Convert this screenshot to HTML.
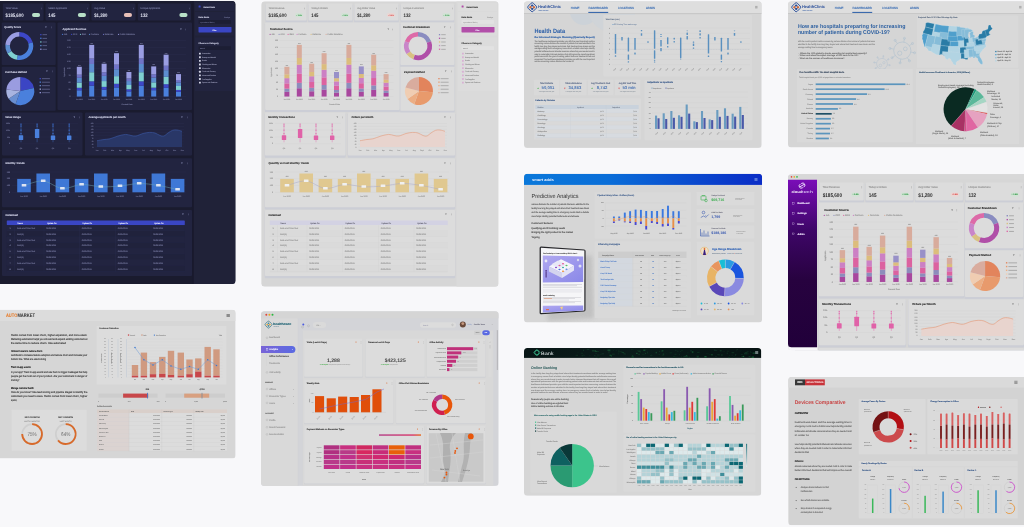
<!DOCTYPE html>
<html><head><meta charset="utf-8"><title>Dashboards</title>
<style>html,body{margin:0;padding:0;background:#f8f8fa;width:1024px;height:527px;overflow:hidden;position:relative}
svg{display:block;filter:blur(0.3px)}text{font-family:"Liberation Sans",sans-serif;text-rendering:geometricPrecision}</style></head><body>
<svg width="1032" height="535" viewBox="-4 -4 1032 535" style="position:absolute;left:-4px;top:-4px">
<rect x="-4" y="-4" width="1032" height="535" fill="#f8f8fa"/>
<clipPath id="cpd0"><rect x="-5" y="1" width="240.6" height="283" rx="3.5"/></clipPath>
<g transform="translate(0,0)" clip-path="url(#cpd0)">
<rect x="-5" y="1" width="240.6" height="283" fill="#1a1b2e" rx="3.5"/>
<rect x="2.8" y="3.6" width="40.8" height="16.8" fill="#222440" rx="1"/>
<text x="5.6" y="9.2" font-size="2.48" fill="#6e7196" stroke="#6e7196" stroke-width="0.12">Total Value</text>
<text x="5.6" y="16.9" font-size="5" fill="#e4e6f4" font-weight="bold" textLength="17.93" lengthAdjust="spacingAndGlyphs">$185,600</text>
<rect x="32" y="13" width="8.1" height="3.9" fill="#b8e0c8" rx="1.9"/>
<text x="40.6" y="9.2" font-size="2.5" fill="#6e7196" stroke="#6e7196" stroke-width="0.12">⋮</text>
<rect x="45.5" y="3.6" width="44" height="16.8" fill="#222440" rx="1"/>
<text x="48.3" y="9.2" font-size="2.48" fill="#6e7196" stroke="#6e7196" stroke-width="0.12">Select Applicants</text>
<text x="48.3" y="16.9" font-size="5" fill="#e4e6f4" font-weight="bold" textLength="7.17" lengthAdjust="spacingAndGlyphs">145</text>
<rect x="77.9" y="13" width="8.1" height="3.9" fill="#b8e0c8" rx="1.9"/>
<text x="86.5" y="9.2" font-size="2.5" fill="#6e7196" stroke="#6e7196" stroke-width="0.12">⋮</text>
<rect x="91.4" y="3.6" width="44.1" height="16.8" fill="#222440" rx="1"/>
<text x="94.2" y="9.2" font-size="2.48" fill="#6e7196" stroke="#6e7196" stroke-width="0.12">Avg Value</text>
<text x="94.2" y="16.9" font-size="5" fill="#e4e6f4" font-weight="bold" textLength="13.15" lengthAdjust="spacingAndGlyphs">$1,280</text>
<rect x="123.9" y="13" width="8.1" height="3.9" fill="#e8c0b8" rx="1.9"/>
<text x="132.5" y="9.2" font-size="2.5" fill="#6e7196" stroke="#6e7196" stroke-width="0.12">⋮</text>
<rect x="137.8" y="3.6" width="53.2" height="16.8" fill="#222440" rx="1"/>
<text x="140.6" y="9.2" font-size="2.48" fill="#6e7196" stroke="#6e7196" stroke-width="0.12">Unique Applicants</text>
<text x="140.6" y="16.9" font-size="5" fill="#e4e6f4" font-weight="bold" textLength="7.17" lengthAdjust="spacingAndGlyphs">132</text>
<rect x="179.4" y="13" width="8.1" height="3.9" fill="#b8e0c8" rx="1.9"/>
<text x="188" y="9.2" font-size="2.5" fill="#6e7196" stroke="#6e7196" stroke-width="0.12">⋮</text>
<rect x="1.7" y="22.4" width="54" height="42.6" fill="#222440" rx="1"/>
<text x="4.3" y="28" font-size="2.6" fill="#c9cbe0" stroke="#c9cbe0" stroke-width="0.13" font-weight="bold">Quality Score</text>
<text x="45" y="28" font-size="2.4" fill="#6e7196" stroke="#6e7196" stroke-width="0.12">⊽</text>
<text x="50.5" y="28" font-size="2.4" fill="#6e7196" stroke="#6e7196" stroke-width="0.12">⋮</text>
<path d="M19.3,32 A14,14 0 0 1 32.82,42.38 L28.38,43.57 A9.4,9.4 0 0 0 19.3,36.6 Z" fill="#3d47c8"/>
<path d="M32.82,42.38 A14,14 0 0 1 16.87,59.79 L17.67,55.26 A9.4,9.4 0 0 0 28.38,43.57 Z" fill="#4a80dc"/>
<path d="M16.87,59.79 A14,14 0 0 1 7.43,53.42 L11.33,50.98 A9.4,9.4 0 0 0 17.67,55.26 Z" fill="#7ecfd0"/>
<path d="M7.43,53.42 A14,14 0 0 1 5.35,44.78 L9.94,45.18 A9.4,9.4 0 0 0 11.33,50.98 Z" fill="#5c8ed0"/>
<path d="M5.35,44.78 A14,14 0 0 1 19.3,32 L19.3,36.6 A9.4,9.4 0 0 0 9.94,45.18 Z" fill="#9a9de2"/>
<rect x="40.2" y="34" width="1.3" height="1.3" fill="#3d47c8"/>
<rect x="42.5" y="34.25" width="4.5" height="0.9" fill="#5d6088"/>
<rect x="40.2" y="37.65" width="1.3" height="1.3" fill="#4a80dc"/>
<rect x="42.5" y="37.9" width="4.5" height="0.9" fill="#5d6088"/>
<rect x="40.2" y="41.3" width="1.3" height="1.3" fill="#7ecfd0"/>
<rect x="42.5" y="41.55" width="4.5" height="0.9" fill="#5d6088"/>
<rect x="40.2" y="44.95" width="1.3" height="1.3" fill="#5c8ed0"/>
<rect x="42.5" y="45.2" width="4.5" height="0.9" fill="#5d6088"/>
<rect x="40.2" y="48.6" width="1.3" height="1.3" fill="#9a9de2"/>
<rect x="42.5" y="48.85" width="4.5" height="0.9" fill="#5d6088"/>
<rect x="1.7" y="66.8" width="54" height="43.9" fill="#222440" rx="1"/>
<text x="5.3" y="72.5" font-size="2.6" fill="#c9cbe0" stroke="#c9cbe0" stroke-width="0.13" font-weight="bold">Purchase Method</text>
<text x="46" y="72.3" font-size="2.4" fill="#6e7196" stroke="#6e7196" stroke-width="0.12">⊽</text>
<text x="51.5" y="72.3" font-size="2.4" fill="#6e7196" stroke="#6e7196" stroke-width="0.12">⋮</text>
<path d="M20.3,91 L20.3,77 A14,14 0 0 1 33.99,88.09 Z" fill="#3b45c4"/>
<path d="M20.3,91 L33.99,88.09 A14,14 0 0 1 15.51,104.16 Z" fill="#4a80dc"/>
<path d="M20.3,91 L15.51,104.16 A14,14 0 0 1 8.69,98.83 Z" fill="#6a8fd0"/>
<path d="M20.3,91 L8.69,98.83 A14,14 0 0 1 6.38,89.54 Z" fill="#a8b4e0"/>
<path d="M20.3,91 L6.38,89.54 A14,14 0 0 1 20.3,77 Z" fill="#9a9ce0"/>
<rect x="39.6" y="78" width="1.3" height="1.3" fill="#3b45c4"/>
<rect x="41.9" y="78.25" width="8" height="0.9" fill="#5d6088"/>
<rect x="39.6" y="81.5" width="1.3" height="1.3" fill="#4a80dc"/>
<rect x="41.9" y="81.75" width="8" height="0.9" fill="#5d6088"/>
<rect x="39.6" y="85" width="1.3" height="1.3" fill="#6a8fd0"/>
<rect x="41.9" y="85.25" width="8" height="0.9" fill="#5d6088"/>
<rect x="39.6" y="88.5" width="1.3" height="1.3" fill="#a8b4e0"/>
<rect x="41.9" y="88.75" width="8" height="0.9" fill="#5d6088"/>
<rect x="39.6" y="92" width="1.3" height="1.3" fill="#9a9ce0"/>
<rect x="41.9" y="92.25" width="8" height="0.9" fill="#5d6088"/>
<rect x="57.5" y="22.4" width="134.5" height="87.5" fill="#222440" rx="1"/>
<text x="62.5" y="29.8" font-size="2.71" fill="#c9cbe0" stroke="#c9cbe0" stroke-width="0.14" font-weight="bold">Applicant Sources</text>
<circle cx="62.5" cy="34.3" r="0.6" fill="#4a80dc"/>
<text x="63.8" y="35" font-size="2.12" fill="#6e7196" stroke="#6e7196" stroke-width="0.11">Job</text>
<circle cx="71.5" cy="34.3" r="0.6" fill="#3d47c8"/>
<text x="72.8" y="35" font-size="2.12" fill="#6e7196" stroke="#6e7196" stroke-width="0.11">CPC</text>
<circle cx="80.5" cy="34.3" r="0.6" fill="#7ecfd0"/>
<text x="81.8" y="35" font-size="2.12" fill="#6e7196" stroke="#6e7196" stroke-width="0.11">SEO</text>
<circle cx="89.5" cy="34.3" r="0.6" fill="#5c8ed0"/>
<text x="90.8" y="35" font-size="2.12" fill="#6e7196" stroke="#6e7196" stroke-width="0.11">Partners</text>
<circle cx="103.5" cy="34.3" r="0.6" fill="#7074c8"/>
<text x="104.8" y="35" font-size="2.12" fill="#6e7196" stroke="#6e7196" stroke-width="0.11">Referrals</text>
<circle cx="118.5" cy="34.3" r="0.6" fill="#9a9de2"/>
<text x="119.8" y="35" font-size="2.12" fill="#6e7196" stroke="#6e7196" stroke-width="0.11">Public Relations</text>
<line x1="72" y1="96.5" x2="186" y2="96.5" stroke="#2c2f52" stroke-width="0.3"/>
<text x="70.5" y="97.1" font-size="1.89" fill="#6e7196" stroke="#6e7196" stroke-width="0.1" text-anchor="end">0</text>
<line x1="72" y1="89.5" x2="186" y2="89.5" stroke="#2c2f52" stroke-width="0.3"/>
<text x="70.5" y="90.1" font-size="1.89" fill="#6e7196" stroke="#6e7196" stroke-width="0.1" text-anchor="end">25</text>
<line x1="72" y1="82.5" x2="186" y2="82.5" stroke="#2c2f52" stroke-width="0.3"/>
<text x="70.5" y="83.1" font-size="1.89" fill="#6e7196" stroke="#6e7196" stroke-width="0.1" text-anchor="end">50</text>
<line x1="72" y1="75.5" x2="186" y2="75.5" stroke="#2c2f52" stroke-width="0.3"/>
<text x="70.5" y="76.1" font-size="1.89" fill="#6e7196" stroke="#6e7196" stroke-width="0.1" text-anchor="end">75</text>
<line x1="72" y1="68.5" x2="186" y2="68.5" stroke="#2c2f52" stroke-width="0.3"/>
<text x="70.5" y="69.1" font-size="1.89" fill="#6e7196" stroke="#6e7196" stroke-width="0.1" text-anchor="end">100</text>
<line x1="72" y1="61.5" x2="186" y2="61.5" stroke="#2c2f52" stroke-width="0.3"/>
<text x="70.5" y="62.1" font-size="1.89" fill="#6e7196" stroke="#6e7196" stroke-width="0.1" text-anchor="end">125</text>
<line x1="72" y1="54.5" x2="186" y2="54.5" stroke="#2c2f52" stroke-width="0.3"/>
<text x="70.5" y="55.1" font-size="1.89" fill="#6e7196" stroke="#6e7196" stroke-width="0.1" text-anchor="end">150</text>
<line x1="72" y1="47.5" x2="186" y2="47.5" stroke="#2c2f52" stroke-width="0.3"/>
<text x="70.5" y="48.1" font-size="1.89" fill="#6e7196" stroke="#6e7196" stroke-width="0.1" text-anchor="end">175</text>
<line x1="72" y1="40.5" x2="186" y2="40.5" stroke="#2c2f52" stroke-width="0.3"/>
<text x="70.5" y="41.1" font-size="1.89" fill="#6e7196" stroke="#6e7196" stroke-width="0.1" text-anchor="end">200</text>
<text x="64.5" y="72" font-size="2.01" fill="#6e7196" stroke="#6e7196" stroke-width="0.1" transform="rotate(-90 64.5 72)" text-anchor="middle">Applicants</text>
<rect x="76.8" y="90.26" width="5" height="6.29" fill="#4a80dc"/>
<rect x="76.8" y="87.74" width="5" height="2.57" fill="#3d47c8"/>
<rect x="76.8" y="82.51" width="5" height="5.28" fill="#7ecfd0"/>
<rect x="76.8" y="77.76" width="5" height="4.8" fill="#5c8ed0"/>
<rect x="76.8" y="74.64" width="5" height="3.17" fill="#7074c8"/>
<rect x="76.8" y="66.8" width="5" height="7.89" fill="#9a9de2"/>
<text x="79.3" y="65.6" font-size="1.53" fill="#6e7196" stroke="#6e7196" stroke-width="0.08" text-anchor="middle">###</text>
<text x="79.3" y="99.8" font-size="1.65" fill="#6e7196" stroke="#6e7196" stroke-width="0.08" text-anchor="middle">Jun 2023</text>
<rect x="89.2" y="85.66" width="5" height="10.89" fill="#4a80dc"/>
<rect x="89.2" y="81.28" width="5" height="4.44" fill="#3d47c8"/>
<rect x="89.2" y="72.2" width="5" height="9.13" fill="#7ecfd0"/>
<rect x="89.2" y="63.94" width="5" height="8.31" fill="#5c8ed0"/>
<rect x="89.2" y="58.52" width="5" height="5.47" fill="#7074c8"/>
<rect x="89.2" y="44.9" width="5" height="13.67" fill="#9a9de2"/>
<text x="91.7" y="43.7" font-size="1.53" fill="#6e7196" stroke="#6e7196" stroke-width="0.08" text-anchor="middle">###</text>
<text x="91.7" y="99.8" font-size="1.65" fill="#6e7196" stroke="#6e7196" stroke-width="0.08" text-anchor="middle">Jun 2023</text>
<rect x="101.6" y="89.61" width="5" height="6.94" fill="#4a80dc"/>
<rect x="101.6" y="86.82" width="5" height="2.84" fill="#3d47c8"/>
<rect x="101.6" y="81.05" width="5" height="5.82" fill="#7ecfd0"/>
<rect x="101.6" y="75.8" width="5" height="5.3" fill="#5c8ed0"/>
<rect x="101.6" y="72.36" width="5" height="3.49" fill="#7074c8"/>
<rect x="101.6" y="63.7" width="5" height="8.71" fill="#9a9de2"/>
<text x="104.1" y="62.5" font-size="1.53" fill="#6e7196" stroke="#6e7196" stroke-width="0.08" text-anchor="middle">###</text>
<text x="104.1" y="99.8" font-size="1.65" fill="#6e7196" stroke="#6e7196" stroke-width="0.08" text-anchor="middle">Jun 2023</text>
<rect x="114" y="87.41" width="5" height="9.14" fill="#4a80dc"/>
<rect x="114" y="83.73" width="5" height="3.73" fill="#3d47c8"/>
<rect x="114" y="76.11" width="5" height="7.67" fill="#7ecfd0"/>
<rect x="114" y="69.18" width="5" height="6.98" fill="#5c8ed0"/>
<rect x="114" y="64.63" width="5" height="4.6" fill="#7074c8"/>
<rect x="114" y="53.2" width="5" height="11.48" fill="#9a9de2"/>
<text x="116.5" y="52" font-size="1.53" fill="#6e7196" stroke="#6e7196" stroke-width="0.08" text-anchor="middle">###</text>
<text x="116.5" y="99.8" font-size="1.65" fill="#6e7196" stroke="#6e7196" stroke-width="0.08" text-anchor="middle">Jun 2023</text>
<rect x="126.4" y="91.36" width="5" height="5.19" fill="#4a80dc"/>
<rect x="126.4" y="89.27" width="5" height="2.13" fill="#3d47c8"/>
<rect x="126.4" y="84.96" width="5" height="4.36" fill="#7ecfd0"/>
<rect x="126.4" y="81.04" width="5" height="3.97" fill="#5c8ed0"/>
<rect x="126.4" y="78.47" width="5" height="2.62" fill="#7074c8"/>
<rect x="126.4" y="72" width="5" height="6.52" fill="#9a9de2"/>
<text x="128.9" y="70.8" font-size="1.53" fill="#6e7196" stroke="#6e7196" stroke-width="0.08" text-anchor="middle">###</text>
<text x="128.9" y="99.8" font-size="1.65" fill="#6e7196" stroke="#6e7196" stroke-width="0.08" text-anchor="middle">Jun 2023</text>
<rect x="138.8" y="85.66" width="5" height="10.89" fill="#4a80dc"/>
<rect x="138.8" y="81.28" width="5" height="4.44" fill="#3d47c8"/>
<rect x="138.8" y="72.2" width="5" height="9.13" fill="#7ecfd0"/>
<rect x="138.8" y="63.94" width="5" height="8.31" fill="#5c8ed0"/>
<rect x="138.8" y="58.52" width="5" height="5.47" fill="#7074c8"/>
<rect x="138.8" y="44.9" width="5" height="13.67" fill="#9a9de2"/>
<text x="141.3" y="43.7" font-size="1.53" fill="#6e7196" stroke="#6e7196" stroke-width="0.08" text-anchor="middle">###</text>
<text x="141.3" y="99.8" font-size="1.65" fill="#6e7196" stroke="#6e7196" stroke-width="0.08" text-anchor="middle">Jun 2023</text>
<rect x="151.2" y="90.18" width="5" height="6.37" fill="#4a80dc"/>
<rect x="151.2" y="87.62" width="5" height="2.61" fill="#3d47c8"/>
<rect x="151.2" y="82.32" width="5" height="5.35" fill="#7ecfd0"/>
<rect x="151.2" y="77.51" width="5" height="4.87" fill="#5c8ed0"/>
<rect x="151.2" y="74.35" width="5" height="3.21" fill="#7074c8"/>
<rect x="151.2" y="66.4" width="5" height="8" fill="#9a9de2"/>
<text x="153.7" y="65.2" font-size="1.53" fill="#6e7196" stroke="#6e7196" stroke-width="0.08" text-anchor="middle">###</text>
<text x="153.7" y="99.8" font-size="1.65" fill="#6e7196" stroke="#6e7196" stroke-width="0.08" text-anchor="middle">Jun 2023</text>
<rect x="163.6" y="87.72" width="5" height="8.83" fill="#4a80dc"/>
<rect x="163.6" y="84.17" width="5" height="3.6" fill="#3d47c8"/>
<rect x="163.6" y="76.81" width="5" height="7.41" fill="#7ecfd0"/>
<rect x="163.6" y="70.12" width="5" height="6.74" fill="#5c8ed0"/>
<rect x="163.6" y="65.74" width="5" height="4.44" fill="#7074c8"/>
<rect x="163.6" y="54.7" width="5" height="11.09" fill="#9a9de2"/>
<text x="166.1" y="53.5" font-size="1.53" fill="#6e7196" stroke="#6e7196" stroke-width="0.08" text-anchor="middle">###</text>
<text x="166.1" y="99.8" font-size="1.65" fill="#6e7196" stroke="#6e7196" stroke-width="0.08" text-anchor="middle">Jun 2023</text>
<rect x="176" y="91.8" width="5" height="4.75" fill="#4a80dc"/>
<rect x="176" y="89.89" width="5" height="1.95" fill="#3d47c8"/>
<rect x="176" y="85.95" width="5" height="3.99" fill="#7ecfd0"/>
<rect x="176" y="82.37" width="5" height="3.63" fill="#5c8ed0"/>
<rect x="176" y="80.01" width="5" height="2.4" fill="#7074c8"/>
<rect x="176" y="74.1" width="5" height="5.96" fill="#9a9de2"/>
<text x="178.5" y="72.9" font-size="1.53" fill="#6e7196" stroke="#6e7196" stroke-width="0.08" text-anchor="middle">###</text>
<text x="178.5" y="99.8" font-size="1.65" fill="#6e7196" stroke="#6e7196" stroke-width="0.08" text-anchor="middle">Jun 2023</text>
<text x="127" y="104.5" font-size="1.89" fill="#6e7196" stroke="#6e7196" stroke-width="0.1" text-anchor="middle">Created Date</text>
<text x="184" y="29.8" font-size="2.5" fill="#6e7196" stroke="#6e7196" stroke-width="0.12">⋮</text>
<text x="180" y="29.8" font-size="2.4" fill="#6e7196" stroke="#6e7196" stroke-width="0.12">⊽</text>
<rect x="2" y="112.6" width="80.5" height="43" fill="#222440" rx="1"/>
<text x="5.2" y="118" font-size="2.6" fill="#c9cbe0" stroke="#c9cbe0" stroke-width="0.13" font-weight="bold">Value Range</text>
<text x="73.5" y="118" font-size="2.4" fill="#6e7196" stroke="#6e7196" stroke-width="0.12">⊽</text>
<text x="78.5" y="118" font-size="2.4" fill="#6e7196" stroke="#6e7196" stroke-width="0.12">⋮</text>
<line x1="12" y1="143.8" x2="78" y2="143.8" stroke="#2c2f52" stroke-width="0.3"/>
<text x="10" y="144.4" font-size="1.89" fill="#6e7196" stroke="#6e7196" stroke-width="0.1" text-anchor="end">0</text>
<line x1="12" y1="137" x2="78" y2="137" stroke="#2c2f52" stroke-width="0.3"/>
<text x="10" y="137.6" font-size="1.89" fill="#6e7196" stroke="#6e7196" stroke-width="0.1" text-anchor="end">5%</text>
<line x1="12" y1="130" x2="78" y2="130" stroke="#2c2f52" stroke-width="0.3"/>
<text x="10" y="130.6" font-size="1.89" fill="#6e7196" stroke="#6e7196" stroke-width="0.1" text-anchor="end">10%</text>
<line x1="12" y1="123.3" x2="78" y2="123.3" stroke="#2c2f52" stroke-width="0.3"/>
<text x="10" y="123.9" font-size="1.89" fill="#6e7196" stroke="#6e7196" stroke-width="0.1" text-anchor="end">15%</text>
<line x1="21" y1="124" x2="21" y2="142.3" stroke="#4a80dc" stroke-width="0.4"/>
<rect x="20.4" y="123.5" width="1.2" height="1.2" fill="#3a68c0"/>
<rect x="20.4" y="125.5" width="1.2" height="1.2" fill="#3a68c0"/>
<rect x="20.4" y="129.6" width="1.2" height="1.2" fill="#3a68c0"/>
<rect x="20.4" y="133" width="1.2" height="1.2" fill="#3a68c0"/>
<rect x="18.8" y="135.2" width="4.4" height="4.8" fill="#4a80dc" rx="0.5"/>
<text x="21" y="148.6" font-size="1.89" fill="#6e7196" stroke="#6e7196" stroke-width="0.1" text-anchor="middle">Q1</text>
<line x1="37.1" y1="124" x2="37.1" y2="142.3" stroke="#4a80dc" stroke-width="0.4"/>
<rect x="36.5" y="123.5" width="1.2" height="1.2" fill="#3a68c0"/>
<rect x="36.5" y="125.5" width="1.2" height="1.2" fill="#3a68c0"/>
<rect x="36.5" y="129.6" width="1.2" height="1.2" fill="#3a68c0"/>
<rect x="36.5" y="133" width="1.2" height="1.2" fill="#3a68c0"/>
<rect x="34.9" y="129" width="4.4" height="9" fill="#4a80dc" rx="0.5"/>
<text x="37.1" y="148.6" font-size="1.89" fill="#6e7196" stroke="#6e7196" stroke-width="0.1" text-anchor="middle">Q1</text>
<line x1="53" y1="124" x2="53" y2="142.3" stroke="#4a80dc" stroke-width="0.4"/>
<rect x="52.4" y="123.5" width="1.2" height="1.2" fill="#3a68c0"/>
<rect x="52.4" y="125.5" width="1.2" height="1.2" fill="#3a68c0"/>
<rect x="52.4" y="129.6" width="1.2" height="1.2" fill="#3a68c0"/>
<rect x="52.4" y="133" width="1.2" height="1.2" fill="#3a68c0"/>
<rect x="50.8" y="135.4" width="4.4" height="4.6" fill="#4a80dc" rx="0.5"/>
<text x="53" y="148.6" font-size="1.89" fill="#6e7196" stroke="#6e7196" stroke-width="0.1" text-anchor="middle">Q1</text>
<line x1="69.2" y1="124" x2="69.2" y2="142.3" stroke="#4a80dc" stroke-width="0.4"/>
<rect x="68.6" y="123.5" width="1.2" height="1.2" fill="#3a68c0"/>
<rect x="68.6" y="125.5" width="1.2" height="1.2" fill="#3a68c0"/>
<rect x="68.6" y="129.6" width="1.2" height="1.2" fill="#3a68c0"/>
<rect x="68.6" y="133" width="1.2" height="1.2" fill="#3a68c0"/>
<rect x="67" y="135.4" width="4.4" height="4.6" fill="#4a80dc" rx="0.5"/>
<text x="69.2" y="148.6" font-size="1.89" fill="#6e7196" stroke="#6e7196" stroke-width="0.1" text-anchor="middle">Q1</text>
<rect x="85" y="112.6" width="107" height="43" fill="#222440" rx="1"/>
<text x="88.5" y="118" font-size="2.6" fill="#c9cbe0" stroke="#c9cbe0" stroke-width="0.13" font-weight="bold">Average applicants per month</text>
<text x="181" y="118" font-size="2.4" fill="#6e7196" stroke="#6e7196" stroke-width="0.12">⊽</text>
<text x="186" y="118" font-size="2.4" fill="#6e7196" stroke="#6e7196" stroke-width="0.12">⋮</text>
<line x1="95" y1="147" x2="184" y2="147" stroke="#2c2f52" stroke-width="0.3"/>
<text x="93.5" y="147.5" font-size="1.65" fill="#6e7196" stroke="#6e7196" stroke-width="0.08" text-anchor="end">0</text>
<line x1="95" y1="144.06" x2="184" y2="144.06" stroke="#2c2f52" stroke-width="0.3"/>
<text x="93.5" y="144.56" font-size="1.65" fill="#6e7196" stroke="#6e7196" stroke-width="0.08" text-anchor="end">25</text>
<line x1="95" y1="141.12" x2="184" y2="141.12" stroke="#2c2f52" stroke-width="0.3"/>
<text x="93.5" y="141.62" font-size="1.65" fill="#6e7196" stroke="#6e7196" stroke-width="0.08" text-anchor="end">50</text>
<line x1="95" y1="138.19" x2="184" y2="138.19" stroke="#2c2f52" stroke-width="0.3"/>
<text x="93.5" y="138.69" font-size="1.65" fill="#6e7196" stroke="#6e7196" stroke-width="0.08" text-anchor="end">75</text>
<line x1="95" y1="135.25" x2="184" y2="135.25" stroke="#2c2f52" stroke-width="0.3"/>
<text x="93.5" y="135.75" font-size="1.65" fill="#6e7196" stroke="#6e7196" stroke-width="0.08" text-anchor="end">100</text>
<line x1="95" y1="132.31" x2="184" y2="132.31" stroke="#2c2f52" stroke-width="0.3"/>
<text x="93.5" y="132.81" font-size="1.65" fill="#6e7196" stroke="#6e7196" stroke-width="0.08" text-anchor="end">125</text>
<line x1="95" y1="129.38" x2="184" y2="129.38" stroke="#2c2f52" stroke-width="0.3"/>
<text x="93.5" y="129.88" font-size="1.65" fill="#6e7196" stroke="#6e7196" stroke-width="0.08" text-anchor="end">150</text>
<line x1="95" y1="126.44" x2="184" y2="126.44" stroke="#2c2f52" stroke-width="0.3"/>
<text x="93.5" y="126.94" font-size="1.65" fill="#6e7196" stroke="#6e7196" stroke-width="0.08" text-anchor="end">175</text>
<line x1="95" y1="123.5" x2="184" y2="123.5" stroke="#2c2f52" stroke-width="0.3"/>
<text x="93.5" y="124" font-size="1.65" fill="#6e7196" stroke="#6e7196" stroke-width="0.08" text-anchor="end">200</text>
<path d="M97,140.7 C98.17,140.5 101.83,139.82 104,139.5 C106.17,139.18 107.67,139.38 110,138.8 C112.33,138.22 115.38,136.73 118,136 C120.62,135.27 123.53,134.48 125.7,134.4 C127.87,134.32 129.28,135.23 131,135.5 C132.72,135.77 134,136.33 136,136 C138,135.67 140.72,134.1 143,133.5 C145.28,132.9 147.7,132.48 149.7,132.4 C151.7,132.32 153.28,132.48 155,133 C156.72,133.52 158.52,135 160,135.5 C161.48,136 162.57,136.42 163.9,136 C165.23,135.58 166.55,133.95 168,133 C169.45,132.05 171.1,130.8 172.6,130.3 C174.1,129.8 175.43,129.83 177,130 C178.57,130.17 181.17,131.08 182,131.3 L182,147 L97,147 Z" fill="#293767"/>
<path d="M97,140.7 C98.17,140.5 101.83,139.82 104,139.5 C106.17,139.18 107.67,139.38 110,138.8 C112.33,138.22 115.38,136.73 118,136 C120.62,135.27 123.53,134.48 125.7,134.4 C127.87,134.32 129.28,135.23 131,135.5 C132.72,135.77 134,136.33 136,136 C138,135.67 140.72,134.1 143,133.5 C145.28,132.9 147.7,132.48 149.7,132.4 C151.7,132.32 153.28,132.48 155,133 C156.72,133.52 158.52,135 160,135.5 C161.48,136 162.57,136.42 163.9,136 C165.23,135.58 166.55,133.95 168,133 C169.45,132.05 171.1,130.8 172.6,130.3 C174.1,129.8 175.43,129.83 177,130 C178.57,130.17 181.17,131.08 182,131.3" fill="none" stroke="#3c5aa8" stroke-width="0.6"/>
<text x="97" y="150.6" font-size="1.77" fill="#6e7196" stroke="#6e7196" stroke-width="0.09" text-anchor="middle">Jan</text>
<text x="104.75" y="150.6" font-size="1.77" fill="#6e7196" stroke="#6e7196" stroke-width="0.09" text-anchor="middle">Feb</text>
<text x="112.5" y="150.6" font-size="1.77" fill="#6e7196" stroke="#6e7196" stroke-width="0.09" text-anchor="middle">Mar</text>
<text x="120.25" y="150.6" font-size="1.77" fill="#6e7196" stroke="#6e7196" stroke-width="0.09" text-anchor="middle">Apr</text>
<text x="128" y="150.6" font-size="1.77" fill="#6e7196" stroke="#6e7196" stroke-width="0.09" text-anchor="middle">May</text>
<text x="135.75" y="150.6" font-size="1.77" fill="#6e7196" stroke="#6e7196" stroke-width="0.09" text-anchor="middle">Jun</text>
<text x="143.5" y="150.6" font-size="1.77" fill="#6e7196" stroke="#6e7196" stroke-width="0.09" text-anchor="middle">Jul</text>
<text x="151.25" y="150.6" font-size="1.77" fill="#6e7196" stroke="#6e7196" stroke-width="0.09" text-anchor="middle">Aug</text>
<text x="159" y="150.6" font-size="1.77" fill="#6e7196" stroke="#6e7196" stroke-width="0.09" text-anchor="middle">Sept</text>
<text x="166.75" y="150.6" font-size="1.77" fill="#6e7196" stroke="#6e7196" stroke-width="0.09" text-anchor="middle">Oct</text>
<text x="174.5" y="150.6" font-size="1.77" fill="#6e7196" stroke="#6e7196" stroke-width="0.09" text-anchor="middle">Nov</text>
<text x="182.25" y="150.6" font-size="1.77" fill="#6e7196" stroke="#6e7196" stroke-width="0.09" text-anchor="middle">Dec</text>
<rect x="2" y="158.2" width="190" height="49" fill="#222440" rx="1"/>
<text x="5.5" y="164" font-size="2.6" fill="#c9cbe0" stroke="#c9cbe0" stroke-width="0.13" font-weight="bold">Monthly Trends</text>
<text x="181" y="163.5" font-size="2.4" fill="#6e7196" stroke="#6e7196" stroke-width="0.12">⊽</text>
<text x="186" y="163.5" font-size="2.4" fill="#6e7196" stroke="#6e7196" stroke-width="0.12">⋮</text>
<line x1="12" y1="192.3" x2="186" y2="192.3" stroke="#2c2f52" stroke-width="0.3"/>
<text x="10" y="192.9" font-size="1.89" fill="#6e7196" stroke="#6e7196" stroke-width="0.1" text-anchor="end">0</text>
<line x1="12" y1="185.5" x2="186" y2="185.5" stroke="#2c2f52" stroke-width="0.3"/>
<text x="10" y="186.1" font-size="1.89" fill="#6e7196" stroke="#6e7196" stroke-width="0.1" text-anchor="end">100</text>
<line x1="12" y1="178.8" x2="186" y2="178.8" stroke="#2c2f52" stroke-width="0.3"/>
<text x="10" y="179.4" font-size="1.89" fill="#6e7196" stroke="#6e7196" stroke-width="0.1" text-anchor="end">200</text>
<line x1="12" y1="172" x2="186" y2="172" stroke="#2c2f52" stroke-width="0.3"/>
<text x="10" y="172.6" font-size="1.89" fill="#6e7196" stroke="#6e7196" stroke-width="0.1" text-anchor="end">300</text>
<rect x="17.2" y="178.9" width="13.6" height="13.4" fill="#3f78d6"/>
<text x="24" y="196.8" font-size="1.77" fill="#6e7196" stroke="#6e7196" stroke-width="0.09" text-anchor="middle">Jan 2023</text>
<rect x="36.4" y="173.5" width="13.6" height="18.8" fill="#3f78d6"/>
<text x="43.2" y="196.8" font-size="1.77" fill="#6e7196" stroke="#6e7196" stroke-width="0.09" text-anchor="middle">Jan 2023</text>
<rect x="55.6" y="178.9" width="13.6" height="13.4" fill="#3f78d6"/>
<text x="62.4" y="196.8" font-size="1.77" fill="#6e7196" stroke="#6e7196" stroke-width="0.09" text-anchor="middle">Jan 2023</text>
<rect x="74.8" y="178.9" width="13.6" height="13.4" fill="#3f78d6"/>
<text x="81.6" y="196.8" font-size="1.77" fill="#6e7196" stroke="#6e7196" stroke-width="0.09" text-anchor="middle">Jan 2023</text>
<rect x="94" y="173.5" width="13.6" height="18.8" fill="#3f78d6"/>
<text x="100.8" y="196.8" font-size="1.77" fill="#6e7196" stroke="#6e7196" stroke-width="0.09" text-anchor="middle">Jan 2023</text>
<rect x="113.2" y="178.9" width="13.6" height="13.4" fill="#3f78d6"/>
<text x="120" y="196.8" font-size="1.77" fill="#6e7196" stroke="#6e7196" stroke-width="0.09" text-anchor="middle">Jan 2023</text>
<rect x="132.4" y="178.9" width="13.6" height="13.4" fill="#3f78d6"/>
<text x="139.2" y="196.8" font-size="1.77" fill="#6e7196" stroke="#6e7196" stroke-width="0.09" text-anchor="middle">Jan 2023</text>
<rect x="151.6" y="173.5" width="13.6" height="18.8" fill="#3f78d6"/>
<text x="158.4" y="196.8" font-size="1.77" fill="#6e7196" stroke="#6e7196" stroke-width="0.09" text-anchor="middle">Jan 2023</text>
<rect x="170.8" y="178.9" width="13.6" height="13.4" fill="#3f78d6"/>
<text x="177.6" y="196.8" font-size="1.77" fill="#6e7196" stroke="#6e7196" stroke-width="0.09" text-anchor="middle">Jan 2023</text>
<path d="M24,185.5 C27.2,184.75 36.8,180.5 43.2,181 C49.6,181.5 56,187.92 62.4,188.5 C68.8,189.08 75.2,184.78 81.6,184.5 C88,184.22 94.4,186.55 100.8,186.8 C107.2,187.05 113.6,186.55 120,186 C126.4,185.45 132.8,183.58 139.2,183.5 C145.6,183.42 152,184.5 158.4,185.5 C164.8,186.5 174.4,188.83 177.6,189.5" fill="none" stroke="#6aa4b4" stroke-width="0.5"/>
<rect x="21.7" y="183.9" width="4.6" height="2.6" fill="#dde4f2" rx="0.3"/>
<rect x="40.9" y="179.4" width="4.6" height="2.6" fill="#dde4f2" rx="0.3"/>
<rect x="60.1" y="186.9" width="4.6" height="2.6" fill="#dde4f2" rx="0.3"/>
<rect x="79.3" y="182.9" width="4.6" height="2.6" fill="#dde4f2" rx="0.3"/>
<rect x="98.5" y="185.2" width="4.6" height="2.6" fill="#dde4f2" rx="0.3"/>
<rect x="117.7" y="184.4" width="4.6" height="2.6" fill="#dde4f2" rx="0.3"/>
<rect x="136.9" y="181.9" width="4.6" height="2.6" fill="#dde4f2" rx="0.3"/>
<rect x="156.1" y="183.9" width="4.6" height="2.6" fill="#dde4f2" rx="0.3"/>
<rect x="175.3" y="187.9" width="4.6" height="2.6" fill="#dde4f2" rx="0.3"/>
<rect x="2" y="210" width="190" height="66" fill="#222440" rx="1"/>
<text x="5.5" y="215.6" font-size="2.6" fill="#c9cbe0" stroke="#c9cbe0" stroke-width="0.13" font-weight="bold">Datasheet</text>
<text x="182" y="215" font-size="2.4" fill="#6e7196" stroke="#6e7196" stroke-width="0.12">⊽</text>
<text x="187.5" y="215" font-size="2.4" fill="#6e7196" stroke="#6e7196" stroke-width="0.12">⋮</text>
<rect x="6.8" y="220.4" width="178" height="4.8" fill="#3a46c4" rx="0.6"/>
<text x="9.8" y="223.6" font-size="2.01" fill="#dfe3ff" stroke="#dfe3ff" stroke-width="0.1"></text>
<text x="17.5" y="223.6" font-size="2.01" fill="#dfe3ff" stroke="#dfe3ff" stroke-width="0.1">Name</text>
<text x="47" y="223.6" font-size="2.01" fill="#dfe3ff" stroke="#dfe3ff" stroke-width="0.1">Update On</text>
<text x="82.5" y="223.6" font-size="2.01" fill="#dfe3ff" stroke="#dfe3ff" stroke-width="0.1">Update On</text>
<text x="118.5" y="223.6" font-size="2.01" fill="#dfe3ff" stroke="#dfe3ff" stroke-width="0.1">Update On</text>
<text x="154" y="223.6" font-size="2.01" fill="#dfe3ff" stroke="#dfe3ff" stroke-width="0.1">Update On</text>
<rect x="6.8" y="225.2" width="178" height="5.8" fill="#222440"/>
<line x1="6.8" y1="231" x2="184.8" y2="231" stroke="#2e3154" stroke-width="0.25"/>
<text x="10.2" y="228.9" font-size="2.12" fill="#6e7196" stroke="#6e7196" stroke-width="0.11" text-anchor="middle">1</text>
<text x="17" y="228.9" font-size="2.12" fill="#6e7196" stroke="#6e7196" stroke-width="0.11">Date and Time Test</text>
<text x="46.2" y="228.9" font-size="2.01" fill="#6e7196" stroke="#6e7196" stroke-width="0.1">05/05/2023</text>
<text x="81.7" y="228.9" font-size="2.01" fill="#6e7196" stroke="#6e7196" stroke-width="0.1">05/05/2023</text>
<text x="117.7" y="228.9" font-size="2.01" fill="#6e7196" stroke="#6e7196" stroke-width="0.1">05/05/2023</text>
<text x="153.2" y="228.9" font-size="2.01" fill="#6e7196" stroke="#6e7196" stroke-width="0.1">05/05/2023</text>
<rect x="6.8" y="231" width="178" height="5.8" fill="#20223c"/>
<line x1="6.8" y1="236.8" x2="184.8" y2="236.8" stroke="#2e3154" stroke-width="0.25"/>
<text x="10.2" y="234.7" font-size="2.12" fill="#6e7196" stroke="#6e7196" stroke-width="0.11" text-anchor="middle">2</text>
<text x="17" y="234.7" font-size="2.12" fill="#6e7196" stroke="#6e7196" stroke-width="0.11">NaN(0)</text>
<text x="46.2" y="234.7" font-size="2.01" fill="#6e7196" stroke="#6e7196" stroke-width="0.1">05/05/2023</text>
<text x="81.7" y="234.7" font-size="2.01" fill="#6e7196" stroke="#6e7196" stroke-width="0.1">05/05/2023</text>
<text x="117.7" y="234.7" font-size="2.01" fill="#6e7196" stroke="#6e7196" stroke-width="0.1">05/05/2023</text>
<text x="153.2" y="234.7" font-size="2.01" fill="#6e7196" stroke="#6e7196" stroke-width="0.1">05/05/2023</text>
<rect x="6.8" y="236.8" width="178" height="5.8" fill="#222440"/>
<line x1="6.8" y1="242.6" x2="184.8" y2="242.6" stroke="#2e3154" stroke-width="0.25"/>
<text x="10.2" y="240.5" font-size="2.12" fill="#6e7196" stroke="#6e7196" stroke-width="0.11" text-anchor="middle">3</text>
<text x="17" y="240.5" font-size="2.12" fill="#6e7196" stroke="#6e7196" stroke-width="0.11">Date and Time Test</text>
<text x="46.2" y="240.5" font-size="2.01" fill="#6e7196" stroke="#6e7196" stroke-width="0.1">05/05/2023</text>
<text x="81.7" y="240.5" font-size="2.01" fill="#6e7196" stroke="#6e7196" stroke-width="0.1">05/05/2023</text>
<text x="117.7" y="240.5" font-size="2.01" fill="#6e7196" stroke="#6e7196" stroke-width="0.1">05/05/2023</text>
<text x="153.2" y="240.5" font-size="2.01" fill="#6e7196" stroke="#6e7196" stroke-width="0.1">05/05/2023</text>
<rect x="6.8" y="242.6" width="178" height="5.8" fill="#20223c"/>
<line x1="6.8" y1="248.4" x2="184.8" y2="248.4" stroke="#2e3154" stroke-width="0.25"/>
<text x="10.2" y="246.3" font-size="2.12" fill="#6e7196" stroke="#6e7196" stroke-width="0.11" text-anchor="middle">4</text>
<text x="17" y="246.3" font-size="2.12" fill="#6e7196" stroke="#6e7196" stroke-width="0.11">NaN(0)</text>
<text x="46.2" y="246.3" font-size="2.01" fill="#6e7196" stroke="#6e7196" stroke-width="0.1">05/05/2023</text>
<text x="81.7" y="246.3" font-size="2.01" fill="#6e7196" stroke="#6e7196" stroke-width="0.1">05/05/2023</text>
<text x="117.7" y="246.3" font-size="2.01" fill="#6e7196" stroke="#6e7196" stroke-width="0.1">05/05/2023</text>
<text x="153.2" y="246.3" font-size="2.01" fill="#6e7196" stroke="#6e7196" stroke-width="0.1">05/05/2023</text>
<rect x="6.8" y="248.4" width="178" height="5.8" fill="#222440"/>
<line x1="6.8" y1="254.2" x2="184.8" y2="254.2" stroke="#2e3154" stroke-width="0.25"/>
<text x="10.2" y="252.1" font-size="2.12" fill="#6e7196" stroke="#6e7196" stroke-width="0.11" text-anchor="middle">5</text>
<text x="17" y="252.1" font-size="2.12" fill="#6e7196" stroke="#6e7196" stroke-width="0.11">Date and Time Test</text>
<text x="46.2" y="252.1" font-size="2.01" fill="#6e7196" stroke="#6e7196" stroke-width="0.1">05/05/2023</text>
<text x="81.7" y="252.1" font-size="2.01" fill="#6e7196" stroke="#6e7196" stroke-width="0.1">05/05/2023</text>
<text x="117.7" y="252.1" font-size="2.01" fill="#6e7196" stroke="#6e7196" stroke-width="0.1">05/05/2023</text>
<text x="153.2" y="252.1" font-size="2.01" fill="#6e7196" stroke="#6e7196" stroke-width="0.1">05/05/2023</text>
<rect x="6.8" y="254.2" width="178" height="5.8" fill="#20223c"/>
<line x1="6.8" y1="260" x2="184.8" y2="260" stroke="#2e3154" stroke-width="0.25"/>
<text x="10.2" y="257.9" font-size="2.12" fill="#6e7196" stroke="#6e7196" stroke-width="0.11" text-anchor="middle">6</text>
<text x="17" y="257.9" font-size="2.12" fill="#6e7196" stroke="#6e7196" stroke-width="0.11">NaN(0)</text>
<text x="46.2" y="257.9" font-size="2.01" fill="#6e7196" stroke="#6e7196" stroke-width="0.1">05/05/2023</text>
<text x="81.7" y="257.9" font-size="2.01" fill="#6e7196" stroke="#6e7196" stroke-width="0.1">05/05/2023</text>
<text x="117.7" y="257.9" font-size="2.01" fill="#6e7196" stroke="#6e7196" stroke-width="0.1">05/05/2023</text>
<text x="153.2" y="257.9" font-size="2.01" fill="#6e7196" stroke="#6e7196" stroke-width="0.1">05/05/2023</text>
<rect x="6.8" y="260" width="178" height="5.8" fill="#222440"/>
<line x1="6.8" y1="265.8" x2="184.8" y2="265.8" stroke="#2e3154" stroke-width="0.25"/>
<text x="10.2" y="263.7" font-size="2.12" fill="#6e7196" stroke="#6e7196" stroke-width="0.11" text-anchor="middle">7</text>
<text x="17" y="263.7" font-size="2.12" fill="#6e7196" stroke="#6e7196" stroke-width="0.11">Date and Time Test</text>
<text x="46.2" y="263.7" font-size="2.01" fill="#6e7196" stroke="#6e7196" stroke-width="0.1">05/05/2023</text>
<text x="81.7" y="263.7" font-size="2.01" fill="#6e7196" stroke="#6e7196" stroke-width="0.1">05/05/2023</text>
<text x="117.7" y="263.7" font-size="2.01" fill="#6e7196" stroke="#6e7196" stroke-width="0.1">05/05/2023</text>
<text x="153.2" y="263.7" font-size="2.01" fill="#6e7196" stroke="#6e7196" stroke-width="0.1">05/05/2023</text>
<rect x="6.8" y="265.8" width="178" height="5.8" fill="#20223c"/>
<line x1="6.8" y1="271.6" x2="184.8" y2="271.6" stroke="#2e3154" stroke-width="0.25"/>
<text x="10.2" y="269.5" font-size="2.12" fill="#6e7196" stroke="#6e7196" stroke-width="0.11" text-anchor="middle">8</text>
<text x="17" y="269.5" font-size="2.12" fill="#6e7196" stroke="#6e7196" stroke-width="0.11">NaN(0)</text>
<text x="46.2" y="269.5" font-size="2.01" fill="#6e7196" stroke="#6e7196" stroke-width="0.1">05/05/2023</text>
<text x="81.7" y="269.5" font-size="2.01" fill="#6e7196" stroke="#6e7196" stroke-width="0.1">05/05/2023</text>
<text x="117.7" y="269.5" font-size="2.01" fill="#6e7196" stroke="#6e7196" stroke-width="0.1">05/05/2023</text>
<text x="153.2" y="269.5" font-size="2.01" fill="#6e7196" stroke="#6e7196" stroke-width="0.1">05/05/2023</text>
<line x1="14.5" y1="225.2" x2="14.5" y2="271.6" stroke="#2e3154" stroke-width="0.25"/>
<line x1="44" y1="225.2" x2="44" y2="271.6" stroke="#2e3154" stroke-width="0.25"/>
<line x1="79.5" y1="225.2" x2="79.5" y2="271.6" stroke="#2e3154" stroke-width="0.25"/>
<line x1="115.5" y1="225.2" x2="115.5" y2="271.6" stroke="#2e3154" stroke-width="0.25"/>
<line x1="151" y1="225.2" x2="151" y2="271.6" stroke="#2e3154" stroke-width="0.25"/>
<rect x="193.5" y="1" width="42" height="283" fill="#202238"/>
<line x1="193.3" y1="1" x2="193.3" y2="284" stroke="#17182a" stroke-width="0.6"/>
<rect x="195" y="3" width="39" height="8" fill="#22243f"/>
<rect x="198.6" y="5.6" width="2" height="2" fill="#3a46c4" rx="0.3"/>
<text x="203.5" y="7.8" font-size="2.12" fill="#c9cbe0" stroke="#c9cbe0" stroke-width="0.11" font-weight="bold">Select Date</text>
<rect x="195" y="12" width="39" height="23.5" fill="#22243f"/>
<text x="198.5" y="17.8" font-size="2.12" fill="#c9cbe0" stroke="#c9cbe0" stroke-width="0.11" font-weight="bold">Date Scale</text>
<text x="224" y="17.8" font-size="1.77" fill="#6e7196" stroke="#6e7196" stroke-width="0.09">Yearly ▾</text>
<rect x="198.5" y="20" width="32.5" height="3.8" fill="#1c1e34" rx="0.5"/>
<text x="200" y="22.6" font-size="1.53" fill="#6e7196" stroke="#6e7196" stroke-width="0.08">Type value or filter by</text>
<rect x="198.5" y="27" width="33" height="5.4" fill="#3a46c4" rx="0.6"/>
<text x="214.5" y="30.5" font-size="1.77" fill="#f0f0ff" stroke="#f0f0ff" stroke-width="0.09" text-anchor="middle">Filter</text>
<rect x="195" y="37.5" width="39" height="53.5" fill="#22243f"/>
<text x="198.5" y="43.7" font-size="2.24" fill="#c9cbe0" stroke="#c9cbe0" stroke-width="0.11" font-weight="bold">Choose a Category</text>
<rect x="198.5" y="46.3" width="32.5" height="3.6" fill="#1c1e34" rx="0.5"/>
<text x="200" y="48.8" font-size="1.53" fill="#6e7196" stroke="#6e7196" stroke-width="0.08">Search</text>
<rect x="199" y="52.7" width="1.8" height="1.8" fill="#d4d6e6" rx="0.3"/>
<text x="202.3" y="54.2" font-size="1.65" fill="#9a9cba" stroke="#9a9cba" stroke-width="0.08">Automotive</text>
<rect x="199" y="56.33" width="1.8" height="1.8" fill="#d4d6e6" rx="0.3"/>
<text x="202.3" y="57.83" font-size="1.65" fill="#9a9cba" stroke="#9a9cba" stroke-width="0.08">Beauty and Health</text>
<rect x="199" y="59.96" width="1.8" height="1.8" fill="#d4d6e6" rx="0.3"/>
<text x="202.3" y="61.46" font-size="1.65" fill="#9a9cba" stroke="#9a9cba" stroke-width="0.08">Books</text>
<rect x="199" y="63.59" width="1.8" height="1.8" fill="#d4d6e6" rx="0.3"/>
<text x="202.3" y="65.09" font-size="1.65" fill="#9a9cba" stroke="#9a9cba" stroke-width="0.08">Clothing and Shoes</text>
<rect x="199" y="67.22" width="1.8" height="1.8" fill="#d4d6e6" rx="0.3"/>
<text x="202.3" y="68.72" font-size="1.65" fill="#9a9cba" stroke="#9a9cba" stroke-width="0.08">Electronics</text>
<rect x="199" y="70.85" width="1.8" height="1.8" fill="#d4d6e6" rx="0.3"/>
<text x="202.3" y="72.35" font-size="1.65" fill="#9a9cba" stroke="#9a9cba" stroke-width="0.08">Food and Grocery</text>
<rect x="199" y="74.48" width="1.8" height="1.8" fill="#d4d6e6" rx="0.3"/>
<text x="202.3" y="75.98" font-size="1.65" fill="#9a9cba" stroke="#9a9cba" stroke-width="0.08">Home and Garden</text>
<rect x="199" y="78.11" width="1.8" height="1.8" fill="#d4d6e6" rx="0.3"/>
<text x="202.3" y="79.61" font-size="1.65" fill="#9a9cba" stroke="#9a9cba" stroke-width="0.08">Pet Supplies</text>
<rect x="199" y="81.74" width="1.8" height="1.8" fill="#d4d6e6" rx="0.3"/>
<text x="202.3" y="83.24" font-size="1.65" fill="#9a9cba" stroke="#9a9cba" stroke-width="0.08">Sports and Outdoors</text>
</g>
<clipPath id="cpd263"><rect x="-1.8" y="1.3" width="237.3" height="285.4" rx="3.5"/></clipPath>
<g transform="translate(263,0)" clip-path="url(#cpd263)">
<rect x="-1.8" y="1.3" width="237.3" height="285.4" fill="#d6d6d6" rx="3.5"/>
<rect x="2.5" y="4.2" width="41.4" height="18.4" fill="#ccced6" rx="1.2"/>
<rect x="2.8" y="3.6" width="40.8" height="16.8" fill="#dcdcdc" rx="1"/>
<text x="5.6" y="9.2" font-size="2.48" fill="#9a9a9a" stroke="#9a9a9a" stroke-width="0.12">Total Revenue</text>
<text x="5.6" y="16.9" font-size="5" fill="#2e2e2e" font-weight="bold" textLength="17.93" lengthAdjust="spacingAndGlyphs">$185,600</text>
<rect x="32" y="13" width="8.1" height="3.9" fill="#d2e2d5" rx="1.9"/>
<text x="36.05" y="15.6" font-size="1.9" fill="#3aa050" stroke="#3aa050" stroke-width="0.1" text-anchor="middle">↑ 2.8%</text>
<text x="40.6" y="9.2" font-size="2.5" fill="#9a9a9a" stroke="#9a9a9a" stroke-width="0.12">⋮</text>
<rect x="45.2" y="4.2" width="44.6" height="18.4" fill="#ccced6" rx="1.2"/>
<rect x="45.5" y="3.6" width="44" height="16.8" fill="#dcdcdc" rx="1"/>
<text x="48.3" y="9.2" font-size="2.48" fill="#9a9a9a" stroke="#9a9a9a" stroke-width="0.12">Today's Orders</text>
<text x="48.3" y="16.9" font-size="5" fill="#2e2e2e" font-weight="bold" textLength="7.17" lengthAdjust="spacingAndGlyphs">145</text>
<rect x="77.9" y="13" width="8.1" height="3.9" fill="#d2e2d5" rx="1.9"/>
<text x="81.95" y="15.6" font-size="1.9" fill="#3aa050" stroke="#3aa050" stroke-width="0.1" text-anchor="middle">↑ 2.8%</text>
<text x="86.5" y="9.2" font-size="2.5" fill="#9a9a9a" stroke="#9a9a9a" stroke-width="0.12">⋮</text>
<rect x="91.1" y="4.2" width="44.7" height="18.4" fill="#ccced6" rx="1.2"/>
<rect x="91.4" y="3.6" width="44.1" height="16.8" fill="#dcdcdc" rx="1"/>
<text x="94.2" y="9.2" font-size="2.48" fill="#9a9a9a" stroke="#9a9a9a" stroke-width="0.12">Avg Order Value</text>
<text x="94.2" y="16.9" font-size="5" fill="#2e2e2e" font-weight="bold" textLength="13.15" lengthAdjust="spacingAndGlyphs">$1,280</text>
<rect x="123.9" y="13" width="8.1" height="3.9" fill="#ead6d3" rx="1.9"/>
<text x="127.95" y="15.6" font-size="1.9" fill="#e05050" stroke="#e05050" stroke-width="0.1" text-anchor="middle">↓ 2.8%</text>
<text x="132.5" y="9.2" font-size="2.5" fill="#9a9a9a" stroke="#9a9a9a" stroke-width="0.12">⋮</text>
<rect x="137.5" y="4.2" width="53.8" height="18.4" fill="#ccced6" rx="1.2"/>
<rect x="137.8" y="3.6" width="53.2" height="16.8" fill="#dcdcdc" rx="1"/>
<text x="140.6" y="9.2" font-size="2.48" fill="#9a9a9a" stroke="#9a9a9a" stroke-width="0.12">Unique Customers</text>
<text x="140.6" y="16.9" font-size="5" fill="#2e2e2e" font-weight="bold" textLength="7.17" lengthAdjust="spacingAndGlyphs">132</text>
<rect x="179.4" y="13" width="8.1" height="3.9" fill="#d2e2d5" rx="1.9"/>
<text x="183.45" y="15.6" font-size="1.9" fill="#3aa050" stroke="#3aa050" stroke-width="0.1" text-anchor="middle">↑ 2.8%</text>
<text x="188" y="9.2" font-size="2.5" fill="#9a9a9a" stroke="#9a9a9a" stroke-width="0.12">⋮</text>
<rect x="137.1" y="23" width="54.6" height="44.2" fill="#ccced6" rx="1.2"/>
<rect x="137.4" y="22.4" width="54" height="42.6" fill="#dcdcdc" rx="1"/>
<text x="140" y="28" font-size="2.6" fill="#3a3a3a" stroke="#3a3a3a" stroke-width="0.13" font-weight="bold">Customer Breakdown</text>
<text x="180.7" y="28" font-size="2.4" fill="#9a9a9a" stroke="#9a9a9a" stroke-width="0.12">⊽</text>
<text x="186.2" y="28" font-size="2.4" fill="#9a9a9a" stroke="#9a9a9a" stroke-width="0.12">⋮</text>
<path d="M155,32 A14,14 0 0 1 168.16,41.21 L163.83,42.79 A9.4,9.4 0 0 0 155,36.6 Z" fill="#8a8cc0"/>
<path d="M168.16,41.21 A14,14 0 0 1 150.21,59.16 L151.79,54.83 A9.4,9.4 0 0 0 163.83,42.79 Z" fill="#b04fa8"/>
<path d="M150.21,59.16 A14,14 0 0 1 143.53,54.03 L147.3,51.39 A9.4,9.4 0 0 0 151.79,54.83 Z" fill="#d9c182"/>
<path d="M143.53,54.03 A14,14 0 0 1 141.84,41.21 L146.17,42.79 A9.4,9.4 0 0 0 147.3,51.39 Z" fill="#c985c9"/>
<path d="M141.84,41.21 A14,14 0 0 1 155,32 L155,36.6 A9.4,9.4 0 0 0 146.17,42.79 Z" fill="#dd6aa8"/>
<rect x="175.9" y="34" width="1.3" height="1.3" fill="#8a8cc0"/>
<rect x="178.2" y="34.25" width="4.5" height="0.9" fill="#a8a8a8"/>
<rect x="175.9" y="37.65" width="1.3" height="1.3" fill="#b04fa8"/>
<rect x="178.2" y="37.9" width="4.5" height="0.9" fill="#a8a8a8"/>
<rect x="175.9" y="41.3" width="1.3" height="1.3" fill="#d9c182"/>
<rect x="178.2" y="41.55" width="4.5" height="0.9" fill="#a8a8a8"/>
<rect x="175.9" y="44.95" width="1.3" height="1.3" fill="#c985c9"/>
<rect x="178.2" y="45.2" width="4.5" height="0.9" fill="#a8a8a8"/>
<rect x="175.9" y="48.6" width="1.3" height="1.3" fill="#dd6aa8"/>
<rect x="178.2" y="48.85" width="4.5" height="0.9" fill="#a8a8a8"/>
<rect x="137.1" y="67.4" width="54.6" height="45.5" fill="#ccced6" rx="1.2"/>
<rect x="137.4" y="66.8" width="54" height="43.9" fill="#dcdcdc" rx="1"/>
<text x="141" y="72.5" font-size="2.6" fill="#3a3a3a" stroke="#3a3a3a" stroke-width="0.13" font-weight="bold">Payment Method</text>
<text x="181.7" y="72.3" font-size="2.4" fill="#9a9a9a" stroke="#9a9a9a" stroke-width="0.12">⊽</text>
<text x="187.2" y="72.3" font-size="2.4" fill="#9a9a9a" stroke="#9a9a9a" stroke-width="0.12">⋮</text>
<path d="M156,91 L156,77 A14,14 0 0 1 169.95,92.22 Z" fill="#e2845c"/>
<path d="M156,91 L169.95,92.22 A14,14 0 0 1 151.21,104.16 Z" fill="#e89a6c"/>
<path d="M156,91 L151.21,104.16 A14,14 0 0 1 144.53,99.03 Z" fill="#ecae84"/>
<path d="M156,91 L144.53,99.03 A14,14 0 0 1 142.48,87.38 Z" fill="#f0cdb2"/>
<path d="M156,91 L142.48,87.38 A14,14 0 0 1 156,77 Z" fill="#d9ac9e"/>
<rect x="175.3" y="78" width="1.3" height="1.3" fill="#e2845c"/>
<rect x="177.6" y="78.25" width="8" height="0.9" fill="#a8a8a8"/>
<rect x="175.3" y="81.5" width="1.3" height="1.3" fill="#e89a6c"/>
<rect x="177.6" y="81.75" width="8" height="0.9" fill="#a8a8a8"/>
<rect x="175.3" y="85" width="1.3" height="1.3" fill="#ecae84"/>
<rect x="177.6" y="85.25" width="8" height="0.9" fill="#a8a8a8"/>
<rect x="175.3" y="88.5" width="1.3" height="1.3" fill="#f0cdb2"/>
<rect x="177.6" y="88.75" width="8" height="0.9" fill="#a8a8a8"/>
<rect x="175.3" y="92" width="1.3" height="1.3" fill="#d9ac9e"/>
<rect x="177.6" y="92.25" width="8" height="0.9" fill="#a8a8a8"/>
<rect x="1.8" y="23" width="135.1" height="89.1" fill="#ccced6" rx="1.2"/>
<rect x="2.1" y="22.4" width="134.5" height="87.5" fill="#dcdcdc" rx="1"/>
<text x="7.1" y="29.8" font-size="2.71" fill="#3a3a3a" stroke="#3a3a3a" stroke-width="0.14" font-weight="bold">Customer Source</text>
<circle cx="7.1" cy="34.3" r="0.6" fill="#a8479e"/>
<text x="8.4" y="35" font-size="2.12" fill="#9a9a9a" stroke="#9a9a9a" stroke-width="0.11">Job</text>
<circle cx="16.1" cy="34.3" r="0.6" fill="#8d8cbc"/>
<text x="17.4" y="35" font-size="2.12" fill="#9a9a9a" stroke="#9a9a9a" stroke-width="0.11">CPC</text>
<circle cx="25.1" cy="34.3" r="0.6" fill="#dc62a0"/>
<text x="26.4" y="35" font-size="2.12" fill="#9a9a9a" stroke="#9a9a9a" stroke-width="0.11">SEO</text>
<circle cx="34.1" cy="34.3" r="0.6" fill="#cc80c4"/>
<text x="35.4" y="35" font-size="2.12" fill="#9a9a9a" stroke="#9a9a9a" stroke-width="0.11">Partners</text>
<circle cx="48.1" cy="34.3" r="0.6" fill="#dcbd7c"/>
<text x="49.4" y="35" font-size="2.12" fill="#9a9a9a" stroke="#9a9a9a" stroke-width="0.11">Referrals</text>
<circle cx="63.1" cy="34.3" r="0.6" fill="#d8ab9c"/>
<text x="64.4" y="35" font-size="2.12" fill="#9a9a9a" stroke="#9a9a9a" stroke-width="0.11">Public Relations</text>
<line x1="16.6" y1="96.5" x2="130.6" y2="96.5" stroke="#d0d0d0" stroke-width="0.3"/>
<text x="15.1" y="97.1" font-size="1.89" fill="#9a9a9a" stroke="#9a9a9a" stroke-width="0.1" text-anchor="end">0</text>
<line x1="16.6" y1="89.5" x2="130.6" y2="89.5" stroke="#d0d0d0" stroke-width="0.3"/>
<text x="15.1" y="90.1" font-size="1.89" fill="#9a9a9a" stroke="#9a9a9a" stroke-width="0.1" text-anchor="end">25</text>
<line x1="16.6" y1="82.5" x2="130.6" y2="82.5" stroke="#d0d0d0" stroke-width="0.3"/>
<text x="15.1" y="83.1" font-size="1.89" fill="#9a9a9a" stroke="#9a9a9a" stroke-width="0.1" text-anchor="end">50</text>
<line x1="16.6" y1="75.5" x2="130.6" y2="75.5" stroke="#d0d0d0" stroke-width="0.3"/>
<text x="15.1" y="76.1" font-size="1.89" fill="#9a9a9a" stroke="#9a9a9a" stroke-width="0.1" text-anchor="end">75</text>
<line x1="16.6" y1="68.5" x2="130.6" y2="68.5" stroke="#d0d0d0" stroke-width="0.3"/>
<text x="15.1" y="69.1" font-size="1.89" fill="#9a9a9a" stroke="#9a9a9a" stroke-width="0.1" text-anchor="end">100</text>
<line x1="16.6" y1="61.5" x2="130.6" y2="61.5" stroke="#d0d0d0" stroke-width="0.3"/>
<text x="15.1" y="62.1" font-size="1.89" fill="#9a9a9a" stroke="#9a9a9a" stroke-width="0.1" text-anchor="end">125</text>
<line x1="16.6" y1="54.5" x2="130.6" y2="54.5" stroke="#d0d0d0" stroke-width="0.3"/>
<text x="15.1" y="55.1" font-size="1.89" fill="#9a9a9a" stroke="#9a9a9a" stroke-width="0.1" text-anchor="end">150</text>
<line x1="16.6" y1="47.5" x2="130.6" y2="47.5" stroke="#d0d0d0" stroke-width="0.3"/>
<text x="15.1" y="48.1" font-size="1.89" fill="#9a9a9a" stroke="#9a9a9a" stroke-width="0.1" text-anchor="end">175</text>
<line x1="16.6" y1="40.5" x2="130.6" y2="40.5" stroke="#d0d0d0" stroke-width="0.3"/>
<text x="15.1" y="41.1" font-size="1.89" fill="#9a9a9a" stroke="#9a9a9a" stroke-width="0.1" text-anchor="end">200</text>
<text x="9.1" y="72" font-size="2.01" fill="#9a9a9a" stroke="#9a9a9a" stroke-width="0.1" transform="rotate(-90 9.100000000000001 72)" text-anchor="middle">Applicants</text>
<rect x="21.4" y="91.75" width="5" height="4.8" fill="#a8479e"/>
<rect x="21.4" y="88.6" width="5" height="3.2" fill="#8d8cbc"/>
<rect x="21.4" y="83.37" width="5" height="5.28" fill="#dc62a0"/>
<rect x="21.4" y="78.15" width="5" height="5.28" fill="#cc80c4"/>
<rect x="21.4" y="74.28" width="5" height="3.91" fill="#dcbd7c"/>
<rect x="21.4" y="66.8" width="5" height="7.53" fill="#d8ab9c"/>
<text x="23.9" y="65.6" font-size="1.53" fill="#9a9a9a" stroke="#9a9a9a" stroke-width="0.08" text-anchor="middle">###</text>
<text x="23.9" y="99.8" font-size="1.65" fill="#9a9a9a" stroke="#9a9a9a" stroke-width="0.08" text-anchor="middle">Jun 2023</text>
<rect x="33.8" y="88.24" width="5" height="8.31" fill="#a8479e"/>
<rect x="33.8" y="82.77" width="5" height="5.52" fill="#8d8cbc"/>
<rect x="33.8" y="73.69" width="5" height="9.13" fill="#dc62a0"/>
<rect x="33.8" y="64.61" width="5" height="9.13" fill="#cc80c4"/>
<rect x="33.8" y="57.9" width="5" height="6.76" fill="#dcbd7c"/>
<rect x="33.8" y="44.9" width="5" height="13.05" fill="#d8ab9c"/>
<text x="36.3" y="43.7" font-size="1.53" fill="#9a9a9a" stroke="#9a9a9a" stroke-width="0.08" text-anchor="middle">###</text>
<text x="36.3" y="99.8" font-size="1.65" fill="#9a9a9a" stroke="#9a9a9a" stroke-width="0.08" text-anchor="middle">Jun 2023</text>
<rect x="46.2" y="91.25" width="5" height="5.3" fill="#a8479e"/>
<rect x="46.2" y="87.78" width="5" height="3.53" fill="#8d8cbc"/>
<rect x="46.2" y="82" width="5" height="5.82" fill="#dc62a0"/>
<rect x="46.2" y="76.23" width="5" height="5.82" fill="#cc80c4"/>
<rect x="46.2" y="71.97" width="5" height="4.31" fill="#dcbd7c"/>
<rect x="46.2" y="63.7" width="5" height="8.32" fill="#d8ab9c"/>
<text x="48.7" y="62.5" font-size="1.53" fill="#9a9a9a" stroke="#9a9a9a" stroke-width="0.08" text-anchor="middle">###</text>
<text x="48.7" y="99.8" font-size="1.65" fill="#9a9a9a" stroke="#9a9a9a" stroke-width="0.08" text-anchor="middle">Jun 2023</text>
<rect x="58.6" y="89.57" width="5" height="6.98" fill="#a8479e"/>
<rect x="58.6" y="84.98" width="5" height="4.64" fill="#8d8cbc"/>
<rect x="58.6" y="77.36" width="5" height="7.67" fill="#dc62a0"/>
<rect x="58.6" y="69.74" width="5" height="7.67" fill="#cc80c4"/>
<rect x="58.6" y="64.11" width="5" height="5.68" fill="#dcbd7c"/>
<rect x="58.6" y="53.2" width="5" height="10.96" fill="#d8ab9c"/>
<text x="61.1" y="52" font-size="1.53" fill="#9a9a9a" stroke="#9a9a9a" stroke-width="0.08" text-anchor="middle">###</text>
<text x="61.1" y="99.8" font-size="1.65" fill="#9a9a9a" stroke="#9a9a9a" stroke-width="0.08" text-anchor="middle">Jun 2023</text>
<rect x="71" y="92.58" width="5" height="3.97" fill="#a8479e"/>
<rect x="71" y="89.98" width="5" height="2.65" fill="#8d8cbc"/>
<rect x="71" y="85.67" width="5" height="4.36" fill="#dc62a0"/>
<rect x="71" y="81.36" width="5" height="4.36" fill="#cc80c4"/>
<rect x="71" y="78.17" width="5" height="3.23" fill="#dcbd7c"/>
<rect x="71" y="72" width="5" height="6.22" fill="#9890c8"/>
<text x="73.5" y="70.8" font-size="1.53" fill="#9a9a9a" stroke="#9a9a9a" stroke-width="0.08" text-anchor="middle">###</text>
<text x="73.5" y="99.8" font-size="1.65" fill="#9a9a9a" stroke="#9a9a9a" stroke-width="0.08" text-anchor="middle">Jun 2023</text>
<rect x="83.4" y="88.24" width="5" height="8.31" fill="#a8479e"/>
<rect x="83.4" y="82.77" width="5" height="5.52" fill="#8d8cbc"/>
<rect x="83.4" y="73.69" width="5" height="9.13" fill="#dc62a0"/>
<rect x="83.4" y="64.61" width="5" height="9.13" fill="#cc80c4"/>
<rect x="83.4" y="57.9" width="5" height="6.76" fill="#dcbd7c"/>
<rect x="83.4" y="44.9" width="5" height="13.05" fill="#d8ab9c"/>
<text x="85.9" y="43.7" font-size="1.53" fill="#9a9a9a" stroke="#9a9a9a" stroke-width="0.08" text-anchor="middle">###</text>
<text x="85.9" y="99.8" font-size="1.65" fill="#9a9a9a" stroke="#9a9a9a" stroke-width="0.08" text-anchor="middle">Jun 2023</text>
<rect x="95.8" y="91.68" width="5" height="4.87" fill="#a8479e"/>
<rect x="95.8" y="88.49" width="5" height="3.24" fill="#8d8cbc"/>
<rect x="95.8" y="83.2" width="5" height="5.35" fill="#dc62a0"/>
<rect x="95.8" y="77.9" width="5" height="5.35" fill="#cc80c4"/>
<rect x="95.8" y="73.99" width="5" height="3.96" fill="#dcbd7c"/>
<rect x="95.8" y="66.4" width="5" height="7.64" fill="#9890c8"/>
<text x="98.3" y="65.2" font-size="1.53" fill="#9a9a9a" stroke="#9a9a9a" stroke-width="0.08" text-anchor="middle">###</text>
<text x="98.3" y="99.8" font-size="1.65" fill="#9a9a9a" stroke="#9a9a9a" stroke-width="0.08" text-anchor="middle">Jun 2023</text>
<rect x="108.2" y="89.81" width="5" height="6.74" fill="#a8479e"/>
<rect x="108.2" y="85.38" width="5" height="4.48" fill="#8d8cbc"/>
<rect x="108.2" y="78.02" width="5" height="7.41" fill="#dc62a0"/>
<rect x="108.2" y="70.67" width="5" height="7.41" fill="#cc80c4"/>
<rect x="108.2" y="65.23" width="5" height="5.48" fill="#dcbd7c"/>
<rect x="108.2" y="54.7" width="5" height="10.58" fill="#d8ab9c"/>
<text x="110.7" y="53.5" font-size="1.53" fill="#9a9a9a" stroke="#9a9a9a" stroke-width="0.08" text-anchor="middle">###</text>
<text x="110.7" y="99.8" font-size="1.65" fill="#9a9a9a" stroke="#9a9a9a" stroke-width="0.08" text-anchor="middle">Jun 2023</text>
<rect x="120.6" y="92.92" width="5" height="3.63" fill="#a8479e"/>
<rect x="120.6" y="90.54" width="5" height="2.42" fill="#8d8cbc"/>
<rect x="120.6" y="86.6" width="5" height="3.99" fill="#dc62a0"/>
<rect x="120.6" y="82.66" width="5" height="3.99" fill="#cc80c4"/>
<rect x="120.6" y="79.74" width="5" height="2.96" fill="#dcbd7c"/>
<rect x="120.6" y="74.1" width="5" height="5.69" fill="#d8ab9c"/>
<text x="123.1" y="72.9" font-size="1.53" fill="#9a9a9a" stroke="#9a9a9a" stroke-width="0.08" text-anchor="middle">###</text>
<text x="123.1" y="99.8" font-size="1.65" fill="#9a9a9a" stroke="#9a9a9a" stroke-width="0.08" text-anchor="middle">Jun 2023</text>
<text x="71.6" y="104.5" font-size="1.89" fill="#9a9a9a" stroke="#9a9a9a" stroke-width="0.1" text-anchor="middle">Created Date</text>
<text x="128.6" y="29.8" font-size="2.5" fill="#9a9a9a" stroke="#9a9a9a" stroke-width="0.12">⋮</text>
<text x="124.6" y="29.8" font-size="2.4" fill="#9a9a9a" stroke="#9a9a9a" stroke-width="0.12">⊽</text>
<rect x="1.7" y="113.2" width="81.1" height="44.6" fill="#ccced6" rx="1.2"/>
<rect x="2" y="112.6" width="80.5" height="43" fill="#dcdcdc" rx="1"/>
<text x="5.2" y="118" font-size="2.6" fill="#3a3a3a" stroke="#3a3a3a" stroke-width="0.13" font-weight="bold">Monthly Transactions</text>
<text x="73.5" y="118" font-size="2.4" fill="#9a9a9a" stroke="#9a9a9a" stroke-width="0.12">⊽</text>
<text x="78.5" y="118" font-size="2.4" fill="#9a9a9a" stroke="#9a9a9a" stroke-width="0.12">⋮</text>
<line x1="12" y1="143.8" x2="78" y2="143.8" stroke="#d0d0d0" stroke-width="0.3"/>
<text x="10" y="144.4" font-size="1.89" fill="#9a9a9a" stroke="#9a9a9a" stroke-width="0.1" text-anchor="end">0</text>
<line x1="12" y1="137" x2="78" y2="137" stroke="#d0d0d0" stroke-width="0.3"/>
<text x="10" y="137.6" font-size="1.89" fill="#9a9a9a" stroke="#9a9a9a" stroke-width="0.1" text-anchor="end">5%</text>
<line x1="12" y1="130" x2="78" y2="130" stroke="#d0d0d0" stroke-width="0.3"/>
<text x="10" y="130.6" font-size="1.89" fill="#9a9a9a" stroke="#9a9a9a" stroke-width="0.1" text-anchor="end">10%</text>
<line x1="12" y1="123.3" x2="78" y2="123.3" stroke="#d0d0d0" stroke-width="0.3"/>
<text x="10" y="123.9" font-size="1.89" fill="#9a9a9a" stroke="#9a9a9a" stroke-width="0.1" text-anchor="end">15%</text>
<line x1="21" y1="124" x2="21" y2="142.3" stroke="#e062a8" stroke-width="0.4"/>
<rect x="20.4" y="123.5" width="1.2" height="1.2" fill="#e07ab4"/>
<rect x="20.4" y="125.5" width="1.2" height="1.2" fill="#e07ab4"/>
<rect x="20.4" y="129.6" width="1.2" height="1.2" fill="#e07ab4"/>
<rect x="20.4" y="133" width="1.2" height="1.2" fill="#e07ab4"/>
<rect x="18.8" y="135.2" width="4.4" height="4.8" fill="#e062a8" rx="0.5"/>
<text x="21" y="148.6" font-size="1.89" fill="#9a9a9a" stroke="#9a9a9a" stroke-width="0.1" text-anchor="middle">Q1</text>
<line x1="37.1" y1="124" x2="37.1" y2="142.3" stroke="#e062a8" stroke-width="0.4"/>
<rect x="36.5" y="123.5" width="1.2" height="1.2" fill="#e07ab4"/>
<rect x="36.5" y="125.5" width="1.2" height="1.2" fill="#e07ab4"/>
<rect x="36.5" y="129.6" width="1.2" height="1.2" fill="#e07ab4"/>
<rect x="36.5" y="133" width="1.2" height="1.2" fill="#e07ab4"/>
<rect x="34.9" y="129" width="4.4" height="9" fill="#e062a8" rx="0.5"/>
<text x="37.1" y="148.6" font-size="1.89" fill="#9a9a9a" stroke="#9a9a9a" stroke-width="0.1" text-anchor="middle">Q1</text>
<line x1="53" y1="124" x2="53" y2="142.3" stroke="#e062a8" stroke-width="0.4"/>
<rect x="52.4" y="123.5" width="1.2" height="1.2" fill="#e07ab4"/>
<rect x="52.4" y="125.5" width="1.2" height="1.2" fill="#e07ab4"/>
<rect x="52.4" y="129.6" width="1.2" height="1.2" fill="#e07ab4"/>
<rect x="52.4" y="133" width="1.2" height="1.2" fill="#e07ab4"/>
<rect x="50.8" y="135.4" width="4.4" height="4.6" fill="#e062a8" rx="0.5"/>
<text x="53" y="148.6" font-size="1.89" fill="#9a9a9a" stroke="#9a9a9a" stroke-width="0.1" text-anchor="middle">Q1</text>
<line x1="69.2" y1="124" x2="69.2" y2="142.3" stroke="#e062a8" stroke-width="0.4"/>
<rect x="68.6" y="123.5" width="1.2" height="1.2" fill="#e07ab4"/>
<rect x="68.6" y="125.5" width="1.2" height="1.2" fill="#e07ab4"/>
<rect x="68.6" y="129.6" width="1.2" height="1.2" fill="#e07ab4"/>
<rect x="68.6" y="133" width="1.2" height="1.2" fill="#e07ab4"/>
<rect x="67" y="135.4" width="4.4" height="4.6" fill="#e062a8" rx="0.5"/>
<text x="69.2" y="148.6" font-size="1.89" fill="#9a9a9a" stroke="#9a9a9a" stroke-width="0.1" text-anchor="middle">Q1</text>
<rect x="84.7" y="113.2" width="107.6" height="44.6" fill="#ccced6" rx="1.2"/>
<rect x="85" y="112.6" width="107" height="43" fill="#dcdcdc" rx="1"/>
<text x="88.5" y="118" font-size="2.6" fill="#3a3a3a" stroke="#3a3a3a" stroke-width="0.13" font-weight="bold">Orders per Month</text>
<text x="181" y="118" font-size="2.4" fill="#9a9a9a" stroke="#9a9a9a" stroke-width="0.12">⊽</text>
<text x="186" y="118" font-size="2.4" fill="#9a9a9a" stroke="#9a9a9a" stroke-width="0.12">⋮</text>
<line x1="95" y1="147" x2="184" y2="147" stroke="#d0d0d0" stroke-width="0.3"/>
<text x="93.5" y="147.5" font-size="1.65" fill="#9a9a9a" stroke="#9a9a9a" stroke-width="0.08" text-anchor="end">0</text>
<line x1="95" y1="144.06" x2="184" y2="144.06" stroke="#d0d0d0" stroke-width="0.3"/>
<text x="93.5" y="144.56" font-size="1.65" fill="#9a9a9a" stroke="#9a9a9a" stroke-width="0.08" text-anchor="end">25</text>
<line x1="95" y1="141.12" x2="184" y2="141.12" stroke="#d0d0d0" stroke-width="0.3"/>
<text x="93.5" y="141.62" font-size="1.65" fill="#9a9a9a" stroke="#9a9a9a" stroke-width="0.08" text-anchor="end">50</text>
<line x1="95" y1="138.19" x2="184" y2="138.19" stroke="#d0d0d0" stroke-width="0.3"/>
<text x="93.5" y="138.69" font-size="1.65" fill="#9a9a9a" stroke="#9a9a9a" stroke-width="0.08" text-anchor="end">75</text>
<line x1="95" y1="135.25" x2="184" y2="135.25" stroke="#d0d0d0" stroke-width="0.3"/>
<text x="93.5" y="135.75" font-size="1.65" fill="#9a9a9a" stroke="#9a9a9a" stroke-width="0.08" text-anchor="end">100</text>
<line x1="95" y1="132.31" x2="184" y2="132.31" stroke="#d0d0d0" stroke-width="0.3"/>
<text x="93.5" y="132.81" font-size="1.65" fill="#9a9a9a" stroke="#9a9a9a" stroke-width="0.08" text-anchor="end">125</text>
<line x1="95" y1="129.38" x2="184" y2="129.38" stroke="#d0d0d0" stroke-width="0.3"/>
<text x="93.5" y="129.88" font-size="1.65" fill="#9a9a9a" stroke="#9a9a9a" stroke-width="0.08" text-anchor="end">150</text>
<line x1="95" y1="126.44" x2="184" y2="126.44" stroke="#d0d0d0" stroke-width="0.3"/>
<text x="93.5" y="126.94" font-size="1.65" fill="#9a9a9a" stroke="#9a9a9a" stroke-width="0.08" text-anchor="end">175</text>
<line x1="95" y1="123.5" x2="184" y2="123.5" stroke="#d0d0d0" stroke-width="0.3"/>
<text x="93.5" y="124" font-size="1.65" fill="#9a9a9a" stroke="#9a9a9a" stroke-width="0.08" text-anchor="end">200</text>
<path d="M97,140.7 C98.17,140.5 101.83,139.82 104,139.5 C106.17,139.18 107.67,139.38 110,138.8 C112.33,138.22 115.38,136.73 118,136 C120.62,135.27 123.53,134.48 125.7,134.4 C127.87,134.32 129.28,135.23 131,135.5 C132.72,135.77 134,136.33 136,136 C138,135.67 140.72,134.1 143,133.5 C145.28,132.9 147.7,132.48 149.7,132.4 C151.7,132.32 153.28,132.48 155,133 C156.72,133.52 158.52,135 160,135.5 C161.48,136 162.57,136.42 163.9,136 C165.23,135.58 166.55,133.95 168,133 C169.45,132.05 171.1,130.8 172.6,130.3 C174.1,129.8 175.43,129.83 177,130 C178.57,130.17 181.17,131.08 182,131.3 L182,147 L97,147 Z" fill="#e8d4ce"/>
<path d="M97,140.7 C98.17,140.5 101.83,139.82 104,139.5 C106.17,139.18 107.67,139.38 110,138.8 C112.33,138.22 115.38,136.73 118,136 C120.62,135.27 123.53,134.48 125.7,134.4 C127.87,134.32 129.28,135.23 131,135.5 C132.72,135.77 134,136.33 136,136 C138,135.67 140.72,134.1 143,133.5 C145.28,132.9 147.7,132.48 149.7,132.4 C151.7,132.32 153.28,132.48 155,133 C156.72,133.52 158.52,135 160,135.5 C161.48,136 162.57,136.42 163.9,136 C165.23,135.58 166.55,133.95 168,133 C169.45,132.05 171.1,130.8 172.6,130.3 C174.1,129.8 175.43,129.83 177,130 C178.57,130.17 181.17,131.08 182,131.3" fill="none" stroke="#e49a7a" stroke-width="0.6"/>
<text x="97" y="150.6" font-size="1.77" fill="#9a9a9a" stroke="#9a9a9a" stroke-width="0.09" text-anchor="middle">Jan</text>
<text x="104.75" y="150.6" font-size="1.77" fill="#9a9a9a" stroke="#9a9a9a" stroke-width="0.09" text-anchor="middle">Feb</text>
<text x="112.5" y="150.6" font-size="1.77" fill="#9a9a9a" stroke="#9a9a9a" stroke-width="0.09" text-anchor="middle">Mar</text>
<text x="120.25" y="150.6" font-size="1.77" fill="#9a9a9a" stroke="#9a9a9a" stroke-width="0.09" text-anchor="middle">Apr</text>
<text x="128" y="150.6" font-size="1.77" fill="#9a9a9a" stroke="#9a9a9a" stroke-width="0.09" text-anchor="middle">May</text>
<text x="135.75" y="150.6" font-size="1.77" fill="#9a9a9a" stroke="#9a9a9a" stroke-width="0.09" text-anchor="middle">Jun</text>
<text x="143.5" y="150.6" font-size="1.77" fill="#9a9a9a" stroke="#9a9a9a" stroke-width="0.09" text-anchor="middle">Jul</text>
<text x="151.25" y="150.6" font-size="1.77" fill="#9a9a9a" stroke="#9a9a9a" stroke-width="0.09" text-anchor="middle">Aug</text>
<text x="159" y="150.6" font-size="1.77" fill="#9a9a9a" stroke="#9a9a9a" stroke-width="0.09" text-anchor="middle">Sept</text>
<text x="166.75" y="150.6" font-size="1.77" fill="#9a9a9a" stroke="#9a9a9a" stroke-width="0.09" text-anchor="middle">Oct</text>
<text x="174.5" y="150.6" font-size="1.77" fill="#9a9a9a" stroke="#9a9a9a" stroke-width="0.09" text-anchor="middle">Nov</text>
<text x="182.25" y="150.6" font-size="1.77" fill="#9a9a9a" stroke="#9a9a9a" stroke-width="0.09" text-anchor="middle">Dec</text>
<rect x="1.7" y="158.8" width="190.6" height="50.6" fill="#ccced6" rx="1.2"/>
<rect x="2" y="158.2" width="190" height="49" fill="#dcdcdc" rx="1"/>
<text x="5.5" y="164" font-size="2.6" fill="#3a3a3a" stroke="#3a3a3a" stroke-width="0.13" font-weight="bold">Quantity vs Cost Monthly Trends</text>
<text x="181" y="163.5" font-size="2.4" fill="#9a9a9a" stroke="#9a9a9a" stroke-width="0.12">⊽</text>
<text x="186" y="163.5" font-size="2.4" fill="#9a9a9a" stroke="#9a9a9a" stroke-width="0.12">⋮</text>
<line x1="12" y1="192.3" x2="186" y2="192.3" stroke="#d0d0d0" stroke-width="0.3"/>
<text x="10" y="192.9" font-size="1.89" fill="#9a9a9a" stroke="#9a9a9a" stroke-width="0.1" text-anchor="end">0</text>
<line x1="12" y1="185.5" x2="186" y2="185.5" stroke="#d0d0d0" stroke-width="0.3"/>
<text x="10" y="186.1" font-size="1.89" fill="#9a9a9a" stroke="#9a9a9a" stroke-width="0.1" text-anchor="end">100</text>
<line x1="12" y1="178.8" x2="186" y2="178.8" stroke="#d0d0d0" stroke-width="0.3"/>
<text x="10" y="179.4" font-size="1.89" fill="#9a9a9a" stroke="#9a9a9a" stroke-width="0.1" text-anchor="end">200</text>
<line x1="12" y1="172" x2="186" y2="172" stroke="#d0d0d0" stroke-width="0.3"/>
<text x="10" y="172.6" font-size="1.89" fill="#9a9a9a" stroke="#9a9a9a" stroke-width="0.1" text-anchor="end">300</text>
<rect x="17.2" y="178.9" width="13.6" height="13.4" fill="#e0c890"/>
<text x="24" y="196.8" font-size="1.77" fill="#9a9a9a" stroke="#9a9a9a" stroke-width="0.09" text-anchor="middle">Jan 2023</text>
<text x="24" y="177.4" font-size="1.65" fill="#9a9a9a" stroke="#9a9a9a" stroke-width="0.08" text-anchor="middle">###</text>
<rect x="36.4" y="173.5" width="13.6" height="18.8" fill="#e0c890"/>
<text x="43.2" y="196.8" font-size="1.77" fill="#9a9a9a" stroke="#9a9a9a" stroke-width="0.09" text-anchor="middle">Jan 2023</text>
<text x="43.2" y="172" font-size="1.65" fill="#9a9a9a" stroke="#9a9a9a" stroke-width="0.08" text-anchor="middle">###</text>
<rect x="55.6" y="178.9" width="13.6" height="13.4" fill="#e0c890"/>
<text x="62.4" y="196.8" font-size="1.77" fill="#9a9a9a" stroke="#9a9a9a" stroke-width="0.09" text-anchor="middle">Jan 2023</text>
<text x="62.4" y="177.4" font-size="1.65" fill="#9a9a9a" stroke="#9a9a9a" stroke-width="0.08" text-anchor="middle">###</text>
<rect x="74.8" y="178.9" width="13.6" height="13.4" fill="#e0c890"/>
<text x="81.6" y="196.8" font-size="1.77" fill="#9a9a9a" stroke="#9a9a9a" stroke-width="0.09" text-anchor="middle">Jan 2023</text>
<text x="81.6" y="177.4" font-size="1.65" fill="#9a9a9a" stroke="#9a9a9a" stroke-width="0.08" text-anchor="middle">###</text>
<rect x="94" y="173.5" width="13.6" height="18.8" fill="#e0c890"/>
<text x="100.8" y="196.8" font-size="1.77" fill="#9a9a9a" stroke="#9a9a9a" stroke-width="0.09" text-anchor="middle">Jan 2023</text>
<text x="100.8" y="172" font-size="1.65" fill="#9a9a9a" stroke="#9a9a9a" stroke-width="0.08" text-anchor="middle">###</text>
<rect x="113.2" y="178.9" width="13.6" height="13.4" fill="#e0c890"/>
<text x="120" y="196.8" font-size="1.77" fill="#9a9a9a" stroke="#9a9a9a" stroke-width="0.09" text-anchor="middle">Jan 2023</text>
<text x="120" y="177.4" font-size="1.65" fill="#9a9a9a" stroke="#9a9a9a" stroke-width="0.08" text-anchor="middle">###</text>
<rect x="132.4" y="178.9" width="13.6" height="13.4" fill="#e0c890"/>
<text x="139.2" y="196.8" font-size="1.77" fill="#9a9a9a" stroke="#9a9a9a" stroke-width="0.09" text-anchor="middle">Jan 2023</text>
<text x="139.2" y="177.4" font-size="1.65" fill="#9a9a9a" stroke="#9a9a9a" stroke-width="0.08" text-anchor="middle">###</text>
<rect x="151.6" y="173.5" width="13.6" height="18.8" fill="#e0c890"/>
<text x="158.4" y="196.8" font-size="1.77" fill="#9a9a9a" stroke="#9a9a9a" stroke-width="0.09" text-anchor="middle">Jan 2023</text>
<text x="158.4" y="172" font-size="1.65" fill="#9a9a9a" stroke="#9a9a9a" stroke-width="0.08" text-anchor="middle">###</text>
<rect x="170.8" y="178.9" width="13.6" height="13.4" fill="#e0c890"/>
<text x="177.6" y="196.8" font-size="1.77" fill="#9a9a9a" stroke="#9a9a9a" stroke-width="0.09" text-anchor="middle">Jan 2023</text>
<text x="177.6" y="177.4" font-size="1.65" fill="#9a9a9a" stroke="#9a9a9a" stroke-width="0.08" text-anchor="middle">###</text>
<path d="M24,185.5 C27.2,184.75 36.8,180.5 43.2,181 C49.6,181.5 56,187.92 62.4,188.5 C68.8,189.08 75.2,184.78 81.6,184.5 C88,184.22 94.4,186.55 100.8,186.8 C107.2,187.05 113.6,186.55 120,186 C126.4,185.45 132.8,183.58 139.2,183.5 C145.6,183.42 152,184.5 158.4,185.5 C164.8,186.5 174.4,188.83 177.6,189.5" fill="none" stroke="#a8a8c8" stroke-width="0.5"/>
<rect x="21.7" y="183.9" width="4.6" height="2.6" fill="#f0f0f0" rx="0.3"/>
<rect x="40.9" y="179.4" width="4.6" height="2.6" fill="#f0f0f0" rx="0.3"/>
<rect x="60.1" y="186.9" width="4.6" height="2.6" fill="#f0f0f0" rx="0.3"/>
<rect x="79.3" y="182.9" width="4.6" height="2.6" fill="#f0f0f0" rx="0.3"/>
<rect x="98.5" y="185.2" width="4.6" height="2.6" fill="#f0f0f0" rx="0.3"/>
<rect x="117.7" y="184.4" width="4.6" height="2.6" fill="#f0f0f0" rx="0.3"/>
<rect x="136.9" y="181.9" width="4.6" height="2.6" fill="#f0f0f0" rx="0.3"/>
<rect x="156.1" y="183.9" width="4.6" height="2.6" fill="#f0f0f0" rx="0.3"/>
<rect x="175.3" y="187.9" width="4.6" height="2.6" fill="#f0f0f0" rx="0.3"/>
<rect x="1.7" y="210.6" width="190.6" height="67.6" fill="#ccced6" rx="1.2"/>
<rect x="2" y="210" width="190" height="66" fill="#dcdcdc" rx="1"/>
<text x="5.5" y="215.6" font-size="2.6" fill="#3a3a3a" stroke="#3a3a3a" stroke-width="0.13" font-weight="bold">Datasheet</text>
<text x="182" y="215" font-size="2.4" fill="#9a9a9a" stroke="#9a9a9a" stroke-width="0.12">⊽</text>
<text x="187.5" y="215" font-size="2.4" fill="#9a9a9a" stroke="#9a9a9a" stroke-width="0.12">⋮</text>
<rect x="6.8" y="220.4" width="178" height="4.8" fill="#d3d2e3" rx="0.6"/>
<text x="9.8" y="223.6" font-size="2.01" fill="#707080" stroke="#707080" stroke-width="0.1"></text>
<text x="17.5" y="223.6" font-size="2.01" fill="#707080" stroke="#707080" stroke-width="0.1">Name</text>
<text x="47" y="223.6" font-size="2.01" fill="#707080" stroke="#707080" stroke-width="0.1">Update On</text>
<text x="82.5" y="223.6" font-size="2.01" fill="#707080" stroke="#707080" stroke-width="0.1">Update On</text>
<text x="118.5" y="223.6" font-size="2.01" fill="#707080" stroke="#707080" stroke-width="0.1">Update On</text>
<text x="154" y="223.6" font-size="2.01" fill="#707080" stroke="#707080" stroke-width="0.1">Update On</text>
<rect x="6.8" y="225.2" width="178" height="5.8" fill="#dcdcdc"/>
<line x1="6.8" y1="231" x2="184.8" y2="231" stroke="#cfcfcf" stroke-width="0.25"/>
<text x="10.2" y="228.9" font-size="2.12" fill="#9a9a9a" stroke="#9a9a9a" stroke-width="0.11" text-anchor="middle">1</text>
<text x="17" y="228.9" font-size="2.12" fill="#9a9a9a" stroke="#9a9a9a" stroke-width="0.11">Date and Time Test</text>
<text x="46.2" y="228.9" font-size="2.01" fill="#9a9a9a" stroke="#9a9a9a" stroke-width="0.1">05/05/2023</text>
<text x="81.7" y="228.9" font-size="2.01" fill="#9a9a9a" stroke="#9a9a9a" stroke-width="0.1">05/05/2023</text>
<text x="117.7" y="228.9" font-size="2.01" fill="#9a9a9a" stroke="#9a9a9a" stroke-width="0.1">05/05/2023</text>
<text x="153.2" y="228.9" font-size="2.01" fill="#9a9a9a" stroke="#9a9a9a" stroke-width="0.1">05/05/2023</text>
<rect x="6.8" y="231" width="178" height="5.8" fill="#dadada"/>
<line x1="6.8" y1="236.8" x2="184.8" y2="236.8" stroke="#cfcfcf" stroke-width="0.25"/>
<text x="10.2" y="234.7" font-size="2.12" fill="#9a9a9a" stroke="#9a9a9a" stroke-width="0.11" text-anchor="middle">2</text>
<text x="17" y="234.7" font-size="2.12" fill="#9a9a9a" stroke="#9a9a9a" stroke-width="0.11">NaN(0)</text>
<text x="46.2" y="234.7" font-size="2.01" fill="#9a9a9a" stroke="#9a9a9a" stroke-width="0.1">05/05/2023</text>
<text x="81.7" y="234.7" font-size="2.01" fill="#9a9a9a" stroke="#9a9a9a" stroke-width="0.1">05/05/2023</text>
<text x="117.7" y="234.7" font-size="2.01" fill="#9a9a9a" stroke="#9a9a9a" stroke-width="0.1">05/05/2023</text>
<text x="153.2" y="234.7" font-size="2.01" fill="#9a9a9a" stroke="#9a9a9a" stroke-width="0.1">05/05/2023</text>
<rect x="6.8" y="236.8" width="178" height="5.8" fill="#dcdcdc"/>
<line x1="6.8" y1="242.6" x2="184.8" y2="242.6" stroke="#cfcfcf" stroke-width="0.25"/>
<text x="10.2" y="240.5" font-size="2.12" fill="#9a9a9a" stroke="#9a9a9a" stroke-width="0.11" text-anchor="middle">3</text>
<text x="17" y="240.5" font-size="2.12" fill="#9a9a9a" stroke="#9a9a9a" stroke-width="0.11">Date and Time Test</text>
<text x="46.2" y="240.5" font-size="2.01" fill="#9a9a9a" stroke="#9a9a9a" stroke-width="0.1">05/05/2023</text>
<text x="81.7" y="240.5" font-size="2.01" fill="#9a9a9a" stroke="#9a9a9a" stroke-width="0.1">05/05/2023</text>
<text x="117.7" y="240.5" font-size="2.01" fill="#9a9a9a" stroke="#9a9a9a" stroke-width="0.1">05/05/2023</text>
<text x="153.2" y="240.5" font-size="2.01" fill="#9a9a9a" stroke="#9a9a9a" stroke-width="0.1">05/05/2023</text>
<rect x="6.8" y="242.6" width="178" height="5.8" fill="#dadada"/>
<line x1="6.8" y1="248.4" x2="184.8" y2="248.4" stroke="#cfcfcf" stroke-width="0.25"/>
<text x="10.2" y="246.3" font-size="2.12" fill="#9a9a9a" stroke="#9a9a9a" stroke-width="0.11" text-anchor="middle">4</text>
<text x="17" y="246.3" font-size="2.12" fill="#9a9a9a" stroke="#9a9a9a" stroke-width="0.11">NaN(0)</text>
<text x="46.2" y="246.3" font-size="2.01" fill="#9a9a9a" stroke="#9a9a9a" stroke-width="0.1">05/05/2023</text>
<text x="81.7" y="246.3" font-size="2.01" fill="#9a9a9a" stroke="#9a9a9a" stroke-width="0.1">05/05/2023</text>
<text x="117.7" y="246.3" font-size="2.01" fill="#9a9a9a" stroke="#9a9a9a" stroke-width="0.1">05/05/2023</text>
<text x="153.2" y="246.3" font-size="2.01" fill="#9a9a9a" stroke="#9a9a9a" stroke-width="0.1">05/05/2023</text>
<rect x="6.8" y="248.4" width="178" height="5.8" fill="#dcdcdc"/>
<line x1="6.8" y1="254.2" x2="184.8" y2="254.2" stroke="#cfcfcf" stroke-width="0.25"/>
<text x="10.2" y="252.1" font-size="2.12" fill="#9a9a9a" stroke="#9a9a9a" stroke-width="0.11" text-anchor="middle">5</text>
<text x="17" y="252.1" font-size="2.12" fill="#9a9a9a" stroke="#9a9a9a" stroke-width="0.11">Date and Time Test</text>
<text x="46.2" y="252.1" font-size="2.01" fill="#9a9a9a" stroke="#9a9a9a" stroke-width="0.1">05/05/2023</text>
<text x="81.7" y="252.1" font-size="2.01" fill="#9a9a9a" stroke="#9a9a9a" stroke-width="0.1">05/05/2023</text>
<text x="117.7" y="252.1" font-size="2.01" fill="#9a9a9a" stroke="#9a9a9a" stroke-width="0.1">05/05/2023</text>
<text x="153.2" y="252.1" font-size="2.01" fill="#9a9a9a" stroke="#9a9a9a" stroke-width="0.1">05/05/2023</text>
<rect x="6.8" y="254.2" width="178" height="5.8" fill="#dadada"/>
<line x1="6.8" y1="260" x2="184.8" y2="260" stroke="#cfcfcf" stroke-width="0.25"/>
<text x="10.2" y="257.9" font-size="2.12" fill="#9a9a9a" stroke="#9a9a9a" stroke-width="0.11" text-anchor="middle">6</text>
<text x="17" y="257.9" font-size="2.12" fill="#9a9a9a" stroke="#9a9a9a" stroke-width="0.11">NaN(0)</text>
<text x="46.2" y="257.9" font-size="2.01" fill="#9a9a9a" stroke="#9a9a9a" stroke-width="0.1">05/05/2023</text>
<text x="81.7" y="257.9" font-size="2.01" fill="#9a9a9a" stroke="#9a9a9a" stroke-width="0.1">05/05/2023</text>
<text x="117.7" y="257.9" font-size="2.01" fill="#9a9a9a" stroke="#9a9a9a" stroke-width="0.1">05/05/2023</text>
<text x="153.2" y="257.9" font-size="2.01" fill="#9a9a9a" stroke="#9a9a9a" stroke-width="0.1">05/05/2023</text>
<rect x="6.8" y="260" width="178" height="5.8" fill="#dcdcdc"/>
<line x1="6.8" y1="265.8" x2="184.8" y2="265.8" stroke="#cfcfcf" stroke-width="0.25"/>
<text x="10.2" y="263.7" font-size="2.12" fill="#9a9a9a" stroke="#9a9a9a" stroke-width="0.11" text-anchor="middle">7</text>
<text x="17" y="263.7" font-size="2.12" fill="#9a9a9a" stroke="#9a9a9a" stroke-width="0.11">Date and Time Test</text>
<text x="46.2" y="263.7" font-size="2.01" fill="#9a9a9a" stroke="#9a9a9a" stroke-width="0.1">05/05/2023</text>
<text x="81.7" y="263.7" font-size="2.01" fill="#9a9a9a" stroke="#9a9a9a" stroke-width="0.1">05/05/2023</text>
<text x="117.7" y="263.7" font-size="2.01" fill="#9a9a9a" stroke="#9a9a9a" stroke-width="0.1">05/05/2023</text>
<text x="153.2" y="263.7" font-size="2.01" fill="#9a9a9a" stroke="#9a9a9a" stroke-width="0.1">05/05/2023</text>
<rect x="6.8" y="265.8" width="178" height="5.8" fill="#dadada"/>
<line x1="6.8" y1="271.6" x2="184.8" y2="271.6" stroke="#cfcfcf" stroke-width="0.25"/>
<text x="10.2" y="269.5" font-size="2.12" fill="#9a9a9a" stroke="#9a9a9a" stroke-width="0.11" text-anchor="middle">8</text>
<text x="17" y="269.5" font-size="2.12" fill="#9a9a9a" stroke="#9a9a9a" stroke-width="0.11">NaN(0)</text>
<text x="46.2" y="269.5" font-size="2.01" fill="#9a9a9a" stroke="#9a9a9a" stroke-width="0.1">05/05/2023</text>
<text x="81.7" y="269.5" font-size="2.01" fill="#9a9a9a" stroke="#9a9a9a" stroke-width="0.1">05/05/2023</text>
<text x="117.7" y="269.5" font-size="2.01" fill="#9a9a9a" stroke="#9a9a9a" stroke-width="0.1">05/05/2023</text>
<text x="153.2" y="269.5" font-size="2.01" fill="#9a9a9a" stroke="#9a9a9a" stroke-width="0.1">05/05/2023</text>
<line x1="14.5" y1="225.2" x2="14.5" y2="271.6" stroke="#cfcfcf" stroke-width="0.25"/>
<line x1="44" y1="225.2" x2="44" y2="271.6" stroke="#cfcfcf" stroke-width="0.25"/>
<line x1="79.5" y1="225.2" x2="79.5" y2="271.6" stroke="#cfcfcf" stroke-width="0.25"/>
<line x1="115.5" y1="225.2" x2="115.5" y2="271.6" stroke="#cfcfcf" stroke-width="0.25"/>
<line x1="151" y1="225.2" x2="151" y2="271.6" stroke="#cfcfcf" stroke-width="0.25"/>
<rect x="193.5" y="1.3" width="42" height="285.4" fill="#dadada"/>
<rect x="195" y="3" width="39" height="8" fill="#dcdcdc"/>
<rect x="198.6" y="5.6" width="2" height="2" fill="#b24fa9" rx="0.3"/>
<text x="203.5" y="7.8" font-size="2.12" fill="#3a3a3a" stroke="#3a3a3a" stroke-width="0.11" font-weight="bold">Select Date</text>
<rect x="195" y="12" width="39" height="23.5" fill="#dcdcdc"/>
<text x="198.5" y="17.8" font-size="2.12" fill="#3a3a3a" stroke="#3a3a3a" stroke-width="0.11" font-weight="bold">Date Scale</text>
<text x="224" y="17.8" font-size="1.77" fill="#9a9a9a" stroke="#9a9a9a" stroke-width="0.09">Yearly ▾</text>
<rect x="198.5" y="20" width="32.5" height="3.8" fill="#e2e2e2" rx="0.5"/>
<text x="200" y="22.6" font-size="1.53" fill="#9a9a9a" stroke="#9a9a9a" stroke-width="0.08">Type value or filter by</text>
<rect x="198.5" y="27" width="33" height="5.4" fill="#b24fa9" rx="0.6"/>
<text x="214.5" y="30.5" font-size="1.77" fill="#f0f0ff" stroke="#f0f0ff" stroke-width="0.09" text-anchor="middle">Filter</text>
<rect x="195" y="37.5" width="39" height="53.5" fill="#dcdcdc"/>
<text x="198.5" y="43.7" font-size="2.24" fill="#3a3a3a" stroke="#3a3a3a" stroke-width="0.11" font-weight="bold">Choose a Category</text>
<rect x="198.5" y="46.3" width="32.5" height="3.6" fill="#e2e2e2" rx="0.5"/>
<text x="200" y="48.8" font-size="1.53" fill="#9a9a9a" stroke="#9a9a9a" stroke-width="0.08">Search</text>
<rect x="199" y="52.7" width="1.8" height="1.8" fill="#d9b0d4" rx="0.3"/>
<text x="202.3" y="54.2" font-size="1.65" fill="#8a8a8a" stroke="#8a8a8a" stroke-width="0.08">Automotive</text>
<rect x="199" y="56.33" width="1.8" height="1.8" fill="#d9b0d4" rx="0.3"/>
<text x="202.3" y="57.83" font-size="1.65" fill="#8a8a8a" stroke="#8a8a8a" stroke-width="0.08">Beauty and Health</text>
<rect x="199" y="59.96" width="1.8" height="1.8" fill="#d9b0d4" rx="0.3"/>
<text x="202.3" y="61.46" font-size="1.65" fill="#8a8a8a" stroke="#8a8a8a" stroke-width="0.08">Books</text>
<rect x="199" y="63.59" width="1.8" height="1.8" fill="#d9b0d4" rx="0.3"/>
<text x="202.3" y="65.09" font-size="1.65" fill="#8a8a8a" stroke="#8a8a8a" stroke-width="0.08">Clothing and Shoes</text>
<rect x="199" y="67.22" width="1.8" height="1.8" fill="#d9b0d4" rx="0.3"/>
<text x="202.3" y="68.72" font-size="1.65" fill="#8a8a8a" stroke="#8a8a8a" stroke-width="0.08">Electronics</text>
<rect x="199" y="70.85" width="1.8" height="1.8" fill="#d9b0d4" rx="0.3"/>
<text x="202.3" y="72.35" font-size="1.65" fill="#8a8a8a" stroke="#8a8a8a" stroke-width="0.08">Food and Grocery</text>
<rect x="199" y="74.48" width="1.8" height="1.8" fill="#d9b0d4" rx="0.3"/>
<text x="202.3" y="75.98" font-size="1.65" fill="#8a8a8a" stroke="#8a8a8a" stroke-width="0.08">Home and Garden</text>
<rect x="199" y="78.11" width="1.8" height="1.8" fill="#d9b0d4" rx="0.3"/>
<text x="202.3" y="79.61" font-size="1.65" fill="#8a8a8a" stroke="#8a8a8a" stroke-width="0.08">Pet Supplies</text>
<rect x="199" y="81.74" width="1.8" height="1.8" fill="#d9b0d4" rx="0.3"/>
<text x="202.3" y="83.24" font-size="1.65" fill="#8a8a8a" stroke="#8a8a8a" stroke-width="0.08">Sports and Outdoors</text>
</g>
<clipPath id="cp3"><rect x="524" y="1.3" width="237.7" height="146.6" rx="3.5"/></clipPath>
<g clip-path="url(#cp3)">
<rect x="524" y="1.3" width="237.7" height="146.6" fill="#d5d5d5"/>
<circle cx="583.8" cy="11" r="14" fill="#ccd2d8"/>
<circle cx="612" cy="8" r="24" fill="#d0d4d8"/>
<rect x="524" y="1.3" width="237.7" height="12" fill="#dedede"/>
<rect x="524" y="13.1" width="237.7" height="0.8" fill="#c4c4c4"/>
<g transform="rotate(45 532.2 7.2)">
<rect x="528.6" y="3.6" width="7.2" height="7.2" fill="none" rx="1.6" stroke="#2a4f9a" stroke-width="0.9"/>
</g>
<circle cx="530.6" cy="7.2" r="1.2" fill="#d0683a"/>
<circle cx="533.8" cy="7.2" r="1.2" fill="#d0683a"/>
<circle cx="532.2" cy="5.6" r="1.2" fill="#2a4f9a"/>
<circle cx="532.2" cy="8.8" r="1.2" fill="#2a4f9a"/>
<circle cx="532.2" cy="7.2" r="0.8" fill="#dedede"/>
<text x="538" y="8.3" font-size="4" fill="#2a4f9a" font-weight="bold" textLength="23" lengthAdjust="spacingAndGlyphs">HealthClinic</text>
<text x="538.5" y="10.6" font-size="1.38" fill="#5a7ab0" stroke="#5a7ab0" stroke-width="0.07">health and clinic</text>
<text x="570.8" y="8.6" font-size="3" fill="#4a78b8" stroke="#4a78b8" stroke-width="0.15" textLength="8.7" lengthAdjust="spacingAndGlyphs">HOME</text>
<text x="588.5" y="8.6" font-size="3" fill="#4a78b8" stroke="#4a78b8" stroke-width="0.15" textLength="19.5" lengthAdjust="spacingAndGlyphs">DASHBOARD</text>
<text x="618" y="8.6" font-size="3" fill="#4a78b8" stroke="#4a78b8" stroke-width="0.15" textLength="16" lengthAdjust="spacingAndGlyphs">LOCATIONS</text>
<text x="646" y="8.6" font-size="3" fill="#4a78b8" stroke="#4a78b8" stroke-width="0.15" textLength="9" lengthAdjust="spacingAndGlyphs">ADMIN</text>
<rect x="588.3" y="11.9" width="19.9" height="1" fill="#2a5ea8"/>
<rect x="755.1" y="5.95" width="2.4" height="0.5" fill="#888"/>
<rect x="755.1" y="6.85" width="2.4" height="0.5" fill="#888"/>
<rect x="755.1" y="7.75" width="2.4" height="0.5" fill="#888"/>
<text x="534.4" y="32.6" font-size="6.2" fill="#2a5ea8" font-weight="bold" textLength="30.6" lengthAdjust="spacingAndGlyphs">Health Data</text>
<text x="534.4" y="37.6" font-size="2.3" fill="#2a5ea8" stroke="#2a5ea8" stroke-width="0.12" font-weight="bold" textLength="60.3" lengthAdjust="spacingAndGlyphs">For Informed Strategic Planning (Quarterly Report)</text>
<text x="534.4" y="41.6" font-size="2.1" fill="#7e7e7e" stroke="#7e7e7e" stroke-width="0.1" textLength="60.3" lengthAdjust="spacingAndGlyphs" >The healthcare dashboard provides you with the most important metrics</text>
<text x="534.4" y="44.2" font-size="2.1" fill="#7e7e7e" stroke="#7e7e7e" stroke-width="0.1" textLength="60.3" lengthAdjust="spacingAndGlyphs" >concerning various divisions the number of patients that were admitted in the</text>
<text x="534.4" y="46.8" font-size="2.1" fill="#7e7e7e" stroke="#7e7e7e" stroke-width="0.1" textLength="60.3" lengthAdjust="spacingAndGlyphs" >facility how long they stayed and where their treatment was drawn and the</text>
<text x="534.4" y="49.4" font-size="2.1" fill="#7e7e7e" stroke="#7e7e7e" stroke-width="0.1" textLength="60.3" lengthAdjust="spacingAndGlyphs" >average waiting time in emergency rooms Such a holistic view helps identify</text>
<text x="534.4" y="52" font-size="2.1" fill="#7e7e7e" stroke="#7e7e7e" stroke-width="0.1" textLength="60.3" lengthAdjust="spacingAndGlyphs" >potential bottlenecks and allocate resources where they are needed most in</text>
<text x="534.4" y="54.6" font-size="2.1" fill="#7e7e7e" stroke="#7e7e7e" stroke-width="0.1" textLength="60.3" lengthAdjust="spacingAndGlyphs" >order to make better informed decisions that will improve the overall operational</text>
<text x="534.4" y="57.2" font-size="2.1" fill="#7e7e7e" stroke="#7e7e7e" stroke-width="0.1" textLength="60.3" lengthAdjust="spacingAndGlyphs" >performance with the goal of making patient visits and treatments fast and</text>
<text x="534.4" y="59.8" font-size="2.1" fill="#7e7e7e" stroke="#7e7e7e" stroke-width="0.1" textLength="60.3" lengthAdjust="spacingAndGlyphs" >convenient The healthcare dashboard provides you with the most important</text>
<text x="534.4" y="62.4" font-size="2.1" fill="#7e7e7e" stroke="#7e7e7e" stroke-width="0.1" textLength="39.2" lengthAdjust="spacingAndGlyphs" >metrics concerning various divisions the number of</text>
<rect x="603.3" y="15" width="148.7" height="61.4" fill="#d9d9d9" rx="0.8"/>
<text x="605.8" y="19.6" font-size="2" fill="#6a7a90" stroke="#6a7a90" stroke-width="0.1">Wait Rate (min)</text>
<circle cx="613" cy="24.4" r="0.5" fill="#4a88c0"/>
<text x="614" y="24.9" font-size="1.84" fill="#8a9ab0" stroke="#8a9ab0" stroke-width="0.09">ER Waiting Time</text>
<circle cx="629" cy="24.4" r="0.5" fill="#2a4a80"/>
<text x="630" y="24.9" font-size="1.84" fill="#8a9ab0" stroke="#8a9ab0" stroke-width="0.09">Average</text>
<line x1="612" y1="28" x2="750" y2="28" stroke="#cdcdcd" stroke-width="0.3"/>
<text x="610" y="28.5" font-size="1.61" fill="#8a8a8a" stroke="#8a8a8a" stroke-width="0.08" text-anchor="end">9</text>
<line x1="612" y1="33.26" x2="750" y2="33.26" stroke="#cdcdcd" stroke-width="0.3"/>
<text x="610" y="33.76" font-size="1.61" fill="#8a8a8a" stroke="#8a8a8a" stroke-width="0.08" text-anchor="end">8</text>
<line x1="612" y1="38.51" x2="750" y2="38.51" stroke="#cdcdcd" stroke-width="0.3"/>
<text x="610" y="39.01" font-size="1.61" fill="#8a8a8a" stroke="#8a8a8a" stroke-width="0.08" text-anchor="end">7</text>
<line x1="612" y1="43.77" x2="750" y2="43.77" stroke="#cdcdcd" stroke-width="0.3"/>
<text x="610" y="44.27" font-size="1.61" fill="#8a8a8a" stroke="#8a8a8a" stroke-width="0.08" text-anchor="end">6</text>
<line x1="612" y1="49.03" x2="750" y2="49.03" stroke="#cdcdcd" stroke-width="0.3"/>
<text x="610" y="49.53" font-size="1.61" fill="#8a8a8a" stroke="#8a8a8a" stroke-width="0.08" text-anchor="end">5</text>
<line x1="612" y1="54.29" x2="750" y2="54.29" stroke="#cdcdcd" stroke-width="0.3"/>
<text x="610" y="54.79" font-size="1.61" fill="#8a8a8a" stroke="#8a8a8a" stroke-width="0.08" text-anchor="end">4</text>
<line x1="612" y1="59.54" x2="750" y2="59.54" stroke="#cdcdcd" stroke-width="0.3"/>
<text x="610" y="60.04" font-size="1.61" fill="#8a8a8a" stroke="#8a8a8a" stroke-width="0.08" text-anchor="end">3</text>
<line x1="612" y1="64.8" x2="750" y2="64.8" stroke="#cdcdcd" stroke-width="0.3"/>
<text x="610" y="65.3" font-size="1.61" fill="#8a8a8a" stroke="#8a8a8a" stroke-width="0.08" text-anchor="end">2</text>
<line x1="612" y1="49.5" x2="750" y2="49.5" stroke="#b8bcc4" stroke-width="0.35" stroke-dasharray="1,0.6"/>
<rect x="614.78" y="34" width="1.44" height="19.7" fill="#5a90bf" rx="0.5"/>
<rect x="614.78" y="55.3" width="1.44" height="1.5" fill="#5a90bf" rx="0.5"/>
<text x="615.5" y="69" font-size="1.5" fill="#9a9a9a" stroke="#9a9a9a" stroke-width="0.07" text-anchor="end" transform="rotate(-45 615.5 68)">2019</text>
<rect x="621.28" y="37" width="1.44" height="3.4" fill="#5a90bf" rx="0.5"/>
<text x="622" y="69" font-size="1.5" fill="#9a9a9a" stroke="#9a9a9a" stroke-width="0.07" text-anchor="end" transform="rotate(-45 622 68)">2019</text>
<rect x="627.68" y="37.6" width="1.44" height="13.8" fill="#5a90bf" rx="0.5"/>
<rect x="627.68" y="54.5" width="1.44" height="5.3" fill="#5a90bf" rx="0.5"/>
<rect x="627.68" y="61.2" width="1.44" height="1.2" fill="#5a90bf" rx="0.5"/>
<text x="628.4" y="69" font-size="1.5" fill="#9a9a9a" stroke="#9a9a9a" stroke-width="0.07" text-anchor="end" transform="rotate(-45 628.4 68)">2019</text>
<rect x="634.28" y="37.9" width="1.44" height="11.9" fill="#5a90bf" rx="0.5"/>
<rect x="634.28" y="52.6" width="1.44" height="2" fill="#5a90bf" rx="0.5"/>
<text x="635" y="69" font-size="1.5" fill="#9a9a9a" stroke="#9a9a9a" stroke-width="0.07" text-anchor="end" transform="rotate(-45 635 68)">2019</text>
<rect x="640.78" y="30" width="1.44" height="1.2" fill="#5a90bf" rx="0.5"/>
<rect x="640.78" y="33.2" width="1.44" height="2.5" fill="#5a90bf" rx="0.5"/>
<text x="641.5" y="69" font-size="1.5" fill="#9a9a9a" stroke="#9a9a9a" stroke-width="0.07" text-anchor="end" transform="rotate(-45 641.5 68)">2019</text>
<rect x="647.28" y="41.3" width="1.44" height="1.5" fill="#5a90bf" rx="0.5"/>
<text x="648" y="69" font-size="1.5" fill="#9a9a9a" stroke="#9a9a9a" stroke-width="0.07" text-anchor="end" transform="rotate(-45 648 68)">2019</text>
<rect x="653.88" y="30.2" width="1.44" height="18.6" fill="#5a90bf" rx="0.5"/>
<rect x="653.88" y="50.3" width="1.44" height="8.5" fill="#5a90bf" rx="0.5"/>
<rect x="653.88" y="59.8" width="1.44" height="1" fill="#5a90bf" rx="0.5"/>
<rect x="653.88" y="61.5" width="1.44" height="1" fill="#5a90bf" rx="0.5"/>
<text x="654.6" y="69" font-size="1.5" fill="#9a9a9a" stroke="#9a9a9a" stroke-width="0.07" text-anchor="end" transform="rotate(-45 654.6 68)">2019</text>
<rect x="660.28" y="34" width="1.44" height="1" fill="#5a90bf" rx="0.5"/>
<rect x="660.28" y="36.1" width="1.44" height="1" fill="#5a90bf" rx="0.5"/>
<rect x="660.28" y="40.1" width="1.44" height="6.5" fill="#5a90bf" rx="0.5"/>
<rect x="660.28" y="48" width="1.44" height="3.2" fill="#5a90bf" rx="0.5"/>
<text x="661" y="69" font-size="1.5" fill="#9a9a9a" stroke="#9a9a9a" stroke-width="0.07" text-anchor="end" transform="rotate(-45 661 68)">2019</text>
<rect x="666.98" y="37.2" width="1.44" height="7" fill="#5a90bf" rx="0.5"/>
<rect x="666.98" y="46.1" width="1.44" height="1.5" fill="#5a90bf" rx="0.5"/>
<text x="667.7" y="69" font-size="1.5" fill="#9a9a9a" stroke="#9a9a9a" stroke-width="0.07" text-anchor="end" transform="rotate(-45 667.7 68)">2019</text>
<rect x="673.48" y="37.8" width="1.44" height="1.7" fill="#5a90bf" rx="0.5"/>
<rect x="673.48" y="41" width="1.44" height="1.4" fill="#5a90bf" rx="0.5"/>
<text x="674.2" y="69" font-size="1.5" fill="#9a9a9a" stroke="#9a9a9a" stroke-width="0.07" text-anchor="end" transform="rotate(-45 674.2 68)">2019</text>
<rect x="679.98" y="37.4" width="1.44" height="20.6" fill="#5a90bf" rx="0.5"/>
<rect x="679.98" y="58.5" width="1.44" height="0.9" fill="#5a90bf" rx="0.5"/>
<text x="680.7" y="69" font-size="1.5" fill="#9a9a9a" stroke="#9a9a9a" stroke-width="0.07" text-anchor="end" transform="rotate(-45 680.7 68)">2019</text>
<rect x="686.48" y="30.4" width="1.44" height="0.9" fill="#5a90bf" rx="0.5"/>
<rect x="686.48" y="32.5" width="1.44" height="2.5" fill="#5a90bf" rx="0.5"/>
<rect x="686.48" y="36" width="1.44" height="3.6" fill="#5a90bf" rx="0.5"/>
<text x="687.2" y="69" font-size="1.5" fill="#9a9a9a" stroke="#9a9a9a" stroke-width="0.07" text-anchor="end" transform="rotate(-45 687.2 68)">2019</text>
<rect x="692.78" y="41.5" width="1.44" height="1.3" fill="#5a90bf" rx="0.5"/>
<rect x="692.78" y="43.5" width="1.44" height="2.5" fill="#5a90bf" rx="0.5"/>
<rect x="692.78" y="47.5" width="1.44" height="1.3" fill="#5a90bf" rx="0.5"/>
<text x="693.5" y="69" font-size="1.5" fill="#9a9a9a" stroke="#9a9a9a" stroke-width="0.07" text-anchor="end" transform="rotate(-45 693.5 68)">2019</text>
<rect x="699.38" y="30.2" width="1.44" height="1.8" fill="#5a90bf" rx="0.5"/>
<rect x="699.38" y="33.3" width="1.44" height="2.3" fill="#5a90bf" rx="0.5"/>
<rect x="699.38" y="37.1" width="1.44" height="1.5" fill="#5a90bf" rx="0.5"/>
<text x="700.1" y="69" font-size="1.5" fill="#9a9a9a" stroke="#9a9a9a" stroke-width="0.07" text-anchor="end" transform="rotate(-45 700.1 68)">2019</text>
<rect x="707.78" y="34.2" width="1.44" height="19.3" fill="#5a90bf" rx="0.5"/>
<rect x="707.78" y="55.6" width="1.44" height="1.4" fill="#5a90bf" rx="0.5"/>
<text x="708.5" y="69" font-size="1.5" fill="#9a9a9a" stroke="#9a9a9a" stroke-width="0.07" text-anchor="end" transform="rotate(-45 708.5 68)">2019</text>
<rect x="714.18" y="37.1" width="1.44" height="3.3" fill="#5a90bf" rx="0.5"/>
<text x="714.9" y="69" font-size="1.5" fill="#9a9a9a" stroke="#9a9a9a" stroke-width="0.07" text-anchor="end" transform="rotate(-45 714.9 68)">2019</text>
<rect x="720.68" y="37.8" width="1.44" height="13.6" fill="#5a90bf" rx="0.5"/>
<rect x="720.68" y="54.6" width="1.44" height="5.2" fill="#5a90bf" rx="0.5"/>
<rect x="720.68" y="61" width="1.44" height="1.2" fill="#5a90bf" rx="0.5"/>
<text x="721.4" y="69" font-size="1.5" fill="#9a9a9a" stroke="#9a9a9a" stroke-width="0.07" text-anchor="end" transform="rotate(-45 721.4 68)">2019</text>
<rect x="727.28" y="38" width="1.44" height="11.8" fill="#5a90bf" rx="0.5"/>
<rect x="727.28" y="52.6" width="1.44" height="2" fill="#5a90bf" rx="0.5"/>
<text x="728" y="69" font-size="1.5" fill="#9a9a9a" stroke="#9a9a9a" stroke-width="0.07" text-anchor="end" transform="rotate(-45 728 68)">2019</text>
<rect x="733.78" y="30.4" width="1.44" height="0.9" fill="#5a90bf" rx="0.5"/>
<rect x="733.78" y="33" width="1.44" height="2.7" fill="#5a90bf" rx="0.5"/>
<text x="734.5" y="69" font-size="1.5" fill="#9a9a9a" stroke="#9a9a9a" stroke-width="0.07" text-anchor="end" transform="rotate(-45 734.5 68)">2019</text>
<rect x="740.18" y="41.3" width="1.44" height="1.5" fill="#5a90bf" rx="0.5"/>
<text x="740.9" y="69" font-size="1.5" fill="#9a9a9a" stroke="#9a9a9a" stroke-width="0.07" text-anchor="end" transform="rotate(-45 740.9 68)">2019</text>
<rect x="534" y="79.7" width="25" height="15.6" fill="#d9d9d9" rx="0.6"/>
<text x="546.5" y="83.6" font-size="2.18" fill="#5a6a88" stroke="#5a6a88" stroke-width="0.11" text-anchor="middle">Total Patients</text>
<text x="548" y="89.3" font-size="4.2" fill="#4a74b4" text-anchor="middle" font-family="'Liberation Serif',serif" font-weight="bold">50,001</text>
<text x="538" y="88.8" font-size="2.2" fill="#4caf50" stroke="#4caf50" stroke-width="0.11" text-anchor="middle">▲</text>
<text x="546.5" y="92.3" font-size="1.38" fill="#9aa0a8" stroke="#9aa0a8" stroke-width="0.07" text-anchor="middle">+4% higher than last year</text>
<rect x="560.3" y="79.7" width="26.2" height="15.6" fill="#d9d9d9" rx="0.6"/>
<text x="573.4" y="83.6" font-size="2.18" fill="#5a6a88" stroke="#5a6a88" stroke-width="0.11" text-anchor="middle">Total Admissions</text>
<text x="574.9" y="89.3" font-size="4.2" fill="#4a74b4" text-anchor="middle" font-family="'Liberation Serif',serif" font-weight="bold">34,863</text>
<text x="564.9" y="88.8" font-size="2.2" fill="#e04848" stroke="#e04848" stroke-width="0.11" text-anchor="middle">▼</text>
<text x="573.4" y="92.3" font-size="1.38" fill="#9aa0a8" stroke="#9aa0a8" stroke-width="0.07" text-anchor="middle">+4% higher than last year</text>
<rect x="587.8" y="79.7" width="25.6" height="15.6" fill="#d9d9d9" rx="0.6"/>
<text x="600.6" y="83.6" font-size="2.18" fill="#5a6a88" stroke="#5a6a88" stroke-width="0.11" text-anchor="middle">Avg Treatment Cost</text>
<text x="602.1" y="89.3" font-size="4.2" fill="#4a74b4" text-anchor="middle" font-family="'Liberation Serif',serif" font-weight="bold">8,742</text>
<text x="592.1" y="88.8" font-size="2.2" fill="#4caf50" stroke="#4caf50" stroke-width="0.11" text-anchor="middle">▲</text>
<text x="600.6" y="92.3" font-size="1.38" fill="#9aa0a8" stroke="#9aa0a8" stroke-width="0.07" text-anchor="middle">+4% higher than last year</text>
<rect x="614.8" y="79.7" width="25.5" height="15.6" fill="#d9d9d9" rx="0.6"/>
<text x="627.55" y="83.6" font-size="2.18" fill="#5a6a88" stroke="#5a6a88" stroke-width="0.11" text-anchor="middle">Avg ER Wait Time</text>
<text x="629.05" y="89.3" font-size="4.2" fill="#4a74b4" text-anchor="middle" font-family="'Liberation Serif',serif" font-weight="bold">53 min</text>
<text x="619.05" y="88.8" font-size="2.2" fill="#e04848" stroke="#e04848" stroke-width="0.11" text-anchor="middle">▼</text>
<text x="627.55" y="92.3" font-size="1.38" fill="#9aa0a8" stroke="#9aa0a8" stroke-width="0.07" text-anchor="middle">+4% higher than last year</text>
<rect x="534" y="98.3" width="107" height="41.2" fill="#d9d9d9" rx="0.6"/>
<text x="535.3" y="101.4" font-size="2.1" fill="#3a5a8a" stroke="#3a5a8a" stroke-width="0.1" font-weight="bold">Patients by Division</text>
<rect x="535.3" y="105" width="103.4" height="4" fill="#c9d2dc"/>
<text x="537.5" y="107.8" font-size="1.72" fill="#7a8494" stroke="#7a8494" stroke-width="0.09">Division</text>
<text x="577" y="107.8" font-size="1.72" fill="#7a8494" stroke="#7a8494" stroke-width="0.09">Inpatient</text>
<text x="612" y="107.8" font-size="1.72" fill="#7a8494" stroke="#7a8494" stroke-width="0.09">Outpatient</text>
<rect x="535.3" y="109" width="103.4" height="4.1" fill="#d7dbe0"/>
<line x1="535.3" y1="113.1" x2="638.7" y2="113.1" stroke="#c8ced6" stroke-width="0.25"/>
<text x="537.5" y="111.8" font-size="1.72" fill="#8a8a8a" stroke="#8a8a8a" stroke-width="0.09">Anatomy</text>
<text x="604" y="111.8" font-size="1.61" fill="#9a9a9a" stroke="#9a9a9a" stroke-width="0.08" text-anchor="end">3,271</text>
<text x="637" y="111.8" font-size="1.61" fill="#9a9a9a" stroke="#9a9a9a" stroke-width="0.08" text-anchor="end">7,212</text>
<rect x="535.3" y="113.1" width="103.4" height="4.1" fill="#d9d9d9"/>
<line x1="535.3" y1="117.2" x2="638.7" y2="117.2" stroke="#c8ced6" stroke-width="0.25"/>
<text x="537.5" y="115.9" font-size="1.72" fill="#8a8a8a" stroke="#8a8a8a" stroke-width="0.09">Cardiology</text>
<text x="604" y="115.9" font-size="1.61" fill="#9a9a9a" stroke="#9a9a9a" stroke-width="0.08" text-anchor="end">3,271</text>
<text x="637" y="115.9" font-size="1.61" fill="#9a9a9a" stroke="#9a9a9a" stroke-width="0.08" text-anchor="end">7,212</text>
<rect x="535.3" y="117.2" width="103.4" height="4.1" fill="#d7dbe0"/>
<line x1="535.3" y1="121.3" x2="638.7" y2="121.3" stroke="#c8ced6" stroke-width="0.25"/>
<text x="537.5" y="120" font-size="1.72" fill="#8a8a8a" stroke="#8a8a8a" stroke-width="0.09">Dermatology</text>
<text x="604" y="120" font-size="1.61" fill="#9a9a9a" stroke="#9a9a9a" stroke-width="0.08" text-anchor="end">3,271</text>
<text x="637" y="120" font-size="1.61" fill="#9a9a9a" stroke="#9a9a9a" stroke-width="0.08" text-anchor="end">7,212</text>
<rect x="535.3" y="121.3" width="103.4" height="4.1" fill="#d9d9d9"/>
<line x1="535.3" y1="125.4" x2="638.7" y2="125.4" stroke="#c8ced6" stroke-width="0.25"/>
<text x="537.5" y="124.1" font-size="1.72" fill="#8a8a8a" stroke="#8a8a8a" stroke-width="0.09">Neurology</text>
<text x="604" y="124.1" font-size="1.61" fill="#9a9a9a" stroke="#9a9a9a" stroke-width="0.08" text-anchor="end">3,271</text>
<text x="637" y="124.1" font-size="1.61" fill="#9a9a9a" stroke="#9a9a9a" stroke-width="0.08" text-anchor="end">7,212</text>
<rect x="535.3" y="125.4" width="103.4" height="4.1" fill="#d7dbe0"/>
<line x1="535.3" y1="129.5" x2="638.7" y2="129.5" stroke="#c8ced6" stroke-width="0.25"/>
<text x="537.5" y="128.2" font-size="1.72" fill="#8a8a8a" stroke="#8a8a8a" stroke-width="0.09">Oncology</text>
<text x="604" y="128.2" font-size="1.61" fill="#9a9a9a" stroke="#9a9a9a" stroke-width="0.08" text-anchor="end">3,271</text>
<text x="637" y="128.2" font-size="1.61" fill="#9a9a9a" stroke="#9a9a9a" stroke-width="0.08" text-anchor="end">7,212</text>
<rect x="535.3" y="129.5" width="103.4" height="4.1" fill="#d9d9d9"/>
<line x1="535.3" y1="133.6" x2="638.7" y2="133.6" stroke="#c8ced6" stroke-width="0.25"/>
<text x="537.5" y="132.3" font-size="1.72" fill="#8a8a8a" stroke="#8a8a8a" stroke-width="0.09">Orthopedics</text>
<text x="604" y="132.3" font-size="1.61" fill="#9a9a9a" stroke="#9a9a9a" stroke-width="0.08" text-anchor="end">3,271</text>
<text x="637" y="132.3" font-size="1.61" fill="#9a9a9a" stroke="#9a9a9a" stroke-width="0.08" text-anchor="end">7,212</text>
<rect x="535.3" y="133.6" width="103.4" height="4.1" fill="#d7dbe0"/>
<line x1="535.3" y1="137.7" x2="638.7" y2="137.7" stroke="#c8ced6" stroke-width="0.25"/>
<text x="537.5" y="136.4" font-size="1.72" fill="#8a8a8a" stroke="#8a8a8a" stroke-width="0.09">Radiology</text>
<text x="604" y="136.4" font-size="1.61" fill="#9a9a9a" stroke="#9a9a9a" stroke-width="0.08" text-anchor="end">3,271</text>
<text x="637" y="136.4" font-size="1.61" fill="#9a9a9a" stroke="#9a9a9a" stroke-width="0.08" text-anchor="end">7,212</text>
<line x1="570.5" y1="105" x2="570.5" y2="137.8" stroke="#c8ced6" stroke-width="0.3"/>
<line x1="606.4" y1="105" x2="606.4" y2="137.8" stroke="#c8ced6" stroke-width="0.3"/>
<rect x="644.6" y="79.9" width="107.8" height="60.3" fill="#d9d9d9" rx="0.6"/>
<text x="647" y="83.4" font-size="2.18" fill="#3a5a8a" stroke="#3a5a8a" stroke-width="0.11" font-weight="bold">Outpatients vs Inpatients</text>
<rect x="651.5" y="87.6" width="1" height="1" fill="#6a9cc0"/>
<text x="653" y="88.5" font-size="1.61" fill="#8a8a8a" stroke="#8a8a8a" stroke-width="0.08">Outpatients</text>
<rect x="665.5" y="87.6" width="1" height="1" fill="#4a58a8"/>
<text x="667" y="88.5" font-size="1.61" fill="#8a8a8a" stroke="#8a8a8a" stroke-width="0.08">Inpatients</text>
<line x1="652" y1="92" x2="748" y2="92" stroke="#cfcfcf" stroke-width="0.25"/>
<text x="650.5" y="92.5" font-size="1.49" fill="#8a8a8a" stroke="#8a8a8a" stroke-width="0.07" text-anchor="end">70</text>
<line x1="652" y1="97.27" x2="748" y2="97.27" stroke="#cfcfcf" stroke-width="0.25"/>
<text x="650.5" y="97.77" font-size="1.49" fill="#8a8a8a" stroke="#8a8a8a" stroke-width="0.07" text-anchor="end">60</text>
<line x1="652" y1="102.54" x2="748" y2="102.54" stroke="#cfcfcf" stroke-width="0.25"/>
<text x="650.5" y="103.04" font-size="1.49" fill="#8a8a8a" stroke="#8a8a8a" stroke-width="0.07" text-anchor="end">50</text>
<line x1="652" y1="107.81" x2="748" y2="107.81" stroke="#cfcfcf" stroke-width="0.25"/>
<text x="650.5" y="108.31" font-size="1.49" fill="#8a8a8a" stroke="#8a8a8a" stroke-width="0.07" text-anchor="end">40</text>
<line x1="652" y1="113.09" x2="748" y2="113.09" stroke="#cfcfcf" stroke-width="0.25"/>
<text x="650.5" y="113.59" font-size="1.49" fill="#8a8a8a" stroke="#8a8a8a" stroke-width="0.07" text-anchor="end">30</text>
<line x1="652" y1="118.36" x2="748" y2="118.36" stroke="#cfcfcf" stroke-width="0.25"/>
<text x="650.5" y="118.86" font-size="1.49" fill="#8a8a8a" stroke="#8a8a8a" stroke-width="0.07" text-anchor="end">20</text>
<line x1="652" y1="123.63" x2="748" y2="123.63" stroke="#cfcfcf" stroke-width="0.25"/>
<text x="650.5" y="124.13" font-size="1.49" fill="#8a8a8a" stroke="#8a8a8a" stroke-width="0.07" text-anchor="end">10</text>
<line x1="652" y1="128.9" x2="748" y2="128.9" stroke="#cfcfcf" stroke-width="0.25"/>
<text x="650.5" y="129.4" font-size="1.49" fill="#8a8a8a" stroke="#8a8a8a" stroke-width="0.07" text-anchor="end">0</text>
<rect x="655" y="115.6" width="2.1" height="13.3" fill="#6a9cc0"/>
<rect x="657.5" y="118.3" width="2.1" height="10.6" fill="#4a58a8"/>
<text x="657.5" y="133" font-size="1.49" fill="#9a9a9a" stroke="#9a9a9a" stroke-width="0.07" text-anchor="end" transform="rotate(-45 657.5 132)">2019</text>
<rect x="662.66" y="113.3" width="2.1" height="15.6" fill="#6a9cc0"/>
<rect x="665.16" y="119" width="2.1" height="9.9" fill="#4a58a8"/>
<text x="665.16" y="133" font-size="1.49" fill="#9a9a9a" stroke="#9a9a9a" stroke-width="0.07" text-anchor="end" transform="rotate(-45 665.16 132)">2019</text>
<rect x="670.32" y="111" width="2.1" height="17.9" fill="#6a9cc0"/>
<rect x="672.82" y="117.8" width="2.1" height="11.1" fill="#4a58a8"/>
<text x="672.82" y="133" font-size="1.49" fill="#9a9a9a" stroke="#9a9a9a" stroke-width="0.07" text-anchor="end" transform="rotate(-45 672.82 132)">2019</text>
<rect x="677.98" y="115.3" width="2.1" height="13.6" fill="#6a9cc0"/>
<rect x="680.48" y="116.8" width="2.1" height="12.1" fill="#4a58a8"/>
<text x="680.48" y="133" font-size="1.49" fill="#9a9a9a" stroke="#9a9a9a" stroke-width="0.07" text-anchor="end" transform="rotate(-45 680.48 132)">2019</text>
<rect x="685.64" y="104.5" width="2.1" height="24.4" fill="#6a9cc0"/>
<rect x="688.14" y="113.6" width="2.1" height="15.3" fill="#4a58a8"/>
<text x="688.14" y="133" font-size="1.49" fill="#9a9a9a" stroke="#9a9a9a" stroke-width="0.07" text-anchor="end" transform="rotate(-45 688.14 132)">2019</text>
<rect x="693.3" y="121.3" width="2.1" height="7.6" fill="#6a9cc0"/>
<rect x="695.8" y="122.1" width="2.1" height="6.8" fill="#4a58a8"/>
<text x="695.8" y="133" font-size="1.49" fill="#9a9a9a" stroke="#9a9a9a" stroke-width="0.07" text-anchor="end" transform="rotate(-45 695.8 132)">2019</text>
<rect x="700.96" y="111" width="2.1" height="17.9" fill="#6a9cc0"/>
<rect x="703.46" y="118" width="2.1" height="10.9" fill="#4a58a8"/>
<text x="703.46" y="133" font-size="1.49" fill="#9a9a9a" stroke="#9a9a9a" stroke-width="0.07" text-anchor="end" transform="rotate(-45 703.46 132)">2019</text>
<rect x="708.62" y="119.4" width="2.1" height="9.5" fill="#6a9cc0"/>
<rect x="711.12" y="120.1" width="2.1" height="8.8" fill="#4a58a8"/>
<text x="711.12" y="133" font-size="1.49" fill="#9a9a9a" stroke="#9a9a9a" stroke-width="0.07" text-anchor="end" transform="rotate(-45 711.12 132)">2019</text>
<rect x="716.28" y="110" width="2.1" height="18.9" fill="#6a9cc0"/>
<rect x="718.78" y="116.8" width="2.1" height="12.1" fill="#4a58a8"/>
<text x="718.78" y="133" font-size="1.49" fill="#9a9a9a" stroke="#9a9a9a" stroke-width="0.07" text-anchor="end" transform="rotate(-45 718.78 132)">2019</text>
<rect x="723.94" y="108.3" width="2.1" height="20.6" fill="#6a9cc0"/>
<rect x="726.44" y="115.9" width="2.1" height="13" fill="#4a58a8"/>
<text x="726.44" y="133" font-size="1.49" fill="#9a9a9a" stroke="#9a9a9a" stroke-width="0.07" text-anchor="end" transform="rotate(-45 726.44 132)">2019</text>
<rect x="731.6" y="113.7" width="2.1" height="15.2" fill="#6a9cc0"/>
<rect x="734.1" y="116.6" width="2.1" height="12.3" fill="#4a58a8"/>
<text x="734.1" y="133" font-size="1.49" fill="#9a9a9a" stroke="#9a9a9a" stroke-width="0.07" text-anchor="end" transform="rotate(-45 734.1 132)">2019</text>
<rect x="739.26" y="106.9" width="2.1" height="22" fill="#6a9cc0"/>
<rect x="741.76" y="115" width="2.1" height="13.9" fill="#4a58a8"/>
<text x="741.76" y="133" font-size="1.49" fill="#9a9a9a" stroke="#9a9a9a" stroke-width="0.07" text-anchor="end" transform="rotate(-45 741.76 132)">2019</text>
</g>
<clipPath id="cp4"><rect x="788" y="1.3" width="237.7" height="146.2" rx="3.5"/></clipPath>
<g clip-path="url(#cp4)">
<rect x="788" y="1.3" width="237.7" height="146.2" fill="#d5d5d5"/>
<rect x="788" y="1.3" width="237.7" height="12" fill="#dedede"/>
<rect x="788" y="13.1" width="237.7" height="0.8" fill="#c4c4c4"/>
<g transform="rotate(45 796.2 7.2)">
<rect x="792.6" y="3.6" width="7.2" height="7.2" fill="none" rx="1.6" stroke="#2a4f9a" stroke-width="0.9"/>
</g>
<circle cx="794.6" cy="7.2" r="1.2" fill="#d0683a"/>
<circle cx="797.8" cy="7.2" r="1.2" fill="#d0683a"/>
<circle cx="796.2" cy="5.6" r="1.2" fill="#2a4f9a"/>
<circle cx="796.2" cy="8.8" r="1.2" fill="#2a4f9a"/>
<circle cx="796.2" cy="7.2" r="0.8" fill="#dedede"/>
<text x="802" y="8.3" font-size="4" fill="#2a4f9a" font-weight="bold" textLength="23" lengthAdjust="spacingAndGlyphs">HealthClinic</text>
<text x="802.5" y="10.6" font-size="1.38" fill="#5a7ab0" stroke="#5a7ab0" stroke-width="0.07">health and clinic</text>
<text x="834.8" y="8.6" font-size="3" fill="#4a78b8" stroke="#4a78b8" stroke-width="0.15" textLength="8.7" lengthAdjust="spacingAndGlyphs">HOME</text>
<text x="852.5" y="8.6" font-size="3" fill="#4a78b8" stroke="#4a78b8" stroke-width="0.15" textLength="19.5" lengthAdjust="spacingAndGlyphs">DASHBOARD</text>
<text x="882" y="8.6" font-size="3" fill="#4a78b8" stroke="#4a78b8" stroke-width="0.15" textLength="16" lengthAdjust="spacingAndGlyphs">LOCATIONS</text>
<text x="910" y="8.6" font-size="3" fill="#4a78b8" stroke="#4a78b8" stroke-width="0.15" textLength="9" lengthAdjust="spacingAndGlyphs">ADMIN</text>
<rect x="852.3" y="11.9" width="19.9" height="1" fill="#2a5ea8"/>
<rect x="1019.1" y="5.95" width="2.4" height="0.5" fill="#888"/>
<rect x="1019.1" y="6.85" width="2.4" height="0.5" fill="#888"/>
<rect x="1019.1" y="7.75" width="2.4" height="0.5" fill="#888"/>
<text x="797.9" y="27.7" font-size="5.6" fill="#2c5fa0" font-weight="bold" textLength="107.5" lengthAdjust="spacingAndGlyphs">How are hospitals preparing for increasing</text>
<text x="797.9" y="34.1" font-size="5.6" fill="#2c5fa0" font-weight="bold" textLength="92" lengthAdjust="spacingAndGlyphs">number of patients during COVID-19?</text>
<text x="797.9" y="41.9" font-size="2.1" fill="#8c8c8c" stroke="#8c8c8c" stroke-width="0.1" textLength="77" lengthAdjust="spacingAndGlyphs" >with the most important metrics concerning various divisions the number of patients that were</text>
<text x="797.9" y="44.95" font-size="2.1" fill="#8c8c8c" stroke="#8c8c8c" stroke-width="0.1" textLength="77" lengthAdjust="spacingAndGlyphs" >admitted in the facility how long they stayed and where their treatment was drawn and the</text>
<text x="797.9" y="48" font-size="2.1" fill="#8c8c8c" stroke="#8c8c8c" stroke-width="0.1" textLength="34.65" lengthAdjust="spacingAndGlyphs" >average waiting time in emergency rooms</text>
<text x="798.5" y="53.5" font-size="2.05" fill="#707070" stroke="#707070" stroke-width="0.1" textLength="68.5" lengthAdjust="spacingAndGlyphs">- Where the USA globally stands according to hospital bed capacity?</text>
<text x="798.5" y="56.45" font-size="2.05" fill="#707070" stroke="#707070" stroke-width="0.1" textLength="60" lengthAdjust="spacingAndGlyphs">- When and where to expect shortage of ICU beds in the US?</text>
<text x="798.5" y="59.4" font-size="2.05" fill="#707070" stroke="#707070" stroke-width="0.1" textLength="46" lengthAdjust="spacingAndGlyphs">- What are the sources of healthcare insurance?</text>
<g fill="none" stroke="#a9bccd" stroke-width="0.5">
<circle cx="902.3" cy="50.6" r="8.6" fill="none"/>
<line x1="910.77" y1="52.09" x2="914.58" y2="52.77" stroke="#a9bccd" stroke-width="0.5"/>
<circle cx="914.58" cy="52.77" r="1.03" fill="none"/>
<line x1="907.23" y1="57.64" x2="909.45" y2="60.81" stroke="#a9bccd" stroke-width="0.5"/>
<circle cx="909.45" cy="60.81" r="1.03" fill="none"/>
<line x1="900.81" y1="59.07" x2="900.13" y2="62.88" stroke="#a9bccd" stroke-width="0.5"/>
<circle cx="900.13" cy="62.88" r="1.03" fill="none"/>
<line x1="895.26" y1="55.53" x2="892.09" y2="57.75" stroke="#a9bccd" stroke-width="0.5"/>
<circle cx="892.09" cy="57.75" r="1.03" fill="none"/>
<line x1="893.83" y1="49.11" x2="890.02" y2="48.43" stroke="#a9bccd" stroke-width="0.5"/>
<circle cx="890.02" cy="48.43" r="1.03" fill="none"/>
<line x1="897.37" y1="43.56" x2="895.15" y2="40.39" stroke="#a9bccd" stroke-width="0.5"/>
<circle cx="895.15" cy="40.39" r="1.03" fill="none"/>
<line x1="903.79" y1="42.13" x2="904.47" y2="38.32" stroke="#a9bccd" stroke-width="0.5"/>
<circle cx="904.47" cy="38.32" r="1.03" fill="none"/>
<line x1="909.34" y1="45.67" x2="912.51" y2="43.45" stroke="#a9bccd" stroke-width="0.5"/>
<circle cx="912.51" cy="43.45" r="1.03" fill="none"/>
<circle cx="905.31" cy="48.88" r="1.89" fill="none"/>
<circle cx="899.72" cy="53.18" r="2.15" fill="none"/>
</g>
<g fill="none" stroke="#b0c0d0" stroke-width="0.45">
<circle cx="882" cy="63.8" r="5.4" fill="none"/>
<line x1="887.32" y1="64.74" x2="889.71" y2="65.16" stroke="#b0c0d0" stroke-width="0.45"/>
<circle cx="889.71" cy="65.16" r="0.65" fill="none"/>
<line x1="885.1" y1="68.22" x2="886.49" y2="70.21" stroke="#b0c0d0" stroke-width="0.45"/>
<circle cx="886.49" cy="70.21" r="0.65" fill="none"/>
<line x1="881.06" y1="69.12" x2="880.64" y2="71.51" stroke="#b0c0d0" stroke-width="0.45"/>
<circle cx="880.64" cy="71.51" r="0.65" fill="none"/>
<line x1="877.58" y1="66.9" x2="875.59" y2="68.29" stroke="#b0c0d0" stroke-width="0.45"/>
<circle cx="875.59" cy="68.29" r="0.65" fill="none"/>
<line x1="876.68" y1="62.86" x2="874.29" y2="62.44" stroke="#b0c0d0" stroke-width="0.45"/>
<circle cx="874.29" cy="62.44" r="0.65" fill="none"/>
<line x1="878.9" y1="59.38" x2="877.51" y2="57.39" stroke="#b0c0d0" stroke-width="0.45"/>
<circle cx="877.51" cy="57.39" r="0.65" fill="none"/>
<line x1="882.94" y1="58.48" x2="883.36" y2="56.09" stroke="#b0c0d0" stroke-width="0.45"/>
<circle cx="883.36" cy="56.09" r="0.65" fill="none"/>
<line x1="886.42" y1="60.7" x2="888.41" y2="59.31" stroke="#b0c0d0" stroke-width="0.45"/>
<circle cx="888.41" cy="59.31" r="0.65" fill="none"/>
<circle cx="883.89" cy="62.72" r="1.19" fill="none"/>
<circle cx="880.38" cy="65.42" r="1.35" fill="none"/>
</g>
<rect x="916.8" y="15.4" width="101.4" height="52.4" fill="#d9d9d9" rx="0.6"/>
<text x="918" y="18.3" font-size="1.95" fill="#5a6a80" stroke="#5a6a80" stroke-width="0.1">Projected Date Of ICU Bed Shortage By State</text>
<clipPath id="usclip"><path d="M925.7,22.9 L927.85,22.5 L942.24,25.55 L958.97,26.68 L958.97,26.03 L959.66,27.17 L963.81,27.85 L965.43,28.08 L967.24,27.62 L971.18,29.55 L971.71,29.98 L972.87,30.67 L971.62,31.16 L970.66,32.26 L969.81,32.19 L968.81,31.78 L968.17,34 L968.17,36.84 L968.81,38.29 L969.67,38.04 L970.21,37.15 L970.13,35.16 L969.59,33.54 L970.56,32.44 L971.5,31.17 L973.27,31.79 L973.33,33.12 L972.88,34.35 L973.6,35.09 L974.65,35.46 L975,36.08 L974.25,37.02 L973.96,37.73 L975.17,38.08 L976.94,37.14 L978.29,36.08 L979.1,34.93 L978.98,34.28 L981.4,33.82 L982.27,33.14 L981.93,32.19 L982.87,30.81 L983.54,30.49 L987.28,29.6 L987.73,28.97 L988.06,28.37 L988.13,27.32 L988.25,26.44 L988.82,25.08 L989.87,24.95 L990.53,25.1 L991.23,27.31 L992.6,28.46 L991.16,29.93 L990.13,30.74 L989.44,31.44 L989.04,32.76 L989.42,33.17 L989.12,33.94 L990.51,34.26 L990,34.75 L988.86,35.39 L987.34,36.11 L986.01,37.11 L986.13,37.6 L986.23,39.12 L985.61,40.45 L985.58,41.49 L985.34,42.22 L984.85,43.69 L985.53,44.92 L986.09,46.17 L984.99,47.59 L983.76,48.51 L982.58,49.75 L981.79,50.9 L980.22,52.68 L979.44,54.15 L979.37,55.51 L979.89,56.94 L981.28,58.9 L982.3,61.24 L982.61,63.02 L982.34,64.22 L981.23,64.23 L980.16,63.4 L979.17,62.05 L978.22,60.85 L977.91,59.73 L977.89,58.56 L976.72,57.72 L975.58,57.03 L973.9,57.89 L972.45,56.87 L970.56,57.22 L969.23,57.16 L967.78,57.6 L967.5,57.78 L968.19,59.06 L967.17,59.46 L965.83,59.54 L964.3,58.78 L962.21,58.53 L960,59.07 L959.12,60.24 L957.16,61.06 L956.09,62.37 L955.91,64.01 L956.21,65 L955.59,64.99 L953.29,63.95 L952.74,62.29 L951.58,60.92 L951.06,59.41 L949.93,58.36 L948.6,58.28 L947.61,59.54 L947.16,59.5 L945.48,58.21 L945.03,56.67 L943.57,55.19 L942.93,54.46 L940.49,54.17 L940.38,55 L936.35,54.44 L931.32,51.53 L931.52,51.24 L928.09,50.87 L928.08,49.67 L926.8,48.36 L925.87,47.45 L924.15,46.33 L924.1,44.94 L923.33,42.66 L922.96,41.51 L923.11,40.51 L922.57,40.01 L922.12,38.32 L922.44,36.84 L922,35.66 L922.65,34.46 L923.05,33.19 L923.1,31.81 L924.29,30.07 L925.15,27.73 L925.32,26.4 L925.67,25.29 L925.7,22.9 Z"/></clipPath>
<g clip-path="url(#usclip)">
<path d="M925.7,22.9 L927.85,22.5 L942.24,25.55 L958.97,26.68 L958.97,26.03 L959.66,27.17 L963.81,27.85 L965.43,28.08 L967.24,27.62 L971.18,29.55 L971.71,29.98 L972.87,30.67 L971.62,31.16 L970.66,32.26 L969.81,32.19 L968.81,31.78 L968.17,34 L968.17,36.84 L968.81,38.29 L969.67,38.04 L970.21,37.15 L970.13,35.16 L969.59,33.54 L970.56,32.44 L971.5,31.17 L973.27,31.79 L973.33,33.12 L972.88,34.35 L973.6,35.09 L974.65,35.46 L975,36.08 L974.25,37.02 L973.96,37.73 L975.17,38.08 L976.94,37.14 L978.29,36.08 L979.1,34.93 L978.98,34.28 L981.4,33.82 L982.27,33.14 L981.93,32.19 L982.87,30.81 L983.54,30.49 L987.28,29.6 L987.73,28.97 L988.06,28.37 L988.13,27.32 L988.25,26.44 L988.82,25.08 L989.87,24.95 L990.53,25.1 L991.23,27.31 L992.6,28.46 L991.16,29.93 L990.13,30.74 L989.44,31.44 L989.04,32.76 L989.42,33.17 L989.12,33.94 L990.51,34.26 L990,34.75 L988.86,35.39 L987.34,36.11 L986.01,37.11 L986.13,37.6 L986.23,39.12 L985.61,40.45 L985.58,41.49 L985.34,42.22 L984.85,43.69 L985.53,44.92 L986.09,46.17 L984.99,47.59 L983.76,48.51 L982.58,49.75 L981.79,50.9 L980.22,52.68 L979.44,54.15 L979.37,55.51 L979.89,56.94 L981.28,58.9 L982.3,61.24 L982.61,63.02 L982.34,64.22 L981.23,64.23 L980.16,63.4 L979.17,62.05 L978.22,60.85 L977.91,59.73 L977.89,58.56 L976.72,57.72 L975.58,57.03 L973.9,57.89 L972.45,56.87 L970.56,57.22 L969.23,57.16 L967.78,57.6 L967.5,57.78 L968.19,59.06 L967.17,59.46 L965.83,59.54 L964.3,58.78 L962.21,58.53 L960,59.07 L959.12,60.24 L957.16,61.06 L956.09,62.37 L955.91,64.01 L956.21,65 L955.59,64.99 L953.29,63.95 L952.74,62.29 L951.58,60.92 L951.06,59.41 L949.93,58.36 L948.6,58.28 L947.61,59.54 L947.16,59.5 L945.48,58.21 L945.03,56.67 L943.57,55.19 L942.93,54.46 L940.49,54.17 L940.38,55 L936.35,54.44 L931.32,51.53 L931.52,51.24 L928.09,50.87 L928.08,49.67 L926.8,48.36 L925.87,47.45 L924.15,46.33 L924.1,44.94 L923.33,42.66 L922.96,41.51 L923.11,40.51 L922.57,40.01 L922.12,38.32 L922.44,36.84 L922,35.66 L922.65,34.46 L923.05,33.19 L923.1,31.81 L924.29,30.07 L925.15,27.73 L925.32,26.4 L925.67,25.29 L925.7,22.9 Z" fill="#a9cfe0"/>
<polygon points="924.15,26.56 925.66,27.01 927.18,27.44 928.71,27.85 930.24,28.24 931.78,28.61 933.32,28.96 934.62,23.35 933.16,23.02 931.7,22.67 930.25,22.31 928.8,21.92 927.36,21.51 925.93,21.08" fill="#2a7ca6" stroke="#cfe2ec" stroke-width="0.25"/>
<polygon points="922.09,32.9 923.8,33.4 925.51,33.89 927.23,34.34 928.96,34.78 930.69,35.18 932.43,35.57 933.9,29.08 932.26,28.72 930.63,28.34 929,27.93 927.37,27.5 925.76,27.04 924.15,26.56" fill="#2a7ca6" stroke="#cfe2ec" stroke-width="0.25"/>
<polygon points="916.92,48.81 918.06,49.15 919.21,49.49 920.37,49.81 921.52,50.13 922.68,50.43 923.84,50.73 928.15,34.58 927.13,34.32 926.12,34.05 925.11,33.77 924.1,33.49 923.09,33.2 922.09,32.9" fill="#4f9fcc" stroke="#cfe2ec" stroke-width="0.25"/>
<polygon points="925.13,45.89 926.48,46.22 927.82,46.53 929.18,46.84 930.53,47.12 931.89,47.4 933.25,47.66 935.52,36.18 934.28,35.94 933.05,35.7 931.82,35.43 930.59,35.16 929.37,34.87 928.15,34.58" fill="#86bcd8" stroke="#cfe2ec" stroke-width="0.25"/>
<polygon points="931.82,35.43 933.05,35.7 934.28,35.94 935.52,36.18 936.76,36.4 938,36.62 939.24,36.81 941.25,24.58 940.14,24.41 939.03,24.22 937.93,24.02 936.82,23.81 935.72,23.58 934.62,23.35" fill="#b2d4e3" stroke="#cfe2ec" stroke-width="0.25"/>
<polygon points="933.95,31.63 936.33,32.1 938.72,32.52 941.12,32.89 943.53,33.21 945.94,33.48 948.36,33.7 949.07,25.5 946.83,25.3 944.6,25.05 942.37,24.75 940.14,24.41 937.93,24.02 935.72,23.58" fill="#4f9fcc" stroke="#cfe2ec" stroke-width="0.25"/>
<polygon points="938.97,38.46 940.45,38.68 941.92,38.88 943.4,39.06 944.88,39.23 946.37,39.38 947.85,39.51 948.43,32.88 947.03,32.75 945.63,32.61 944.23,32.46 942.84,32.29 941.44,32.1 940.05,31.89" fill="#86bcd8" stroke="#cfe2ec" stroke-width="0.25"/>
<polygon points="933.9,44.38 935,44.58 936.11,44.77 937.22,44.95 938.33,45.12 939.45,45.29 940.56,45.44 941.74,37.17 940.7,37.03 939.66,36.88 938.62,36.72 937.59,36.55 936.55,36.37 935.52,36.18" fill="#86bcd8" stroke="#cfe2ec" stroke-width="0.25"/>
<polygon points="930.52,53.92 931.96,54.2 933.39,54.45 934.83,54.7 936.27,54.93 937.71,55.14 939.15,55.34 940.56,45.44 939.22,45.25 937.89,45.06 936.56,44.84 935.23,44.62 933.9,44.38 932.57,44.12" fill="#b2d4e3" stroke="#cfe2ec" stroke-width="0.25"/>
<polygon points="940.56,45.44 942.12,45.64 943.69,45.82 945.26,45.98 946.82,46.12 948.4,46.25 949.97,46.35 950.4,39.69 948.91,39.59 947.43,39.47 945.94,39.33 944.46,39.18 942.98,39.01 941.5,38.82" fill="#2a7ca6" stroke="#cfe2ec" stroke-width="0.25"/>
<polygon points="939.15,55.34 940.6,55.53 942.05,55.7 943.5,55.85 944.95,56 946.41,56.12 947.86,56.23 948.62,46.26 947.27,46.16 945.93,46.04 944.58,45.91 943.24,45.77 941.9,45.61 940.56,45.44" fill="#2a7ca6" stroke="#cfe2ec" stroke-width="0.25"/>
<polygon points="948.57,31.23 950.05,31.34 951.54,31.43 953.02,31.51 954.5,31.56 955.99,31.6 957.47,31.61 957.5,25.87 956.1,25.85 954.69,25.82 953.28,25.77 951.88,25.7 950.48,25.61 949.07,25.5" fill="#b2d4e3" stroke="#cfe2ec" stroke-width="0.25"/>
<polygon points="948.07,37.01 949.63,37.13 951.19,37.23 952.75,37.31 954.31,37.37 955.88,37.4 957.44,37.42 957.47,31.61 955.99,31.6 954.5,31.56 953.02,31.51 951.54,31.43 950.05,31.34 948.57,31.23" fill="#4f9fcc" stroke="#cfe2ec" stroke-width="0.25"/>
<polygon points="947.71,41.17 949.58,41.31 951.46,41.42 953.34,41.5 955.21,41.56 957.09,41.59 958.97,41.59 958.94,36.59 957.13,36.59 955.33,36.56 953.53,36.51 951.74,36.43 949.94,36.32 948.14,36.19" fill="#4f9fcc" stroke="#cfe2ec" stroke-width="0.25"/>
<polygon points="949.97,46.35 951.63,46.44 953.29,46.52 954.96,46.56 956.63,46.59 958.29,46.6 959.96,46.59 959.88,41.58 958.28,41.59 956.68,41.58 955.08,41.56 953.49,41.51 951.89,41.44 950.29,41.35" fill="#4f9fcc" stroke="#cfe2ec" stroke-width="0.25"/>
<polygon points="948.19,51.92 950.21,52.05 952.23,52.15 954.25,52.22 956.28,52.26 958.3,52.27 960.33,52.26 960.23,46.58 958.29,46.6 956.36,46.59 954.42,46.55 952.48,46.48 950.55,46.39 948.62,46.26" fill="#b2d4e3" stroke="#cfe2ec" stroke-width="0.25"/>
<polygon points="940.87,65.52 944.38,65.87 947.89,66.15 951.41,66.34 954.93,66.45 958.46,66.48 961.98,66.43 961.6,52.23 958.42,52.27 955.24,52.25 952.07,52.14 948.89,51.97 945.73,51.72 942.57,51.4" fill="#b2d4e3" stroke="#cfe2ec" stroke-width="0.25"/>
<polygon points="956.59,35.75 958.17,35.76 959.75,35.75 961.33,35.71 962.91,35.66 964.49,35.59 966.07,35.49 965.38,25.63 963.93,25.71 962.49,25.78 961.05,25.83 959.6,25.86 958.16,25.87 956.72,25.86" fill="#86bcd8" stroke="#cfe2ec" stroke-width="0.25"/>
<polygon points="957.42,40.92 958.78,40.92 960.13,40.91 961.48,40.88 962.83,40.83 964.19,40.78 965.54,40.7 965.21,35.55 963.92,35.62 962.63,35.67 961.33,35.71 960.04,35.74 958.74,35.76 957.45,35.76" fill="#4f9fcc" stroke="#cfe2ec" stroke-width="0.25"/>
<polygon points="958.34,48.27 959.87,48.26 961.4,48.23 962.92,48.18 964.45,48.12 965.98,48.04 967.5,47.94 966.94,40.44 965.51,40.54 964.07,40.61 962.63,40.67 961.2,40.72 959.76,40.74 958.32,40.76" fill="#b2d4e3" stroke="#cfe2ec" stroke-width="0.25"/>
<polygon points="960.06,53.26 961.24,53.24 962.43,53.21 963.61,53.16 964.8,53.11 965.98,53.05 967.17,52.98 966.76,47.15 965.63,47.22 964.5,47.28 963.37,47.33 962.24,47.37 961.1,47.4 959.97,47.42" fill="#2a7ca6" stroke="#cfe2ec" stroke-width="0.25"/>
<polygon points="961.07,60.7 962.33,60.67 963.58,60.63 964.83,60.58 966.08,60.52 967.34,60.44 968.59,60.36 968.02,52.92 966.84,53 965.65,53.07 964.47,53.13 963.28,53.18 962.1,53.22 960.91,53.24" fill="#2a7ca6" stroke="#cfe2ec" stroke-width="0.25"/>
<polygon points="961.94,37.36 963.28,37.31 964.61,37.25 965.94,37.17 967.27,37.08 968.6,36.97 969.93,36.85 969.11,28.94 967.88,29.05 966.64,29.15 965.4,29.24 964.16,29.31 962.92,29.37 961.68,29.42" fill="#86bcd8" stroke="#cfe2ec" stroke-width="0.25"/>
<polygon points="964.14,46.46 965.04,46.42 965.94,46.37 966.84,46.31 967.74,46.25 968.63,46.18 969.53,46.1 968.69,36.96 967.85,37.03 967.02,37.1 966.19,37.15 965.36,37.21 964.53,37.25 963.69,37.29" fill="#2a7ca6" stroke="#cfe2ec" stroke-width="0.25"/>
<polygon points="965.02,38.56 966.81,38.45 968.6,38.31 970.38,38.14 972.16,37.95 973.94,37.74 975.72,37.49 974.39,28.8 972.75,29.02 971.1,29.22 969.45,29.4 967.8,29.55 966.15,29.68 964.5,29.79" fill="#86bcd8" stroke="#cfe2ec" stroke-width="0.25"/>
<polygon points="969.01,44.81 969.67,44.75 970.34,44.69 971,44.62 971.67,44.56 972.33,44.49 973,44.41 972.19,37.78 971.56,37.85 970.93,37.92 970.3,37.98 969.67,38.04 969.04,38.1 968.42,38.16" fill="#b2d4e3" stroke="#cfe2ec" stroke-width="0.25"/>
<polygon points="972.88,43.42 973.82,43.3 974.76,43.19 975.7,43.06 976.64,42.93 977.58,42.79 978.52,42.64 977.51,36.72 976.62,36.85 975.73,36.99 974.83,37.11 973.94,37.23 973.04,37.34 972.15,37.45" fill="#86bcd8" stroke="#cfe2ec" stroke-width="0.25"/>
<polygon points="966.89,46.98 968.58,46.85 970.27,46.71 971.96,46.54 973.64,46.36 975.33,46.15 977.01,45.92 976.38,41.78 974.75,42.01 973.12,42.21 971.49,42.39 969.86,42.55 968.23,42.69 966.59,42.81" fill="#b2d4e3" stroke="#cfe2ec" stroke-width="0.25"/>
<polygon points="965.97,49.71 967.95,49.58 969.93,49.42 971.91,49.23 973.89,49.02 975.86,48.77 977.83,48.5 977.39,45.69 975.46,45.96 973.53,46.2 971.6,46.41 969.67,46.6 967.73,46.75 965.79,46.88" fill="#86bcd8" stroke="#cfe2ec" stroke-width="0.25"/>
<polygon points="964.42,58.12 965.3,58.07 966.19,58.03 967.07,57.98 967.96,57.92 968.84,57.85 969.72,57.79 969.01,49.5 968.18,49.56 967.35,49.62 966.52,49.68 965.69,49.73 964.86,49.77 964.03,49.81" fill="#b2d4e3" stroke="#cfe2ec" stroke-width="0.25"/>
<polygon points="969.13,57.83 970.02,57.76 970.9,57.69 971.78,57.6 972.66,57.52 973.55,57.43 974.43,57.33 973.43,49.07 972.6,49.16 971.77,49.25 970.94,49.33 970.12,49.41 969.29,49.48 968.46,49.54" fill="#86bcd8" stroke="#cfe2ec" stroke-width="0.25"/>
<polygon points="973.32,56.78 974.49,56.65 975.66,56.52 976.83,56.37 977.99,56.21 979.15,56.04 980.32,55.87 979.06,48.31 977.96,48.48 976.86,48.64 975.77,48.78 974.67,48.92 973.56,49.05 972.46,49.18" fill="#86bcd8" stroke="#cfe2ec" stroke-width="0.25"/>
<polygon points="970.73,67.6 973.09,67.39 975.46,67.14 977.81,66.86 980.17,66.54 982.52,66.18 984.86,65.79 982.86,55.11 980.7,55.47 978.52,55.8 976.34,56.1 974.16,56.36 971.97,56.59 969.78,56.78" fill="#86bcd8" stroke="#cfe2ec" stroke-width="0.25"/>
<polygon points="976.17,53.77 977.34,53.62 978.5,53.45 979.67,53.28 980.83,53.09 981.99,52.9 983.15,52.69 982.14,47.45 981.03,47.65 979.91,47.84 978.8,48.01 977.68,48.18 976.56,48.34 975.45,48.49" fill="#b2d4e3" stroke="#cfe2ec" stroke-width="0.25"/>
<polygon points="974.51,50.96 976.58,50.7 978.65,50.4 980.71,50.07 982.76,49.72 984.81,49.33 986.86,48.91 985.82,44.34 983.85,44.75 981.87,45.12 979.89,45.47 977.9,45.78 975.91,46.07 973.91,46.32" fill="#b2d4e3" stroke="#cfe2ec" stroke-width="0.25"/>
<polygon points="974.74,46.39 976.65,46.13 978.56,45.85 980.46,45.54 982.35,45.21 984.24,44.84 986.12,44.45 985,39.56 983.19,39.94 981.38,40.28 979.56,40.61 977.74,40.91 975.91,41.18 974.08,41.42" fill="#86bcd8" stroke="#cfe2ec" stroke-width="0.25"/>
<polygon points="976.06,45.04 977.15,44.88 978.23,44.72 979.32,44.55 980.4,44.37 981.48,44.17 982.57,43.98 981.44,38.4 980.41,38.59 979.38,38.77 978.35,38.95 977.31,39.11 976.27,39.27 975.23,39.42" fill="#2a7ca6" stroke="#cfe2ec" stroke-width="0.25"/>
<polygon points="978.15,40.5 979.39,40.3 980.63,40.08 981.87,39.85 983.1,39.61 984.33,39.36 985.56,39.09 984.57,34.87 983.38,35.12 982.2,35.37 981.01,35.6 979.82,35.82 978.62,36.03 977.43,36.22" fill="#86bcd8" stroke="#cfe2ec" stroke-width="0.25"/>
<polygon points="978.82,39.04 980.51,38.75 982.19,38.43 983.87,38.09 985.55,37.73 987.22,37.34 988.88,36.94 986.89,29.53 985.34,29.91 983.77,30.27 982.21,30.61 980.63,30.93 979.06,31.22 977.48,31.5" fill="#2a7ca6" stroke="#cfe2ec" stroke-width="0.25"/>
<polygon points="986.56,36.64 987.94,36.31 989.32,35.96 990.7,35.6 992.07,35.22 993.44,34.82 994.8,34.41 991.39,23.98 990.15,24.35 988.91,24.71 987.67,25.06 986.42,25.39 985.16,25.7 983.91,26" fill="#2a7ca6" stroke="#cfe2ec" stroke-width="0.25"/>
<polygon points="982.3,41.98 983.08,41.83 983.86,41.68 984.64,41.52 985.41,41.35 986.19,41.18 986.96,41.01 986.41,38.73 985.65,38.9 984.89,39.07 984.13,39.23 983.36,39.39 982.6,39.54 981.84,39.69" fill="#86bcd8" stroke="#cfe2ec" stroke-width="0.25"/>
</g>
<path d="M925.7,22.9 L927.85,22.5 L942.24,25.55 L958.97,26.68 L958.97,26.03 L959.66,27.17 L963.81,27.85 L965.43,28.08 L967.24,27.62 L971.18,29.55 L971.71,29.98 L972.87,30.67 L971.62,31.16 L970.66,32.26 L969.81,32.19 L968.81,31.78 L968.17,34 L968.17,36.84 L968.81,38.29 L969.67,38.04 L970.21,37.15 L970.13,35.16 L969.59,33.54 L970.56,32.44 L971.5,31.17 L973.27,31.79 L973.33,33.12 L972.88,34.35 L973.6,35.09 L974.65,35.46 L975,36.08 L974.25,37.02 L973.96,37.73 L975.17,38.08 L976.94,37.14 L978.29,36.08 L979.1,34.93 L978.98,34.28 L981.4,33.82 L982.27,33.14 L981.93,32.19 L982.87,30.81 L983.54,30.49 L987.28,29.6 L987.73,28.97 L988.06,28.37 L988.13,27.32 L988.25,26.44 L988.82,25.08 L989.87,24.95 L990.53,25.1 L991.23,27.31 L992.6,28.46 L991.16,29.93 L990.13,30.74 L989.44,31.44 L989.04,32.76 L989.42,33.17 L989.12,33.94 L990.51,34.26 L990,34.75 L988.86,35.39 L987.34,36.11 L986.01,37.11 L986.13,37.6 L986.23,39.12 L985.61,40.45 L985.58,41.49 L985.34,42.22 L984.85,43.69 L985.53,44.92 L986.09,46.17 L984.99,47.59 L983.76,48.51 L982.58,49.75 L981.79,50.9 L980.22,52.68 L979.44,54.15 L979.37,55.51 L979.89,56.94 L981.28,58.9 L982.3,61.24 L982.61,63.02 L982.34,64.22 L981.23,64.23 L980.16,63.4 L979.17,62.05 L978.22,60.85 L977.91,59.73 L977.89,58.56 L976.72,57.72 L975.58,57.03 L973.9,57.89 L972.45,56.87 L970.56,57.22 L969.23,57.16 L967.78,57.6 L967.5,57.78 L968.19,59.06 L967.17,59.46 L965.83,59.54 L964.3,58.78 L962.21,58.53 L960,59.07 L959.12,60.24 L957.16,61.06 L956.09,62.37 L955.91,64.01 L956.21,65 L955.59,64.99 L953.29,63.95 L952.74,62.29 L951.58,60.92 L951.06,59.41 L949.93,58.36 L948.6,58.28 L947.61,59.54 L947.16,59.5 L945.48,58.21 L945.03,56.67 L943.57,55.19 L942.93,54.46 L940.49,54.17 L940.38,55 L936.35,54.44 L931.32,51.53 L931.52,51.24 L928.09,50.87 L928.08,49.67 L926.8,48.36 L925.87,47.45 L924.15,46.33 L924.1,44.94 L923.33,42.66 L922.96,41.51 L923.11,40.51 L922.57,40.01 L922.12,38.32 L922.44,36.84 L922,35.66 L922.65,34.46 L923.05,33.19 L923.1,31.81 L924.29,30.07 L925.15,27.73 L925.32,26.4 L925.67,25.29 L925.7,22.9 Z" fill="none" stroke="#d8e6ee" stroke-width="0.2"/>
<rect x="995.2" y="50.9" width="1.3" height="1.3" fill="#2a7ca6"/>
<text x="997.5" y="52.1" font-size="1.72" fill="#6a6a6a" stroke="#6a6a6a" stroke-width="0.09">March 28 - April 14</text>
<rect x="995.2" y="54" width="1.3" height="1.3" fill="#4f9fcc"/>
<text x="997.5" y="55.2" font-size="1.72" fill="#6a6a6a" stroke="#6a6a6a" stroke-width="0.09">April 15 - April 24</text>
<rect x="995.2" y="57.1" width="1.3" height="1.3" fill="#86bcd8"/>
<text x="997.5" y="58.3" font-size="1.72" fill="#6a6a6a" stroke="#6a6a6a" stroke-width="0.09">April 25 - April 29</text>
<rect x="995.2" y="60.2" width="1.3" height="1.3" fill="#b2d4e3"/>
<text x="997.5" y="61.4" font-size="1.72" fill="#6a6a6a" stroke="#6a6a6a" stroke-width="0.09">April 30 - May 15</text>
<rect x="797" y="69.1" width="115.9" height="73.1" fill="#d9d9d9" rx="0.6"/>
<text x="799" y="73" font-size="2.18" fill="#3a4a60" stroke="#3a4a60" stroke-width="0.11" font-weight="bold">The Countries With The Most Hospital Beds</text>
<text x="799" y="78.3" font-size="1.84" fill="#9a9a9a" stroke="#9a9a9a" stroke-width="0.09">Total hospital beds per 1,000 of population in selected countries</text>
<line x1="815.5" y1="81.5" x2="815.5" y2="140" stroke="#cfcfcf" stroke-width="0.25"/>
<rect x="815.7" y="83.4" width="89.7" height="1.7" fill="#5b95bd"/>
<text x="813" y="84.8" font-size="1.84" fill="#9a9a9a" stroke="#9a9a9a" stroke-width="0.09" text-anchor="end">Japan</text>
<text x="906.4" y="84.8" font-size="1.72" fill="#9a9a9a" stroke="#9a9a9a" stroke-width="0.09">13.1</text>
<rect x="815.7" y="88.33" width="68.9" height="1.7" fill="#5b95bd"/>
<text x="813" y="89.73" font-size="1.84" fill="#9a9a9a" stroke="#9a9a9a" stroke-width="0.09" text-anchor="end">South Korea</text>
<text x="885.6" y="89.73" font-size="1.72" fill="#9a9a9a" stroke="#9a9a9a" stroke-width="0.09">11.5</text>
<rect x="815.7" y="93.26" width="51.4" height="1.7" fill="#5b95bd"/>
<text x="813" y="94.66" font-size="1.84" fill="#9a9a9a" stroke="#9a9a9a" stroke-width="0.09" text-anchor="end">Germany</text>
<text x="868.1" y="94.66" font-size="1.72" fill="#9a9a9a" stroke="#9a9a9a" stroke-width="0.09">8.3</text>
<rect x="815.7" y="98.19" width="40.4" height="1.7" fill="#5b95bd"/>
<text x="813" y="99.59" font-size="1.84" fill="#9a9a9a" stroke="#9a9a9a" stroke-width="0.09" text-anchor="end">Poland</text>
<text x="857.1" y="99.59" font-size="1.72" fill="#9a9a9a" stroke="#9a9a9a" stroke-width="0.09">6.6</text>
<rect x="815.7" y="103.12" width="37.3" height="1.7" fill="#5b95bd"/>
<text x="813" y="104.52" font-size="1.84" fill="#9a9a9a" stroke="#9a9a9a" stroke-width="0.09" text-anchor="end">France</text>
<text x="854" y="104.52" font-size="1.72" fill="#9a9a9a" stroke="#9a9a9a" stroke-width="0.09">6.0</text>
<rect x="815.7" y="108.05" width="22.2" height="1.7" fill="#5b95bd"/>
<text x="813" y="109.45" font-size="1.84" fill="#9a9a9a" stroke="#9a9a9a" stroke-width="0.09" text-anchor="end">Australia</text>
<text x="838.9" y="109.45" font-size="1.72" fill="#9a9a9a" stroke="#9a9a9a" stroke-width="0.09">3.8</text>
<rect x="815.7" y="112.98" width="16" height="1.7" fill="#1f4f66"/>
<text x="813" y="114.38" font-size="1.84" fill="#4a4a4a" stroke="#4a4a4a" stroke-width="0.09" font-weight="bold" text-anchor="end">United States</text>
<text x="832.7" y="114.38" font-size="1.72" fill="#9a9a9a" stroke="#9a9a9a" stroke-width="0.09">2.9</text>
<rect x="815.7" y="117.91" width="15.2" height="1.7" fill="#5b95bd"/>
<text x="813" y="119.31" font-size="1.84" fill="#9a9a9a" stroke="#9a9a9a" stroke-width="0.09" text-anchor="end">Norway</text>
<text x="831.9" y="119.31" font-size="1.72" fill="#9a9a9a" stroke="#9a9a9a" stroke-width="0.09">2.8</text>
<rect x="815.7" y="122.84" width="15.2" height="1.7" fill="#5b95bd"/>
<text x="813" y="124.24" font-size="1.84" fill="#9a9a9a" stroke="#9a9a9a" stroke-width="0.09" text-anchor="end">United Kingdom</text>
<text x="831.9" y="124.24" font-size="1.72" fill="#9a9a9a" stroke="#9a9a9a" stroke-width="0.09">2.8</text>
<rect x="815.7" y="127.77" width="14.3" height="1.7" fill="#5b95bd"/>
<text x="813" y="129.17" font-size="1.84" fill="#9a9a9a" stroke="#9a9a9a" stroke-width="0.09" text-anchor="end">Canada</text>
<text x="831" y="129.17" font-size="1.72" fill="#9a9a9a" stroke="#9a9a9a" stroke-width="0.09">2.7</text>
<rect x="815.7" y="132.7" width="14.3" height="1.7" fill="#5b95bd"/>
<text x="813" y="134.1" font-size="1.84" fill="#9a9a9a" stroke="#9a9a9a" stroke-width="0.09" text-anchor="end">Turkey</text>
<text x="831" y="134.1" font-size="1.72" fill="#9a9a9a" stroke="#9a9a9a" stroke-width="0.09">2.7</text>
<rect x="815.7" y="137.63" width="13.2" height="1.7" fill="#5b95bd"/>
<text x="813" y="139.03" font-size="1.84" fill="#9a9a9a" stroke="#9a9a9a" stroke-width="0.09" text-anchor="end">Sweden</text>
<text x="829.9" y="139.03" font-size="1.72" fill="#9a9a9a" stroke="#9a9a9a" stroke-width="0.09">2.6</text>
<rect x="916" y="69.1" width="103" height="75" fill="#d9d9d9" rx="0.6"/>
<text x="919" y="72.7" font-size="1.95" fill="#3a5a7a" stroke="#3a5a7a" stroke-width="0.1" font-weight="bold">Health Insurance Enrollment In America, 2019 (Millions)</text>
<path d="M965.6,109.2 L951.17,125.8 A22,22 0 0 1 974.55,89.1 Z" fill="#0a2a22"/>
<path d="M965.6,109.2 L974.55,89.1 A22,22 0 0 1 976.6,90.15 Z" fill="#1a9a7a"/>
<path d="M965.6,109.2 L976.6,90.15 A22,22 0 0 1 984.05,97.22 Z" fill="#5ab89a"/>
<path d="M965.6,109.2 L984.05,97.22 A22,22 0 0 1 986.4,102.04 Z" fill="#a6d6c4"/>
<path d="M965.6,109.2 L986.4,102.04 A22,22 0 0 1 987.27,113.02 Z" fill="#e3e3e3"/>
<path d="M965.6,109.2 L987.27,113.02 A22,22 0 0 1 987.04,114.15 Z" fill="#e05050"/>
<path d="M965.6,109.2 L987.04,114.15 A22,22 0 0 1 977.9,127.44 Z" fill="#e6a2c0"/>
<path d="M965.6,109.2 L977.9,127.44 A22,22 0 0 1 966.75,131.17 Z" fill="#e066a2"/>
<path d="M965.6,109.2 L966.75,131.17 A22,22 0 0 1 964.45,131.17 Z" fill="#d84888"/>
<path d="M965.6,109.2 L964.45,131.17 A22,22 0 0 1 951.17,125.8 Z" fill="#a83264"/>
<line x1="965.6" y1="109.2" x2="974.55" y2="89.1" stroke="#d9d9d9" stroke-width="0.15"/>
<line x1="965.6" y1="109.2" x2="976.6" y2="90.15" stroke="#d9d9d9" stroke-width="0.15"/>
<line x1="965.6" y1="109.2" x2="984.05" y2="97.22" stroke="#d9d9d9" stroke-width="0.15"/>
<line x1="965.6" y1="109.2" x2="986.4" y2="102.04" stroke="#d9d9d9" stroke-width="0.15"/>
<line x1="965.6" y1="109.2" x2="987.27" y2="113.02" stroke="#d9d9d9" stroke-width="0.15"/>
<line x1="965.6" y1="109.2" x2="987.04" y2="114.15" stroke="#d9d9d9" stroke-width="0.15"/>
<line x1="965.6" y1="109.2" x2="977.9" y2="127.44" stroke="#d9d9d9" stroke-width="0.15"/>
<line x1="965.6" y1="109.2" x2="966.75" y2="131.17" stroke="#d9d9d9" stroke-width="0.15"/>
<line x1="965.6" y1="109.2" x2="964.45" y2="131.17" stroke="#d9d9d9" stroke-width="0.15"/>
<line x1="965.6" y1="109.2" x2="951.17" y2="125.8" stroke="#d9d9d9" stroke-width="0.15"/>
<text x="938" y="85.5" font-size="2.01" fill="#7a7a7a" stroke="#7a7a7a" stroke-width="0.1">Employment-based coverage (excluding</text>
<text x="938" y="87.8" font-size="2.01" fill="#7a7a7a" stroke="#7a7a7a" stroke-width="0.1">Federal Employees), 157</text>
<text x="977" y="82.6" font-size="2.01" fill="#7a7a7a" stroke="#7a7a7a" stroke-width="0.1">Federal Employees</text>
<text x="977" y="84.8" font-size="2.01" fill="#7a7a7a" stroke="#7a7a7a" stroke-width="0.1">Health Benefits, 8</text>
<text x="987" y="91.5" font-size="2.01" fill="#7a7a7a" stroke="#7a7a7a" stroke-width="0.1">Medicare</text>
<text x="987" y="93.7" font-size="2.01" fill="#7a7a7a" stroke="#7a7a7a" stroke-width="0.1">Advantage, 22</text>
<text x="991.5" y="97.3" font-size="2.01" fill="#7a7a7a" stroke="#7a7a7a" stroke-width="0.1">Individual</text>
<text x="991.5" y="99.5" font-size="2.01" fill="#7a7a7a" stroke="#7a7a7a" stroke-width="0.1">Market, 14</text>
<text x="993" y="104" font-size="2.01" fill="#7a7a7a" stroke="#7a7a7a" stroke-width="0.1">Uninsured,</text>
<text x="993" y="106.2" font-size="2.01" fill="#7a7a7a" stroke="#7a7a7a" stroke-width="0.1">Under</text>
<text x="993" y="108.4" font-size="2.01" fill="#7a7a7a" stroke="#7a7a7a" stroke-width="0.1">Insured, 28</text>
<text x="990" y="115.3" font-size="2.01" fill="#7a7a7a" stroke="#7a7a7a" stroke-width="0.1">Other</text>
<text x="990" y="117.5" font-size="2.01" fill="#7a7a7a" stroke="#7a7a7a" stroke-width="0.1">Coverage, 4</text>
<text x="987" y="124.4" font-size="2.01" fill="#7a7a7a" stroke="#7a7a7a" stroke-width="0.1">Medicaid &amp; Chip</text>
<text x="987" y="126.6" font-size="2.01" fill="#7a7a7a" stroke="#7a7a7a" stroke-width="0.1">(Children), 37</text>
<text x="980" y="133.3" font-size="2.01" fill="#7a7a7a" stroke="#7a7a7a" stroke-width="0.1">Medicaid</text>
<text x="980" y="135.5" font-size="2.01" fill="#7a7a7a" stroke="#7a7a7a" stroke-width="0.1">(Older disabled), 16</text>
<text x="951" y="136.5" font-size="2.01" fill="#7a7a7a" stroke="#7a7a7a" stroke-width="0.1">Medicaid</text>
<text x="948" y="138.7" font-size="2.01" fill="#7a7a7a" stroke="#7a7a7a" stroke-width="0.1">(Blind &amp; disabled), 7</text>
<text x="935" y="131.7" font-size="2.01" fill="#7a7a7a" stroke="#7a7a7a" stroke-width="0.1">Medicaid</text>
<text x="932" y="133.9" font-size="2.01" fill="#7a7a7a" stroke="#7a7a7a" stroke-width="0.1">(Single Adults), 18</text>
</g>
<clipPath id="cp5"><rect x="524" y="173.8" width="238.1" height="148.7" rx="3.5"/></clipPath>
<defs><linearGradient id="g5" x1="0" x2="1" y1="0" y2="0"><stop offset="0" stop-color="#0a78da"/><stop offset="0.35" stop-color="#0a6ed8"/><stop offset="1" stop-color="#0a2cc6"/></linearGradient><linearGradient id="tabg" x1="0" x2="1" y1="0" y2="1"><stop offset="0" stop-color="#b0a8f0"/><stop offset="1" stop-color="#8a88e8"/></linearGradient></defs>
<g clip-path="url(#cp5)">
<rect x="524" y="173.8" width="238.1" height="148.7" fill="#d6d6d6"/>
<rect x="524" y="173.8" width="238.1" height="11.1" fill="url(#g5)"/>
<text x="531.9" y="180.9" font-size="3.6" fill="#e8f0ff" font-weight="bold" textLength="22" lengthAdjust="spacingAndGlyphs">smart adds</text>
<rect x="754.5" y="178" width="3" height="0.6" fill="#8aa8e8"/>
<rect x="754.5" y="179" width="3" height="0.6" fill="#8aa8e8"/>
<rect x="754.5" y="180" width="3" height="0.6" fill="#8aa8e8"/>
<text x="531.5" y="197.5" font-size="5.9" fill="#333333" textLength="47" lengthAdjust="spacingAndGlyphs">Predictive Analytics</text>
<text x="531.5" y="205.1" font-size="2.25" fill="#606060" stroke="#606060" stroke-width="0.11" textLength="57.5" lengthAdjust="spacingAndGlyphs" >various divisions the number of patients that were admitted in the</text>
<text x="531.5" y="208.95" font-size="2.25" fill="#606060" stroke="#606060" stroke-width="0.11" textLength="57.5" lengthAdjust="spacingAndGlyphs" >facility how long they stayed and where their treatment was drawn</text>
<text x="531.5" y="212.8" font-size="2.25" fill="#606060" stroke="#606060" stroke-width="0.11" textLength="57.5" lengthAdjust="spacingAndGlyphs" >and the average waiting time in emergency rooms Such a holistic</text>
<text x="531.5" y="216.65" font-size="2.25" fill="#606060" stroke="#606060" stroke-width="0.11" textLength="47.72" lengthAdjust="spacingAndGlyphs" >view helps identify potential bottlenecks and allocate</text>
<text x="531.5" y="224.1" font-size="2.35" fill="#555555" stroke="#555555" stroke-width="0.12" textLength="21.5" lengthAdjust="spacingAndGlyphs">Customers' Behavior</text>
<text x="531.5" y="228.73" font-size="2.35" fill="#555555" stroke="#555555" stroke-width="0.12" textLength="33.5" lengthAdjust="spacingAndGlyphs">Qualifying and Prioritizing Leads</text>
<text x="531.5" y="233.36" font-size="2.35" fill="#555555" stroke="#555555" stroke-width="0.12" textLength="41.5" lengthAdjust="spacingAndGlyphs">Bringing the right product to the market</text>
<text x="531.5" y="237.99" font-size="2.35" fill="#555555" stroke="#555555" stroke-width="0.12" textLength="8" lengthAdjust="spacingAndGlyphs">Targeting</text>
<filter id="tsh" x="-50%" y="-50%" width="200%" height="200%"><feGaussianBlur stdDeviation="2.2"/></filter>
<path d="M545,252 L592,256 L594,318 L548,321 Z" fill="#b8b8b8" filter="url(#tsh)" opacity="0.7"/>
<path d="M541.2,246.5 L584,249.4 Q585.6,249.5 585.6,251 L585.5,310 Q585.5,311.4 584,311.5 L541.2,314.3 Q539.6,314.4 539.6,312.8 L539.6,248.1 Q539.6,246.4 541.2,246.5 Z" fill="#26262a"/>
<path d="M540.9,247.8 L584.4,250.6 L584.3,310.4 L540.9,313 Z" fill="#f6f6f8"/>
<text x="543.2" y="254.2" font-size="1.6" fill="#333" stroke="#333" stroke-width="0.08" textLength="34" lengthAdjust="spacingAndGlyphs">Email marketing vs. Content marketing: Which is better?</text>
<path d="M542.8,255.6 L583.2,256.6 L583.2,282 L542.8,282.4 Z" fill="url(#tabg)"/>
<g>
<path d="M549,266.5 L561,259.2 L574,265.6 L562,273 Z" fill="#f4f4fb"/>
<path d="M549,266.5 L562,273 L562,278 L549,271.4 Z" fill="#d4d4ee"/>
<path d="M562,273 L574,265.6 L574,270.6 L562,278 Z" fill="#e4e4f6"/>
<path d="M551.5,264.3 L558,260.5 L566,264.2 L559,268.5 Z" fill="#e8e8f6"/>
</g>
<ellipse cx="556" cy="267.5" rx="1.1" ry="0.7" fill="#8a4ad0"/>
<ellipse cx="559.5" cy="265.5" rx="1.1" ry="0.7" fill="#e85a9a"/>
<ellipse cx="563" cy="263.8" rx="1.1" ry="0.7" fill="#e85a9a"/>
<ellipse cx="559.5" cy="269.5" rx="1.1" ry="0.7" fill="#4a6ae0"/>
<ellipse cx="563" cy="267.5" rx="1.1" ry="0.7" fill="#40b0a0"/>
<ellipse cx="566.5" cy="265.5" rx="1.1" ry="0.7" fill="#5ac060"/>
<ellipse cx="563" cy="271.2" rx="1.1" ry="0.7" fill="#f09030"/>
<ellipse cx="566.5" cy="269.3" rx="1.1" ry="0.7" fill="#5a8ae0"/>
<rect x="545.6" y="271.5" width="1" height="6" fill="#4a2a7a"/>
<circle cx="546.1" cy="270.8" r="0.8" fill="#4a2a7a"/>
<circle cx="546" cy="261" r="1.4" fill="#e8e8f4"/>
<circle cx="578" cy="260" r="1.2" fill="#d8d8f0"/>
<circle cx="580" cy="266" r="1.5" fill="#e0e0f4"/>
<rect x="543" y="284.3" width="39" height="0.45" fill="#b8b8c4"/>
<rect x="543" y="285.6" width="34" height="0.45" fill="#b8b8c4"/>
<rect x="543" y="286.9" width="39" height="0.45" fill="#b8b8c4"/>
<rect x="543.5" y="289.5" width="38" height="2.6" fill="#ececf0" stroke="#d8d8e0" stroke-width="0.2"/>
<text x="543.2" y="295.6" font-size="1.5" fill="#333" stroke="#333" stroke-width="0.07" font-weight="bold">Email marketing</text>
<rect x="543" y="297" width="38" height="0.45" fill="#c0c0c8"/>
<rect x="543" y="298.4" width="32" height="0.45" fill="#c0c0c8"/>
<rect x="543" y="299.8" width="26" height="0.45" fill="#c0c0c8"/>
<rect x="543" y="301.2" width="38" height="0.45" fill="#c0c0c8"/>
<rect x="543" y="302.6" width="32" height="0.45" fill="#c0c0c8"/>
<rect x="544" y="298.3" width="8" height="0.5" fill="#e08050"/>
<path d="M542.8,305.8 L583.2,305.6 L583.2,310.4 L542.8,312.5 Z" fill="url(#tabg)"/>
<path d="M560,307 L563,306.5 L562,310 Z" fill="#f4d080"/>
<rect x="546" y="309" width="3" height="1.2" fill="#e07050"/>
<rect x="594.7" y="192.2" width="96.3" height="46.3" fill="#d9d9d9" rx="0.6"/>
<text x="597.5" y="195.6" font-size="2.07" fill="#3a5a8a" stroke="#3a5a8a" stroke-width="0.1">Pipeline History Inflow - Outflow (Count)</text>
<line x1="605.3" y1="202.6" x2="686.6" y2="202.6" stroke="#cdcdcd" stroke-width="0.25"/>
<text x="603.5" y="203.1" font-size="1.49" fill="#8a8a8a" stroke="#8a8a8a" stroke-width="0.07" text-anchor="end">100</text>
<line x1="605.3" y1="210.4" x2="686.6" y2="210.4" stroke="#cdcdcd" stroke-width="0.25"/>
<text x="603.5" y="210.9" font-size="1.49" fill="#8a8a8a" stroke="#8a8a8a" stroke-width="0.07" text-anchor="end">50</text>
<line x1="605.3" y1="218.3" x2="686.6" y2="218.3" stroke="#cdcdcd" stroke-width="0.25"/>
<text x="603.5" y="218.8" font-size="1.49" fill="#8a8a8a" stroke="#8a8a8a" stroke-width="0.07" text-anchor="end">0</text>
<line x1="605.3" y1="226.1" x2="686.6" y2="226.1" stroke="#cdcdcd" stroke-width="0.25"/>
<text x="603.5" y="226.6" font-size="1.49" fill="#8a8a8a" stroke="#8a8a8a" stroke-width="0.07" text-anchor="end">-50</text>
<line x1="605.3" y1="202.6" x2="605.3" y2="229.8" stroke="#cdcdcd" stroke-width="0.25"/>
<rect x="612.95" y="216.5" width="1.9" height="1.8" fill="#3a78e0"/>
<rect x="612.95" y="218.3" width="1.9" height="3.2" fill="#e8904a"/>
<rect x="612.95" y="221.5" width="1.9" height="1.5" fill="#4a48d0"/>
<rect x="618.25" y="216.5" width="1.9" height="1.8" fill="#3a78e0"/>
<rect x="618.25" y="218.3" width="1.9" height="1.2" fill="#e8904a"/>
<rect x="618.25" y="219.5" width="1.9" height="1" fill="#4a48d0"/>
<rect x="623.85" y="212.6" width="1.9" height="5.7" fill="#3a78e0"/>
<rect x="623.85" y="218.3" width="1.9" height="3.2" fill="#e8904a"/>
<rect x="623.85" y="221.5" width="1.9" height="0.8" fill="#4a48d0"/>
<rect x="629.15" y="211.2" width="1.9" height="7.1" fill="#3a78e0"/>
<rect x="629.15" y="218.3" width="1.9" height="3.2" fill="#e8904a"/>
<rect x="629.15" y="221.5" width="1.9" height="1.5" fill="#4a48d0"/>
<rect x="634.65" y="209.6" width="1.9" height="8.7" fill="#3a78e0"/>
<rect x="634.65" y="218.3" width="1.9" height="3.7" fill="#e8904a"/>
<rect x="634.65" y="222" width="1.9" height="3" fill="#4a48d0"/>
<rect x="639.95" y="209.9" width="1.9" height="8.4" fill="#3a78e0"/>
<rect x="639.95" y="218.3" width="1.9" height="3.2" fill="#e8904a"/>
<rect x="639.95" y="221.5" width="1.9" height="2.5" fill="#4a48d0"/>
<rect x="645.25" y="211" width="1.9" height="7.3" fill="#3a78e0"/>
<rect x="645.25" y="218.3" width="1.9" height="7.7" fill="#e8904a"/>
<rect x="645.25" y="226" width="1.9" height="3.5" fill="#4a48d0"/>
<rect x="650.85" y="211" width="1.9" height="7.3" fill="#3a78e0"/>
<rect x="650.85" y="218.3" width="1.9" height="2.7" fill="#e8904a"/>
<rect x="650.85" y="221" width="1.9" height="2" fill="#4a48d0"/>
<rect x="656.15" y="211" width="1.9" height="7.3" fill="#3a78e0"/>
<rect x="656.15" y="218.3" width="1.9" height="3.7" fill="#e8904a"/>
<rect x="656.15" y="222" width="1.9" height="2" fill="#4a48d0"/>
<rect x="661.75" y="209" width="1.9" height="9.3" fill="#3a78e0"/>
<rect x="661.75" y="218.3" width="1.9" height="5.7" fill="#e8904a"/>
<rect x="661.75" y="224" width="1.9" height="2.5" fill="#4a48d0"/>
<rect x="667.05" y="205.7" width="1.9" height="12.6" fill="#3a78e0"/>
<rect x="667.05" y="218.3" width="1.9" height="5.2" fill="#e8904a"/>
<rect x="667.05" y="223.5" width="1.9" height="2.5" fill="#4a48d0"/>
<rect x="672.35" y="211.2" width="1.9" height="7.1" fill="#3a78e0"/>
<rect x="672.35" y="218.3" width="1.9" height="9.7" fill="#e8904a"/>
<rect x="672.35" y="228" width="1.9" height="1.5" fill="#4a48d0"/>
<rect x="677.85" y="211.2" width="1.9" height="7.1" fill="#3a78e0"/>
<rect x="677.85" y="218.3" width="1.9" height="2.7" fill="#e8904a"/>
<rect x="677.85" y="221" width="1.9" height="2.5" fill="#4a48d0"/>
<polyline points="613.9,221 619.2,219.5 624.8,217.5 630.1,216.2 635.6,216.8 640.9,217.3 646.2,216.5 651.8,221 657.1,216.8 662.7,217.5 668,218 673.3,216 678.8,220" fill="none" stroke="#e8904a" stroke-width="0.45" stroke-dasharray="0.8,0.5"/>
<text x="614" y="233.6" font-size="1.61" fill="#8a8a8a" stroke="#8a8a8a" stroke-width="0.08" text-anchor="middle">Aug 2015</text>
<text x="630.2" y="233.6" font-size="1.61" fill="#8a8a8a" stroke="#8a8a8a" stroke-width="0.08" text-anchor="middle">Sep 2015</text>
<text x="646.4" y="233.6" font-size="1.61" fill="#8a8a8a" stroke="#8a8a8a" stroke-width="0.08" text-anchor="middle">Oct 2015</text>
<text x="662.6" y="233.6" font-size="1.61" fill="#8a8a8a" stroke="#8a8a8a" stroke-width="0.08" text-anchor="middle">Nov 2015</text>
<text x="678.8" y="233.6" font-size="1.61" fill="#8a8a8a" stroke="#8a8a8a" stroke-width="0.08" text-anchor="middle">Dec 2015</text>
<rect x="594.7" y="241.4" width="96.3" height="76.6" fill="#d9d9d9" rx="0.6"/>
<text x="598" y="245.4" font-size="2.18" fill="#3a5a8a" stroke="#3a5a8a" stroke-width="0.11">Influencing Campaigns</text>
<rect x="598.2" y="251.6" width="88.3" height="6.4" fill="#cdcdcd"/>
<text x="602" y="255.5" font-size="1.61" fill="#6a6a6a" stroke="#6a6a6a" stroke-width="0.08">Campaign Name</text>
<text x="639.5" y="255.5" font-size="1.49" fill="#6a6a6a" stroke="#6a6a6a" stroke-width="0.07" text-anchor="middle">Total Reviews</text>
<text x="652.5" y="255.5" font-size="1.49" fill="#6a6a6a" stroke="#6a6a6a" stroke-width="0.07" text-anchor="middle">Rate</text>
<text x="665" y="255.5" font-size="1.49" fill="#6a6a6a" stroke="#6a6a6a" stroke-width="0.07" text-anchor="middle">Clicks to Sign Up</text>
<text x="678" y="255.5" font-size="1.49" fill="#6a6a6a" stroke="#6a6a6a" stroke-width="0.07" text-anchor="middle">Profit</text>
<rect x="598.2" y="258" width="34.5" height="6.04" fill="#d3d8df"/>
<rect x="632.7" y="258" width="53.8" height="6.04" fill="#d9d9d9"/>
<line x1="598.2" y1="264.04" x2="686.5" y2="264.04" stroke="#cfcfcf" stroke-width="0.25"/>
<text x="600.5" y="261.6" font-size="1.61" fill="#4a7ac8" stroke="#4a7ac8" stroke-width="0.08">Black Friday Fall Rush</text>
<text x="641" y="261.6" font-size="1.49" fill="#7a7a7a" stroke="#7a7a7a" stroke-width="0.07" text-anchor="middle">26</text>
<text x="653" y="261.6" font-size="1.49" fill="#4a7ac8" stroke="#4a7ac8" stroke-width="0.07" text-anchor="middle">4.5</text>
<text x="665" y="261.6" font-size="1.49" fill="#7a7a7a" stroke="#7a7a7a" stroke-width="0.07" text-anchor="middle">475</text>
<text x="678" y="261.6" font-size="1.49" fill="#7a7a7a" stroke="#7a7a7a" stroke-width="0.07" text-anchor="middle">$9,844</text>
<rect x="598.2" y="264.04" width="34.5" height="6.04" fill="#d3d8df"/>
<rect x="632.7" y="264.04" width="53.8" height="6.04" fill="#d9d9d9"/>
<line x1="598.2" y1="270.08" x2="686.5" y2="270.08" stroke="#cfcfcf" stroke-width="0.25"/>
<text x="600.5" y="267.64" font-size="1.61" fill="#4a7ac8" stroke="#4a7ac8" stroke-width="0.08">Crash Frenzy</text>
<text x="641" y="267.64" font-size="1.49" fill="#7a7a7a" stroke="#7a7a7a" stroke-width="0.07" text-anchor="middle">26</text>
<text x="653" y="267.64" font-size="1.49" fill="#4a7ac8" stroke="#4a7ac8" stroke-width="0.07" text-anchor="middle">4.5</text>
<text x="665" y="267.64" font-size="1.49" fill="#7a7a7a" stroke="#7a7a7a" stroke-width="0.07" text-anchor="middle">475</text>
<text x="678" y="267.64" font-size="1.49" fill="#7a7a7a" stroke="#7a7a7a" stroke-width="0.07" text-anchor="middle">$9,844</text>
<rect x="598.2" y="270.08" width="34.5" height="6.04" fill="#d3d8df"/>
<rect x="632.7" y="270.08" width="53.8" height="6.04" fill="#d9d9d9"/>
<line x1="598.2" y1="276.12" x2="686.5" y2="276.12" stroke="#cfcfcf" stroke-width="0.25"/>
<text x="600.5" y="273.68" font-size="1.61" fill="#4a7ac8" stroke="#4a7ac8" stroke-width="0.08">Cozy Fall Break</text>
<text x="641" y="273.68" font-size="1.49" fill="#7a7a7a" stroke="#7a7a7a" stroke-width="0.07" text-anchor="middle">26</text>
<text x="653" y="273.68" font-size="1.49" fill="#4a7ac8" stroke="#4a7ac8" stroke-width="0.07" text-anchor="middle">4.5</text>
<text x="665" y="273.68" font-size="1.49" fill="#7a7a7a" stroke="#7a7a7a" stroke-width="0.07" text-anchor="middle">475</text>
<text x="678" y="273.68" font-size="1.49" fill="#7a7a7a" stroke="#7a7a7a" stroke-width="0.07" text-anchor="middle">$9,844</text>
<rect x="598.2" y="276.12" width="34.5" height="6.04" fill="#d3d8df"/>
<rect x="632.7" y="276.12" width="53.8" height="6.04" fill="#d9d9d9"/>
<line x1="598.2" y1="282.16" x2="686.5" y2="282.16" stroke="#cfcfcf" stroke-width="0.25"/>
<text x="600.5" y="279.72" font-size="1.61" fill="#4a7ac8" stroke="#4a7ac8" stroke-width="0.08">Tech Savings Sale</text>
<text x="641" y="279.72" font-size="1.49" fill="#7a7a7a" stroke="#7a7a7a" stroke-width="0.07" text-anchor="middle">26</text>
<text x="653" y="279.72" font-size="1.49" fill="#4a7ac8" stroke="#4a7ac8" stroke-width="0.07" text-anchor="middle">4.5</text>
<text x="665" y="279.72" font-size="1.49" fill="#7a7a7a" stroke="#7a7a7a" stroke-width="0.07" text-anchor="middle">475</text>
<text x="678" y="279.72" font-size="1.49" fill="#7a7a7a" stroke="#7a7a7a" stroke-width="0.07" text-anchor="middle">$9,844</text>
<rect x="598.2" y="282.16" width="34.5" height="6.04" fill="#d3d8df"/>
<rect x="632.7" y="282.16" width="53.8" height="6.04" fill="#d9d9d9"/>
<line x1="598.2" y1="288.2" x2="686.5" y2="288.2" stroke="#cfcfcf" stroke-width="0.25"/>
<text x="600.5" y="285.76" font-size="1.61" fill="#4a7ac8" stroke="#4a7ac8" stroke-width="0.08">Fall Friends Giveaway</text>
<text x="641" y="285.76" font-size="1.49" fill="#7a7a7a" stroke="#7a7a7a" stroke-width="0.07" text-anchor="middle">26</text>
<text x="653" y="285.76" font-size="1.49" fill="#4a7ac8" stroke="#4a7ac8" stroke-width="0.07" text-anchor="middle">4.5</text>
<text x="665" y="285.76" font-size="1.49" fill="#7a7a7a" stroke="#7a7a7a" stroke-width="0.07" text-anchor="middle">475</text>
<text x="678" y="285.76" font-size="1.49" fill="#7a7a7a" stroke="#7a7a7a" stroke-width="0.07" text-anchor="middle">$9,844</text>
<rect x="598.2" y="288.2" width="34.5" height="6.04" fill="#d3d8df"/>
<rect x="632.7" y="288.2" width="53.8" height="6.04" fill="#d9d9d9"/>
<line x1="598.2" y1="294.24" x2="686.5" y2="294.24" stroke="#cfcfcf" stroke-width="0.25"/>
<text x="600.5" y="291.8" font-size="1.61" fill="#4a7ac8" stroke="#4a7ac8" stroke-width="0.08">Cozy Fall Bright Sale</text>
<text x="641" y="291.8" font-size="1.49" fill="#7a7a7a" stroke="#7a7a7a" stroke-width="0.07" text-anchor="middle">26</text>
<text x="653" y="291.8" font-size="1.49" fill="#4a7ac8" stroke="#4a7ac8" stroke-width="0.07" text-anchor="middle">4.5</text>
<text x="665" y="291.8" font-size="1.49" fill="#7a7a7a" stroke="#7a7a7a" stroke-width="0.07" text-anchor="middle">475</text>
<text x="678" y="291.8" font-size="1.49" fill="#7a7a7a" stroke="#7a7a7a" stroke-width="0.07" text-anchor="middle">$9,844</text>
<rect x="598.2" y="294.24" width="34.5" height="6.04" fill="#d3d8df"/>
<rect x="632.7" y="294.24" width="53.8" height="6.04" fill="#d9d9d9"/>
<line x1="598.2" y1="300.28" x2="686.5" y2="300.28" stroke="#cfcfcf" stroke-width="0.25"/>
<text x="600.5" y="297.84" font-size="1.61" fill="#4a7ac8" stroke="#4a7ac8" stroke-width="0.08">Budgeting Tips Sale</text>
<text x="641" y="297.84" font-size="1.49" fill="#7a7a7a" stroke="#7a7a7a" stroke-width="0.07" text-anchor="middle">26</text>
<text x="653" y="297.84" font-size="1.49" fill="#4a7ac8" stroke="#4a7ac8" stroke-width="0.07" text-anchor="middle">4.5</text>
<text x="665" y="297.84" font-size="1.49" fill="#7a7a7a" stroke="#7a7a7a" stroke-width="0.07" text-anchor="middle">475</text>
<text x="678" y="297.84" font-size="1.49" fill="#7a7a7a" stroke="#7a7a7a" stroke-width="0.07" text-anchor="middle">$9,844</text>
<rect x="598.2" y="300.28" width="34.5" height="6.04" fill="#d3d8df"/>
<rect x="632.7" y="300.28" width="53.8" height="6.04" fill="#d9d9d9"/>
<line x1="598.2" y1="306.32" x2="686.5" y2="306.32" stroke="#cfcfcf" stroke-width="0.25"/>
<text x="600.5" y="303.88" font-size="1.61" fill="#4a7ac8" stroke="#4a7ac8" stroke-width="0.08">Budgeting Tips Daily</text>
<text x="641" y="303.88" font-size="1.49" fill="#7a7a7a" stroke="#7a7a7a" stroke-width="0.07" text-anchor="middle">26</text>
<text x="653" y="303.88" font-size="1.49" fill="#4a7ac8" stroke="#4a7ac8" stroke-width="0.07" text-anchor="middle">4.5</text>
<text x="665" y="303.88" font-size="1.49" fill="#7a7a7a" stroke="#7a7a7a" stroke-width="0.07" text-anchor="middle">475</text>
<text x="678" y="303.88" font-size="1.49" fill="#7a7a7a" stroke="#7a7a7a" stroke-width="0.07" text-anchor="middle">$9,844</text>
<line x1="632.7" y1="251.6" x2="632.7" y2="306.3" stroke="#cccccc" stroke-width="0.25"/>
<line x1="649" y1="251.6" x2="649" y2="306.3" stroke="#cccccc" stroke-width="0.25"/>
<line x1="659" y1="251.6" x2="659" y2="306.3" stroke="#cccccc" stroke-width="0.25"/>
<line x1="672" y1="251.6" x2="672" y2="306.3" stroke="#cccccc" stroke-width="0.25"/>
<text x="686" y="311" font-size="1.49" fill="#8a8a8a" stroke="#8a8a8a" stroke-width="0.07" text-anchor="end">Showing 1 to 8 of 12</text>
<rect x="696.6" y="192" width="57.8" height="13.2" fill="#dadada" rx="0.6"/>
<g fill="none" stroke="#3cae50" stroke-width="0.6"><rect x="701" y="196" width="5" height="4" rx="0.4"/><circle cx="706" cy="200.5" r="1.3"/><path d="M702 195.5 h3"/></g>
<text x="711.5" y="195.6" font-size="1.61" fill="#6a6a7a" stroke="#6a6a7a" stroke-width="0.08">Ratings Per Month</text>
<text x="711.3" y="200.5" font-size="3.6" fill="#3cae50" font-weight="bold">$69,716</text>
<text x="735.2" y="198.8" font-size="1.26" fill="#a0a0a0" stroke="#a0a0a0" stroke-width="0.06">NEW REVENUE</text>
<text x="735.2" y="200.3" font-size="1.26" fill="#a0a0a0" stroke="#a0a0a0" stroke-width="0.06">vs last week</text>
<rect x="696.6" y="209" width="57.8" height="13.2" fill="#dadada" rx="0.6"/>
<g fill="none" stroke="#3a5ab0" stroke-width="0.6"><circle cx="703.5" cy="212.5" r="1.3"/><path d="M700.8 217.5 q2.7 -3 5.4 0 M705.5 215.5 l1.2 1 l2 -2"/></g>
<text x="711.5" y="212.6" font-size="1.61" fill="#6a6a7a" stroke="#6a6a7a" stroke-width="0.08">Calls Per Week</text>
<text x="711.3" y="217.5" font-size="3.6" fill="#3a5ab0" font-weight="bold">1,799</text>
<text x="733" y="215.8" font-size="1.26" fill="#a0a0a0" stroke="#a0a0a0" stroke-width="0.06">NEW REVENUE</text>
<text x="733" y="217.3" font-size="1.26" fill="#a0a0a0" stroke="#a0a0a0" stroke-width="0.06">vs last week</text>
<rect x="696.6" y="225.4" width="57.8" height="13.2" fill="#dadada" rx="0.6"/>
<g fill="none" stroke="#3a5ab0" stroke-width="0.6"><path d="M700.5 229 v7 h9 M702 235.5 v-3 M704 235.5 v-5 M706 235.5 v-2 M708 235.5 v-4"/></g>
<text x="711.5" y="229" font-size="1.61" fill="#6a6a7a" stroke="#6a6a7a" stroke-width="0.08">Revenue Per Week</text>
<text x="711.3" y="233.9" font-size="3.6" fill="#3a5ab0" font-weight="bold">$188,186</text>
<text x="736.3" y="232.2" font-size="1.26" fill="#a0a0a0" stroke="#a0a0a0" stroke-width="0.06">NEW REVENUE</text>
<text x="736.3" y="233.7" font-size="1.26" fill="#a0a0a0" stroke="#a0a0a0" stroke-width="0.06">vs last week</text>
<rect x="696.9" y="241.8" width="57.2" height="73.4" fill="#dadada" rx="0.6"/>
<circle cx="704.5" cy="251" r="4.2" fill="#e8c080"/>
<circle cx="704.5" cy="251" r="3.4" fill="#f0e0c8"/>
<path d="M703,255 L704.5,247.5 L706,255 Z" fill="#3a2080"/>
<circle cx="704.5" cy="249" r="0.9" fill="#e07030"/>
<text x="712.1" y="250.3" font-size="2.7" fill="#3a6ab8" stroke="#3a6ab8" stroke-width="0.14" font-weight="bold">Age Range Breakdown</text>
<text x="712.1" y="254" font-size="1.38" fill="#7a8a9a" stroke="#7a8a9a" stroke-width="0.07">Breakdown by Gender</text>
<circle cx="727.5" cy="253.6" r="0.35" fill="#3a78e0"/>
<text x="728.2" y="254" font-size="1.26" fill="#7a8a9a" stroke="#7a8a9a" stroke-width="0.06">Male 45%</text>
<circle cx="734.5" cy="253.6" r="0.35" fill="#e05a4a"/>
<text x="735.2" y="254" font-size="1.26" fill="#7a8a9a" stroke="#7a8a9a" stroke-width="0.06">Female 55%</text>
<path d="M718.69,260.77 A18.4,18.4 0 0 1 725.4,259.5 L725.4,268 A9.9,9.9 0 0 0 721.79,268.68 Z" fill="#19bed6"/>
<path d="M725.4,259.5 A18.4,18.4 0 0 1 734.6,261.97 L730.35,269.33 A9.9,9.9 0 0 0 725.4,268 Z" fill="#2a9ae2"/>
<path d="M734.6,261.97 A18.4,18.4 0 0 1 743.79,278.54 L735.29,278.25 A9.9,9.9 0 0 0 730.35,269.33 Z" fill="#1a55de"/>
<path d="M743.79,278.54 A18.4,18.4 0 0 1 724.44,296.27 L724.88,287.79 A9.9,9.9 0 0 0 735.29,278.25 Z" fill="#8a8ae0"/>
<path d="M724.44,296.27 A18.4,18.4 0 0 1 709.15,286.54 L716.66,282.55 A9.9,9.9 0 0 0 724.88,287.79 Z" fill="#5a48b8"/>
<path d="M709.15,286.54 A18.4,18.4 0 0 1 710.9,266.57 L717.6,271.8 A9.9,9.9 0 0 0 716.66,282.55 Z" fill="#e8b466"/>
<path d="M710.9,266.57 A18.4,18.4 0 0 1 718.69,260.77 L721.79,268.68 A9.9,9.9 0 0 0 717.6,271.8 Z" fill="#e8955e"/>
<line x1="721.79" y1="268.68" x2="718.69" y2="260.77" stroke="#e6e6e6" stroke-width="0.3"/>
<line x1="725.4" y1="268" x2="725.4" y2="259.5" stroke="#e6e6e6" stroke-width="0.3"/>
<line x1="730.35" y1="269.33" x2="734.6" y2="261.97" stroke="#e6e6e6" stroke-width="0.3"/>
<line x1="735.29" y1="278.25" x2="743.79" y2="278.54" stroke="#e6e6e6" stroke-width="0.3"/>
<line x1="724.88" y1="287.79" x2="724.44" y2="296.27" stroke="#e6e6e6" stroke-width="0.3"/>
<line x1="716.66" y1="282.55" x2="709.15" y2="286.54" stroke="#e6e6e6" stroke-width="0.3"/>
<line x1="717.6" y1="271.8" x2="710.9" y2="266.57" stroke="#e6e6e6" stroke-width="0.3"/>
<circle cx="701.5" cy="303.5" r="0.9" fill="#19bed6"/>
<text x="704" y="304" font-size="1.49" fill="#8a8a8a" stroke="#8a8a8a" stroke-width="0.07">0 - 18</text>
<circle cx="714.8" cy="303.5" r="0.9" fill="#2a9ae2"/>
<text x="717.3" y="304" font-size="1.49" fill="#8a8a8a" stroke="#8a8a8a" stroke-width="0.07">18 - 24</text>
<circle cx="728.6" cy="303.5" r="0.9" fill="#1a55de"/>
<text x="731.1" y="304" font-size="1.49" fill="#8a8a8a" stroke="#8a8a8a" stroke-width="0.07">25 - 34</text>
<circle cx="742.3" cy="303.5" r="0.9" fill="#8a8ae0"/>
<text x="744.8" y="304" font-size="1.49" fill="#8a8a8a" stroke="#8a8a8a" stroke-width="0.07">35 - 44</text>
<circle cx="701.5" cy="309.4" r="0.9" fill="#5a48b8"/>
<text x="704" y="309.9" font-size="1.49" fill="#8a8a8a" stroke="#8a8a8a" stroke-width="0.07">45 - 54</text>
<circle cx="714.8" cy="309.4" r="0.9" fill="#e8b466"/>
<text x="717.3" y="309.9" font-size="1.49" fill="#8a8a8a" stroke="#8a8a8a" stroke-width="0.07">55 - 64</text>
<circle cx="728.6" cy="309.4" r="0.9" fill="#e8955e"/>
<text x="731.1" y="309.9" font-size="1.49" fill="#8a8a8a" stroke="#8a8a8a" stroke-width="0.07">&gt; 65</text>
</g>
<clipPath id="cp6"><rect x="524" y="348" width="237.3" height="147.8" rx="3.5"/></clipPath>
<defs><linearGradient id="g6" x1="0" x2="1"><stop offset="0" stop-color="#081616"/><stop offset="0.5" stop-color="#0a1c1a"/><stop offset="1" stop-color="#061212"/></linearGradient></defs>
<g clip-path="url(#cp6)">
<rect x="524" y="348" width="237.3" height="147.8" fill="#d6d6d6"/>
<rect x="524" y="348" width="237.3" height="9.9" fill="url(#g6)"/>
<rect x="617.83" y="353.35" width="1.32" height="1.02" fill="#0e2a22"/>
<rect x="586.8" y="349.11" width="2.49" height="0.61" fill="#12402a"/>
<rect x="609.51" y="354.74" width="1.75" height="0.96" fill="#185a34"/>
<rect x="690.03" y="350.2" width="1.99" height="1.34" fill="#0e2a22"/>
<rect x="645.19" y="349.12" width="2.34" height="0.49" fill="#0e2a22"/>
<rect x="582.7" y="355.24" width="2.46" height="0.62" fill="#0e2a22"/>
<rect x="704.39" y="356.03" width="2.19" height="1.41" fill="#185a34"/>
<rect x="706.06" y="353.62" width="2.81" height="0.46" fill="#0c2a1e"/>
<rect x="592.54" y="350.09" width="0.94" height="1.46" fill="#185a34"/>
<rect x="715.22" y="355.84" width="1.45" height="1.3" fill="#0e2a22"/>
<rect x="638.16" y="353.68" width="1.86" height="1.39" fill="#0f3020"/>
<rect x="729.15" y="356.93" width="2.08" height="0.5" fill="#0c2a1e"/>
<rect x="748.63" y="356.24" width="1.82" height="1.16" fill="#12402a"/>
<rect x="688.94" y="356.9" width="1.07" height="0.45" fill="#185a34"/>
<rect x="728.71" y="356.92" width="0.62" height="1.26" fill="#185a34"/>
<rect x="736.48" y="349.16" width="1.47" height="0.8" fill="#0f3020"/>
<rect x="582.95" y="353.92" width="0.51" height="1.16" fill="#0c2a1e"/>
<rect x="674.15" y="356.38" width="1.1" height="0.58" fill="#0f3020"/>
<rect x="630.74" y="349.62" width="1.9" height="0.34" fill="#12402a"/>
<rect x="749.86" y="351.33" width="1.06" height="1.13" fill="#0c2a1e"/>
<rect x="631.49" y="356.67" width="2.64" height="0.75" fill="#185a34"/>
<rect x="731.58" y="352.09" width="2.57" height="1.12" fill="#0f3020"/>
<rect x="686.62" y="356.52" width="1.67" height="0.82" fill="#12402a"/>
<rect x="743.56" y="352.5" width="1.05" height="0.66" fill="#0c2a1e"/>
<rect x="577.06" y="352.32" width="1.85" height="0.32" fill="#0e2a22"/>
<rect x="681.06" y="350.07" width="1.98" height="0.7" fill="#0c2a1e"/>
<rect x="697.27" y="351.82" width="2.17" height="1.19" fill="#0f3020"/>
<rect x="681.09" y="356.64" width="0.45" height="0.74" fill="#185a34"/>
<rect x="628.75" y="353.81" width="0.84" height="0.52" fill="#0c2a1e"/>
<rect x="726.89" y="351.11" width="2.37" height="0.43" fill="#0f3020"/>
<rect x="749.85" y="354.47" width="0.73" height="0.9" fill="#0c2a1e"/>
<rect x="617.97" y="350.5" width="1.49" height="1.14" fill="#0f3020"/>
<rect x="683.13" y="356.59" width="2.09" height="0.57" fill="#12402a"/>
<rect x="589.39" y="354.94" width="0.95" height="0.98" fill="#0c2a1e"/>
<rect x="615.51" y="349.97" width="1.72" height="0.53" fill="#0e2a22"/>
<rect x="608.05" y="351.23" width="2.42" height="1.07" fill="#0e2a22"/>
<rect x="637.15" y="350.04" width="1.13" height="1.25" fill="#0c2a1e"/>
<rect x="658.65" y="354.07" width="1.13" height="0.98" fill="#0f3020"/>
<rect x="740.71" y="350.25" width="0.41" height="1.43" fill="#0e2a22"/>
<rect x="752.64" y="352.47" width="2.78" height="1.41" fill="#12402a"/>
<rect x="580.82" y="352.65" width="2.28" height="1.2" fill="#0c2a1e"/>
<rect x="672.89" y="356.12" width="2.55" height="1.33" fill="#0c2a1e"/>
<rect x="596.6" y="350.96" width="0.49" height="1.26" fill="#0e2a22"/>
<rect x="741.29" y="356.17" width="2.65" height="0.99" fill="#0f3020"/>
<rect x="661.59" y="349.97" width="1.66" height="0.59" fill="#0f3020"/>
<rect x="669.49" y="352.31" width="2.75" height="1.03" fill="#0c2a1e"/>
<rect x="597.57" y="356.78" width="1.75" height="1.27" fill="#0f3020"/>
<rect x="638.33" y="350.58" width="1.74" height="1.28" fill="#12402a"/>
<rect x="618.1" y="351.19" width="2.62" height="0.45" fill="#0f3020"/>
<rect x="662.75" y="353.57" width="1.4" height="1.21" fill="#12402a"/>
<rect x="623.35" y="353.22" width="1.46" height="0.87" fill="#0f3020"/>
<rect x="729.26" y="355.2" width="0.52" height="0.36" fill="#185a34"/>
<rect x="750.44" y="355.84" width="0.62" height="0.9" fill="#0c2a1e"/>
<rect x="603.27" y="349.57" width="1.36" height="0.77" fill="#0c2a1e"/>
<rect x="639.95" y="350.53" width="1.22" height="0.45" fill="#0e2a22"/>
<rect x="575.63" y="354.78" width="2.39" height="0.98" fill="#0f3020"/>
<rect x="642.19" y="353.84" width="2.36" height="0.76" fill="#0f3020"/>
<rect x="687.13" y="352.45" width="1.33" height="0.9" fill="#0c2a1e"/>
<rect x="650.69" y="354.55" width="1.55" height="0.59" fill="#0e2a22"/>
<rect x="623.62" y="353.72" width="2.41" height="0.57" fill="#12402a"/>
<rect x="733.34" y="356.49" width="1.34" height="1.38" fill="#0c2a1e"/>
<rect x="596.86" y="354.52" width="2.75" height="1.18" fill="#0e2a22"/>
<rect x="717.64" y="354.34" width="2.23" height="0.98" fill="#0f3020"/>
<rect x="721.09" y="354.73" width="1.58" height="0.58" fill="#185a34"/>
<rect x="582.98" y="349.73" width="0.65" height="1.36" fill="#12402a"/>
<rect x="722.5" y="351.73" width="2.53" height="0.33" fill="#0f3020"/>
<rect x="696.24" y="355.69" width="2.78" height="0.99" fill="#0f3020"/>
<rect x="581.53" y="355.14" width="1.68" height="1.16" fill="#0f3020"/>
<rect x="674.8" y="349.8" width="1.78" height="0.96" fill="#0e2a22"/>
<rect x="607.48" y="349.62" width="2.9" height="1.08" fill="#185a34"/>
<rect x="685.88" y="355.03" width="1.38" height="0.74" fill="#185a34"/>
<rect x="743.98" y="353.45" width="2.82" height="0.75" fill="#12402a"/>
<rect x="750.15" y="352.3" width="2.27" height="0.49" fill="#0e2a22"/>
<rect x="711.1" y="354.39" width="1.69" height="0.88" fill="#185a34"/>
<rect x="736.53" y="350.19" width="0.64" height="1.2" fill="#0e2a22"/>
<rect x="746.12" y="353.69" width="2.55" height="0.46" fill="#12402a"/>
<rect x="601.38" y="353.12" width="2.74" height="1.32" fill="#0e2a22"/>
<rect x="746.62" y="351.37" width="2.16" height="0.8" fill="#0e2a22"/>
<rect x="680.24" y="351.14" width="0.94" height="0.33" fill="#185a34"/>
<rect x="719.74" y="350.6" width="1.82" height="0.59" fill="#185a34"/>
<rect x="714.36" y="350.15" width="2.88" height="0.88" fill="#0e2a22"/>
<rect x="612.04" y="353.64" width="2.65" height="1.08" fill="#0f3020"/>
<rect x="661.63" y="354.77" width="2.54" height="0.78" fill="#0f3020"/>
<rect x="659.13" y="350.84" width="0.99" height="1.16" fill="#0f3020"/>
<rect x="747.57" y="355.83" width="1.01" height="0.53" fill="#0c2a1e"/>
<rect x="599.75" y="353.98" width="2.09" height="0.34" fill="#0c2a1e"/>
<rect x="605.55" y="349.36" width="0.86" height="0.41" fill="#0f3020"/>
<rect x="596.23" y="351.11" width="2.68" height="0.34" fill="#185a34"/>
<rect x="679.45" y="354.4" width="0.42" height="0.7" fill="#185a34"/>
<rect x="643.34" y="349.62" width="2.01" height="1.19" fill="#185a34"/>
<rect x="645.37" y="353.35" width="0.7" height="0.63" fill="#185a34"/>
<rect x="595.26" y="356.1" width="2.67" height="0.42" fill="#0c2a1e"/>
<rect x="697.12" y="351.95" width="1.53" height="1.1" fill="#0c2a1e"/>
<rect x="594.29" y="356.56" width="1.25" height="0.98" fill="#0e2a22"/>
<rect x="595.39" y="352.95" width="1.28" height="1.16" fill="#0e2a22"/>
<rect x="708.61" y="354.17" width="2.23" height="0.48" fill="#0c2a1e"/>
<rect x="735.19" y="354.24" width="0.71" height="1.42" fill="#12402a"/>
<rect x="740.75" y="354.16" width="2.02" height="0.8" fill="#0c2a1e"/>
<rect x="691.55" y="352.66" width="1.18" height="0.51" fill="#0f3020"/>
<rect x="594.34" y="350.45" width="1.78" height="0.99" fill="#185a34"/>
<rect x="639.66" y="351.13" width="1.36" height="1.35" fill="#0f3020"/>
<rect x="661.17" y="351.17" width="2.14" height="0.92" fill="#0c2a1e"/>
<rect x="745.11" y="352.59" width="2.42" height="0.38" fill="#185a34"/>
<rect x="727.44" y="349.9" width="1.08" height="0.42" fill="#0f3020"/>
<rect x="676.58" y="356.28" width="0.68" height="1.14" fill="#0e2a22"/>
<rect x="650" y="354.95" width="2.44" height="1.2" fill="#0e2a22"/>
<rect x="684.42" y="355.88" width="2.4" height="0.95" fill="#12402a"/>
<rect x="677.31" y="350.62" width="1.03" height="1.24" fill="#0f3020"/>
<rect x="726.61" y="352.56" width="1.42" height="1.28" fill="#0c2a1e"/>
<rect x="674.47" y="353.66" width="1.98" height="1.47" fill="#0c2a1e"/>
<rect x="736.23" y="354.34" width="0.48" height="0.53" fill="#0f3020"/>
<rect x="594.35" y="355.05" width="0.98" height="0.51" fill="#185a34"/>
<rect x="610.8" y="355.26" width="0.93" height="1.28" fill="#185a34"/>
<rect x="595.08" y="351.27" width="2.04" height="0.48" fill="#185a34"/>
<rect x="717.63" y="353.99" width="0.53" height="0.73" fill="#12402a"/>
<rect x="666.07" y="352.99" width="0.45" height="0.71" fill="#0c2a1e"/>
<rect x="731.69" y="354.56" width="0.74" height="1.33" fill="#0e2a22"/>
<rect x="714.56" y="349.27" width="0.6" height="1.49" fill="#12402a"/>
<rect x="742.71" y="355.89" width="1.49" height="1.21" fill="#185a34"/>
<rect x="631.85" y="355.3" width="1.42" height="1.31" fill="#12402a"/>
<rect x="645.47" y="352.79" width="0.57" height="1.32" fill="#12402a"/>
<rect x="691.86" y="351.44" width="1.56" height="1.21" fill="#185a34"/>
<rect x="653.91" y="352.64" width="0.49" height="0.61" fill="#0c2a1e"/>
<rect x="655.59" y="351.89" width="1.4" height="1.46" fill="#12402a"/>
<rect x="621.56" y="351.96" width="2.54" height="0.94" fill="#12402a"/>
<rect x="612.67" y="350.37" width="1.41" height="0.5" fill="#0f3020"/>
<rect x="600.07" y="353.87" width="1.51" height="0.52" fill="#0f3020"/>
<rect x="647.56" y="351.54" width="0.48" height="1.16" fill="#12402a"/>
<rect x="647.59" y="352.17" width="0.47" height="1.46" fill="#12402a"/>
<rect x="618.48" y="352.11" width="0.88" height="0.7" fill="#0f3020"/>
<rect x="637.34" y="349.99" width="0.53" height="1.17" fill="#0c2a1e"/>
<rect x="751.63" y="356.54" width="2.37" height="1.45" fill="#185a34"/>
<rect x="620" y="351.13" width="2.44" height="1.05" fill="#0c2a1e"/>
<rect x="632.07" y="349.45" width="1.49" height="0.41" fill="#0e2a22"/>
<rect x="575.66" y="349.24" width="0.63" height="0.5" fill="#0f3020"/>
<rect x="661.73" y="350.51" width="1.67" height="0.7" fill="#185a34"/>
<rect x="636.2" y="352.83" width="1.28" height="1.09" fill="#185a34"/>
<rect x="629.85" y="353.86" width="2.77" height="0.41" fill="#0c2a1e"/>
<rect x="608.14" y="352.3" width="1.67" height="0.96" fill="#0e2a22"/>
<rect x="697.41" y="356.43" width="0.84" height="1.19" fill="#185a34"/>
<g fill="none" stroke="#3ab88a" stroke-width="0.9">
<circle cx="536.9" cy="352.6" r="2.2" fill="none"/>
</g>
<path d="M536.9,349.2 L540.3,352.6 L536.9,356 L533.5,352.6 Z" fill="none" stroke="#3ab88a" stroke-width="0.5"/>
<text x="541" y="355.2" font-size="4.8" fill="#e8f0f0" textLength="12.6" lengthAdjust="spacingAndGlyphs">Bank</text>
<rect x="755.2" y="351.2" width="3" height="0.6" fill="#b0c0c0"/>
<rect x="755.2" y="352.2" width="3" height="0.6" fill="#b0c0c0"/>
<rect x="755.2" y="353.2" width="3" height="0.6" fill="#b0c0c0"/>
<text x="531" y="369.3" font-size="3.8" fill="#2a5a5a" font-weight="bold" textLength="26.3" lengthAdjust="spacingAndGlyphs">Online Banking</text>
<text x="531" y="374" font-size="1.85" fill="#8a8a8a" stroke="#8a8a8a" stroke-width="0.09" textLength="85" lengthAdjust="spacing" >in the facility how long they stayed and where their treatment was drawn and the average waiting time</text>
<text x="531" y="376.78" font-size="1.85" fill="#8a8a8a" stroke="#8a8a8a" stroke-width="0.09" textLength="85" lengthAdjust="spacing" >in emergency rooms Such a holistic view helps identify potential bottlenecks and allocate resources</text>
<text x="531" y="379.56" font-size="1.85" fill="#8a8a8a" stroke="#8a8a8a" stroke-width="0.09" textLength="85" lengthAdjust="spacing" >where they are needed most in order to make better informed decisions that will improve the overall</text>
<text x="531" y="382.34" font-size="1.85" fill="#8a8a8a" stroke="#8a8a8a" stroke-width="0.09" textLength="85" lengthAdjust="spacing" >operational performance with the goal of making patient visits and treatments fast and convenient The</text>
<text x="531" y="385.12" font-size="1.85" fill="#8a8a8a" stroke="#8a8a8a" stroke-width="0.09" textLength="85" lengthAdjust="spacing" >healthcare dashboard provides you with the most important metrics concerning various divisions the</text>
<text x="531" y="387.9" font-size="1.85" fill="#8a8a8a" stroke="#8a8a8a" stroke-width="0.09" textLength="85" lengthAdjust="spacing" >number of patients that were admitted in the facility how long they stayed and where their treatment</text>
<text x="531" y="390.68" font-size="1.85" fill="#8a8a8a" stroke="#8a8a8a" stroke-width="0.09" textLength="85" lengthAdjust="spacing" >was drawn and the average waiting time in emergency rooms Such a holistic view helps identify</text>
<text x="531" y="393.46" font-size="1.85" fill="#8a8a8a" stroke="#8a8a8a" stroke-width="0.09" textLength="76.5" lengthAdjust="spacing" >potential bottlenecks and allocate resources where they are needed most in order to make</text>
<text x="531" y="400.2" font-size="2.24" fill="#5a5a5a" stroke="#5a5a5a" stroke-width="0.11" textLength="38" lengthAdjust="spacingAndGlyphs">Reasons why people use online banking;</text>
<text x="531" y="403.55" font-size="2.24" fill="#5a5a5a" stroke="#5a5a5a" stroke-width="0.11" textLength="37" lengthAdjust="spacingAndGlyphs">Use of online banking as a global trust</text>
<text x="531" y="406.9" font-size="2.24" fill="#5a5a5a" stroke="#5a5a5a" stroke-width="0.11" textLength="33" lengthAdjust="spacingAndGlyphs">Online banking services in 38 cities</text>
<rect x="530.5" y="411.8" width="86.3" height="80.9" fill="#d9d9d9" rx="0.6"/>
<text x="534" y="415.6" font-size="1.95" fill="#2a6a6a" stroke="#2a6a6a" stroke-width="0.1" textLength="62.5" lengthAdjust="spacingAndGlyphs">Main reasons for using mobile banking apps in the United States in 2019</text>
<rect x="535" y="421.6" width="1.2" height="1.2" fill="#3cc48c"/>
<text x="537" y="422.6" font-size="1.61" fill="#8a8a8a" stroke="#8a8a8a" stroke-width="0.08">View Balance</text>
<rect x="535" y="424.55" width="1.2" height="1.2" fill="#2a9a72"/>
<text x="537" y="425.55" font-size="1.61" fill="#8a8a8a" stroke="#8a8a8a" stroke-width="0.08">View Recent Transactions</text>
<rect x="535" y="427.5" width="1.2" height="1.2" fill="#0e6060"/>
<text x="537" y="428.5" font-size="1.61" fill="#8a8a8a" stroke="#8a8a8a" stroke-width="0.08">Make Bill Payments</text>
<rect x="535" y="430.5" width="1.2" height="1.2" fill="#0a3838"/>
<text x="537" y="431.5" font-size="1.61" fill="#8a8a8a" stroke="#8a8a8a" stroke-width="0.08">Transfer Funds</text>
<path d="M572.2,465.6 L572.2,443.9 A21.7,21.7 0 0 1 572.2,487.3 Z" fill="#3cc48c"/>
<path d="M572.2,465.6 L572.2,487.3 A21.7,21.7 0 0 1 550.5,465.6 Z" fill="#2a9a72"/>
<path d="M572.2,465.6 L550.5,465.6 A21.7,21.7 0 0 1 559.75,447.82 Z" fill="#0e6060"/>
<path d="M572.2,465.6 L559.75,447.82 A21.7,21.7 0 0 1 572.2,443.9 Z" fill="#0a3838"/>
<line x1="594" y1="466" x2="598" y2="466" stroke="#b0b0b0" stroke-width="0.2"/>
<text x="599" y="466.6" font-size="1.72" fill="#8a8a8a" stroke="#8a8a8a" stroke-width="0.09">View Balance</text>
<text x="546" y="442" font-size="1.72" fill="#8a8a8a" stroke="#8a8a8a" stroke-width="0.09">Transfer Funds</text>
<line x1="562" y1="441.5" x2="565" y2="444" stroke="#b0b0b0" stroke-width="0.2"/>
<text x="537" y="453.3" font-size="1.72" fill="#8a8a8a" stroke="#8a8a8a" stroke-width="0.09">Make Bill</text>
<text x="537" y="455.3" font-size="1.72" fill="#8a8a8a" stroke="#8a8a8a" stroke-width="0.09">Payments</text>
<text x="537" y="481.5" font-size="1.72" fill="#8a8a8a" stroke="#8a8a8a" stroke-width="0.09">View Recent</text>
<text x="537" y="483.5" font-size="1.72" fill="#8a8a8a" stroke="#8a8a8a" stroke-width="0.09">Transactions</text>
<rect x="623.5" y="364.8" width="131.7" height="67.7" fill="#d9d9d9" rx="0.6"/>
<text x="626" y="368.2" font-size="1.95" fill="#2a5a6a" stroke="#2a5a6a" stroke-width="0.1" font-weight="bold">Channels used for transactions in the last three months in U.S.</text>
<rect x="634.5" y="373.2" width="1.3" height="1.3" fill="#5ac898"/>
<text x="636.5" y="374.4" font-size="1.61" fill="#8a8a8a" stroke="#8a8a8a" stroke-width="0.08">Online</text>
<rect x="643.32" y="373.2" width="1.3" height="1.3" fill="#8a5ab0"/>
<text x="645.32" y="374.4" font-size="1.61" fill="#8a8a8a" stroke="#8a8a8a" stroke-width="0.08">Physical Banking</text>
<rect x="659.34" y="373.2" width="1.3" height="1.3" fill="#e8a838"/>
<text x="661.34" y="374.4" font-size="1.61" fill="#8a8a8a" stroke="#8a8a8a" stroke-width="0.08">Mobile Phone</text>
<rect x="672.48" y="373.2" width="1.3" height="1.3" fill="#e03838"/>
<text x="674.48" y="374.4" font-size="1.61" fill="#8a8a8a" stroke="#8a8a8a" stroke-width="0.08">Phone (Call center)</text>
<rect x="690.66" y="373.2" width="1.3" height="1.3" fill="#38b8e0"/>
<text x="692.66" y="374.4" font-size="1.61" fill="#8a8a8a" stroke="#8a8a8a" stroke-width="0.08">Online Investment Broker</text>
<rect x="712.44" y="373.2" width="1.3" height="1.3" fill="#3a9a5a"/>
<text x="714.44" y="374.4" font-size="1.61" fill="#8a8a8a" stroke="#8a8a8a" stroke-width="0.08">Financial Planner</text>
<line x1="634.3" y1="420.7" x2="750.7" y2="420.7" stroke="#cdcdcd" stroke-width="0.25"/>
<text x="633" y="421.2" font-size="1.49" fill="#8a8a8a" stroke="#8a8a8a" stroke-width="0.07" text-anchor="end">0</text>
<line x1="634.3" y1="412.24" x2="750.7" y2="412.24" stroke="#cdcdcd" stroke-width="0.25"/>
<text x="633" y="412.74" font-size="1.49" fill="#8a8a8a" stroke="#8a8a8a" stroke-width="0.07" text-anchor="end">20</text>
<line x1="634.3" y1="403.78" x2="750.7" y2="403.78" stroke="#cdcdcd" stroke-width="0.25"/>
<text x="633" y="404.28" font-size="1.49" fill="#8a8a8a" stroke="#8a8a8a" stroke-width="0.07" text-anchor="end">40</text>
<line x1="634.3" y1="395.32" x2="750.7" y2="395.32" stroke="#cdcdcd" stroke-width="0.25"/>
<text x="633" y="395.82" font-size="1.49" fill="#8a8a8a" stroke="#8a8a8a" stroke-width="0.07" text-anchor="end">60</text>
<line x1="634.3" y1="386.86" x2="750.7" y2="386.86" stroke="#cdcdcd" stroke-width="0.25"/>
<text x="633" y="387.36" font-size="1.49" fill="#8a8a8a" stroke="#8a8a8a" stroke-width="0.07" text-anchor="end">80</text>
<line x1="634.3" y1="378.4" x2="750.7" y2="378.4" stroke="#cdcdcd" stroke-width="0.25"/>
<text x="633" y="378.9" font-size="1.49" fill="#8a8a8a" stroke="#8a8a8a" stroke-width="0.07" text-anchor="end">100</text>
<text x="627.5" y="399" font-size="1.72" fill="#7a7a7a" stroke="#7a7a7a" stroke-width="0.09" transform="rotate(-90 627.5 399)" text-anchor="middle">Percentage</text>
<rect x="637.7" y="391.9" width="1.8" height="28.8" fill="#5ac898"/>
<rect x="640.25" y="399.1" width="1.8" height="21.6" fill="#8a5ab0"/>
<rect x="642.8" y="407.6" width="1.8" height="13.1" fill="#e8a838"/>
<rect x="645.35" y="409" width="1.8" height="11.7" fill="#e03838"/>
<rect x="647.9" y="412.1" width="1.8" height="8.6" fill="#38b8e0"/>
<rect x="650.45" y="413.2" width="1.8" height="7.5" fill="#3a9a5a"/>
<text x="644.3" y="423.5" font-size="1.49" fill="#8a8a8a" stroke="#8a8a8a" stroke-width="0.07" text-anchor="middle">Asia - Pacific</text>
<rect x="660.7" y="401.3" width="1.8" height="19.4" fill="#5ac898"/>
<rect x="663.25" y="389.2" width="1.8" height="31.5" fill="#8a5ab0"/>
<rect x="665.8" y="407.6" width="1.8" height="13.1" fill="#e8a838"/>
<rect x="668.35" y="414.4" width="1.8" height="6.3" fill="#e03838"/>
<rect x="670.9" y="412.1" width="1.8" height="8.6" fill="#38b8e0"/>
<rect x="673.45" y="410.8" width="1.8" height="9.9" fill="#3a9a5a"/>
<text x="667.3" y="423.5" font-size="1.49" fill="#8a8a8a" stroke="#8a8a8a" stroke-width="0.07" text-anchor="middle">Europe</text>
<rect x="683.7" y="410.3" width="1.8" height="10.4" fill="#5ac898"/>
<rect x="686.25" y="386.8" width="1.8" height="33.9" fill="#8a5ab0"/>
<rect x="688.8" y="407.6" width="1.8" height="13.1" fill="#e8a838"/>
<rect x="691.35" y="401.8" width="1.8" height="18.9" fill="#e03838"/>
<rect x="693.9" y="412.1" width="1.8" height="8.6" fill="#38b8e0"/>
<rect x="696.45" y="397.8" width="1.8" height="22.9" fill="#3a9a5a"/>
<text x="690.3" y="423.5" font-size="1.49" fill="#8a8a8a" stroke="#8a8a8a" stroke-width="0.07" text-anchor="middle">Latin America</text>
<rect x="706.2" y="406.3" width="1.8" height="14.4" fill="#5ac898"/>
<rect x="708.75" y="388.3" width="1.8" height="32.4" fill="#8a5ab0"/>
<rect x="711.3" y="401.8" width="1.8" height="18.9" fill="#e8a838"/>
<rect x="713.85" y="399.1" width="1.8" height="21.6" fill="#e03838"/>
<rect x="716.4" y="418.6" width="1.8" height="2.1" fill="#38b8e0"/>
<rect x="718.95" y="416.2" width="1.8" height="4.5" fill="#3a9a5a"/>
<text x="712.8" y="423.5" font-size="1.49" fill="#8a8a8a" stroke="#8a8a8a" stroke-width="0.07" text-anchor="middle">Middle East/Africa</text>
<rect x="729.1" y="396" width="1.8" height="24.7" fill="#5ac898"/>
<rect x="731.65" y="404.9" width="1.8" height="15.8" fill="#8a5ab0"/>
<rect x="734.2" y="415.7" width="1.8" height="5" fill="#e8a838"/>
<rect x="736.75" y="413.2" width="1.8" height="7.5" fill="#e03838"/>
<rect x="739.3" y="410.3" width="1.8" height="10.4" fill="#38b8e0"/>
<rect x="741.85" y="404.5" width="1.8" height="16.2" fill="#3a9a5a"/>
<text x="735.7" y="423.5" font-size="1.49" fill="#8a8a8a" stroke="#8a8a8a" stroke-width="0.07" text-anchor="middle">North America</text>
<text x="690" y="428.6" font-size="1.72" fill="#3a6a7a" stroke="#3a6a7a" stroke-width="0.09" text-anchor="middle">Region</text>
<rect x="623.5" y="434.6" width="131.7" height="57.1" fill="#d9d9d9" rx="0.6"/>
<text x="626" y="438.2" font-size="1.95" fill="#2a5a6a" stroke="#2a5a6a" stroke-width="0.1">Use of online banking services in the United States per city</text>
<text x="635.3" y="446.05" font-size="1.61" fill="#8a8a8a" stroke="#8a8a8a" stroke-width="0.08" text-anchor="end">New York</text>
<rect x="637" y="443.7" width="4.22" height="3.25" fill="#95c1c8"/>
<rect x="641.62" y="443.7" width="4.22" height="3.25" fill="#dde9eb"/>
<rect x="646.24" y="443.7" width="4.22" height="3.25" fill="#0b6773"/>
<rect x="650.87" y="443.7" width="4.22" height="3.25" fill="#0b6773"/>
<rect x="655.49" y="443.7" width="4.22" height="3.25" fill="#dde9eb"/>
<rect x="660.11" y="443.7" width="4.22" height="3.25" fill="#dde9eb"/>
<rect x="664.73" y="443.7" width="4.22" height="3.25" fill="#0b6773"/>
<rect x="669.35" y="443.7" width="4.22" height="3.25" fill="#dde9eb"/>
<rect x="673.97" y="443.7" width="4.22" height="3.25" fill="#95c1c8"/>
<rect x="678.6" y="443.7" width="4.22" height="3.25" fill="#0b6773"/>
<rect x="683.22" y="443.7" width="4.22" height="3.25" fill="#dde9eb"/>
<rect x="687.84" y="443.7" width="4.22" height="3.25" fill="#b5d3d8"/>
<rect x="692.46" y="443.7" width="4.22" height="3.25" fill="#b5d3d8"/>
<rect x="697.08" y="443.7" width="4.22" height="3.25" fill="#b5d3d8"/>
<rect x="701.7" y="443.7" width="4.22" height="3.25" fill="#dde9eb"/>
<rect x="706.33" y="443.7" width="4.22" height="3.25" fill="#0b6773"/>
<rect x="710.95" y="443.7" width="4.22" height="3.25" fill="#b5d3d8"/>
<rect x="715.57" y="443.7" width="4.22" height="3.25" fill="#b5d3d8"/>
<rect x="720.19" y="443.7" width="4.22" height="3.25" fill="#b5d3d8"/>
<rect x="724.81" y="443.7" width="4.22" height="3.25" fill="#0b6773"/>
<rect x="729.43" y="443.7" width="4.22" height="3.25" fill="#95c1c8"/>
<rect x="734.06" y="443.7" width="4.22" height="3.25" fill="#95c1c8"/>
<rect x="738.68" y="443.7" width="4.22" height="3.25" fill="#0b6773"/>
<text x="635.3" y="449.7" font-size="1.61" fill="#8a8a8a" stroke="#8a8a8a" stroke-width="0.08" text-anchor="end">Los Angeles</text>
<rect x="637" y="447.35" width="4.22" height="3.25" fill="#dde9eb"/>
<rect x="641.62" y="447.35" width="4.22" height="3.25" fill="#95c1c8"/>
<rect x="646.24" y="447.35" width="4.22" height="3.25" fill="#95c1c8"/>
<rect x="650.87" y="447.35" width="4.22" height="3.25" fill="#95c1c8"/>
<rect x="655.49" y="447.35" width="4.22" height="3.25" fill="#95c1c8"/>
<rect x="660.11" y="447.35" width="4.22" height="3.25" fill="#95c1c8"/>
<rect x="664.73" y="447.35" width="4.22" height="3.25" fill="#dde9eb"/>
<rect x="669.35" y="447.35" width="4.22" height="3.25" fill="#dde9eb"/>
<rect x="673.97" y="447.35" width="4.22" height="3.25" fill="#dde9eb"/>
<rect x="678.6" y="447.35" width="4.22" height="3.25" fill="#dde9eb"/>
<rect x="683.22" y="447.35" width="4.22" height="3.25" fill="#dde9eb"/>
<rect x="687.84" y="447.35" width="4.22" height="3.25" fill="#95c1c8"/>
<rect x="692.46" y="447.35" width="4.22" height="3.25" fill="#95c1c8"/>
<rect x="697.08" y="447.35" width="4.22" height="3.25" fill="#95c1c8"/>
<rect x="701.7" y="447.35" width="4.22" height="3.25" fill="#95c1c8"/>
<rect x="706.33" y="447.35" width="4.22" height="3.25" fill="#dde9eb"/>
<rect x="710.95" y="447.35" width="4.22" height="3.25" fill="#dde9eb"/>
<rect x="715.57" y="447.35" width="4.22" height="3.25" fill="#dde9eb"/>
<rect x="720.19" y="447.35" width="4.22" height="3.25" fill="#dde9eb"/>
<rect x="724.81" y="447.35" width="4.22" height="3.25" fill="#dde9eb"/>
<rect x="729.43" y="447.35" width="4.22" height="3.25" fill="#3f8e9a"/>
<rect x="734.06" y="447.35" width="4.22" height="3.25" fill="#dde9eb"/>
<rect x="738.68" y="447.35" width="4.22" height="3.25" fill="#dde9eb"/>
<text x="635.3" y="453.34" font-size="1.61" fill="#8a8a8a" stroke="#8a8a8a" stroke-width="0.08" text-anchor="end">Washington</text>
<rect x="637" y="450.99" width="4.22" height="3.25" fill="#dde9eb"/>
<rect x="641.62" y="450.99" width="4.22" height="3.25" fill="#dde9eb"/>
<rect x="646.24" y="450.99" width="4.22" height="3.25" fill="#dde9eb"/>
<rect x="650.87" y="450.99" width="4.22" height="3.25" fill="#dde9eb"/>
<rect x="655.49" y="450.99" width="4.22" height="3.25" fill="#6aa8b2"/>
<rect x="660.11" y="450.99" width="4.22" height="3.25" fill="#6aa8b2"/>
<rect x="664.73" y="450.99" width="4.22" height="3.25" fill="#dde9eb"/>
<rect x="669.35" y="450.99" width="4.22" height="3.25" fill="#6aa8b2"/>
<rect x="673.97" y="450.99" width="4.22" height="3.25" fill="#dde9eb"/>
<rect x="678.6" y="450.99" width="4.22" height="3.25" fill="#dde9eb"/>
<rect x="683.22" y="450.99" width="4.22" height="3.25" fill="#dde9eb"/>
<rect x="687.84" y="450.99" width="4.22" height="3.25" fill="#dde9eb"/>
<rect x="692.46" y="450.99" width="4.22" height="3.25" fill="#b5d3d8"/>
<rect x="697.08" y="450.99" width="4.22" height="3.25" fill="#dde9eb"/>
<rect x="701.7" y="450.99" width="4.22" height="3.25" fill="#dde9eb"/>
<rect x="706.33" y="450.99" width="4.22" height="3.25" fill="#b5d3d8"/>
<rect x="710.95" y="450.99" width="4.22" height="3.25" fill="#6aa8b2"/>
<rect x="715.57" y="450.99" width="4.22" height="3.25" fill="#dde9eb"/>
<rect x="720.19" y="450.99" width="4.22" height="3.25" fill="#dde9eb"/>
<rect x="724.81" y="450.99" width="4.22" height="3.25" fill="#dde9eb"/>
<rect x="729.43" y="450.99" width="4.22" height="3.25" fill="#dde9eb"/>
<rect x="734.06" y="450.99" width="4.22" height="3.25" fill="#dde9eb"/>
<rect x="738.68" y="450.99" width="4.22" height="3.25" fill="#dde9eb"/>
<text x="635.3" y="456.99" font-size="1.61" fill="#8a8a8a" stroke="#8a8a8a" stroke-width="0.08" text-anchor="end">Seattle</text>
<rect x="637" y="454.64" width="4.22" height="3.25" fill="#b5d3d8"/>
<rect x="641.62" y="454.64" width="4.22" height="3.25" fill="#b5d3d8"/>
<rect x="646.24" y="454.64" width="4.22" height="3.25" fill="#b5d3d8"/>
<rect x="650.87" y="454.64" width="4.22" height="3.25" fill="#b5d3d8"/>
<rect x="655.49" y="454.64" width="4.22" height="3.25" fill="#b5d3d8"/>
<rect x="660.11" y="454.64" width="4.22" height="3.25" fill="#b5d3d8"/>
<rect x="664.73" y="454.64" width="4.22" height="3.25" fill="#b5d3d8"/>
<rect x="669.35" y="454.64" width="4.22" height="3.25" fill="#b5d3d8"/>
<rect x="673.97" y="454.64" width="4.22" height="3.25" fill="#b5d3d8"/>
<rect x="678.6" y="454.64" width="4.22" height="3.25" fill="#b5d3d8"/>
<rect x="683.22" y="454.64" width="4.22" height="3.25" fill="#b5d3d8"/>
<rect x="687.84" y="454.64" width="4.22" height="3.25" fill="#b5d3d8"/>
<rect x="692.46" y="454.64" width="4.22" height="3.25" fill="#b5d3d8"/>
<rect x="697.08" y="454.64" width="4.22" height="3.25" fill="#6aa8b2"/>
<rect x="701.7" y="454.64" width="4.22" height="3.25" fill="#b5d3d8"/>
<rect x="706.33" y="454.64" width="4.22" height="3.25" fill="#b5d3d8"/>
<rect x="710.95" y="454.64" width="4.22" height="3.25" fill="#b5d3d8"/>
<rect x="715.57" y="454.64" width="4.22" height="3.25" fill="#b5d3d8"/>
<rect x="720.19" y="454.64" width="4.22" height="3.25" fill="#b5d3d8"/>
<rect x="724.81" y="454.64" width="4.22" height="3.25" fill="#b5d3d8"/>
<rect x="729.43" y="454.64" width="4.22" height="3.25" fill="#b5d3d8"/>
<rect x="734.06" y="454.64" width="4.22" height="3.25" fill="#b5d3d8"/>
<rect x="738.68" y="454.64" width="4.22" height="3.25" fill="#b5d3d8"/>
<text x="635.3" y="460.63" font-size="1.61" fill="#8a8a8a" stroke="#8a8a8a" stroke-width="0.08" text-anchor="end">Chicago</text>
<rect x="637" y="458.28" width="4.22" height="3.25" fill="#b5d3d8"/>
<rect x="641.62" y="458.28" width="4.22" height="3.25" fill="#b5d3d8"/>
<rect x="646.24" y="458.28" width="4.22" height="3.25" fill="#b5d3d8"/>
<rect x="650.87" y="458.28" width="4.22" height="3.25" fill="#b5d3d8"/>
<rect x="655.49" y="458.28" width="4.22" height="3.25" fill="#b5d3d8"/>
<rect x="660.11" y="458.28" width="4.22" height="3.25" fill="#b5d3d8"/>
<rect x="664.73" y="458.28" width="4.22" height="3.25" fill="#95c1c8"/>
<rect x="669.35" y="458.28" width="4.22" height="3.25" fill="#95c1c8"/>
<rect x="673.97" y="458.28" width="4.22" height="3.25" fill="#b5d3d8"/>
<rect x="678.6" y="458.28" width="4.22" height="3.25" fill="#b5d3d8"/>
<rect x="683.22" y="458.28" width="4.22" height="3.25" fill="#b5d3d8"/>
<rect x="687.84" y="458.28" width="4.22" height="3.25" fill="#6aa8b2"/>
<rect x="692.46" y="458.28" width="4.22" height="3.25" fill="#6aa8b2"/>
<rect x="697.08" y="458.28" width="4.22" height="3.25" fill="#b5d3d8"/>
<rect x="701.7" y="458.28" width="4.22" height="3.25" fill="#b5d3d8"/>
<rect x="706.33" y="458.28" width="4.22" height="3.25" fill="#b5d3d8"/>
<rect x="710.95" y="458.28" width="4.22" height="3.25" fill="#b5d3d8"/>
<rect x="715.57" y="458.28" width="4.22" height="3.25" fill="#b5d3d8"/>
<rect x="720.19" y="458.28" width="4.22" height="3.25" fill="#b5d3d8"/>
<rect x="724.81" y="458.28" width="4.22" height="3.25" fill="#6aa8b2"/>
<rect x="729.43" y="458.28" width="4.22" height="3.25" fill="#6aa8b2"/>
<rect x="734.06" y="458.28" width="4.22" height="3.25" fill="#6aa8b2"/>
<rect x="738.68" y="458.28" width="4.22" height="3.25" fill="#cfe1e4"/>
<text x="635.3" y="464.28" font-size="1.61" fill="#8a8a8a" stroke="#8a8a8a" stroke-width="0.08" text-anchor="end">Plano</text>
<rect x="637" y="461.93" width="4.22" height="3.25" fill="#cfe1e4"/>
<rect x="641.62" y="461.93" width="4.22" height="3.25" fill="#cfe1e4"/>
<rect x="646.24" y="461.93" width="4.22" height="3.25" fill="#cfe1e4"/>
<rect x="650.87" y="461.93" width="4.22" height="3.25" fill="#cfe1e4"/>
<rect x="655.49" y="461.93" width="4.22" height="3.25" fill="#cfe1e4"/>
<rect x="660.11" y="461.93" width="4.22" height="3.25" fill="#cfe1e4"/>
<rect x="664.73" y="461.93" width="4.22" height="3.25" fill="#95c1c8"/>
<rect x="669.35" y="461.93" width="4.22" height="3.25" fill="#cfe1e4"/>
<rect x="673.97" y="461.93" width="4.22" height="3.25" fill="#cfe1e4"/>
<rect x="678.6" y="461.93" width="4.22" height="3.25" fill="#cfe1e4"/>
<rect x="683.22" y="461.93" width="4.22" height="3.25" fill="#6aa8b2"/>
<rect x="687.84" y="461.93" width="4.22" height="3.25" fill="#b5d3d8"/>
<rect x="692.46" y="461.93" width="4.22" height="3.25" fill="#6aa8b2"/>
<rect x="697.08" y="461.93" width="4.22" height="3.25" fill="#b5d3d8"/>
<rect x="701.7" y="461.93" width="4.22" height="3.25" fill="#6aa8b2"/>
<rect x="706.33" y="461.93" width="4.22" height="3.25" fill="#b5d3d8"/>
<rect x="710.95" y="461.93" width="4.22" height="3.25" fill="#6aa8b2"/>
<rect x="715.57" y="461.93" width="4.22" height="3.25" fill="#b5d3d8"/>
<rect x="720.19" y="461.93" width="4.22" height="3.25" fill="#b5d3d8"/>
<rect x="724.81" y="461.93" width="4.22" height="3.25" fill="#b5d3d8"/>
<rect x="729.43" y="461.93" width="4.22" height="3.25" fill="#0b6773"/>
<rect x="734.06" y="461.93" width="4.22" height="3.25" fill="#0b6773"/>
<rect x="738.68" y="461.93" width="4.22" height="3.25" fill="#0b6773"/>
<text x="635.3" y="467.92" font-size="1.61" fill="#8a8a8a" stroke="#8a8a8a" stroke-width="0.08" text-anchor="end">Denver</text>
<rect x="637" y="465.57" width="4.22" height="3.25" fill="#3f8e9a"/>
<rect x="641.62" y="465.57" width="4.22" height="3.25" fill="#3f8e9a"/>
<rect x="646.24" y="465.57" width="4.22" height="3.25" fill="#3f8e9a"/>
<rect x="650.87" y="465.57" width="4.22" height="3.25" fill="#3f8e9a"/>
<rect x="655.49" y="465.57" width="4.22" height="3.25" fill="#3f8e9a"/>
<rect x="660.11" y="465.57" width="4.22" height="3.25" fill="#3f8e9a"/>
<rect x="664.73" y="465.57" width="4.22" height="3.25" fill="#b5d3d8"/>
<rect x="669.35" y="465.57" width="4.22" height="3.25" fill="#3f8e9a"/>
<rect x="673.97" y="465.57" width="4.22" height="3.25" fill="#b5d3d8"/>
<rect x="678.6" y="465.57" width="4.22" height="3.25" fill="#b5d3d8"/>
<rect x="683.22" y="465.57" width="4.22" height="3.25" fill="#6aa8b2"/>
<rect x="687.84" y="465.57" width="4.22" height="3.25" fill="#b5d3d8"/>
<rect x="692.46" y="465.57" width="4.22" height="3.25" fill="#b5d3d8"/>
<rect x="697.08" y="465.57" width="4.22" height="3.25" fill="#6aa8b2"/>
<rect x="701.7" y="465.57" width="4.22" height="3.25" fill="#6aa8b2"/>
<rect x="706.33" y="465.57" width="4.22" height="3.25" fill="#b5d3d8"/>
<rect x="710.95" y="465.57" width="4.22" height="3.25" fill="#6aa8b2"/>
<rect x="715.57" y="465.57" width="4.22" height="3.25" fill="#dde9eb"/>
<rect x="720.19" y="465.57" width="4.22" height="3.25" fill="#b5d3d8"/>
<rect x="724.81" y="465.57" width="4.22" height="3.25" fill="#6aa8b2"/>
<rect x="729.43" y="465.57" width="4.22" height="3.25" fill="#b5d3d8"/>
<rect x="734.06" y="465.57" width="4.22" height="3.25" fill="#b5d3d8"/>
<rect x="738.68" y="465.57" width="4.22" height="3.25" fill="#0b6773"/>
<text x="635.3" y="471.57" font-size="1.61" fill="#8a8a8a" stroke="#8a8a8a" stroke-width="0.08" text-anchor="end">Miami</text>
<rect x="637" y="469.22" width="4.22" height="3.25" fill="#dde9eb"/>
<rect x="641.62" y="469.22" width="4.22" height="3.25" fill="#b5d3d8"/>
<rect x="646.24" y="469.22" width="4.22" height="3.25" fill="#b5d3d8"/>
<rect x="650.87" y="469.22" width="4.22" height="3.25" fill="#b5d3d8"/>
<rect x="655.49" y="469.22" width="4.22" height="3.25" fill="#95c1c8"/>
<rect x="660.11" y="469.22" width="4.22" height="3.25" fill="#95c1c8"/>
<rect x="664.73" y="469.22" width="4.22" height="3.25" fill="#dde9eb"/>
<rect x="669.35" y="469.22" width="4.22" height="3.25" fill="#95c1c8"/>
<rect x="673.97" y="469.22" width="4.22" height="3.25" fill="#dde9eb"/>
<rect x="678.6" y="469.22" width="4.22" height="3.25" fill="#b5d3d8"/>
<rect x="683.22" y="469.22" width="4.22" height="3.25" fill="#b5d3d8"/>
<rect x="687.84" y="469.22" width="4.22" height="3.25" fill="#b5d3d8"/>
<rect x="692.46" y="469.22" width="4.22" height="3.25" fill="#b5d3d8"/>
<rect x="697.08" y="469.22" width="4.22" height="3.25" fill="#b5d3d8"/>
<rect x="701.7" y="469.22" width="4.22" height="3.25" fill="#dde9eb"/>
<rect x="706.33" y="469.22" width="4.22" height="3.25" fill="#dde9eb"/>
<rect x="710.95" y="469.22" width="4.22" height="3.25" fill="#b5d3d8"/>
<rect x="715.57" y="469.22" width="4.22" height="3.25" fill="#b5d3d8"/>
<rect x="720.19" y="469.22" width="4.22" height="3.25" fill="#b5d3d8"/>
<rect x="724.81" y="469.22" width="4.22" height="3.25" fill="#b5d3d8"/>
<rect x="729.43" y="469.22" width="4.22" height="3.25" fill="#b5d3d8"/>
<rect x="734.06" y="469.22" width="4.22" height="3.25" fill="#dde9eb"/>
<rect x="738.68" y="469.22" width="4.22" height="3.25" fill="#b5d3d8"/>
<text x="635.3" y="475.22" font-size="1.61" fill="#8a8a8a" stroke="#8a8a8a" stroke-width="0.08" text-anchor="end">Atlanta</text>
<rect x="637" y="472.86" width="4.22" height="3.25" fill="#dde9eb"/>
<rect x="641.62" y="472.86" width="4.22" height="3.25" fill="#b5d3d8"/>
<rect x="646.24" y="472.86" width="4.22" height="3.25" fill="#b5d3d8"/>
<rect x="650.87" y="472.86" width="4.22" height="3.25" fill="#95c1c8"/>
<rect x="655.49" y="472.86" width="4.22" height="3.25" fill="#95c1c8"/>
<rect x="660.11" y="472.86" width="4.22" height="3.25" fill="#dde9eb"/>
<rect x="664.73" y="472.86" width="4.22" height="3.25" fill="#dde9eb"/>
<rect x="669.35" y="472.86" width="4.22" height="3.25" fill="#95c1c8"/>
<rect x="673.97" y="472.86" width="4.22" height="3.25" fill="#dde9eb"/>
<rect x="678.6" y="472.86" width="4.22" height="3.25" fill="#b5d3d8"/>
<rect x="683.22" y="472.86" width="4.22" height="3.25" fill="#b5d3d8"/>
<rect x="687.84" y="472.86" width="4.22" height="3.25" fill="#b5d3d8"/>
<rect x="692.46" y="472.86" width="4.22" height="3.25" fill="#b5d3d8"/>
<rect x="697.08" y="472.86" width="4.22" height="3.25" fill="#b5d3d8"/>
<rect x="701.7" y="472.86" width="4.22" height="3.25" fill="#dde9eb"/>
<rect x="706.33" y="472.86" width="4.22" height="3.25" fill="#cfe1e4"/>
<rect x="710.95" y="472.86" width="4.22" height="3.25" fill="#cfe1e4"/>
<rect x="715.57" y="472.86" width="4.22" height="3.25" fill="#cfe1e4"/>
<rect x="720.19" y="472.86" width="4.22" height="3.25" fill="#3f8e9a"/>
<rect x="724.81" y="472.86" width="4.22" height="3.25" fill="#cfe1e4"/>
<rect x="729.43" y="472.86" width="4.22" height="3.25" fill="#cfe1e4"/>
<rect x="734.06" y="472.86" width="4.22" height="3.25" fill="#cfe1e4"/>
<rect x="738.68" y="472.86" width="4.22" height="3.25" fill="#cfe1e4"/>
<text x="635.3" y="478.86" font-size="1.61" fill="#8a8a8a" stroke="#8a8a8a" stroke-width="0.08" text-anchor="end">Chicago</text>
<rect x="637" y="476.51" width="4.22" height="3.25" fill="#95c1c8"/>
<rect x="641.62" y="476.51" width="4.22" height="3.25" fill="#dde9eb"/>
<rect x="646.24" y="476.51" width="4.22" height="3.25" fill="#dde9eb"/>
<rect x="650.87" y="476.51" width="4.22" height="3.25" fill="#dde9eb"/>
<rect x="655.49" y="476.51" width="4.22" height="3.25" fill="#dde9eb"/>
<rect x="660.11" y="476.51" width="4.22" height="3.25" fill="#95c1c8"/>
<rect x="664.73" y="476.51" width="4.22" height="3.25" fill="#dde9eb"/>
<rect x="669.35" y="476.51" width="4.22" height="3.25" fill="#dde9eb"/>
<rect x="673.97" y="476.51" width="4.22" height="3.25" fill="#dde9eb"/>
<rect x="678.6" y="476.51" width="4.22" height="3.25" fill="#95c1c8"/>
<rect x="683.22" y="476.51" width="4.22" height="3.25" fill="#0b6773"/>
<rect x="687.84" y="476.51" width="4.22" height="3.25" fill="#dde9eb"/>
<rect x="692.46" y="476.51" width="4.22" height="3.25" fill="#0b6773"/>
<rect x="697.08" y="476.51" width="4.22" height="3.25" fill="#0b6773"/>
<rect x="701.7" y="476.51" width="4.22" height="3.25" fill="#dde9eb"/>
<rect x="706.33" y="476.51" width="4.22" height="3.25" fill="#95c1c8"/>
<rect x="710.95" y="476.51" width="4.22" height="3.25" fill="#dde9eb"/>
<rect x="715.57" y="476.51" width="4.22" height="3.25" fill="#b5d3d8"/>
<rect x="720.19" y="476.51" width="4.22" height="3.25" fill="#b5d3d8"/>
<rect x="724.81" y="476.51" width="4.22" height="3.25" fill="#95c1c8"/>
<rect x="729.43" y="476.51" width="4.22" height="3.25" fill="#dde9eb"/>
<rect x="734.06" y="476.51" width="4.22" height="3.25" fill="#95c1c8"/>
<rect x="738.68" y="476.51" width="4.22" height="3.25" fill="#0b6773"/>
<text x="635.3" y="482.51" font-size="1.61" fill="#8a8a8a" stroke="#8a8a8a" stroke-width="0.08" text-anchor="end">Minneapolis</text>
<rect x="637" y="480.15" width="4.22" height="3.25" fill="#6aa8b2"/>
<rect x="641.62" y="480.15" width="4.22" height="3.25" fill="#6aa8b2"/>
<rect x="646.24" y="480.15" width="4.22" height="3.25" fill="#6aa8b2"/>
<rect x="650.87" y="480.15" width="4.22" height="3.25" fill="#dde9eb"/>
<rect x="655.49" y="480.15" width="4.22" height="3.25" fill="#dde9eb"/>
<rect x="660.11" y="480.15" width="4.22" height="3.25" fill="#6aa8b2"/>
<rect x="664.73" y="480.15" width="4.22" height="3.25" fill="#95c1c8"/>
<rect x="669.35" y="480.15" width="4.22" height="3.25" fill="#95c1c8"/>
<rect x="673.97" y="480.15" width="4.22" height="3.25" fill="#95c1c8"/>
<rect x="678.6" y="480.15" width="4.22" height="3.25" fill="#95c1c8"/>
<rect x="683.22" y="480.15" width="4.22" height="3.25" fill="#dde9eb"/>
<rect x="687.84" y="480.15" width="4.22" height="3.25" fill="#dde9eb"/>
<rect x="692.46" y="480.15" width="4.22" height="3.25" fill="#95c1c8"/>
<rect x="697.08" y="480.15" width="4.22" height="3.25" fill="#dde9eb"/>
<rect x="701.7" y="480.15" width="4.22" height="3.25" fill="#95c1c8"/>
<rect x="706.33" y="480.15" width="4.22" height="3.25" fill="#95c1c8"/>
<rect x="710.95" y="480.15" width="4.22" height="3.25" fill="#95c1c8"/>
<rect x="715.57" y="480.15" width="4.22" height="3.25" fill="#95c1c8"/>
<rect x="720.19" y="480.15" width="4.22" height="3.25" fill="#95c1c8"/>
<rect x="724.81" y="480.15" width="4.22" height="3.25" fill="#95c1c8"/>
<rect x="729.43" y="480.15" width="4.22" height="3.25" fill="#95c1c8"/>
<rect x="734.06" y="480.15" width="4.22" height="3.25" fill="#95c1c8"/>
<rect x="738.68" y="480.15" width="4.22" height="3.25" fill="#0b6773"/>
<text x="639.11" y="486.3" font-size="1.26" fill="#9a9a9a" stroke="#9a9a9a" stroke-width="0.06" text-anchor="middle">2000</text>
<text x="643.73" y="486.3" font-size="1.26" fill="#9a9a9a" stroke="#9a9a9a" stroke-width="0.06" text-anchor="middle">2001</text>
<text x="648.35" y="486.3" font-size="1.26" fill="#9a9a9a" stroke="#9a9a9a" stroke-width="0.06" text-anchor="middle">2002</text>
<text x="652.98" y="486.3" font-size="1.26" fill="#9a9a9a" stroke="#9a9a9a" stroke-width="0.06" text-anchor="middle">2003</text>
<text x="657.6" y="486.3" font-size="1.26" fill="#9a9a9a" stroke="#9a9a9a" stroke-width="0.06" text-anchor="middle">2004</text>
<text x="662.22" y="486.3" font-size="1.26" fill="#9a9a9a" stroke="#9a9a9a" stroke-width="0.06" text-anchor="middle">2005</text>
<text x="666.84" y="486.3" font-size="1.26" fill="#9a9a9a" stroke="#9a9a9a" stroke-width="0.06" text-anchor="middle">2006</text>
<text x="671.46" y="486.3" font-size="1.26" fill="#9a9a9a" stroke="#9a9a9a" stroke-width="0.06" text-anchor="middle">2007</text>
<text x="676.08" y="486.3" font-size="1.26" fill="#9a9a9a" stroke="#9a9a9a" stroke-width="0.06" text-anchor="middle">2008</text>
<text x="680.71" y="486.3" font-size="1.26" fill="#9a9a9a" stroke="#9a9a9a" stroke-width="0.06" text-anchor="middle">2009</text>
<text x="685.33" y="486.3" font-size="1.26" fill="#9a9a9a" stroke="#9a9a9a" stroke-width="0.06" text-anchor="middle">2010</text>
<text x="689.95" y="486.3" font-size="1.26" fill="#9a9a9a" stroke="#9a9a9a" stroke-width="0.06" text-anchor="middle">2011</text>
<text x="694.57" y="486.3" font-size="1.26" fill="#9a9a9a" stroke="#9a9a9a" stroke-width="0.06" text-anchor="middle">2012</text>
<text x="699.19" y="486.3" font-size="1.26" fill="#9a9a9a" stroke="#9a9a9a" stroke-width="0.06" text-anchor="middle">2013</text>
<text x="703.82" y="486.3" font-size="1.26" fill="#9a9a9a" stroke="#9a9a9a" stroke-width="0.06" text-anchor="middle">2014</text>
<text x="708.44" y="486.3" font-size="1.26" fill="#9a9a9a" stroke="#9a9a9a" stroke-width="0.06" text-anchor="middle">2015</text>
<text x="713.06" y="486.3" font-size="1.26" fill="#9a9a9a" stroke="#9a9a9a" stroke-width="0.06" text-anchor="middle">2016</text>
<text x="717.68" y="486.3" font-size="1.26" fill="#9a9a9a" stroke="#9a9a9a" stroke-width="0.06" text-anchor="middle">2017</text>
<text x="722.3" y="486.3" font-size="1.26" fill="#9a9a9a" stroke="#9a9a9a" stroke-width="0.06" text-anchor="middle">2018</text>
<text x="726.92" y="486.3" font-size="1.26" fill="#9a9a9a" stroke="#9a9a9a" stroke-width="0.06" text-anchor="middle">2019</text>
<text x="731.55" y="486.3" font-size="1.26" fill="#9a9a9a" stroke="#9a9a9a" stroke-width="0.06" text-anchor="middle">2020</text>
<text x="736.17" y="486.3" font-size="1.26" fill="#9a9a9a" stroke="#9a9a9a" stroke-width="0.06" text-anchor="middle">2021</text>
<text x="740.79" y="486.3" font-size="1.26" fill="#9a9a9a" stroke="#9a9a9a" stroke-width="0.06" text-anchor="middle">2022</text>
<defs><linearGradient id="cb6" x1="0" x2="0" y1="0" y2="1"><stop offset="0" stop-color="#0a6672"/><stop offset="1" stop-color="#dfeaec"/></linearGradient></defs>
<rect x="746.2" y="443.8" width="0.9" height="23" fill="url(#cb6)"/>
<text x="690" y="489.5" font-size="1.61" fill="#8a8a8a" stroke="#8a8a8a" stroke-width="0.08" text-anchor="middle">Year</text>
</g>
<clipPath id="cp7"><rect x="788" y="174.3" width="240" height="175.9" rx="3.5"/></clipPath>
<defs><linearGradient id="g7" x1="0" x2="0" y1="0" y2="1"><stop offset="0" stop-color="#7a0db8"/><stop offset="0.3" stop-color="#3e0668"/><stop offset="0.6" stop-color="#27023f"/><stop offset="1" stop-color="#21003a"/></linearGradient></defs>
<g clip-path="url(#cp7)">
<rect x="788" y="174.3" width="240" height="175.9" fill="#d3d4da"/>
<g transform="translate(816.6,178.65) scale(1.08,1.07)">
<rect x="-20" y="-20" width="300" height="400" fill="#d6d6d6" rx="3.5"/>
<rect x="2.5" y="4.2" width="41.4" height="18.4" fill="#ccced6" rx="1.2"/>
<rect x="2.8" y="3.6" width="40.8" height="16.8" fill="#dcdcdc" rx="1"/>
<text x="5.6" y="9.2" font-size="2.48" fill="#9a9a9a" stroke="#9a9a9a" stroke-width="0.12">Total Revenue</text>
<text x="5.6" y="16.9" font-size="5" fill="#2e2e2e" font-weight="bold" textLength="17.93" lengthAdjust="spacingAndGlyphs">$185,600</text>
<rect x="32" y="13" width="8.1" height="3.9" fill="#d2e2d5" rx="1.9"/>
<text x="36.05" y="15.6" font-size="1.9" fill="#3aa050" stroke="#3aa050" stroke-width="0.1" text-anchor="middle">↑ 2.8%</text>
<text x="40.6" y="9.2" font-size="2.5" fill="#9a9a9a" stroke="#9a9a9a" stroke-width="0.12">⋮</text>
<rect x="45.2" y="4.2" width="44.6" height="18.4" fill="#ccced6" rx="1.2"/>
<rect x="45.5" y="3.6" width="44" height="16.8" fill="#dcdcdc" rx="1"/>
<text x="48.3" y="9.2" font-size="2.48" fill="#9a9a9a" stroke="#9a9a9a" stroke-width="0.12">Today's Orders</text>
<text x="48.3" y="16.9" font-size="5" fill="#2e2e2e" font-weight="bold" textLength="7.17" lengthAdjust="spacingAndGlyphs">145</text>
<rect x="77.9" y="13" width="8.1" height="3.9" fill="#d2e2d5" rx="1.9"/>
<text x="81.95" y="15.6" font-size="1.9" fill="#3aa050" stroke="#3aa050" stroke-width="0.1" text-anchor="middle">↑ 2.8%</text>
<text x="86.5" y="9.2" font-size="2.5" fill="#9a9a9a" stroke="#9a9a9a" stroke-width="0.12">⋮</text>
<rect x="91.1" y="4.2" width="44.7" height="18.4" fill="#ccced6" rx="1.2"/>
<rect x="91.4" y="3.6" width="44.1" height="16.8" fill="#dcdcdc" rx="1"/>
<text x="94.2" y="9.2" font-size="2.48" fill="#9a9a9a" stroke="#9a9a9a" stroke-width="0.12">Avg Order Value</text>
<text x="94.2" y="16.9" font-size="5" fill="#2e2e2e" font-weight="bold" textLength="13.15" lengthAdjust="spacingAndGlyphs">$1,280</text>
<rect x="123.9" y="13" width="8.1" height="3.9" fill="#ead6d3" rx="1.9"/>
<text x="127.95" y="15.6" font-size="1.9" fill="#e05050" stroke="#e05050" stroke-width="0.1" text-anchor="middle">↓ 2.8%</text>
<text x="132.5" y="9.2" font-size="2.5" fill="#9a9a9a" stroke="#9a9a9a" stroke-width="0.12">⋮</text>
<rect x="137.5" y="4.2" width="53.8" height="18.4" fill="#ccced6" rx="1.2"/>
<rect x="137.8" y="3.6" width="53.2" height="16.8" fill="#dcdcdc" rx="1"/>
<text x="140.6" y="9.2" font-size="2.48" fill="#9a9a9a" stroke="#9a9a9a" stroke-width="0.12">Unique Customers</text>
<text x="140.6" y="16.9" font-size="5" fill="#2e2e2e" font-weight="bold" textLength="7.17" lengthAdjust="spacingAndGlyphs">132</text>
<rect x="179.4" y="13" width="8.1" height="3.9" fill="#d2e2d5" rx="1.9"/>
<text x="183.45" y="15.6" font-size="1.9" fill="#3aa050" stroke="#3aa050" stroke-width="0.1" text-anchor="middle">↑ 2.8%</text>
<text x="188" y="9.2" font-size="2.5" fill="#9a9a9a" stroke="#9a9a9a" stroke-width="0.12">⋮</text>
<rect x="137.1" y="23" width="54.6" height="44.2" fill="#ccced6" rx="1.2"/>
<rect x="137.4" y="22.4" width="54" height="42.6" fill="#dcdcdc" rx="1"/>
<text x="140" y="28" font-size="2.6" fill="#3a3a3a" stroke="#3a3a3a" stroke-width="0.13" font-weight="bold">Customer Breakdown</text>
<text x="180.7" y="28" font-size="2.4" fill="#9a9a9a" stroke="#9a9a9a" stroke-width="0.12">⊽</text>
<text x="186.2" y="28" font-size="2.4" fill="#9a9a9a" stroke="#9a9a9a" stroke-width="0.12">⋮</text>
<path d="M155,32 A14,14 0 0 1 168.16,41.21 L163.83,42.79 A9.4,9.4 0 0 0 155,36.6 Z" fill="#8a8cc0"/>
<path d="M168.16,41.21 A14,14 0 0 1 150.21,59.16 L151.79,54.83 A9.4,9.4 0 0 0 163.83,42.79 Z" fill="#b04fa8"/>
<path d="M150.21,59.16 A14,14 0 0 1 143.53,54.03 L147.3,51.39 A9.4,9.4 0 0 0 151.79,54.83 Z" fill="#d9c182"/>
<path d="M143.53,54.03 A14,14 0 0 1 141.84,41.21 L146.17,42.79 A9.4,9.4 0 0 0 147.3,51.39 Z" fill="#c985c9"/>
<path d="M141.84,41.21 A14,14 0 0 1 155,32 L155,36.6 A9.4,9.4 0 0 0 146.17,42.79 Z" fill="#dd6aa8"/>
<rect x="175.9" y="34" width="1.3" height="1.3" fill="#8a8cc0"/>
<rect x="178.2" y="34.25" width="4.5" height="0.9" fill="#a8a8a8"/>
<rect x="175.9" y="37.65" width="1.3" height="1.3" fill="#b04fa8"/>
<rect x="178.2" y="37.9" width="4.5" height="0.9" fill="#a8a8a8"/>
<rect x="175.9" y="41.3" width="1.3" height="1.3" fill="#d9c182"/>
<rect x="178.2" y="41.55" width="4.5" height="0.9" fill="#a8a8a8"/>
<rect x="175.9" y="44.95" width="1.3" height="1.3" fill="#c985c9"/>
<rect x="178.2" y="45.2" width="4.5" height="0.9" fill="#a8a8a8"/>
<rect x="175.9" y="48.6" width="1.3" height="1.3" fill="#dd6aa8"/>
<rect x="178.2" y="48.85" width="4.5" height="0.9" fill="#a8a8a8"/>
<rect x="137.1" y="67.4" width="54.6" height="45.5" fill="#ccced6" rx="1.2"/>
<rect x="137.4" y="66.8" width="54" height="43.9" fill="#dcdcdc" rx="1"/>
<text x="141" y="72.5" font-size="2.6" fill="#3a3a3a" stroke="#3a3a3a" stroke-width="0.13" font-weight="bold">Payment Method</text>
<text x="181.7" y="72.3" font-size="2.4" fill="#9a9a9a" stroke="#9a9a9a" stroke-width="0.12">⊽</text>
<text x="187.2" y="72.3" font-size="2.4" fill="#9a9a9a" stroke="#9a9a9a" stroke-width="0.12">⋮</text>
<path d="M156,91 L156,77 A14,14 0 0 1 169.95,92.22 Z" fill="#e2845c"/>
<path d="M156,91 L169.95,92.22 A14,14 0 0 1 151.21,104.16 Z" fill="#e89a6c"/>
<path d="M156,91 L151.21,104.16 A14,14 0 0 1 144.53,99.03 Z" fill="#ecae84"/>
<path d="M156,91 L144.53,99.03 A14,14 0 0 1 142.48,87.38 Z" fill="#f0cdb2"/>
<path d="M156,91 L142.48,87.38 A14,14 0 0 1 156,77 Z" fill="#d9ac9e"/>
<rect x="175.3" y="78" width="1.3" height="1.3" fill="#e2845c"/>
<rect x="177.6" y="78.25" width="8" height="0.9" fill="#a8a8a8"/>
<rect x="175.3" y="81.5" width="1.3" height="1.3" fill="#e89a6c"/>
<rect x="177.6" y="81.75" width="8" height="0.9" fill="#a8a8a8"/>
<rect x="175.3" y="85" width="1.3" height="1.3" fill="#ecae84"/>
<rect x="177.6" y="85.25" width="8" height="0.9" fill="#a8a8a8"/>
<rect x="175.3" y="88.5" width="1.3" height="1.3" fill="#f0cdb2"/>
<rect x="177.6" y="88.75" width="8" height="0.9" fill="#a8a8a8"/>
<rect x="175.3" y="92" width="1.3" height="1.3" fill="#d9ac9e"/>
<rect x="177.6" y="92.25" width="8" height="0.9" fill="#a8a8a8"/>
<rect x="1.8" y="23" width="135.1" height="89.1" fill="#ccced6" rx="1.2"/>
<rect x="2.1" y="22.4" width="134.5" height="87.5" fill="#dcdcdc" rx="1"/>
<text x="7.1" y="29.8" font-size="2.71" fill="#3a3a3a" stroke="#3a3a3a" stroke-width="0.14" font-weight="bold">Customer Source</text>
<circle cx="7.1" cy="34.3" r="0.6" fill="#a8479e"/>
<text x="8.4" y="35" font-size="2.12" fill="#9a9a9a" stroke="#9a9a9a" stroke-width="0.11">Job</text>
<circle cx="16.1" cy="34.3" r="0.6" fill="#8d8cbc"/>
<text x="17.4" y="35" font-size="2.12" fill="#9a9a9a" stroke="#9a9a9a" stroke-width="0.11">CPC</text>
<circle cx="25.1" cy="34.3" r="0.6" fill="#dc62a0"/>
<text x="26.4" y="35" font-size="2.12" fill="#9a9a9a" stroke="#9a9a9a" stroke-width="0.11">SEO</text>
<circle cx="34.1" cy="34.3" r="0.6" fill="#cc80c4"/>
<text x="35.4" y="35" font-size="2.12" fill="#9a9a9a" stroke="#9a9a9a" stroke-width="0.11">Partners</text>
<circle cx="48.1" cy="34.3" r="0.6" fill="#dcbd7c"/>
<text x="49.4" y="35" font-size="2.12" fill="#9a9a9a" stroke="#9a9a9a" stroke-width="0.11">Referrals</text>
<circle cx="63.1" cy="34.3" r="0.6" fill="#d8ab9c"/>
<text x="64.4" y="35" font-size="2.12" fill="#9a9a9a" stroke="#9a9a9a" stroke-width="0.11">Public Relations</text>
<line x1="16.6" y1="96.5" x2="130.6" y2="96.5" stroke="#d0d0d0" stroke-width="0.3"/>
<text x="15.1" y="97.1" font-size="1.89" fill="#9a9a9a" stroke="#9a9a9a" stroke-width="0.1" text-anchor="end">0</text>
<line x1="16.6" y1="89.5" x2="130.6" y2="89.5" stroke="#d0d0d0" stroke-width="0.3"/>
<text x="15.1" y="90.1" font-size="1.89" fill="#9a9a9a" stroke="#9a9a9a" stroke-width="0.1" text-anchor="end">25</text>
<line x1="16.6" y1="82.5" x2="130.6" y2="82.5" stroke="#d0d0d0" stroke-width="0.3"/>
<text x="15.1" y="83.1" font-size="1.89" fill="#9a9a9a" stroke="#9a9a9a" stroke-width="0.1" text-anchor="end">50</text>
<line x1="16.6" y1="75.5" x2="130.6" y2="75.5" stroke="#d0d0d0" stroke-width="0.3"/>
<text x="15.1" y="76.1" font-size="1.89" fill="#9a9a9a" stroke="#9a9a9a" stroke-width="0.1" text-anchor="end">75</text>
<line x1="16.6" y1="68.5" x2="130.6" y2="68.5" stroke="#d0d0d0" stroke-width="0.3"/>
<text x="15.1" y="69.1" font-size="1.89" fill="#9a9a9a" stroke="#9a9a9a" stroke-width="0.1" text-anchor="end">100</text>
<line x1="16.6" y1="61.5" x2="130.6" y2="61.5" stroke="#d0d0d0" stroke-width="0.3"/>
<text x="15.1" y="62.1" font-size="1.89" fill="#9a9a9a" stroke="#9a9a9a" stroke-width="0.1" text-anchor="end">125</text>
<line x1="16.6" y1="54.5" x2="130.6" y2="54.5" stroke="#d0d0d0" stroke-width="0.3"/>
<text x="15.1" y="55.1" font-size="1.89" fill="#9a9a9a" stroke="#9a9a9a" stroke-width="0.1" text-anchor="end">150</text>
<line x1="16.6" y1="47.5" x2="130.6" y2="47.5" stroke="#d0d0d0" stroke-width="0.3"/>
<text x="15.1" y="48.1" font-size="1.89" fill="#9a9a9a" stroke="#9a9a9a" stroke-width="0.1" text-anchor="end">175</text>
<line x1="16.6" y1="40.5" x2="130.6" y2="40.5" stroke="#d0d0d0" stroke-width="0.3"/>
<text x="15.1" y="41.1" font-size="1.89" fill="#9a9a9a" stroke="#9a9a9a" stroke-width="0.1" text-anchor="end">200</text>
<text x="9.1" y="72" font-size="2.01" fill="#9a9a9a" stroke="#9a9a9a" stroke-width="0.1" transform="rotate(-90 9.100000000000001 72)" text-anchor="middle">Applicants</text>
<rect x="21.4" y="91.75" width="5" height="4.8" fill="#a8479e"/>
<rect x="21.4" y="88.6" width="5" height="3.2" fill="#8d8cbc"/>
<rect x="21.4" y="83.37" width="5" height="5.28" fill="#dc62a0"/>
<rect x="21.4" y="78.15" width="5" height="5.28" fill="#cc80c4"/>
<rect x="21.4" y="74.28" width="5" height="3.91" fill="#dcbd7c"/>
<rect x="21.4" y="66.8" width="5" height="7.53" fill="#d8ab9c"/>
<text x="23.9" y="65.6" font-size="1.53" fill="#9a9a9a" stroke="#9a9a9a" stroke-width="0.08" text-anchor="middle">###</text>
<text x="23.9" y="99.8" font-size="1.65" fill="#9a9a9a" stroke="#9a9a9a" stroke-width="0.08" text-anchor="middle">Jun 2023</text>
<rect x="33.8" y="88.24" width="5" height="8.31" fill="#a8479e"/>
<rect x="33.8" y="82.77" width="5" height="5.52" fill="#8d8cbc"/>
<rect x="33.8" y="73.69" width="5" height="9.13" fill="#dc62a0"/>
<rect x="33.8" y="64.61" width="5" height="9.13" fill="#cc80c4"/>
<rect x="33.8" y="57.9" width="5" height="6.76" fill="#dcbd7c"/>
<rect x="33.8" y="44.9" width="5" height="13.05" fill="#d8ab9c"/>
<text x="36.3" y="43.7" font-size="1.53" fill="#9a9a9a" stroke="#9a9a9a" stroke-width="0.08" text-anchor="middle">###</text>
<text x="36.3" y="99.8" font-size="1.65" fill="#9a9a9a" stroke="#9a9a9a" stroke-width="0.08" text-anchor="middle">Jun 2023</text>
<rect x="46.2" y="91.25" width="5" height="5.3" fill="#a8479e"/>
<rect x="46.2" y="87.78" width="5" height="3.53" fill="#8d8cbc"/>
<rect x="46.2" y="82" width="5" height="5.82" fill="#dc62a0"/>
<rect x="46.2" y="76.23" width="5" height="5.82" fill="#cc80c4"/>
<rect x="46.2" y="71.97" width="5" height="4.31" fill="#dcbd7c"/>
<rect x="46.2" y="63.7" width="5" height="8.32" fill="#d8ab9c"/>
<text x="48.7" y="62.5" font-size="1.53" fill="#9a9a9a" stroke="#9a9a9a" stroke-width="0.08" text-anchor="middle">###</text>
<text x="48.7" y="99.8" font-size="1.65" fill="#9a9a9a" stroke="#9a9a9a" stroke-width="0.08" text-anchor="middle">Jun 2023</text>
<rect x="58.6" y="89.57" width="5" height="6.98" fill="#a8479e"/>
<rect x="58.6" y="84.98" width="5" height="4.64" fill="#8d8cbc"/>
<rect x="58.6" y="77.36" width="5" height="7.67" fill="#dc62a0"/>
<rect x="58.6" y="69.74" width="5" height="7.67" fill="#cc80c4"/>
<rect x="58.6" y="64.11" width="5" height="5.68" fill="#dcbd7c"/>
<rect x="58.6" y="53.2" width="5" height="10.96" fill="#d8ab9c"/>
<text x="61.1" y="52" font-size="1.53" fill="#9a9a9a" stroke="#9a9a9a" stroke-width="0.08" text-anchor="middle">###</text>
<text x="61.1" y="99.8" font-size="1.65" fill="#9a9a9a" stroke="#9a9a9a" stroke-width="0.08" text-anchor="middle">Jun 2023</text>
<rect x="71" y="92.58" width="5" height="3.97" fill="#a8479e"/>
<rect x="71" y="89.98" width="5" height="2.65" fill="#8d8cbc"/>
<rect x="71" y="85.67" width="5" height="4.36" fill="#dc62a0"/>
<rect x="71" y="81.36" width="5" height="4.36" fill="#cc80c4"/>
<rect x="71" y="78.17" width="5" height="3.23" fill="#dcbd7c"/>
<rect x="71" y="72" width="5" height="6.22" fill="#9890c8"/>
<text x="73.5" y="70.8" font-size="1.53" fill="#9a9a9a" stroke="#9a9a9a" stroke-width="0.08" text-anchor="middle">###</text>
<text x="73.5" y="99.8" font-size="1.65" fill="#9a9a9a" stroke="#9a9a9a" stroke-width="0.08" text-anchor="middle">Jun 2023</text>
<rect x="83.4" y="88.24" width="5" height="8.31" fill="#a8479e"/>
<rect x="83.4" y="82.77" width="5" height="5.52" fill="#8d8cbc"/>
<rect x="83.4" y="73.69" width="5" height="9.13" fill="#dc62a0"/>
<rect x="83.4" y="64.61" width="5" height="9.13" fill="#cc80c4"/>
<rect x="83.4" y="57.9" width="5" height="6.76" fill="#dcbd7c"/>
<rect x="83.4" y="44.9" width="5" height="13.05" fill="#d8ab9c"/>
<text x="85.9" y="43.7" font-size="1.53" fill="#9a9a9a" stroke="#9a9a9a" stroke-width="0.08" text-anchor="middle">###</text>
<text x="85.9" y="99.8" font-size="1.65" fill="#9a9a9a" stroke="#9a9a9a" stroke-width="0.08" text-anchor="middle">Jun 2023</text>
<rect x="95.8" y="91.68" width="5" height="4.87" fill="#a8479e"/>
<rect x="95.8" y="88.49" width="5" height="3.24" fill="#8d8cbc"/>
<rect x="95.8" y="83.2" width="5" height="5.35" fill="#dc62a0"/>
<rect x="95.8" y="77.9" width="5" height="5.35" fill="#cc80c4"/>
<rect x="95.8" y="73.99" width="5" height="3.96" fill="#dcbd7c"/>
<rect x="95.8" y="66.4" width="5" height="7.64" fill="#9890c8"/>
<text x="98.3" y="65.2" font-size="1.53" fill="#9a9a9a" stroke="#9a9a9a" stroke-width="0.08" text-anchor="middle">###</text>
<text x="98.3" y="99.8" font-size="1.65" fill="#9a9a9a" stroke="#9a9a9a" stroke-width="0.08" text-anchor="middle">Jun 2023</text>
<rect x="108.2" y="89.81" width="5" height="6.74" fill="#a8479e"/>
<rect x="108.2" y="85.38" width="5" height="4.48" fill="#8d8cbc"/>
<rect x="108.2" y="78.02" width="5" height="7.41" fill="#dc62a0"/>
<rect x="108.2" y="70.67" width="5" height="7.41" fill="#cc80c4"/>
<rect x="108.2" y="65.23" width="5" height="5.48" fill="#dcbd7c"/>
<rect x="108.2" y="54.7" width="5" height="10.58" fill="#d8ab9c"/>
<text x="110.7" y="53.5" font-size="1.53" fill="#9a9a9a" stroke="#9a9a9a" stroke-width="0.08" text-anchor="middle">###</text>
<text x="110.7" y="99.8" font-size="1.65" fill="#9a9a9a" stroke="#9a9a9a" stroke-width="0.08" text-anchor="middle">Jun 2023</text>
<rect x="120.6" y="92.92" width="5" height="3.63" fill="#a8479e"/>
<rect x="120.6" y="90.54" width="5" height="2.42" fill="#8d8cbc"/>
<rect x="120.6" y="86.6" width="5" height="3.99" fill="#dc62a0"/>
<rect x="120.6" y="82.66" width="5" height="3.99" fill="#cc80c4"/>
<rect x="120.6" y="79.74" width="5" height="2.96" fill="#dcbd7c"/>
<rect x="120.6" y="74.1" width="5" height="5.69" fill="#d8ab9c"/>
<text x="123.1" y="72.9" font-size="1.53" fill="#9a9a9a" stroke="#9a9a9a" stroke-width="0.08" text-anchor="middle">###</text>
<text x="123.1" y="99.8" font-size="1.65" fill="#9a9a9a" stroke="#9a9a9a" stroke-width="0.08" text-anchor="middle">Jun 2023</text>
<text x="71.6" y="104.5" font-size="1.89" fill="#9a9a9a" stroke="#9a9a9a" stroke-width="0.1" text-anchor="middle">Created Date</text>
<text x="128.6" y="29.8" font-size="2.5" fill="#9a9a9a" stroke="#9a9a9a" stroke-width="0.12">⋮</text>
<text x="124.6" y="29.8" font-size="2.4" fill="#9a9a9a" stroke="#9a9a9a" stroke-width="0.12">⊽</text>
<rect x="1.7" y="113.2" width="81.1" height="44.6" fill="#ccced6" rx="1.2"/>
<rect x="2" y="112.6" width="80.5" height="43" fill="#dcdcdc" rx="1"/>
<text x="5.2" y="118" font-size="2.6" fill="#3a3a3a" stroke="#3a3a3a" stroke-width="0.13" font-weight="bold">Monthly Transactions</text>
<text x="73.5" y="118" font-size="2.4" fill="#9a9a9a" stroke="#9a9a9a" stroke-width="0.12">⊽</text>
<text x="78.5" y="118" font-size="2.4" fill="#9a9a9a" stroke="#9a9a9a" stroke-width="0.12">⋮</text>
<line x1="12" y1="143.8" x2="78" y2="143.8" stroke="#d0d0d0" stroke-width="0.3"/>
<text x="10" y="144.4" font-size="1.89" fill="#9a9a9a" stroke="#9a9a9a" stroke-width="0.1" text-anchor="end">0</text>
<line x1="12" y1="137" x2="78" y2="137" stroke="#d0d0d0" stroke-width="0.3"/>
<text x="10" y="137.6" font-size="1.89" fill="#9a9a9a" stroke="#9a9a9a" stroke-width="0.1" text-anchor="end">5%</text>
<line x1="12" y1="130" x2="78" y2="130" stroke="#d0d0d0" stroke-width="0.3"/>
<text x="10" y="130.6" font-size="1.89" fill="#9a9a9a" stroke="#9a9a9a" stroke-width="0.1" text-anchor="end">10%</text>
<line x1="12" y1="123.3" x2="78" y2="123.3" stroke="#d0d0d0" stroke-width="0.3"/>
<text x="10" y="123.9" font-size="1.89" fill="#9a9a9a" stroke="#9a9a9a" stroke-width="0.1" text-anchor="end">15%</text>
<line x1="21" y1="124" x2="21" y2="142.3" stroke="#e062a8" stroke-width="0.4"/>
<rect x="20.4" y="123.5" width="1.2" height="1.2" fill="#e07ab4"/>
<rect x="20.4" y="125.5" width="1.2" height="1.2" fill="#e07ab4"/>
<rect x="20.4" y="129.6" width="1.2" height="1.2" fill="#e07ab4"/>
<rect x="20.4" y="133" width="1.2" height="1.2" fill="#e07ab4"/>
<rect x="18.8" y="135.2" width="4.4" height="4.8" fill="#e062a8" rx="0.5"/>
<text x="21" y="148.6" font-size="1.89" fill="#9a9a9a" stroke="#9a9a9a" stroke-width="0.1" text-anchor="middle">Q1</text>
<line x1="37.1" y1="124" x2="37.1" y2="142.3" stroke="#e062a8" stroke-width="0.4"/>
<rect x="36.5" y="123.5" width="1.2" height="1.2" fill="#e07ab4"/>
<rect x="36.5" y="125.5" width="1.2" height="1.2" fill="#e07ab4"/>
<rect x="36.5" y="129.6" width="1.2" height="1.2" fill="#e07ab4"/>
<rect x="36.5" y="133" width="1.2" height="1.2" fill="#e07ab4"/>
<rect x="34.9" y="129" width="4.4" height="9" fill="#e062a8" rx="0.5"/>
<text x="37.1" y="148.6" font-size="1.89" fill="#9a9a9a" stroke="#9a9a9a" stroke-width="0.1" text-anchor="middle">Q1</text>
<line x1="53" y1="124" x2="53" y2="142.3" stroke="#e062a8" stroke-width="0.4"/>
<rect x="52.4" y="123.5" width="1.2" height="1.2" fill="#e07ab4"/>
<rect x="52.4" y="125.5" width="1.2" height="1.2" fill="#e07ab4"/>
<rect x="52.4" y="129.6" width="1.2" height="1.2" fill="#e07ab4"/>
<rect x="52.4" y="133" width="1.2" height="1.2" fill="#e07ab4"/>
<rect x="50.8" y="135.4" width="4.4" height="4.6" fill="#e062a8" rx="0.5"/>
<text x="53" y="148.6" font-size="1.89" fill="#9a9a9a" stroke="#9a9a9a" stroke-width="0.1" text-anchor="middle">Q1</text>
<line x1="69.2" y1="124" x2="69.2" y2="142.3" stroke="#e062a8" stroke-width="0.4"/>
<rect x="68.6" y="123.5" width="1.2" height="1.2" fill="#e07ab4"/>
<rect x="68.6" y="125.5" width="1.2" height="1.2" fill="#e07ab4"/>
<rect x="68.6" y="129.6" width="1.2" height="1.2" fill="#e07ab4"/>
<rect x="68.6" y="133" width="1.2" height="1.2" fill="#e07ab4"/>
<rect x="67" y="135.4" width="4.4" height="4.6" fill="#e062a8" rx="0.5"/>
<text x="69.2" y="148.6" font-size="1.89" fill="#9a9a9a" stroke="#9a9a9a" stroke-width="0.1" text-anchor="middle">Q1</text>
<rect x="84.7" y="113.2" width="107.6" height="44.6" fill="#ccced6" rx="1.2"/>
<rect x="85" y="112.6" width="107" height="43" fill="#dcdcdc" rx="1"/>
<text x="88.5" y="118" font-size="2.6" fill="#3a3a3a" stroke="#3a3a3a" stroke-width="0.13" font-weight="bold">Orders per Month</text>
<text x="181" y="118" font-size="2.4" fill="#9a9a9a" stroke="#9a9a9a" stroke-width="0.12">⊽</text>
<text x="186" y="118" font-size="2.4" fill="#9a9a9a" stroke="#9a9a9a" stroke-width="0.12">⋮</text>
<line x1="95" y1="147" x2="184" y2="147" stroke="#d0d0d0" stroke-width="0.3"/>
<text x="93.5" y="147.5" font-size="1.65" fill="#9a9a9a" stroke="#9a9a9a" stroke-width="0.08" text-anchor="end">0</text>
<line x1="95" y1="144.06" x2="184" y2="144.06" stroke="#d0d0d0" stroke-width="0.3"/>
<text x="93.5" y="144.56" font-size="1.65" fill="#9a9a9a" stroke="#9a9a9a" stroke-width="0.08" text-anchor="end">25</text>
<line x1="95" y1="141.12" x2="184" y2="141.12" stroke="#d0d0d0" stroke-width="0.3"/>
<text x="93.5" y="141.62" font-size="1.65" fill="#9a9a9a" stroke="#9a9a9a" stroke-width="0.08" text-anchor="end">50</text>
<line x1="95" y1="138.19" x2="184" y2="138.19" stroke="#d0d0d0" stroke-width="0.3"/>
<text x="93.5" y="138.69" font-size="1.65" fill="#9a9a9a" stroke="#9a9a9a" stroke-width="0.08" text-anchor="end">75</text>
<line x1="95" y1="135.25" x2="184" y2="135.25" stroke="#d0d0d0" stroke-width="0.3"/>
<text x="93.5" y="135.75" font-size="1.65" fill="#9a9a9a" stroke="#9a9a9a" stroke-width="0.08" text-anchor="end">100</text>
<line x1="95" y1="132.31" x2="184" y2="132.31" stroke="#d0d0d0" stroke-width="0.3"/>
<text x="93.5" y="132.81" font-size="1.65" fill="#9a9a9a" stroke="#9a9a9a" stroke-width="0.08" text-anchor="end">125</text>
<line x1="95" y1="129.38" x2="184" y2="129.38" stroke="#d0d0d0" stroke-width="0.3"/>
<text x="93.5" y="129.88" font-size="1.65" fill="#9a9a9a" stroke="#9a9a9a" stroke-width="0.08" text-anchor="end">150</text>
<line x1="95" y1="126.44" x2="184" y2="126.44" stroke="#d0d0d0" stroke-width="0.3"/>
<text x="93.5" y="126.94" font-size="1.65" fill="#9a9a9a" stroke="#9a9a9a" stroke-width="0.08" text-anchor="end">175</text>
<line x1="95" y1="123.5" x2="184" y2="123.5" stroke="#d0d0d0" stroke-width="0.3"/>
<text x="93.5" y="124" font-size="1.65" fill="#9a9a9a" stroke="#9a9a9a" stroke-width="0.08" text-anchor="end">200</text>
<path d="M97,140.7 C98.17,140.5 101.83,139.82 104,139.5 C106.17,139.18 107.67,139.38 110,138.8 C112.33,138.22 115.38,136.73 118,136 C120.62,135.27 123.53,134.48 125.7,134.4 C127.87,134.32 129.28,135.23 131,135.5 C132.72,135.77 134,136.33 136,136 C138,135.67 140.72,134.1 143,133.5 C145.28,132.9 147.7,132.48 149.7,132.4 C151.7,132.32 153.28,132.48 155,133 C156.72,133.52 158.52,135 160,135.5 C161.48,136 162.57,136.42 163.9,136 C165.23,135.58 166.55,133.95 168,133 C169.45,132.05 171.1,130.8 172.6,130.3 C174.1,129.8 175.43,129.83 177,130 C178.57,130.17 181.17,131.08 182,131.3 L182,147 L97,147 Z" fill="#e8d4ce"/>
<path d="M97,140.7 C98.17,140.5 101.83,139.82 104,139.5 C106.17,139.18 107.67,139.38 110,138.8 C112.33,138.22 115.38,136.73 118,136 C120.62,135.27 123.53,134.48 125.7,134.4 C127.87,134.32 129.28,135.23 131,135.5 C132.72,135.77 134,136.33 136,136 C138,135.67 140.72,134.1 143,133.5 C145.28,132.9 147.7,132.48 149.7,132.4 C151.7,132.32 153.28,132.48 155,133 C156.72,133.52 158.52,135 160,135.5 C161.48,136 162.57,136.42 163.9,136 C165.23,135.58 166.55,133.95 168,133 C169.45,132.05 171.1,130.8 172.6,130.3 C174.1,129.8 175.43,129.83 177,130 C178.57,130.17 181.17,131.08 182,131.3" fill="none" stroke="#e49a7a" stroke-width="0.6"/>
<text x="97" y="150.6" font-size="1.77" fill="#9a9a9a" stroke="#9a9a9a" stroke-width="0.09" text-anchor="middle">Jan</text>
<text x="104.75" y="150.6" font-size="1.77" fill="#9a9a9a" stroke="#9a9a9a" stroke-width="0.09" text-anchor="middle">Feb</text>
<text x="112.5" y="150.6" font-size="1.77" fill="#9a9a9a" stroke="#9a9a9a" stroke-width="0.09" text-anchor="middle">Mar</text>
<text x="120.25" y="150.6" font-size="1.77" fill="#9a9a9a" stroke="#9a9a9a" stroke-width="0.09" text-anchor="middle">Apr</text>
<text x="128" y="150.6" font-size="1.77" fill="#9a9a9a" stroke="#9a9a9a" stroke-width="0.09" text-anchor="middle">May</text>
<text x="135.75" y="150.6" font-size="1.77" fill="#9a9a9a" stroke="#9a9a9a" stroke-width="0.09" text-anchor="middle">Jun</text>
<text x="143.5" y="150.6" font-size="1.77" fill="#9a9a9a" stroke="#9a9a9a" stroke-width="0.09" text-anchor="middle">Jul</text>
<text x="151.25" y="150.6" font-size="1.77" fill="#9a9a9a" stroke="#9a9a9a" stroke-width="0.09" text-anchor="middle">Aug</text>
<text x="159" y="150.6" font-size="1.77" fill="#9a9a9a" stroke="#9a9a9a" stroke-width="0.09" text-anchor="middle">Sept</text>
<text x="166.75" y="150.6" font-size="1.77" fill="#9a9a9a" stroke="#9a9a9a" stroke-width="0.09" text-anchor="middle">Oct</text>
<text x="174.5" y="150.6" font-size="1.77" fill="#9a9a9a" stroke="#9a9a9a" stroke-width="0.09" text-anchor="middle">Nov</text>
<text x="182.25" y="150.6" font-size="1.77" fill="#9a9a9a" stroke="#9a9a9a" stroke-width="0.09" text-anchor="middle">Dec</text>
<rect x="1.7" y="158.8" width="190.6" height="50.6" fill="#ccced6" rx="1.2"/>
<rect x="2" y="158.2" width="190" height="49" fill="#dcdcdc" rx="1"/>
<text x="5.5" y="164" font-size="2.6" fill="#3a3a3a" stroke="#3a3a3a" stroke-width="0.13" font-weight="bold">Quantity vs Cost Monthly Trends</text>
<text x="181" y="163.5" font-size="2.4" fill="#9a9a9a" stroke="#9a9a9a" stroke-width="0.12">⊽</text>
<text x="186" y="163.5" font-size="2.4" fill="#9a9a9a" stroke="#9a9a9a" stroke-width="0.12">⋮</text>
<line x1="12" y1="192.3" x2="186" y2="192.3" stroke="#d0d0d0" stroke-width="0.3"/>
<text x="10" y="192.9" font-size="1.89" fill="#9a9a9a" stroke="#9a9a9a" stroke-width="0.1" text-anchor="end">0</text>
<line x1="12" y1="185.5" x2="186" y2="185.5" stroke="#d0d0d0" stroke-width="0.3"/>
<text x="10" y="186.1" font-size="1.89" fill="#9a9a9a" stroke="#9a9a9a" stroke-width="0.1" text-anchor="end">100</text>
<line x1="12" y1="178.8" x2="186" y2="178.8" stroke="#d0d0d0" stroke-width="0.3"/>
<text x="10" y="179.4" font-size="1.89" fill="#9a9a9a" stroke="#9a9a9a" stroke-width="0.1" text-anchor="end">200</text>
<line x1="12" y1="172" x2="186" y2="172" stroke="#d0d0d0" stroke-width="0.3"/>
<text x="10" y="172.6" font-size="1.89" fill="#9a9a9a" stroke="#9a9a9a" stroke-width="0.1" text-anchor="end">300</text>
<rect x="17.2" y="178.9" width="13.6" height="13.4" fill="#e0c890"/>
<text x="24" y="196.8" font-size="1.77" fill="#9a9a9a" stroke="#9a9a9a" stroke-width="0.09" text-anchor="middle">Jan 2023</text>
<text x="24" y="177.4" font-size="1.65" fill="#9a9a9a" stroke="#9a9a9a" stroke-width="0.08" text-anchor="middle">###</text>
<rect x="36.4" y="173.5" width="13.6" height="18.8" fill="#e0c890"/>
<text x="43.2" y="196.8" font-size="1.77" fill="#9a9a9a" stroke="#9a9a9a" stroke-width="0.09" text-anchor="middle">Jan 2023</text>
<text x="43.2" y="172" font-size="1.65" fill="#9a9a9a" stroke="#9a9a9a" stroke-width="0.08" text-anchor="middle">###</text>
<rect x="55.6" y="178.9" width="13.6" height="13.4" fill="#e0c890"/>
<text x="62.4" y="196.8" font-size="1.77" fill="#9a9a9a" stroke="#9a9a9a" stroke-width="0.09" text-anchor="middle">Jan 2023</text>
<text x="62.4" y="177.4" font-size="1.65" fill="#9a9a9a" stroke="#9a9a9a" stroke-width="0.08" text-anchor="middle">###</text>
<rect x="74.8" y="178.9" width="13.6" height="13.4" fill="#e0c890"/>
<text x="81.6" y="196.8" font-size="1.77" fill="#9a9a9a" stroke="#9a9a9a" stroke-width="0.09" text-anchor="middle">Jan 2023</text>
<text x="81.6" y="177.4" font-size="1.65" fill="#9a9a9a" stroke="#9a9a9a" stroke-width="0.08" text-anchor="middle">###</text>
<rect x="94" y="173.5" width="13.6" height="18.8" fill="#e0c890"/>
<text x="100.8" y="196.8" font-size="1.77" fill="#9a9a9a" stroke="#9a9a9a" stroke-width="0.09" text-anchor="middle">Jan 2023</text>
<text x="100.8" y="172" font-size="1.65" fill="#9a9a9a" stroke="#9a9a9a" stroke-width="0.08" text-anchor="middle">###</text>
<rect x="113.2" y="178.9" width="13.6" height="13.4" fill="#e0c890"/>
<text x="120" y="196.8" font-size="1.77" fill="#9a9a9a" stroke="#9a9a9a" stroke-width="0.09" text-anchor="middle">Jan 2023</text>
<text x="120" y="177.4" font-size="1.65" fill="#9a9a9a" stroke="#9a9a9a" stroke-width="0.08" text-anchor="middle">###</text>
<rect x="132.4" y="178.9" width="13.6" height="13.4" fill="#e0c890"/>
<text x="139.2" y="196.8" font-size="1.77" fill="#9a9a9a" stroke="#9a9a9a" stroke-width="0.09" text-anchor="middle">Jan 2023</text>
<text x="139.2" y="177.4" font-size="1.65" fill="#9a9a9a" stroke="#9a9a9a" stroke-width="0.08" text-anchor="middle">###</text>
<rect x="151.6" y="173.5" width="13.6" height="18.8" fill="#e0c890"/>
<text x="158.4" y="196.8" font-size="1.77" fill="#9a9a9a" stroke="#9a9a9a" stroke-width="0.09" text-anchor="middle">Jan 2023</text>
<text x="158.4" y="172" font-size="1.65" fill="#9a9a9a" stroke="#9a9a9a" stroke-width="0.08" text-anchor="middle">###</text>
<rect x="170.8" y="178.9" width="13.6" height="13.4" fill="#e0c890"/>
<text x="177.6" y="196.8" font-size="1.77" fill="#9a9a9a" stroke="#9a9a9a" stroke-width="0.09" text-anchor="middle">Jan 2023</text>
<text x="177.6" y="177.4" font-size="1.65" fill="#9a9a9a" stroke="#9a9a9a" stroke-width="0.08" text-anchor="middle">###</text>
<path d="M24,185.5 C27.2,184.75 36.8,180.5 43.2,181 C49.6,181.5 56,187.92 62.4,188.5 C68.8,189.08 75.2,184.78 81.6,184.5 C88,184.22 94.4,186.55 100.8,186.8 C107.2,187.05 113.6,186.55 120,186 C126.4,185.45 132.8,183.58 139.2,183.5 C145.6,183.42 152,184.5 158.4,185.5 C164.8,186.5 174.4,188.83 177.6,189.5" fill="none" stroke="#a8a8c8" stroke-width="0.5"/>
<rect x="21.7" y="183.9" width="4.6" height="2.6" fill="#f0f0f0" rx="0.3"/>
<rect x="40.9" y="179.4" width="4.6" height="2.6" fill="#f0f0f0" rx="0.3"/>
<rect x="60.1" y="186.9" width="4.6" height="2.6" fill="#f0f0f0" rx="0.3"/>
<rect x="79.3" y="182.9" width="4.6" height="2.6" fill="#f0f0f0" rx="0.3"/>
<rect x="98.5" y="185.2" width="4.6" height="2.6" fill="#f0f0f0" rx="0.3"/>
<rect x="117.7" y="184.4" width="4.6" height="2.6" fill="#f0f0f0" rx="0.3"/>
<rect x="136.9" y="181.9" width="4.6" height="2.6" fill="#f0f0f0" rx="0.3"/>
<rect x="156.1" y="183.9" width="4.6" height="2.6" fill="#f0f0f0" rx="0.3"/>
<rect x="175.3" y="187.9" width="4.6" height="2.6" fill="#f0f0f0" rx="0.3"/>
<rect x="1.7" y="210.6" width="190.6" height="67.6" fill="#ccced6" rx="1.2"/>
<rect x="2" y="210" width="190" height="66" fill="#dcdcdc" rx="1"/>
<text x="5.5" y="215.6" font-size="2.6" fill="#3a3a3a" stroke="#3a3a3a" stroke-width="0.13" font-weight="bold">Datasheet</text>
<text x="182" y="215" font-size="2.4" fill="#9a9a9a" stroke="#9a9a9a" stroke-width="0.12">⊽</text>
<text x="187.5" y="215" font-size="2.4" fill="#9a9a9a" stroke="#9a9a9a" stroke-width="0.12">⋮</text>
<rect x="6.8" y="220.4" width="178" height="4.8" fill="#d3d2e3" rx="0.6"/>
<text x="9.8" y="223.6" font-size="2.01" fill="#707080" stroke="#707080" stroke-width="0.1"></text>
<text x="17.5" y="223.6" font-size="2.01" fill="#707080" stroke="#707080" stroke-width="0.1">Name</text>
<text x="47" y="223.6" font-size="2.01" fill="#707080" stroke="#707080" stroke-width="0.1">Update On</text>
<text x="82.5" y="223.6" font-size="2.01" fill="#707080" stroke="#707080" stroke-width="0.1">Update On</text>
<text x="118.5" y="223.6" font-size="2.01" fill="#707080" stroke="#707080" stroke-width="0.1">Update On</text>
<text x="154" y="223.6" font-size="2.01" fill="#707080" stroke="#707080" stroke-width="0.1">Update On</text>
<rect x="6.8" y="225.2" width="178" height="5.8" fill="#dcdcdc"/>
<line x1="6.8" y1="231" x2="184.8" y2="231" stroke="#cfcfcf" stroke-width="0.25"/>
<text x="10.2" y="228.9" font-size="2.12" fill="#9a9a9a" stroke="#9a9a9a" stroke-width="0.11" text-anchor="middle">1</text>
<text x="17" y="228.9" font-size="2.12" fill="#9a9a9a" stroke="#9a9a9a" stroke-width="0.11">Date and Time Test</text>
<text x="46.2" y="228.9" font-size="2.01" fill="#9a9a9a" stroke="#9a9a9a" stroke-width="0.1">05/05/2023</text>
<text x="81.7" y="228.9" font-size="2.01" fill="#9a9a9a" stroke="#9a9a9a" stroke-width="0.1">05/05/2023</text>
<text x="117.7" y="228.9" font-size="2.01" fill="#9a9a9a" stroke="#9a9a9a" stroke-width="0.1">05/05/2023</text>
<text x="153.2" y="228.9" font-size="2.01" fill="#9a9a9a" stroke="#9a9a9a" stroke-width="0.1">05/05/2023</text>
<rect x="6.8" y="231" width="178" height="5.8" fill="#dadada"/>
<line x1="6.8" y1="236.8" x2="184.8" y2="236.8" stroke="#cfcfcf" stroke-width="0.25"/>
<text x="10.2" y="234.7" font-size="2.12" fill="#9a9a9a" stroke="#9a9a9a" stroke-width="0.11" text-anchor="middle">2</text>
<text x="17" y="234.7" font-size="2.12" fill="#9a9a9a" stroke="#9a9a9a" stroke-width="0.11">NaN(0)</text>
<text x="46.2" y="234.7" font-size="2.01" fill="#9a9a9a" stroke="#9a9a9a" stroke-width="0.1">05/05/2023</text>
<text x="81.7" y="234.7" font-size="2.01" fill="#9a9a9a" stroke="#9a9a9a" stroke-width="0.1">05/05/2023</text>
<text x="117.7" y="234.7" font-size="2.01" fill="#9a9a9a" stroke="#9a9a9a" stroke-width="0.1">05/05/2023</text>
<text x="153.2" y="234.7" font-size="2.01" fill="#9a9a9a" stroke="#9a9a9a" stroke-width="0.1">05/05/2023</text>
<rect x="6.8" y="236.8" width="178" height="5.8" fill="#dcdcdc"/>
<line x1="6.8" y1="242.6" x2="184.8" y2="242.6" stroke="#cfcfcf" stroke-width="0.25"/>
<text x="10.2" y="240.5" font-size="2.12" fill="#9a9a9a" stroke="#9a9a9a" stroke-width="0.11" text-anchor="middle">3</text>
<text x="17" y="240.5" font-size="2.12" fill="#9a9a9a" stroke="#9a9a9a" stroke-width="0.11">Date and Time Test</text>
<text x="46.2" y="240.5" font-size="2.01" fill="#9a9a9a" stroke="#9a9a9a" stroke-width="0.1">05/05/2023</text>
<text x="81.7" y="240.5" font-size="2.01" fill="#9a9a9a" stroke="#9a9a9a" stroke-width="0.1">05/05/2023</text>
<text x="117.7" y="240.5" font-size="2.01" fill="#9a9a9a" stroke="#9a9a9a" stroke-width="0.1">05/05/2023</text>
<text x="153.2" y="240.5" font-size="2.01" fill="#9a9a9a" stroke="#9a9a9a" stroke-width="0.1">05/05/2023</text>
<rect x="6.8" y="242.6" width="178" height="5.8" fill="#dadada"/>
<line x1="6.8" y1="248.4" x2="184.8" y2="248.4" stroke="#cfcfcf" stroke-width="0.25"/>
<text x="10.2" y="246.3" font-size="2.12" fill="#9a9a9a" stroke="#9a9a9a" stroke-width="0.11" text-anchor="middle">4</text>
<text x="17" y="246.3" font-size="2.12" fill="#9a9a9a" stroke="#9a9a9a" stroke-width="0.11">NaN(0)</text>
<text x="46.2" y="246.3" font-size="2.01" fill="#9a9a9a" stroke="#9a9a9a" stroke-width="0.1">05/05/2023</text>
<text x="81.7" y="246.3" font-size="2.01" fill="#9a9a9a" stroke="#9a9a9a" stroke-width="0.1">05/05/2023</text>
<text x="117.7" y="246.3" font-size="2.01" fill="#9a9a9a" stroke="#9a9a9a" stroke-width="0.1">05/05/2023</text>
<text x="153.2" y="246.3" font-size="2.01" fill="#9a9a9a" stroke="#9a9a9a" stroke-width="0.1">05/05/2023</text>
<rect x="6.8" y="248.4" width="178" height="5.8" fill="#dcdcdc"/>
<line x1="6.8" y1="254.2" x2="184.8" y2="254.2" stroke="#cfcfcf" stroke-width="0.25"/>
<text x="10.2" y="252.1" font-size="2.12" fill="#9a9a9a" stroke="#9a9a9a" stroke-width="0.11" text-anchor="middle">5</text>
<text x="17" y="252.1" font-size="2.12" fill="#9a9a9a" stroke="#9a9a9a" stroke-width="0.11">Date and Time Test</text>
<text x="46.2" y="252.1" font-size="2.01" fill="#9a9a9a" stroke="#9a9a9a" stroke-width="0.1">05/05/2023</text>
<text x="81.7" y="252.1" font-size="2.01" fill="#9a9a9a" stroke="#9a9a9a" stroke-width="0.1">05/05/2023</text>
<text x="117.7" y="252.1" font-size="2.01" fill="#9a9a9a" stroke="#9a9a9a" stroke-width="0.1">05/05/2023</text>
<text x="153.2" y="252.1" font-size="2.01" fill="#9a9a9a" stroke="#9a9a9a" stroke-width="0.1">05/05/2023</text>
<rect x="6.8" y="254.2" width="178" height="5.8" fill="#dadada"/>
<line x1="6.8" y1="260" x2="184.8" y2="260" stroke="#cfcfcf" stroke-width="0.25"/>
<text x="10.2" y="257.9" font-size="2.12" fill="#9a9a9a" stroke="#9a9a9a" stroke-width="0.11" text-anchor="middle">6</text>
<text x="17" y="257.9" font-size="2.12" fill="#9a9a9a" stroke="#9a9a9a" stroke-width="0.11">NaN(0)</text>
<text x="46.2" y="257.9" font-size="2.01" fill="#9a9a9a" stroke="#9a9a9a" stroke-width="0.1">05/05/2023</text>
<text x="81.7" y="257.9" font-size="2.01" fill="#9a9a9a" stroke="#9a9a9a" stroke-width="0.1">05/05/2023</text>
<text x="117.7" y="257.9" font-size="2.01" fill="#9a9a9a" stroke="#9a9a9a" stroke-width="0.1">05/05/2023</text>
<text x="153.2" y="257.9" font-size="2.01" fill="#9a9a9a" stroke="#9a9a9a" stroke-width="0.1">05/05/2023</text>
<rect x="6.8" y="260" width="178" height="5.8" fill="#dcdcdc"/>
<line x1="6.8" y1="265.8" x2="184.8" y2="265.8" stroke="#cfcfcf" stroke-width="0.25"/>
<text x="10.2" y="263.7" font-size="2.12" fill="#9a9a9a" stroke="#9a9a9a" stroke-width="0.11" text-anchor="middle">7</text>
<text x="17" y="263.7" font-size="2.12" fill="#9a9a9a" stroke="#9a9a9a" stroke-width="0.11">Date and Time Test</text>
<text x="46.2" y="263.7" font-size="2.01" fill="#9a9a9a" stroke="#9a9a9a" stroke-width="0.1">05/05/2023</text>
<text x="81.7" y="263.7" font-size="2.01" fill="#9a9a9a" stroke="#9a9a9a" stroke-width="0.1">05/05/2023</text>
<text x="117.7" y="263.7" font-size="2.01" fill="#9a9a9a" stroke="#9a9a9a" stroke-width="0.1">05/05/2023</text>
<text x="153.2" y="263.7" font-size="2.01" fill="#9a9a9a" stroke="#9a9a9a" stroke-width="0.1">05/05/2023</text>
<rect x="6.8" y="265.8" width="178" height="5.8" fill="#dadada"/>
<line x1="6.8" y1="271.6" x2="184.8" y2="271.6" stroke="#cfcfcf" stroke-width="0.25"/>
<text x="10.2" y="269.5" font-size="2.12" fill="#9a9a9a" stroke="#9a9a9a" stroke-width="0.11" text-anchor="middle">8</text>
<text x="17" y="269.5" font-size="2.12" fill="#9a9a9a" stroke="#9a9a9a" stroke-width="0.11">NaN(0)</text>
<text x="46.2" y="269.5" font-size="2.01" fill="#9a9a9a" stroke="#9a9a9a" stroke-width="0.1">05/05/2023</text>
<text x="81.7" y="269.5" font-size="2.01" fill="#9a9a9a" stroke="#9a9a9a" stroke-width="0.1">05/05/2023</text>
<text x="117.7" y="269.5" font-size="2.01" fill="#9a9a9a" stroke="#9a9a9a" stroke-width="0.1">05/05/2023</text>
<text x="153.2" y="269.5" font-size="2.01" fill="#9a9a9a" stroke="#9a9a9a" stroke-width="0.1">05/05/2023</text>
<line x1="14.5" y1="225.2" x2="14.5" y2="271.6" stroke="#cfcfcf" stroke-width="0.25"/>
<line x1="44" y1="225.2" x2="44" y2="271.6" stroke="#cfcfcf" stroke-width="0.25"/>
<line x1="79.5" y1="225.2" x2="79.5" y2="271.6" stroke="#cfcfcf" stroke-width="0.25"/>
<line x1="115.5" y1="225.2" x2="115.5" y2="271.6" stroke="#cfcfcf" stroke-width="0.25"/>
<line x1="151" y1="225.2" x2="151" y2="271.6" stroke="#cfcfcf" stroke-width="0.25"/>
<rect x="193.5" y="-20" width="42" height="400" fill="#dadada"/>
<rect x="195" y="3" width="39" height="8" fill="#dcdcdc"/>
<rect x="198.6" y="5.6" width="2" height="2" fill="#b24fa9" rx="0.3"/>
<text x="203.5" y="7.8" font-size="2.12" fill="#3a3a3a" stroke="#3a3a3a" stroke-width="0.11" font-weight="bold">Select Date</text>
<rect x="195" y="12" width="39" height="23.5" fill="#dcdcdc"/>
<text x="198.5" y="17.8" font-size="2.12" fill="#3a3a3a" stroke="#3a3a3a" stroke-width="0.11" font-weight="bold">Date Scale</text>
<text x="224" y="17.8" font-size="1.77" fill="#9a9a9a" stroke="#9a9a9a" stroke-width="0.09">Yearly ▾</text>
<rect x="198.5" y="20" width="32.5" height="3.8" fill="#e2e2e2" rx="0.5"/>
<text x="200" y="22.6" font-size="1.53" fill="#9a9a9a" stroke="#9a9a9a" stroke-width="0.08">Type value or filter by</text>
<rect x="198.5" y="27" width="33" height="5.4" fill="#b24fa9" rx="0.6"/>
<text x="214.5" y="30.5" font-size="1.77" fill="#f0f0ff" stroke="#f0f0ff" stroke-width="0.09" text-anchor="middle">Filter</text>
<rect x="195" y="37.5" width="39" height="53.5" fill="#dcdcdc"/>
<text x="198.5" y="43.7" font-size="2.24" fill="#3a3a3a" stroke="#3a3a3a" stroke-width="0.11" font-weight="bold">Choose a Category</text>
<rect x="198.5" y="46.3" width="32.5" height="3.6" fill="#e2e2e2" rx="0.5"/>
<text x="200" y="48.8" font-size="1.53" fill="#9a9a9a" stroke="#9a9a9a" stroke-width="0.08">Search</text>
<rect x="199" y="52.7" width="1.8" height="1.8" fill="#d9b0d4" rx="0.3"/>
<text x="202.3" y="54.2" font-size="1.65" fill="#8a8a8a" stroke="#8a8a8a" stroke-width="0.08">Automotive</text>
<rect x="199" y="56.33" width="1.8" height="1.8" fill="#d9b0d4" rx="0.3"/>
<text x="202.3" y="57.83" font-size="1.65" fill="#8a8a8a" stroke="#8a8a8a" stroke-width="0.08">Beauty and Health</text>
<rect x="199" y="59.96" width="1.8" height="1.8" fill="#d9b0d4" rx="0.3"/>
<text x="202.3" y="61.46" font-size="1.65" fill="#8a8a8a" stroke="#8a8a8a" stroke-width="0.08">Books</text>
<rect x="199" y="63.59" width="1.8" height="1.8" fill="#d9b0d4" rx="0.3"/>
<text x="202.3" y="65.09" font-size="1.65" fill="#8a8a8a" stroke="#8a8a8a" stroke-width="0.08">Clothing and Shoes</text>
<rect x="199" y="67.22" width="1.8" height="1.8" fill="#d9b0d4" rx="0.3"/>
<text x="202.3" y="68.72" font-size="1.65" fill="#8a8a8a" stroke="#8a8a8a" stroke-width="0.08">Electronics</text>
<rect x="199" y="70.85" width="1.8" height="1.8" fill="#d9b0d4" rx="0.3"/>
<text x="202.3" y="72.35" font-size="1.65" fill="#8a8a8a" stroke="#8a8a8a" stroke-width="0.08">Food and Grocery</text>
<rect x="199" y="74.48" width="1.8" height="1.8" fill="#d9b0d4" rx="0.3"/>
<text x="202.3" y="75.98" font-size="1.65" fill="#8a8a8a" stroke="#8a8a8a" stroke-width="0.08">Home and Garden</text>
<rect x="199" y="78.11" width="1.8" height="1.8" fill="#d9b0d4" rx="0.3"/>
<text x="202.3" y="79.61" font-size="1.65" fill="#8a8a8a" stroke="#8a8a8a" stroke-width="0.08">Pet Supplies</text>
<rect x="199" y="81.74" width="1.8" height="1.8" fill="#d9b0d4" rx="0.3"/>
<text x="202.3" y="83.24" font-size="1.65" fill="#8a8a8a" stroke="#8a8a8a" stroke-width="0.08">Sports and Outdoors</text>
</g>
<rect x="788" y="174.3" width="240" height="5.4" fill="#d8d8d8"/>
<circle cx="791.5" cy="176.9" r="0.8" fill="#e0443a"/>
<circle cx="794.25" cy="176.9" r="0.8" fill="#e8a820"/>
<circle cx="797" cy="176.9" r="0.8" fill="#2ab840"/>
<rect x="788" y="347.2" width="29.5" height="4" fill="#f8f8fa"/>
<path d="M788,179.7 L817,179.7 L817,347.2 L791.5,347.2 Q788,347.2 788,343.7 Z" fill="url(#g7)"/>
<g fill="none" stroke="#f2eaff" stroke-width="0.85" transform="rotate(-30 802 185.6)">
<path d="M801.6,183.4 a2.6,2.2 0 1 0 0,4.4 M802.4,187.8 a2.6,2.2 0 1 0 0,-4.4 M799.2,185.6 h5.6"/>
</g>
<text x="791.4" y="192.8" font-size="3.5" fill="#ffffff" font-weight="bold" textLength="10.6" lengthAdjust="spacingAndGlyphs">cloud</text>
<text x="802.1" y="192.8" font-size="3.5" fill="#eadcff" textLength="10.8" lengthAdjust="spacingAndGlyphs">tech</text>
<rect x="792.3" y="202.7" width="1.8" height="1.8" fill="none" stroke="#e0d0f0" stroke-width="0.3"/>
<text x="797.5" y="204.3" font-size="2.3" fill="#f0e6ff" stroke="#f0e6ff" stroke-width="0.12" font-weight="bold">Dashboard</text>
<rect x="792.3" y="212.8" width="1.8" height="1.8" fill="none" stroke="#e0d0f0" stroke-width="0.3"/>
<text x="797.5" y="214.4" font-size="2.3" fill="#f0e6ff" stroke="#f0e6ff" stroke-width="0.12" font-weight="bold">Settings</text>
<rect x="792.3" y="222.9" width="1.8" height="1.8" fill="none" stroke="#e0d0f0" stroke-width="0.3"/>
<text x="797.5" y="224.5" font-size="2.3" fill="#f0e6ff" stroke="#f0e6ff" stroke-width="0.12" font-weight="bold">Users</text>
<rect x="792.3" y="233" width="1.8" height="1.8" fill="none" stroke="#e0d0f0" stroke-width="0.3"/>
<text x="797.5" y="234.6" font-size="2.3" fill="#f0e6ff" stroke="#f0e6ff" stroke-width="0.12" font-weight="bold">Admin</text>
</g>
<clipPath id="cp8"><rect x="-5" y="309.8" width="240.6" height="148.6" rx="3.5"/></clipPath>
<g clip-path="url(#cp8)">
<rect x="-5" y="309.8" width="240.6" height="148.6" fill="#d6d6d6"/>
<rect x="-5" y="309.8" width="240.6" height="11.2" fill="#dcdcdc"/>
<text x="5.9" y="316.9" font-size="5" fill="#e8731a" font-weight="bold" textLength="11.4" lengthAdjust="spacingAndGlyphs">AUTO</text>
<text x="17.4" y="316.9" font-size="5" fill="#333333" font-weight="bold" textLength="17.7" lengthAdjust="spacingAndGlyphs">MARKET</text>
<rect x="226.5" y="314.05" width="3.4" height="0.6" fill="#555"/>
<rect x="226.5" y="315.1" width="3.4" height="0.6" fill="#555"/>
<rect x="226.5" y="316.15" width="3.4" height="0.6" fill="#555"/>
<text x="10.9" y="335.7" font-size="2.8" fill="#4a4a4a" stroke="#4a4a4a" stroke-width="0.14" textLength="76.4" lengthAdjust="spacingAndGlyphs" >Rustic comes from lower churn, higher expansion, and more users.</text>
<text x="10.9" y="339.8" font-size="2.8" fill="#4a4a4a" stroke="#4a4a4a" stroke-width="0.14" textLength="76.4" lengthAdjust="spacingAndGlyphs" >Marketing automation helps you onboard and expand existing customers at</text>
<text x="10.9" y="343.9" font-size="2.8" fill="#4a4a4a" stroke="#4a4a4a" stroke-width="0.14" textLength="55.01" lengthAdjust="spacingAndGlyphs" >the same time to reduce churn. Use automated</text>
<text x="10.9" y="352" font-size="2.8" fill="#2a2a2a" stroke="#2a2a2a" stroke-width="0.14" font-weight="bold" textLength="31.32" lengthAdjust="spacingAndGlyphs">Onboard users to reduce churn</text>
<text x="10.9" y="356.1" font-size="2.8" fill="#4a4a4a" stroke="#4a4a4a" stroke-width="0.14" textLength="76.4" lengthAdjust="spacingAndGlyphs" >workflows to increase feature adoption and reduce churn and increase your</text>
<text x="10.9" y="360.2" font-size="2.8" fill="#4a4a4a" stroke="#4a4a4a" stroke-width="0.14" textLength="35.14" lengthAdjust="spacingAndGlyphs" >bottom line. What are users doing</text>
<text x="10.9" y="368.4" font-size="2.8" fill="#2a2a2a" stroke="#2a2a2a" stroke-width="0.14" font-weight="bold" textLength="19.86" lengthAdjust="spacingAndGlyphs">Track in-app events</text>
<text x="10.9" y="372.5" font-size="2.8" fill="#4a4a4a" stroke="#4a4a4a" stroke-width="0.14" textLength="76.4" lengthAdjust="spacingAndGlyphs" >in your app? Track in-app events and use them to trigger messages that help</text>
<text x="10.9" y="376.7" font-size="2.8" fill="#4a4a4a" stroke="#4a4a4a" stroke-width="0.14" textLength="76.4" lengthAdjust="spacingAndGlyphs" >people get the most out of your product. Are your customers in danger of</text>
<text x="10.9" y="380.8" font-size="2.8" fill="#4a4a4a" stroke="#4a4a4a" stroke-width="0.14" textLength="8.4" lengthAdjust="spacingAndGlyphs" >churning?</text>
<text x="10.9" y="389" font-size="2.8" fill="#2a2a2a" stroke="#2a2a2a" stroke-width="0.14" font-weight="bold" textLength="22.92" lengthAdjust="spacingAndGlyphs">Manage customer health</text>
<text x="10.9" y="393.1" font-size="2.8" fill="#4a4a4a" stroke="#4a4a4a" stroke-width="0.14" textLength="76.4" lengthAdjust="spacingAndGlyphs" >How do you know? Use lead scoring and pipeline stages to identify the</text>
<text x="10.9" y="397.2" font-size="2.8" fill="#4a4a4a" stroke="#4a4a4a" stroke-width="0.14" textLength="76.4" lengthAdjust="spacingAndGlyphs" >customers you need to save. Rustic comes from lower churn, higher</text>
<text x="10.9" y="401.3" font-size="2.8" fill="#4a4a4a" stroke="#4a4a4a" stroke-width="0.14" textLength="6.11" lengthAdjust="spacingAndGlyphs" >expansion,</text>
<rect x="11.6" y="409.7" width="75.1" height="41" fill="#dcdcdc" rx="0.6"/>
<text x="32.1" y="418.4" font-size="2.18" fill="#4a4a4a" stroke="#4a4a4a" stroke-width="0.11" font-weight="bold" text-anchor="middle">NET GROWTH</text>
<text x="32.1" y="421.8" font-size="1.84" fill="#9a9a9a" stroke="#9a9a9a" stroke-width="0.09" text-anchor="middle">LAST 12 MONTHS</text>
<circle cx="32.1" cy="434.1" r="9.9" fill="none" stroke="#cfcfcf" stroke-width="1.7"/>
<path d="M32.1,424.2 A9.9,9.9 0 1 1 22.2,434.1" fill="none" stroke="#d86a2a" stroke-width="1.8"/>
<text x="32.1" y="436.1" font-size="5.6" fill="#6a6a6a" text-anchor="middle" textLength="9.3" lengthAdjust="spacingAndGlyphs">75%</text>
<text x="65.7" y="418.4" font-size="2.18" fill="#4a4a4a" stroke="#4a4a4a" stroke-width="0.11" font-weight="bold" text-anchor="middle">NET GROWTH</text>
<text x="65.7" y="421.8" font-size="1.84" fill="#9a9a9a" stroke="#9a9a9a" stroke-width="0.09" text-anchor="middle">LAST MONTH</text>
<circle cx="65.7" cy="434.1" r="9.9" fill="none" stroke="#cfcfcf" stroke-width="1.7"/>
<path d="M65.7,424.2 A9.9,9.9 0 1 1 58.07,440.41" fill="none" stroke="#d86a2a" stroke-width="1.8"/>
<text x="65.7" y="436.1" font-size="5.6" fill="#6a6a6a" text-anchor="middle" textLength="9.3" lengthAdjust="spacingAndGlyphs">64%</text>
<rect x="96.6" y="326.1" width="129.8" height="58.4" fill="#dcdcdc" rx="0.6"/>
<text x="99" y="329.2" font-size="2.07" fill="#4a4a4a" stroke="#4a4a4a" stroke-width="0.1" font-weight="bold">Customer Retention</text>
<rect x="127.9" y="334.4" width="1.3" height="1.3" fill="#c8474a"/>
<text x="130" y="335.5" font-size="1.61" fill="#8a8a8a" stroke="#8a8a8a" stroke-width="0.08">Cancel</text>
<rect x="141.3" y="334.4" width="1.3" height="1.3" fill="#d09a80"/>
<text x="143.3" y="335.5" font-size="1.61" fill="#8a8a8a" stroke="#8a8a8a" stroke-width="0.08">Sale</text>
<circle cx="154.4" cy="335.1" r="0.7" fill="#3a78d0"/>
<text x="156" y="335.5" font-size="1.61" fill="#8a8a8a" stroke="#8a8a8a" stroke-width="0.08">Net Retention</text>
<text x="222" y="335.5" font-size="1.61" fill="#8a8a8a" stroke="#8a8a8a" stroke-width="0.08" text-anchor="end">78%</text>
<line x1="127.7" y1="377.4" x2="222.6" y2="377.4" stroke="#d2d2d2" stroke-width="0.2"/>
<text x="106" y="377.8" font-size="1.26" fill="#9a9a9a" stroke="#9a9a9a" stroke-width="0.06" text-anchor="end">0</text>
<text x="113" y="377.8" font-size="1.26" fill="#9a9a9a" stroke="#9a9a9a" stroke-width="0.06" text-anchor="end">0</text>
<text x="122" y="377.8" font-size="1.26" fill="#9a9a9a" stroke="#9a9a9a" stroke-width="0.06" text-anchor="end">0</text>
<line x1="127.7" y1="374.45" x2="222.6" y2="374.45" stroke="#d2d2d2" stroke-width="0.2"/>
<text x="106" y="374.85" font-size="1.26" fill="#9a9a9a" stroke="#9a9a9a" stroke-width="0.06" text-anchor="end">25</text>
<text x="113" y="374.85" font-size="1.26" fill="#9a9a9a" stroke="#9a9a9a" stroke-width="0.06" text-anchor="end">25</text>
<text x="122" y="374.85" font-size="1.26" fill="#9a9a9a" stroke="#9a9a9a" stroke-width="0.06" text-anchor="end">25</text>
<line x1="127.7" y1="371.49" x2="222.6" y2="371.49" stroke="#d2d2d2" stroke-width="0.2"/>
<text x="106" y="371.89" font-size="1.26" fill="#9a9a9a" stroke="#9a9a9a" stroke-width="0.06" text-anchor="end">50</text>
<text x="113" y="371.89" font-size="1.26" fill="#9a9a9a" stroke="#9a9a9a" stroke-width="0.06" text-anchor="end">50</text>
<text x="122" y="371.89" font-size="1.26" fill="#9a9a9a" stroke="#9a9a9a" stroke-width="0.06" text-anchor="end">50</text>
<line x1="127.7" y1="368.54" x2="222.6" y2="368.54" stroke="#d2d2d2" stroke-width="0.2"/>
<text x="106" y="368.94" font-size="1.26" fill="#9a9a9a" stroke="#9a9a9a" stroke-width="0.06" text-anchor="end">75</text>
<text x="113" y="368.94" font-size="1.26" fill="#9a9a9a" stroke="#9a9a9a" stroke-width="0.06" text-anchor="end">75</text>
<text x="122" y="368.94" font-size="1.26" fill="#9a9a9a" stroke="#9a9a9a" stroke-width="0.06" text-anchor="end">75</text>
<line x1="127.7" y1="365.58" x2="222.6" y2="365.58" stroke="#d2d2d2" stroke-width="0.2"/>
<text x="106" y="365.98" font-size="1.26" fill="#9a9a9a" stroke="#9a9a9a" stroke-width="0.06" text-anchor="end">100</text>
<text x="113" y="365.98" font-size="1.26" fill="#9a9a9a" stroke="#9a9a9a" stroke-width="0.06" text-anchor="end">100</text>
<text x="122" y="365.98" font-size="1.26" fill="#9a9a9a" stroke="#9a9a9a" stroke-width="0.06" text-anchor="end">100</text>
<line x1="127.7" y1="362.63" x2="222.6" y2="362.63" stroke="#d2d2d2" stroke-width="0.2"/>
<text x="106" y="363.03" font-size="1.26" fill="#9a9a9a" stroke="#9a9a9a" stroke-width="0.06" text-anchor="end">125</text>
<text x="113" y="363.03" font-size="1.26" fill="#9a9a9a" stroke="#9a9a9a" stroke-width="0.06" text-anchor="end">125</text>
<text x="122" y="363.03" font-size="1.26" fill="#9a9a9a" stroke="#9a9a9a" stroke-width="0.06" text-anchor="end">125</text>
<line x1="127.7" y1="359.68" x2="222.6" y2="359.68" stroke="#d2d2d2" stroke-width="0.2"/>
<text x="106" y="360.08" font-size="1.26" fill="#9a9a9a" stroke="#9a9a9a" stroke-width="0.06" text-anchor="end">150</text>
<text x="113" y="360.08" font-size="1.26" fill="#9a9a9a" stroke="#9a9a9a" stroke-width="0.06" text-anchor="end">150</text>
<text x="122" y="360.08" font-size="1.26" fill="#9a9a9a" stroke="#9a9a9a" stroke-width="0.06" text-anchor="end">150</text>
<line x1="127.7" y1="356.72" x2="222.6" y2="356.72" stroke="#d2d2d2" stroke-width="0.2"/>
<text x="106" y="357.12" font-size="1.26" fill="#9a9a9a" stroke="#9a9a9a" stroke-width="0.06" text-anchor="end">175</text>
<text x="113" y="357.12" font-size="1.26" fill="#9a9a9a" stroke="#9a9a9a" stroke-width="0.06" text-anchor="end">175</text>
<text x="122" y="357.12" font-size="1.26" fill="#9a9a9a" stroke="#9a9a9a" stroke-width="0.06" text-anchor="end">175</text>
<line x1="127.7" y1="353.77" x2="222.6" y2="353.77" stroke="#d2d2d2" stroke-width="0.2"/>
<text x="106" y="354.17" font-size="1.26" fill="#9a9a9a" stroke="#9a9a9a" stroke-width="0.06" text-anchor="end">200</text>
<text x="113" y="354.17" font-size="1.26" fill="#9a9a9a" stroke="#9a9a9a" stroke-width="0.06" text-anchor="end">200</text>
<text x="122" y="354.17" font-size="1.26" fill="#9a9a9a" stroke="#9a9a9a" stroke-width="0.06" text-anchor="end">200</text>
<line x1="127.7" y1="350.82" x2="222.6" y2="350.82" stroke="#d2d2d2" stroke-width="0.2"/>
<text x="106" y="351.22" font-size="1.26" fill="#9a9a9a" stroke="#9a9a9a" stroke-width="0.06" text-anchor="end">225</text>
<text x="113" y="351.22" font-size="1.26" fill="#9a9a9a" stroke="#9a9a9a" stroke-width="0.06" text-anchor="end">225</text>
<text x="122" y="351.22" font-size="1.26" fill="#9a9a9a" stroke="#9a9a9a" stroke-width="0.06" text-anchor="end">225</text>
<line x1="127.7" y1="347.86" x2="222.6" y2="347.86" stroke="#d2d2d2" stroke-width="0.2"/>
<text x="106" y="348.26" font-size="1.26" fill="#9a9a9a" stroke="#9a9a9a" stroke-width="0.06" text-anchor="end">250</text>
<text x="113" y="348.26" font-size="1.26" fill="#9a9a9a" stroke="#9a9a9a" stroke-width="0.06" text-anchor="end">250</text>
<text x="122" y="348.26" font-size="1.26" fill="#9a9a9a" stroke="#9a9a9a" stroke-width="0.06" text-anchor="end">250</text>
<line x1="127.7" y1="344.91" x2="222.6" y2="344.91" stroke="#d2d2d2" stroke-width="0.2"/>
<text x="106" y="345.31" font-size="1.26" fill="#9a9a9a" stroke="#9a9a9a" stroke-width="0.06" text-anchor="end">275</text>
<text x="113" y="345.31" font-size="1.26" fill="#9a9a9a" stroke="#9a9a9a" stroke-width="0.06" text-anchor="end">275</text>
<text x="122" y="345.31" font-size="1.26" fill="#9a9a9a" stroke="#9a9a9a" stroke-width="0.06" text-anchor="end">275</text>
<line x1="127.7" y1="341.95" x2="222.6" y2="341.95" stroke="#d2d2d2" stroke-width="0.2"/>
<text x="106" y="342.35" font-size="1.26" fill="#9a9a9a" stroke="#9a9a9a" stroke-width="0.06" text-anchor="end">300</text>
<text x="113" y="342.35" font-size="1.26" fill="#9a9a9a" stroke="#9a9a9a" stroke-width="0.06" text-anchor="end">300</text>
<text x="122" y="342.35" font-size="1.26" fill="#9a9a9a" stroke="#9a9a9a" stroke-width="0.06" text-anchor="end">300</text>
<line x1="127.7" y1="339" x2="222.6" y2="339" stroke="#d2d2d2" stroke-width="0.2"/>
<text x="106" y="339.4" font-size="1.26" fill="#9a9a9a" stroke="#9a9a9a" stroke-width="0.06" text-anchor="end">325</text>
<text x="113" y="339.4" font-size="1.26" fill="#9a9a9a" stroke="#9a9a9a" stroke-width="0.06" text-anchor="end">325</text>
<text x="122" y="339.4" font-size="1.26" fill="#9a9a9a" stroke="#9a9a9a" stroke-width="0.06" text-anchor="end">325</text>
<line x1="108.5" y1="339" x2="108.5" y2="377.4" stroke="#a8b8d0" stroke-width="0.3"/>
<line x1="118" y1="339" x2="118" y2="377.4" stroke="#a8b8d0" stroke-width="0.3"/>
<line x1="126.5" y1="339" x2="126.5" y2="377.4" stroke="#a8b8d0" stroke-width="0.3"/>
<text x="101.5" y="358" font-size="1.38" fill="#8a8a8a" stroke="#8a8a8a" stroke-width="0.07" transform="rotate(-90 101.5 358)" text-anchor="middle">Total Accounts</text>
<text x="111.5" y="358" font-size="1.38" fill="#8a8a8a" stroke="#8a8a8a" stroke-width="0.07" transform="rotate(-90 111.5 358)" text-anchor="middle">Average Accounts</text>
<text x="121" y="358" font-size="1.38" fill="#8a8a8a" stroke="#8a8a8a" stroke-width="0.07" transform="rotate(-90 121 358)" text-anchor="middle">Users Accounts</text>
<rect x="131.8" y="365" width="6.4" height="10.7" fill="#d09a80"/>
<rect x="131.8" y="375.7" width="6.4" height="1.7" fill="#c8474a"/>
<text x="135" y="380.3" font-size="1.38" fill="#8a8a8a" stroke="#8a8a8a" stroke-width="0.07" text-anchor="middle">Jan</text>
<rect x="140.7" y="352.6" width="6.4" height="23.1" fill="#d09a80"/>
<rect x="140.7" y="375.7" width="6.4" height="1.7" fill="#c8474a"/>
<text x="143.9" y="380.3" font-size="1.38" fill="#8a8a8a" stroke="#8a8a8a" stroke-width="0.07" text-anchor="middle">Feb</text>
<rect x="149.8" y="362.1" width="6.4" height="12.1" fill="#d09a80"/>
<rect x="149.8" y="374.2" width="6.4" height="3.2" fill="#c8474a"/>
<text x="153" y="380.3" font-size="1.38" fill="#8a8a8a" stroke="#8a8a8a" stroke-width="0.07" text-anchor="middle">Mar</text>
<rect x="159.1" y="356.9" width="6.4" height="17" fill="#d09a80"/>
<rect x="159.1" y="373.9" width="6.4" height="3.5" fill="#c8474a"/>
<text x="162.3" y="380.3" font-size="1.38" fill="#8a8a8a" stroke="#8a8a8a" stroke-width="0.07" text-anchor="middle">Apr</text>
<rect x="167.8" y="350.8" width="6.4" height="24.2" fill="#d09a80"/>
<rect x="167.8" y="375" width="6.4" height="2.4" fill="#c8474a"/>
<text x="171" y="380.3" font-size="1.38" fill="#8a8a8a" stroke="#8a8a8a" stroke-width="0.07" text-anchor="middle">May</text>
<rect x="177.6" y="352.6" width="6.4" height="23.1" fill="#d09a80"/>
<rect x="177.6" y="375.7" width="6.4" height="1.7" fill="#c8474a"/>
<text x="180.8" y="380.3" font-size="1.38" fill="#8a8a8a" stroke="#8a8a8a" stroke-width="0.07" text-anchor="middle">Jun</text>
<rect x="186.3" y="359.5" width="6.4" height="14.7" fill="#d09a80"/>
<rect x="186.3" y="374.2" width="6.4" height="3.2" fill="#c8474a"/>
<text x="189.5" y="380.3" font-size="1.38" fill="#8a8a8a" stroke="#8a8a8a" stroke-width="0.07" text-anchor="middle">Jul</text>
<rect x="195.1" y="358.4" width="6.4" height="13.2" fill="#d09a80"/>
<rect x="195.1" y="371.6" width="6.4" height="5.8" fill="#c8474a"/>
<text x="198.3" y="380.3" font-size="1.38" fill="#8a8a8a" stroke="#8a8a8a" stroke-width="0.07" text-anchor="middle">Aug</text>
<rect x="204.5" y="346.9" width="6.4" height="28.8" fill="#d09a80"/>
<rect x="204.5" y="375.7" width="6.4" height="1.7" fill="#c8474a"/>
<text x="207.7" y="380.3" font-size="1.38" fill="#8a8a8a" stroke="#8a8a8a" stroke-width="0.07" text-anchor="middle">Sep</text>
<rect x="213.3" y="349.3" width="6.4" height="26.4" fill="#d09a80"/>
<rect x="213.3" y="375.7" width="6.4" height="1.7" fill="#c8474a"/>
<text x="216.5" y="380.3" font-size="1.38" fill="#8a8a8a" stroke="#8a8a8a" stroke-width="0.07" text-anchor="middle">Oct</text>
<polyline points="135,347.6 143.9,359.8 153,365 162.3,359.8 171,365.9 180.8,369.3 189.5,366.5 198.3,369.3 207.7,359.8 216.5,365.5" fill="none" stroke="#6a9ad8" stroke-width="0.5"/>
<circle cx="135" cy="347.6" r="0.75" fill="#3a78d0"/>
<circle cx="143.9" cy="359.8" r="0.75" fill="#3a78d0"/>
<circle cx="153" cy="365" r="0.75" fill="#3a78d0"/>
<circle cx="162.3" cy="359.8" r="0.75" fill="#3a78d0"/>
<circle cx="171" cy="365.9" r="0.75" fill="#3a78d0"/>
<circle cx="180.8" cy="369.3" r="0.75" fill="#3a78d0"/>
<circle cx="189.5" cy="366.5" r="0.75" fill="#3a78d0"/>
<circle cx="198.3" cy="369.3" r="0.75" fill="#3a78d0"/>
<circle cx="207.7" cy="359.8" r="0.75" fill="#3a78d0"/>
<circle cx="216.5" cy="365.5" r="0.75" fill="#3a78d0"/>
<rect x="98.4" y="393.6" width="59.2" height="4.1" fill="#cdcdcd"/>
<rect x="123.1" y="393.6" width="25.1" height="4.1" fill="#c8474a"/>
<rect x="147.2" y="392.8" width="0.8" height="5.7" fill="#3a78d0"/>
<text x="147.5" y="390.2" font-size="2.07" fill="#4a4a4a" stroke="#4a4a4a" stroke-width="0.1" font-weight="bold" text-anchor="middle">526</text>
<rect x="165.6" y="393.6" width="59.3" height="4.1" fill="#cdcdcd"/>
<rect x="184.2" y="393.6" width="25" height="4.1" fill="#d8a080"/>
<rect x="201.6" y="392.8" width="0.8" height="5.7" fill="#7a8a9a"/>
<text x="202" y="390.2" font-size="2.07" fill="#4a4a4a" stroke="#4a4a4a" stroke-width="0.1" font-weight="bold" text-anchor="middle">4,730</text>
<text x="98.4" y="402.2" font-size="1.49" fill="#8a8a8a" stroke="#8a8a8a" stroke-width="0.07" text-anchor="middle">0</text>
<text x="129" y="402.2" font-size="1.49" fill="#8a8a8a" stroke="#8a8a8a" stroke-width="0.07" text-anchor="middle">250</text>
<text x="158" y="402.2" font-size="1.49" fill="#8a8a8a" stroke="#8a8a8a" stroke-width="0.07" text-anchor="middle">500</text>
<text x="165.6" y="402.2" font-size="1.49" fill="#8a8a8a" stroke="#8a8a8a" stroke-width="0.07" text-anchor="middle">0</text>
<text x="196" y="402.2" font-size="1.49" fill="#8a8a8a" stroke="#8a8a8a" stroke-width="0.07" text-anchor="middle">2,500</text>
<text x="224.9" y="402.2" font-size="1.49" fill="#8a8a8a" stroke="#8a8a8a" stroke-width="0.07" text-anchor="middle">5,000</text>
<text x="97" y="406.6" font-size="2.1" fill="#6a6a6a" stroke="#6a6a6a" stroke-width="0.1">Active Accounts</text>
<rect x="97" y="409.4" width="130" height="3.8" fill="#d9cfca"/>
<text x="99" y="412" font-size="1.49" fill="#6a6a6a" stroke="#6a6a6a" stroke-width="0.07">Account Name</text>
<text x="131" y="412" font-size="1.49" fill="#6a6a6a" stroke="#6a6a6a" stroke-width="0.07">Date</text>
<text x="163.5" y="412" font-size="1.49" fill="#6a6a6a" stroke="#6a6a6a" stroke-width="0.07">Account Type</text>
<text x="195.5" y="412" font-size="1.49" fill="#6a6a6a" stroke="#6a6a6a" stroke-width="0.07">Weekly Fee</text>
<rect x="97" y="413.2" width="32.1" height="4.2" fill="#dbd3d1"/>
<rect x="129.1" y="413.2" width="97.9" height="4.2" fill="#dcdcdc"/>
<line x1="97" y1="417.4" x2="227" y2="417.4" stroke="#cccccc" stroke-width="0.25"/>
<text x="99" y="416" font-size="1.49" fill="#7a7a7a" stroke="#7a7a7a" stroke-width="0.07">Acmed Bank</text>
<text x="160" y="416" font-size="1.38" fill="#8a8a8a" stroke="#8a8a8a" stroke-width="0.07" text-anchor="end">12/01/2019</text>
<text x="192" y="416" font-size="1.38" fill="#8a8a8a" stroke="#8a8a8a" stroke-width="0.07" text-anchor="end">Standard</text>
<text x="225" y="416" font-size="1.38" fill="#8a8a8a" stroke="#8a8a8a" stroke-width="0.07" text-anchor="end">$5,000</text>
<rect x="97" y="417.4" width="32.1" height="4.2" fill="#dbd3d1"/>
<rect x="129.1" y="417.4" width="97.9" height="4.2" fill="#dcdcdc"/>
<line x1="97" y1="421.6" x2="227" y2="421.6" stroke="#cccccc" stroke-width="0.25"/>
<text x="99" y="420.2" font-size="1.49" fill="#7a7a7a" stroke="#7a7a7a" stroke-width="0.07">Monroe</text>
<text x="160" y="420.2" font-size="1.38" fill="#8a8a8a" stroke="#8a8a8a" stroke-width="0.07" text-anchor="end">12/01/2019</text>
<text x="192" y="420.2" font-size="1.38" fill="#8a8a8a" stroke="#8a8a8a" stroke-width="0.07" text-anchor="end">Standard</text>
<text x="225" y="420.2" font-size="1.38" fill="#8a8a8a" stroke="#8a8a8a" stroke-width="0.07" text-anchor="end">$5,000</text>
<rect x="97" y="421.6" width="32.1" height="4.2" fill="#dbd3d1"/>
<rect x="129.1" y="421.6" width="97.9" height="4.2" fill="#dcdcdc"/>
<line x1="97" y1="425.8" x2="227" y2="425.8" stroke="#cccccc" stroke-width="0.25"/>
<text x="99" y="424.4" font-size="1.49" fill="#7a7a7a" stroke="#7a7a7a" stroke-width="0.07">Merit Corp</text>
<text x="160" y="424.4" font-size="1.38" fill="#8a8a8a" stroke="#8a8a8a" stroke-width="0.07" text-anchor="end">12/01/2019</text>
<text x="192" y="424.4" font-size="1.38" fill="#8a8a8a" stroke="#8a8a8a" stroke-width="0.07" text-anchor="end">Standard</text>
<text x="225" y="424.4" font-size="1.38" fill="#8a8a8a" stroke="#8a8a8a" stroke-width="0.07" text-anchor="end">$5,000</text>
<rect x="97" y="425.8" width="32.1" height="4.2" fill="#dbd3d1"/>
<rect x="129.1" y="425.8" width="97.9" height="4.2" fill="#dcdcdc"/>
<line x1="97" y1="430" x2="227" y2="430" stroke="#cccccc" stroke-width="0.25"/>
<text x="99" y="428.6" font-size="1.49" fill="#7a7a7a" stroke="#7a7a7a" stroke-width="0.07">Sierra Engine</text>
<text x="160" y="428.6" font-size="1.38" fill="#8a8a8a" stroke="#8a8a8a" stroke-width="0.07" text-anchor="end">12/01/2019</text>
<text x="192" y="428.6" font-size="1.38" fill="#8a8a8a" stroke="#8a8a8a" stroke-width="0.07" text-anchor="end">Standard</text>
<text x="225" y="428.6" font-size="1.38" fill="#8a8a8a" stroke="#8a8a8a" stroke-width="0.07" text-anchor="end">$5,000</text>
<rect x="97" y="430" width="32.1" height="4.2" fill="#dbd3d1"/>
<rect x="129.1" y="430" width="97.9" height="4.2" fill="#dcdcdc"/>
<line x1="97" y1="434.2" x2="227" y2="434.2" stroke="#cccccc" stroke-width="0.25"/>
<text x="99" y="432.8" font-size="1.49" fill="#7a7a7a" stroke="#7a7a7a" stroke-width="0.07">Lenovo &amp; Sha</text>
<text x="160" y="432.8" font-size="1.38" fill="#8a8a8a" stroke="#8a8a8a" stroke-width="0.07" text-anchor="end">12/01/2019</text>
<text x="192" y="432.8" font-size="1.38" fill="#8a8a8a" stroke="#8a8a8a" stroke-width="0.07" text-anchor="end">Standard</text>
<text x="225" y="432.8" font-size="1.38" fill="#8a8a8a" stroke="#8a8a8a" stroke-width="0.07" text-anchor="end">$5,000</text>
<rect x="97" y="434.2" width="32.1" height="4.2" fill="#dbd3d1"/>
<rect x="129.1" y="434.2" width="97.9" height="4.2" fill="#dcdcdc"/>
<line x1="97" y1="438.4" x2="227" y2="438.4" stroke="#cccccc" stroke-width="0.25"/>
<text x="99" y="437" font-size="1.49" fill="#7a7a7a" stroke="#7a7a7a" stroke-width="0.07">Nation Lo</text>
<text x="160" y="437" font-size="1.38" fill="#8a8a8a" stroke="#8a8a8a" stroke-width="0.07" text-anchor="end">12/01/2019</text>
<text x="192" y="437" font-size="1.38" fill="#8a8a8a" stroke="#8a8a8a" stroke-width="0.07" text-anchor="end">Standard</text>
<text x="225" y="437" font-size="1.38" fill="#8a8a8a" stroke="#8a8a8a" stroke-width="0.07" text-anchor="end">$5,000</text>
<rect x="97" y="438.4" width="32.1" height="4.2" fill="#dbd3d1"/>
<rect x="129.1" y="438.4" width="97.9" height="4.2" fill="#dcdcdc"/>
<line x1="97" y1="442.6" x2="227" y2="442.6" stroke="#cccccc" stroke-width="0.25"/>
<text x="99" y="441.2" font-size="1.49" fill="#7a7a7a" stroke="#7a7a7a" stroke-width="0.07">JEM</text>
<text x="160" y="441.2" font-size="1.38" fill="#8a8a8a" stroke="#8a8a8a" stroke-width="0.07" text-anchor="end">12/01/2019</text>
<text x="192" y="441.2" font-size="1.38" fill="#8a8a8a" stroke="#8a8a8a" stroke-width="0.07" text-anchor="end">Standard</text>
<text x="225" y="441.2" font-size="1.38" fill="#8a8a8a" stroke="#8a8a8a" stroke-width="0.07" text-anchor="end">$5,000</text>
<rect x="97" y="442.6" width="32.1" height="4.2" fill="#dbd3d1"/>
<rect x="129.1" y="442.6" width="97.9" height="4.2" fill="#dcdcdc"/>
<line x1="97" y1="446.8" x2="227" y2="446.8" stroke="#cccccc" stroke-width="0.25"/>
<text x="99" y="445.4" font-size="1.49" fill="#7a7a7a" stroke="#7a7a7a" stroke-width="0.07">Bronco</text>
<text x="160" y="445.4" font-size="1.38" fill="#8a8a8a" stroke="#8a8a8a" stroke-width="0.07" text-anchor="end">12/01/2019</text>
<text x="192" y="445.4" font-size="1.38" fill="#8a8a8a" stroke="#8a8a8a" stroke-width="0.07" text-anchor="end">Standard</text>
<text x="225" y="445.4" font-size="1.38" fill="#8a8a8a" stroke="#8a8a8a" stroke-width="0.07" text-anchor="end">$5,000</text>
<rect x="97" y="446.8" width="32.1" height="4.2" fill="#dbd3d1"/>
<rect x="129.1" y="446.8" width="97.9" height="4.2" fill="#dcdcdc"/>
<line x1="97" y1="451" x2="227" y2="451" stroke="#cccccc" stroke-width="0.25"/>
<text x="99" y="449.6" font-size="1.49" fill="#7a7a7a" stroke="#7a7a7a" stroke-width="0.07">Cobalt</text>
<text x="160" y="449.6" font-size="1.38" fill="#8a8a8a" stroke="#8a8a8a" stroke-width="0.07" text-anchor="end">12/01/2019</text>
<text x="192" y="449.6" font-size="1.38" fill="#8a8a8a" stroke="#8a8a8a" stroke-width="0.07" text-anchor="end">Standard</text>
<text x="225" y="449.6" font-size="1.38" fill="#8a8a8a" stroke="#8a8a8a" stroke-width="0.07" text-anchor="end">$5,000</text>
<line x1="129.1" y1="409.4" x2="129.1" y2="451.1" stroke="#c8c8c8" stroke-width="0.25"/>
<line x1="161.6" y1="409.4" x2="161.6" y2="451.1" stroke="#c8c8c8" stroke-width="0.25"/>
<line x1="193.7" y1="409.4" x2="193.7" y2="451.1" stroke="#c8c8c8" stroke-width="0.25"/>
</g>
<clipPath id="cp9"><rect x="261" y="311.2" width="237.7" height="174.7" rx="3.5"/></clipPath>
<defs><linearGradient id="g9" x1="0" x2="1"><stop offset="0" stop-color="#7c64d6"/><stop offset="1" stop-color="#5a6ae2"/></linearGradient></defs>
<g clip-path="url(#cp9)">
<rect x="261" y="311.2" width="237.7" height="174.7" fill="#d3d4d8"/>
<rect x="261" y="311.2" width="237.7" height="7.1" fill="#d5d5d5"/>
<circle cx="266.3" cy="314.8" r="1" fill="#e0443a"/>
<circle cx="269.4" cy="314.8" r="1" fill="#e8a820"/>
<circle cx="272.5" cy="314.8" r="1" fill="#2ab840"/>
<rect x="261" y="318.3" width="37.2" height="170" fill="#d9d9d9"/>
<line x1="298.2" y1="318.3" x2="298.2" y2="490" stroke="#cfd0d6" stroke-width="0.4"/>
<g transform="rotate(45 268.5 324.6)">
<rect x="265.7" y="321.8" width="5.6" height="5.6" fill="none" rx="1.3" stroke="#3a7a8a" stroke-width="0.7"/>
</g>
<circle cx="267.2" cy="324.6" r="0.9" fill="#e0a040"/>
<circle cx="269.8" cy="324.6" r="0.9" fill="#e0a040"/>
<circle cx="268.5" cy="323.3" r="0.9" fill="#3a8aa0"/>
<circle cx="268.5" cy="325.9" r="0.9" fill="#3a8aa0"/>
<text x="273" y="325.4" font-size="3.1" fill="#2a6a7a" stroke="#2a6a7a" stroke-width="0.15" font-weight="bold" textLength="18.3" lengthAdjust="spacingAndGlyphs">healthcare</text>
<text x="273.5" y="327.3" font-size="1.15" fill="#6a8a9a" stroke="#6a8a9a" stroke-width="0.06">dashboard</text>
<circle cx="267" cy="337.8" r="0.9" fill="none" stroke="#9a9a9a" stroke-width="0.25"/>
<text x="269.3" y="338.4" font-size="2.18" fill="#9a9a9a" stroke="#9a9a9a" stroke-width="0.11">Dashboard</text>
<rect x="258" y="346" width="37.4" height="7" fill="url(#g9)" rx="3.5"/>
<rect x="266.3" y="348.6" width="1.6" height="1.6" fill="none" stroke="#ffffff" stroke-width="0.3"/>
<text x="269.3" y="350.3" font-size="2.18" fill="#f4f4ff" stroke="#f4f4ff" stroke-width="0.11">Analytics</text>
<text x="292" y="350.3" font-size="2.18" fill="#f4f4ff" stroke="#f4f4ff" stroke-width="0.11">›</text>
<line x1="266.5" y1="354" x2="266.5" y2="366" stroke="#cfcfcf" stroke-width="0.25"/>
<text x="269" y="357.1" font-size="2.18" fill="#5a5a5a" stroke="#5a5a5a" stroke-width="0.11" font-weight="bold">Office Performance</text>
<text x="269" y="364.3" font-size="2.18" fill="#9a9a9a" stroke="#9a9a9a" stroke-width="0.11">Treatments</text>
<circle cx="267" cy="372.4" r="0.9" fill="none" stroke="#9a9a9a" stroke-width="0.25"/>
<text x="269.3" y="373" font-size="2.18" fill="#9a9a9a" stroke="#9a9a9a" stroke-width="0.11">Visit activity</text>
<text x="265.3" y="383.3" font-size="1.72" fill="#5a5a5a" stroke="#5a5a5a" stroke-width="0.09" font-weight="bold">MANAGE</text>
<circle cx="267" cy="389" r="0.9" fill="none" stroke="#9a9a9a" stroke-width="0.25"/>
<text x="269.3" y="389.6" font-size="2.18" fill="#9a9a9a" stroke="#9a9a9a" stroke-width="0.11">Offices</text>
<text x="293" y="389.6" font-size="2.18" fill="#9a9a9a" stroke="#9a9a9a" stroke-width="0.11">›</text>
<circle cx="267" cy="395.9" r="0.9" fill="none" stroke="#9a9a9a" stroke-width="0.25"/>
<text x="269.3" y="396.5" font-size="2.18" fill="#9a9a9a" stroke="#9a9a9a" stroke-width="0.11">Encounter Types</text>
<text x="293" y="396.5" font-size="2.18" fill="#9a9a9a" stroke="#9a9a9a" stroke-width="0.11">›</text>
<circle cx="267" cy="402.9" r="0.9" fill="none" stroke="#9a9a9a" stroke-width="0.25"/>
<text x="269.3" y="403.5" font-size="2.18" fill="#9a9a9a" stroke="#9a9a9a" stroke-width="0.11">Users</text>
<text x="293" y="403.5" font-size="2.18" fill="#9a9a9a" stroke="#9a9a9a" stroke-width="0.11">›</text>
<text x="265.3" y="414.3" font-size="1.72" fill="#5a5a5a" stroke="#5a5a5a" stroke-width="0.09" font-weight="bold">ACCOUNT</text>
<circle cx="267" cy="419.9" r="0.9" fill="none" stroke="#9a9a9a" stroke-width="0.25"/>
<text x="269.3" y="420.5" font-size="2.18" fill="#9a9a9a" stroke="#9a9a9a" stroke-width="0.11">Profile</text>
<circle cx="267" cy="427.2" r="0.9" fill="none" stroke="#9a9a9a" stroke-width="0.25"/>
<text x="269.3" y="427.8" font-size="2.18" fill="#9a9a9a" stroke="#9a9a9a" stroke-width="0.11">Reset Password</text>
<circle cx="267" cy="434.4" r="0.9" fill="none" stroke="#9a9a9a" stroke-width="0.25"/>
<text x="269.3" y="435" font-size="2.18" fill="#9a9a9a" stroke="#9a9a9a" stroke-width="0.11">Documentation</text>
<rect x="302.8" y="330.4" width="190.5" height="160" fill="#d8d8d8"/>
<circle cx="302.5" cy="327" r="1" fill="none" stroke="#9a9a9a" stroke-width="0.3"/>
<circle cx="303.3" cy="324.6" r="1" fill="#4a5ae0"/>
<circle cx="308.5" cy="325.8" r="1" fill="none" stroke="#9a9a9a" stroke-width="0.3"/>
<rect x="313" y="322" width="13" height="6" fill="#dadada" rx="3"/>
<text x="316.5" y="325.8" font-size="1.72" fill="#9a9a9a" stroke="#9a9a9a" stroke-width="0.09">EN ⌄</text>
<rect x="420" y="322.2" width="36" height="5.6" fill="#dcdcdc" rx="2.8"/>
<text x="423" y="325.6" font-size="1.61" fill="#a8a8b8" stroke="#a8a8b8" stroke-width="0.08">Search</text>
<circle cx="452.5" cy="324.9" r="0.8" fill="none" stroke="#9a9a9a" stroke-width="0.3"/>
<circle cx="462.8" cy="324.4" r="3" fill="#6a4a3a"/>
<circle cx="462.8" cy="323.6" r="1.4" fill="#c89a80"/>
<text x="467.5" y="325.4" font-size="1.72" fill="#9aa8c8" stroke="#9aa8c8" stroke-width="0.09">Hello,</text>
<text x="473.8" y="325.4" font-size="1.72" fill="#6a6a7a" stroke="#6a6a7a" stroke-width="0.09">Jennifer Jones</text>
<text x="491.5" y="325.4" font-size="1.72" fill="#8a8a8a" stroke="#8a8a8a" stroke-width="0.09">⌄</text>
<rect x="474" y="330.5" width="7" height="4.5" fill="#d0d0d0" rx="1.2"/>
<text x="477.5" y="333.4" font-size="1.38" fill="#8a8a8a" stroke="#8a8a8a" stroke-width="0.07" text-anchor="middle">Filters</text>
<rect x="482.3" y="330.2" width="7.5" height="5" fill="#5a6ae2" rx="2.5"/>
<text x="486" y="333.4" font-size="1.49" fill="#ffffff" stroke="#ffffff" stroke-width="0.07" text-anchor="middle">Edit</text>
<rect x="496.8" y="330" width="1.2" height="40" fill="#b8b8bc" rx="0.6"/>
<rect x="488.2" y="338.8" width="3.6" height="38" fill="#dadada" rx="0.6"/>
<text x="490" y="342.5" font-size="1.6" fill="#9a9a9a" stroke="#9a9a9a" stroke-width="0.08" text-anchor="middle">^</text>
<rect x="489.8" y="345" width="0.4" height="3.5" fill="#a8a8a8"/>
<rect x="304" y="339.2" width="58.7" height="38.6" fill="#cfd0d4" rx="0.9"/>
<rect x="304.2" y="338.8" width="58.3" height="38" fill="#dcdcdc" rx="0.8"/>
<text x="306.8" y="342.7" font-size="2.07" fill="#3a3a3a" stroke="#3a3a3a" stroke-width="0.1" font-weight="bold">Visits (Last 30 Days)</text>
<circle cx="356" cy="342.1" r="0.5" fill="#e06020"/>
<text x="360.1" y="342.8" font-size="2" fill="#8a8a8a" stroke="#8a8a8a" stroke-width="0.1">⋮</text>
<text x="333.4" y="362.4" font-size="5" fill="#4a4a4a" font-weight="bold" text-anchor="middle" textLength="13" lengthAdjust="spacingAndGlyphs">1,288</text>
<text x="319.5" y="364.6" font-size="1.49" fill="#4caf50" stroke="#4caf50" stroke-width="0.07">▲ 8% higher</text>
<text x="328.5" y="364.6" font-size="1.38" fill="#a8a8a8" stroke="#a8a8a8" stroke-width="0.07">than previous period of last 30 days</text>
<rect x="365.4" y="339.2" width="59.6" height="38.6" fill="#cfd0d4" rx="0.9"/>
<rect x="365.6" y="338.8" width="59.2" height="38" fill="#dcdcdc" rx="0.8"/>
<text x="368.2" y="342.7" font-size="2.07" fill="#3a3a3a" stroke="#3a3a3a" stroke-width="0.1" font-weight="bold">Revenue Last 30 Days</text>
<circle cx="418.3" cy="342.1" r="0.5" fill="#e06020"/>
<text x="422.4" y="342.8" font-size="2" fill="#8a8a8a" stroke="#8a8a8a" stroke-width="0.1">⋮</text>
<text x="395.2" y="362.4" font-size="5" fill="#4a4a4a" font-weight="bold" text-anchor="middle" textLength="21" lengthAdjust="spacingAndGlyphs">$423,125</text>
<text x="380.5" y="364.6" font-size="1.49" fill="#4caf50" stroke="#4caf50" stroke-width="0.07">▲ 8% higher</text>
<text x="389.5" y="364.6" font-size="1.38" fill="#a8a8a8" stroke="#a8a8a8" stroke-width="0.07">than previous</text>
<rect x="426.8" y="339.2" width="58.8" height="38.6" fill="#cfd0d4" rx="0.9"/>
<rect x="427" y="338.8" width="58.4" height="38" fill="#dcdcdc" rx="0.8"/>
<text x="429.6" y="342.7" font-size="2.07" fill="#3a3a3a" stroke="#3a3a3a" stroke-width="0.1" font-weight="bold">Office Activity</text>
<circle cx="478.9" cy="342.1" r="0.5" fill="#e06020"/>
<text x="483" y="342.8" font-size="2" fill="#8a8a8a" stroke="#8a8a8a" stroke-width="0.1">⋮</text>
<rect x="447" y="347.2" width="30.4" height="3" fill="#cfcfcf"/>
<rect x="447" y="347.2" width="26.1" height="3" fill="#c0307a"/>
<text x="446" y="349.2" font-size="1.38" fill="#8a8a8a" stroke="#8a8a8a" stroke-width="0.07" text-anchor="end">Lakeland Doc</text>
<text x="474.6" y="349.2" font-size="1.2" fill="#8a8a8a" stroke="#8a8a8a" stroke-width="0.06">228</text>
<rect x="447" y="351.38" width="30.4" height="3" fill="#cfcfcf"/>
<rect x="447" y="351.38" width="14.3" height="3" fill="#c0307a"/>
<text x="446" y="353.38" font-size="1.38" fill="#8a8a8a" stroke="#8a8a8a" stroke-width="0.07" text-anchor="end">Highlands Lands</text>
<text x="462.8" y="353.38" font-size="1.2" fill="#8a8a8a" stroke="#8a8a8a" stroke-width="0.06">130.0</text>
<rect x="447" y="355.56" width="30.4" height="3" fill="#cfcfcf"/>
<rect x="447" y="355.56" width="11.2" height="3" fill="#c0307a"/>
<text x="446" y="357.56" font-size="1.38" fill="#8a8a8a" stroke="#8a8a8a" stroke-width="0.07" text-anchor="end">North Oakland Doc</text>
<text x="459.7" y="357.56" font-size="1.2" fill="#8a8a8a" stroke="#8a8a8a" stroke-width="0.06">97</text>
<rect x="447" y="359.74" width="30.4" height="3" fill="#cfcfcf"/>
<rect x="447" y="359.74" width="9" height="3" fill="#c0307a"/>
<text x="446" y="361.74" font-size="1.38" fill="#8a8a8a" stroke="#8a8a8a" stroke-width="0.07" text-anchor="end">Hospital Center</text>
<text x="457.5" y="361.74" font-size="1.2" fill="#8a8a8a" stroke="#8a8a8a" stroke-width="0.06">90</text>
<rect x="447" y="363.92" width="30.4" height="3" fill="#cfcfcf"/>
<rect x="447" y="363.92" width="5.3" height="3" fill="#c0307a"/>
<text x="446" y="365.92" font-size="1.38" fill="#8a8a8a" stroke="#8a8a8a" stroke-width="0.07" text-anchor="end">Eastside</text>
<text x="453.8" y="365.92" font-size="1.2" fill="#8a8a8a" stroke="#8a8a8a" stroke-width="0.06">59</text>
<rect x="447" y="368.1" width="30.4" height="3" fill="#cfcfcf"/>
<rect x="447" y="368.1" width="2.4" height="3" fill="#c0307a"/>
<text x="446" y="370.1" font-size="1.38" fill="#8a8a8a" stroke="#8a8a8a" stroke-width="0.07" text-anchor="end">Sho Center</text>
<text x="450.9" y="370.1" font-size="1.2" fill="#8a8a8a" stroke="#8a8a8a" stroke-width="0.06">28</text>
<rect x="304" y="380.2" width="89.5" height="44" fill="#cfd0d4" rx="0.9"/>
<rect x="304.2" y="379.8" width="89.1" height="43.4" fill="#dcdcdc" rx="0.8"/>
<text x="306.8" y="383.7" font-size="2.07" fill="#3a3a3a" stroke="#3a3a3a" stroke-width="0.1" font-weight="bold">Weekly Stats</text>
<circle cx="386.8" cy="383.1" r="0.5" fill="#e06020"/>
<text x="390.9" y="383.8" font-size="2" fill="#8a8a8a" stroke="#8a8a8a" stroke-width="0.1">⋮</text>
<rect x="315" y="396.1" width="9.1" height="16.3" fill="#e04e0a"/>
<rect x="326.7" y="398.3" width="9.1" height="14.1" fill="#e04e0a"/>
<rect x="338.1" y="396.6" width="9.1" height="15.8" fill="#e04e0a"/>
<rect x="349.7" y="397" width="9.1" height="15.4" fill="#e04e0a"/>
<rect x="361" y="395" width="9.1" height="17.4" fill="#e04e0a"/>
<rect x="372.4" y="389.3" width="9.1" height="23.1" fill="#e04e0a"/>
<line x1="312" y1="412.4" x2="386" y2="412.4" stroke="#c8c8c8" stroke-width="0.3"/>
<polyline points="319.5,409 331,406.5 342.6,404 354,402 365.5,399.5 377,392 384,389" fill="none" stroke="#6a6ad8" stroke-width="0.45"/>
<text x="319.5" y="417" font-size="1.38" fill="#9a9a9a" stroke="#9a9a9a" stroke-width="0.07" text-anchor="end" transform="rotate(-45 319.5 416)">Jun 21</text>
<text x="331.2" y="417" font-size="1.38" fill="#9a9a9a" stroke="#9a9a9a" stroke-width="0.07" text-anchor="end" transform="rotate(-45 331.2 416)">Jun 21</text>
<text x="342.6" y="417" font-size="1.38" fill="#9a9a9a" stroke="#9a9a9a" stroke-width="0.07" text-anchor="end" transform="rotate(-45 342.6 416)">Jun 21</text>
<text x="354.2" y="417" font-size="1.38" fill="#9a9a9a" stroke="#9a9a9a" stroke-width="0.07" text-anchor="end" transform="rotate(-45 354.2 416)">Jun 21</text>
<text x="365.5" y="417" font-size="1.38" fill="#9a9a9a" stroke="#9a9a9a" stroke-width="0.07" text-anchor="end" transform="rotate(-45 365.5 416)">Jun 21</text>
<text x="376.9" y="417" font-size="1.38" fill="#9a9a9a" stroke="#9a9a9a" stroke-width="0.07" text-anchor="end" transform="rotate(-45 376.9 416)">Jun 21</text>
<text x="310" y="400.5" font-size="1.38" fill="#8a8a8a" stroke="#8a8a8a" stroke-width="0.07" transform="rotate(-90 310 400.5)" text-anchor="middle">Visits</text>
<text x="313.5" y="412.8" font-size="1.26" fill="#9a9a9a" stroke="#9a9a9a" stroke-width="0.06" text-anchor="end">0</text>
<text x="313.5" y="403.4" font-size="1.26" fill="#9a9a9a" stroke="#9a9a9a" stroke-width="0.06" text-anchor="end">500</text>
<text x="313.5" y="394" font-size="1.26" fill="#9a9a9a" stroke="#9a9a9a" stroke-width="0.06" text-anchor="end">1000</text>
<rect x="395.9" y="380.2" width="90" height="44" fill="#cfd0d4" rx="0.9"/>
<rect x="396.1" y="379.8" width="89.6" height="43.4" fill="#dcdcdc" rx="0.8"/>
<text x="398.7" y="383.7" font-size="2.07" fill="#3a3a3a" stroke="#3a3a3a" stroke-width="0.1" font-weight="bold">Office Visit Volume Breakdown</text>
<circle cx="479.2" cy="383.1" r="0.5" fill="#e06020"/>
<text x="483.3" y="383.8" font-size="2" fill="#8a8a8a" stroke="#8a8a8a" stroke-width="0.1">⋮</text>
<path d="M442.2,394.6 A10.2,10.2 0 0 1 444.84,414.65 L443.73,410.5 A5.9,5.9 0 0 0 442.2,398.9 Z" fill="#e8560a"/>
<path d="M444.84,414.65 A10.2,10.2 0 0 1 433.37,399.7 L437.09,401.85 A5.9,5.9 0 0 0 443.73,410.5 Z" fill="#d02050"/>
<path d="M433.37,399.7 A10.2,10.2 0 0 1 442.2,394.6 L442.2,398.9 A5.9,5.9 0 0 0 437.09,401.85 Z" fill="#b03a8a"/>
<text x="428" y="400" font-size="1.49" fill="#8a8a8a" stroke="#8a8a8a" stroke-width="0.07" text-anchor="end">19 - Lakeland</text>
<text x="427" y="410.5" font-size="1.49" fill="#8a8a8a" stroke="#8a8a8a" stroke-width="0.07" text-anchor="end">29 - Northeastside</text>
<text x="455" y="400.2" font-size="1.49" fill="#8a8a8a" stroke="#8a8a8a" stroke-width="0.07" text-anchor="start">135 - Eastside</text>
<text x="447" y="417.3" font-size="1.49" fill="#8a8a8a" stroke="#8a8a8a" stroke-width="0.07" text-anchor="start">178 - Gaithersburg</text>
<text x="436" y="393.3" font-size="1.49" fill="#8a8a8a" stroke="#8a8a8a" stroke-width="0.07" text-anchor="end">56 - Southside</text>
<rect x="304" y="426.1" width="120.2" height="58.3" fill="#cfd0d4" rx="0.9"/>
<rect x="304.2" y="425.7" width="119.8" height="57.7" fill="#dcdcdc" rx="0.8"/>
<text x="306.8" y="429.6" font-size="2.07" fill="#3a3a3a" stroke="#3a3a3a" stroke-width="0.1" font-weight="bold">Payment Methods vs Encounter Types</text>
<circle cx="417.5" cy="429" r="0.5" fill="#e06020"/>
<text x="421.6" y="429.7" font-size="2" fill="#8a8a8a" stroke="#8a8a8a" stroke-width="0.1">⋮</text>
<rect x="323.8" y="445.3" width="15.7" height="4.26" fill="#b03080"/>
<rect x="340.1" y="445.3" width="15.7" height="4.26" fill="#c83080"/>
<rect x="356.4" y="445.3" width="15.7" height="4.26" fill="#d02860"/>
<rect x="372.7" y="445.3" width="15.7" height="4.26" fill="#c03080"/>
<rect x="389" y="445.3" width="15.7" height="4.26" fill="#e8600a"/>
<rect x="405.3" y="445.3" width="15.7" height="4.26" fill="#c03080"/>
<text x="321.5" y="447.9" font-size="1.2" fill="#8a8a8a" stroke="#8a8a8a" stroke-width="0.06" text-anchor="end">Payment</text>
<rect x="323.8" y="450.16" width="15.7" height="4.26" fill="#b03080"/>
<rect x="340.1" y="450.16" width="15.7" height="4.26" fill="#b83a88"/>
<rect x="356.4" y="450.16" width="15.7" height="4.26" fill="#d82860"/>
<rect x="372.7" y="450.16" width="15.7" height="4.26" fill="#c82c78"/>
<rect x="389" y="450.16" width="15.7" height="4.26" fill="#e8600a"/>
<rect x="405.3" y="450.16" width="15.7" height="4.26" fill="#c83080"/>
<text x="321.5" y="452.76" font-size="1.2" fill="#8a8a8a" stroke="#8a8a8a" stroke-width="0.06" text-anchor="end">Payment</text>
<rect x="323.8" y="455.02" width="15.7" height="4.26" fill="#b83088"/>
<rect x="340.1" y="455.02" width="15.7" height="4.26" fill="#c0308a"/>
<rect x="356.4" y="455.02" width="15.7" height="4.26" fill="#d03070"/>
<rect x="372.7" y="455.02" width="15.7" height="4.26" fill="#d02870"/>
<rect x="389" y="455.02" width="15.7" height="4.26" fill="#d02870"/>
<rect x="405.3" y="455.02" width="15.7" height="4.26" fill="#b83088"/>
<text x="321.5" y="457.62" font-size="1.2" fill="#8a8a8a" stroke="#8a8a8a" stroke-width="0.06" text-anchor="end">Exchange</text>
<rect x="323.8" y="459.88" width="15.7" height="4.26" fill="#b83a8a"/>
<rect x="340.1" y="459.88" width="15.7" height="4.26" fill="#b83a8a"/>
<rect x="356.4" y="459.88" width="15.7" height="4.26" fill="#c83078"/>
<rect x="372.7" y="459.88" width="15.7" height="4.26" fill="#c83080"/>
<rect x="389" y="459.88" width="15.7" height="4.26" fill="#c03080"/>
<rect x="405.3" y="459.88" width="15.7" height="4.26" fill="#b83a8a"/>
<text x="321.5" y="462.48" font-size="1.2" fill="#8a8a8a" stroke="#8a8a8a" stroke-width="0.06" text-anchor="end">Insurance</text>
<rect x="323.8" y="464.74" width="15.7" height="4.26" fill="#c0308a"/>
<rect x="340.1" y="464.74" width="15.7" height="4.26" fill="#c0308a"/>
<rect x="356.4" y="464.74" width="15.7" height="4.26" fill="#c83080"/>
<rect x="372.7" y="464.74" width="15.7" height="4.26" fill="#c83080"/>
<rect x="389" y="464.74" width="15.7" height="4.26" fill="#c83080"/>
<rect x="405.3" y="464.74" width="15.7" height="4.26" fill="#c83088"/>
<text x="321.5" y="467.34" font-size="1.2" fill="#8a8a8a" stroke="#8a8a8a" stroke-width="0.06" text-anchor="end">Medicare</text>
<text x="331.6" y="472.5" font-size="1.26" fill="#8a8a8a" stroke="#8a8a8a" stroke-width="0.06" text-anchor="middle">Visit Center</text>
<text x="347.9" y="472.5" font-size="1.26" fill="#8a8a8a" stroke="#8a8a8a" stroke-width="0.06" text-anchor="middle">Outside</text>
<text x="364.2" y="472.5" font-size="1.26" fill="#8a8a8a" stroke="#8a8a8a" stroke-width="0.06" text-anchor="middle">Healthcare center</text>
<text x="380.5" y="472.5" font-size="1.26" fill="#8a8a8a" stroke="#8a8a8a" stroke-width="0.06" text-anchor="middle">Hospital center</text>
<text x="396.8" y="472.5" font-size="1.26" fill="#8a8a8a" stroke="#8a8a8a" stroke-width="0.06" text-anchor="middle">Lakeland</text>
<text x="413.1" y="472.5" font-size="1.26" fill="#8a8a8a" stroke="#8a8a8a" stroke-width="0.06" text-anchor="middle">North Medical Center</text>
<text x="310" y="457" font-size="1.38" fill="#8a8a8a" stroke="#8a8a8a" stroke-width="0.07" transform="rotate(-90 310 457)" text-anchor="middle">Encounter Type</text>
<text x="364" y="479.5" font-size="1.49" fill="#6a6a6a" stroke="#6a6a6a" stroke-width="0.07" text-anchor="middle">Office</text>
<defs><linearGradient id="hb9" x1="0" x2="1"><stop offset="0" stop-color="#b03080"/><stop offset="0.8" stop-color="#d82860"/><stop offset="1" stop-color="#e8600a"/></linearGradient></defs>
<rect x="379" y="434.4" width="42" height="1.3" fill="url(#hb9)"/>
<rect x="426.3" y="426.1" width="59.6" height="58.3" fill="#cfd0d4" rx="0.9"/>
<rect x="426.5" y="425.7" width="59.2" height="57.7" fill="#dcdcdc" rx="0.8"/>
<text x="429.1" y="429.6" font-size="2.07" fill="#3a3a3a" stroke="#3a3a3a" stroke-width="0.1" font-weight="bold">Revenue By Office</text>
<circle cx="479.2" cy="429" r="0.5" fill="#e06020"/>
<text x="483.3" y="429.7" font-size="2" fill="#8a8a8a" stroke="#8a8a8a" stroke-width="0.1">⋮</text>
<rect x="428.8" y="433.2" width="54.6" height="48.5" fill="#c9c9c9"/>
<path d="M440,433 C446,445 441,455 444,466 C446,474 443,478 441,482 L448,482 C449,472 452,460 450,450 C449,442 452,437 456,433 Z" fill="#b0b0b0"/>
<path d="M465,433 C462,445 466,455 462,466 L458,482 L462,482 C467,468 470,455 470,445 C471,440 470,437 472,433 Z" fill="#b2b2b2"/>
<line x1="430" y1="445" x2="483" y2="440" stroke="#d6d6d6" stroke-width="0.4"/>
<line x1="430" y1="458" x2="483" y2="452" stroke="#d6d6d6" stroke-width="0.4"/>
<line x1="432" y1="470" x2="480" y2="476" stroke="#d6d6d6" stroke-width="0.4"/>
<line x1="452" y1="433" x2="460" y2="482" stroke="#d6d6d6" stroke-width="0.4"/>
<line x1="436" y1="433" x2="446" y2="482" stroke="#d6d6d6" stroke-width="0.4"/>
<text x="440" y="470" font-size="2.07" fill="#7a7a7a" stroke="#7a7a7a" stroke-width="0.1">New York</text>
<text x="463" y="470.5" font-size="1.84" fill="#8a8a8a" stroke="#8a8a8a" stroke-width="0.09">Brooklyn</text>
<circle cx="470.8" cy="436.4" r="2.9" fill="#e8560a"/>
<circle cx="457" cy="448.3" r="0.9" fill="#e8560a"/>
<circle cx="455.3" cy="451" r="0.9" fill="#e8560a"/>
<circle cx="446.5" cy="472.5" r="0.9" fill="#e8560a"/>
<circle cx="446.5" cy="474.5" r="0.9" fill="#e8560a"/>
<circle cx="444.5" cy="477.6" r="0.9" fill="#e8560a"/>
<circle cx="455" cy="453" r="0.9" fill="#e8560a"/>
</g>
<clipPath id="cp10"><rect x="788.2" y="376.9" width="240" height="148.3" rx="3.5"/></clipPath>
<g clip-path="url(#cp10)">
<rect x="788.2" y="376.9" width="240" height="148.3" fill="#d3d3d3"/>
<rect x="788.2" y="376.9" width="240" height="10.7" fill="#dadada"/>
<rect x="795" y="379.4" width="10" height="5.9" fill="#383838"/>
<text x="800" y="383.4" font-size="2.4" fill="#f0f0f0" stroke="#f0f0f0" stroke-width="0.12" font-weight="bold" text-anchor="middle">DPC</text>
<rect x="805" y="379.4" width="19.8" height="5.9" fill="#c8333a"/>
<text x="814.9" y="383.4" font-size="2.3" fill="#f4d0d0" stroke="#f4d0d0" stroke-width="0.12" text-anchor="middle" textLength="17" lengthAdjust="spacingAndGlyphs">SOLUTIONS</text>
<rect x="1014.3" y="380.85" width="3.2" height="0.6" fill="#666"/>
<rect x="1014.3" y="381.9" width="3.2" height="0.6" fill="#666"/>
<rect x="1014.3" y="382.95" width="3.2" height="0.6" fill="#666"/>
<text x="794.7" y="403.6" font-size="5.4" fill="#c84848" font-weight="bold" textLength="51" lengthAdjust="spacingAndGlyphs">Devices Comparative</text>
<text x="794.7" y="414.4" font-size="2.4" fill="#2a2a2a" stroke="#2a2a2a" stroke-width="0.12" font-weight="bold" textLength="13.5" lengthAdjust="spacingAndGlyphs">OVERVIEW</text>
<text x="794.7" y="423.1" font-size="2.35" fill="#6e6e6e" stroke="#6e6e6e" stroke-width="0.12" textLength="56.8" lengthAdjust="spacingAndGlyphs" >treatment was drawn and the average waiting time in</text>
<text x="794.7" y="427.47" font-size="2.35" fill="#6e6e6e" stroke="#6e6e6e" stroke-width="0.12" textLength="56.8" lengthAdjust="spacingAndGlyphs" >emergency rooms Such a holistic view helps identify potential</text>
<text x="794.7" y="431.84" font-size="2.35" fill="#6e6e6e" stroke="#6e6e6e" stroke-width="0.12" textLength="56.8" lengthAdjust="spacingAndGlyphs" >bottlenecks and allocate resources where they are needed most</text>
<text x="794.7" y="436.21" font-size="2.35" fill="#6e6e6e" stroke="#6e6e6e" stroke-width="0.12" textLength="14.2" lengthAdjust="spacingAndGlyphs" >in order to</text>
<text x="794.7" y="444.6" font-size="2.35" fill="#6e6e6e" stroke="#6e6e6e" stroke-width="0.12" textLength="56.8" lengthAdjust="spacingAndGlyphs" >view helps identify potential bottlenecks and allocate resources</text>
<text x="794.7" y="448.97" font-size="2.35" fill="#6e6e6e" stroke="#6e6e6e" stroke-width="0.12" textLength="56.8" lengthAdjust="spacingAndGlyphs" >where they are needed most in order to make better informed</text>
<text x="794.7" y="453.34" font-size="2.35" fill="#6e6e6e" stroke="#6e6e6e" stroke-width="0.12" textLength="14.2" lengthAdjust="spacingAndGlyphs" >decisions that</text>
<text x="794.7" y="462" font-size="2.3" fill="#2a2a2a" stroke="#2a2a2a" stroke-width="0.12" font-weight="bold">GOALS:</text>
<text x="794.7" y="466.6" font-size="2.35" fill="#6e6e6e" stroke="#6e6e6e" stroke-width="0.12" textLength="57.5" lengthAdjust="spacingAndGlyphs" >allocate resources where they are needed most in order to make</text>
<text x="794.7" y="470.9" font-size="2.35" fill="#6e6e6e" stroke="#6e6e6e" stroke-width="0.12" textLength="56.92" lengthAdjust="spacingAndGlyphs" >better informed decisions that will improve the overall</text>
<text x="794.7" y="480.4" font-size="2.3" fill="#2a2a2a" stroke="#2a2a2a" stroke-width="0.12" font-weight="bold">OBJECTIVES:</text>
<text x="800.7" y="487.9" font-size="2.3" fill="#707070" stroke="#707070" stroke-width="0.12" textLength="28.02" lengthAdjust="spacingAndGlyphs">Analyze device behavior to find</text>
<text x="800.7" y="492.1" font-size="2.3" fill="#707070" stroke="#707070" stroke-width="0.12" textLength="12.11" lengthAdjust="spacingAndGlyphs">inefficiencies.</text>
<text x="800.7" y="500.6" font-size="2.3" fill="#707070" stroke="#707070" stroke-width="0.12" textLength="29.03" lengthAdjust="spacingAndGlyphs">See which devices are unstable.</text>
<text x="800.7" y="509.1" font-size="2.3" fill="#707070" stroke="#707070" stroke-width="0.12" textLength="30.94" lengthAdjust="spacingAndGlyphs">Stop devices if unexpected energy</text>
<text x="800.7" y="513.4" font-size="2.3" fill="#707070" stroke="#707070" stroke-width="0.12" textLength="22.39" lengthAdjust="spacingAndGlyphs">consumption is detected.</text>
<text x="795.3" y="487.9" font-size="1.84" fill="#555" stroke="#555" stroke-width="0.09">▲</text>
<text x="795.3" y="500.6" font-size="1.84" fill="#555" stroke="#555" stroke-width="0.09">▼</text>
<text x="795.3" y="509.1" font-size="1.84" fill="#555" stroke="#555" stroke-width="0.09">▼</text>
<rect x="858.8" y="399.1" width="66.8" height="55.2" fill="#dadada" rx="0.6"/>
<text x="861.5" y="402.4" font-size="1.95" fill="#3a5a8a" stroke="#3a5a8a" stroke-width="0.1" font-weight="bold">Average Power By Device</text>
<path d="M888.2,411.2 A15.7,15.7 0 0 1 903.66,429.63 L896.77,428.41 A8.7,8.7 0 0 0 888.2,418.2 Z" fill="#b20f14"/>
<path d="M903.66,429.63 A15.7,15.7 0 0 1 873.45,432.27 L880.02,429.88 A8.7,8.7 0 0 0 896.77,428.41 Z" fill="#cc4a4c"/>
<path d="M873.45,432.27 A15.7,15.7 0 0 1 888.2,411.2 L888.2,418.2 A8.7,8.7 0 0 0 880.02,429.88 Z" fill="#741214"/>
<line x1="888.2" y1="418.2" x2="888.2" y2="411.2" stroke="#dadada" stroke-width="0.3"/>
<line x1="896.77" y1="428.41" x2="903.66" y2="429.63" stroke="#dadada" stroke-width="0.3"/>
<line x1="880.02" y1="429.88" x2="873.45" y2="432.27" stroke="#dadada" stroke-width="0.3"/>
<text x="864" y="409.8" font-size="1.49" fill="#8a8a8a" stroke="#8a8a8a" stroke-width="0.07">Device A</text>
<text x="864" y="412.1" font-size="1.49" fill="#8a8a8a" stroke="#8a8a8a" stroke-width="0.07">1,112.32 W</text>
<text x="903.8" y="409.8" font-size="1.49" fill="#8a8a8a" stroke="#8a8a8a" stroke-width="0.07">Device C</text>
<text x="903.8" y="412.1" font-size="1.49" fill="#8a8a8a" stroke="#8a8a8a" stroke-width="0.07">1,382.14 W</text>
<text x="864" y="443.2" font-size="1.49" fill="#8a8a8a" stroke="#8a8a8a" stroke-width="0.07">Device B</text>
<text x="864" y="445.5" font-size="1.49" fill="#8a8a8a" stroke="#8a8a8a" stroke-width="0.07">1,235.54 W</text>
<circle cx="910.6" cy="434.2" r="1" fill="#741214"/>
<text x="913.5" y="434.9" font-size="1.84" fill="#8a8a8a" stroke="#8a8a8a" stroke-width="0.09">37%</text>
<circle cx="910.6" cy="441" r="1" fill="#b20f14"/>
<text x="913.5" y="441.7" font-size="1.84" fill="#8a8a8a" stroke="#8a8a8a" stroke-width="0.09">28%</text>
<circle cx="910.6" cy="447.8" r="1" fill="#cc4a4c"/>
<text x="913.5" y="448.5" font-size="1.84" fill="#8a8a8a" stroke="#8a8a8a" stroke-width="0.09">42%</text>
<rect x="927.3" y="399.1" width="90.5" height="55.2" fill="#dadada" rx="0.6"/>
<text x="930.5" y="402.4" font-size="1.95" fill="#3a5a8a" stroke="#3a5a8a" stroke-width="0.1" font-weight="bold">Energy Consumption in 1.5hrs</text>
<circle cx="978.5" cy="407.3" r="0.7" fill="#b20f14"/>
<text x="980" y="407.8" font-size="1.49" fill="#8a8a8a" stroke="#8a8a8a" stroke-width="0.07">Device A</text>
<circle cx="989.8" cy="407.3" r="0.7" fill="#741214"/>
<text x="980" y="407.8" font-size="1.49" fill="#8a8a8a" stroke="#8a8a8a" stroke-width="0.07">Device B</text>
<circle cx="1001.1" cy="407.3" r="0.7" fill="#d86060"/>
<text x="980" y="407.8" font-size="1.49" fill="#8a8a8a" stroke="#8a8a8a" stroke-width="0.07">Device C</text>
<line x1="936" y1="448" x2="1013" y2="448" stroke="#cfcfcf" stroke-width="0.2"/>
<text x="934.5" y="448.4" font-size="1.2" fill="#8a8a8a" stroke="#8a8a8a" stroke-width="0.06" text-anchor="end">0</text>
<line x1="936" y1="438.75" x2="1013" y2="438.75" stroke="#cfcfcf" stroke-width="0.2"/>
<text x="934.5" y="439.15" font-size="1.2" fill="#8a8a8a" stroke="#8a8a8a" stroke-width="0.06" text-anchor="end">1k</text>
<line x1="936" y1="429.5" x2="1013" y2="429.5" stroke="#cfcfcf" stroke-width="0.2"/>
<text x="934.5" y="429.9" font-size="1.2" fill="#8a8a8a" stroke="#8a8a8a" stroke-width="0.06" text-anchor="end">2k</text>
<line x1="936" y1="420.25" x2="1013" y2="420.25" stroke="#cfcfcf" stroke-width="0.2"/>
<text x="934.5" y="420.65" font-size="1.2" fill="#8a8a8a" stroke="#8a8a8a" stroke-width="0.06" text-anchor="end">3k</text>
<line x1="936" y1="411" x2="1013" y2="411" stroke="#cfcfcf" stroke-width="0.2"/>
<text x="934.5" y="411.4" font-size="1.2" fill="#8a8a8a" stroke="#8a8a8a" stroke-width="0.06" text-anchor="end">4k</text>
<rect x="940.05" y="413.5" width="1.9" height="12.5" fill="#d86060" rx="0.4"/>
<rect x="940.05" y="426" width="1.9" height="12.9" fill="#7a2020"/>
<rect x="940.05" y="438.9" width="1.9" height="9.1" fill="#d04848"/>
<text x="941" y="450.6" font-size="1.15" fill="#9a9a9a" stroke="#9a9a9a" stroke-width="0.06" text-anchor="middle">00:00</text>
<rect x="945.65" y="413.5" width="1.9" height="11" fill="#d86060" rx="0.4"/>
<rect x="945.65" y="424.5" width="1.9" height="15" fill="#7a2020"/>
<rect x="945.65" y="439.5" width="1.9" height="8.5" fill="#d04848"/>
<text x="946.6" y="450.6" font-size="1.15" fill="#9a9a9a" stroke="#9a9a9a" stroke-width="0.06" text-anchor="middle">00:00</text>
<rect x="951.45" y="412.5" width="1.9" height="13" fill="#d86060" rx="0.4"/>
<rect x="951.45" y="425.5" width="1.9" height="13.4" fill="#7a2020"/>
<rect x="951.45" y="438.9" width="1.9" height="9.1" fill="#d04848"/>
<text x="952.4" y="450.6" font-size="1.15" fill="#9a9a9a" stroke="#9a9a9a" stroke-width="0.06" text-anchor="middle">00:00</text>
<rect x="957.15" y="415" width="1.9" height="11" fill="#d86060" rx="0.4"/>
<rect x="957.15" y="426" width="1.9" height="12.3" fill="#7a2020"/>
<rect x="957.15" y="438.3" width="1.9" height="9.7" fill="#d04848"/>
<text x="958.1" y="450.6" font-size="1.15" fill="#9a9a9a" stroke="#9a9a9a" stroke-width="0.06" text-anchor="middle">00:00</text>
<rect x="962.95" y="413.2" width="1.9" height="11.3" fill="#d86060" rx="0.4"/>
<rect x="962.95" y="424.5" width="1.9" height="15" fill="#7a2020"/>
<rect x="962.95" y="439.5" width="1.9" height="8.5" fill="#d04848"/>
<text x="963.9" y="450.6" font-size="1.15" fill="#9a9a9a" stroke="#9a9a9a" stroke-width="0.06" text-anchor="middle">00:00</text>
<rect x="968.55" y="413.5" width="1.9" height="13" fill="#d86060" rx="0.4"/>
<rect x="968.55" y="426.5" width="1.9" height="12.4" fill="#7a2020"/>
<rect x="968.55" y="438.9" width="1.9" height="9.1" fill="#d04848"/>
<text x="969.5" y="450.6" font-size="1.15" fill="#9a9a9a" stroke="#9a9a9a" stroke-width="0.06" text-anchor="middle">00:00</text>
<rect x="974.35" y="415" width="1.9" height="9.5" fill="#d86060" rx="0.4"/>
<rect x="974.35" y="424.5" width="1.9" height="15" fill="#7a2020"/>
<rect x="974.35" y="439.5" width="1.9" height="8.5" fill="#d04848"/>
<text x="975.3" y="450.6" font-size="1.15" fill="#9a9a9a" stroke="#9a9a9a" stroke-width="0.06" text-anchor="middle">00:00</text>
<rect x="980.05" y="413.5" width="1.9" height="11" fill="#d86060" rx="0.4"/>
<rect x="980.05" y="424.5" width="1.9" height="14.4" fill="#7a2020"/>
<rect x="980.05" y="438.9" width="1.9" height="9.1" fill="#d04848"/>
<text x="981" y="450.6" font-size="1.15" fill="#9a9a9a" stroke="#9a9a9a" stroke-width="0.06" text-anchor="middle">00:00</text>
<rect x="985.85" y="416" width="1.9" height="10.5" fill="#d86060" rx="0.4"/>
<rect x="985.85" y="426.5" width="1.9" height="13" fill="#7a2020"/>
<rect x="985.85" y="439.5" width="1.9" height="8.5" fill="#d04848"/>
<text x="986.8" y="450.6" font-size="1.15" fill="#9a9a9a" stroke="#9a9a9a" stroke-width="0.06" text-anchor="middle">00:00</text>
<rect x="991.45" y="412" width="1.9" height="12.5" fill="#d86060" rx="0.4"/>
<rect x="991.45" y="424.5" width="1.9" height="13.8" fill="#7a2020"/>
<rect x="991.45" y="438.3" width="1.9" height="9.7" fill="#d04848"/>
<text x="992.4" y="450.6" font-size="1.15" fill="#9a9a9a" stroke="#9a9a9a" stroke-width="0.06" text-anchor="middle">00:00</text>
<rect x="997.25" y="414" width="1.9" height="10.5" fill="#d86060" rx="0.4"/>
<rect x="997.25" y="424.5" width="1.9" height="14.4" fill="#7a2020"/>
<rect x="997.25" y="438.9" width="1.9" height="9.1" fill="#d04848"/>
<text x="998.2" y="450.6" font-size="1.15" fill="#9a9a9a" stroke="#9a9a9a" stroke-width="0.06" text-anchor="middle">00:00</text>
<rect x="1002.85" y="412.5" width="1.9" height="11" fill="#d86060" rx="0.4"/>
<rect x="1002.85" y="423.5" width="1.9" height="16" fill="#7a2020"/>
<rect x="1002.85" y="439.5" width="1.9" height="8.5" fill="#d04848"/>
<text x="1003.8" y="450.6" font-size="1.15" fill="#9a9a9a" stroke="#9a9a9a" stroke-width="0.06" text-anchor="middle">00:00</text>
<rect x="1008.65" y="413.5" width="1.9" height="11" fill="#d86060" rx="0.4"/>
<rect x="1008.65" y="424.5" width="1.9" height="14.4" fill="#7a2020"/>
<rect x="1008.65" y="438.9" width="1.9" height="9.1" fill="#d04848"/>
<text x="1009.6" y="450.6" font-size="1.15" fill="#9a9a9a" stroke="#9a9a9a" stroke-width="0.06" text-anchor="middle">00:00</text>
<rect x="858.8" y="461" width="159" height="57.4" fill="#dadada" rx="0.6"/>
<text x="861.5" y="464.3" font-size="1.95" fill="#3a5a8a" stroke="#3a5a8a" stroke-width="0.1" font-weight="bold">Hourly Readings By Device</text>
<line x1="858.8" y1="466.8" x2="1017.8" y2="466.8" stroke="#cfcfcf" stroke-width="0.3"/>
<line x1="912.4" y1="467" x2="912.4" y2="518" stroke="#cfcfcf" stroke-width="0.3"/>
<line x1="964.3" y1="467" x2="964.3" y2="518" stroke="#cfcfcf" stroke-width="0.3"/>
<text x="862.1" y="470.8" font-size="2.07" fill="#3a5a8a" stroke="#3a5a8a" stroke-width="0.1" font-weight="bold">Device A</text>
<text x="872.7" y="477.3" font-size="1.49" fill="#6a6a6a" stroke="#6a6a6a" stroke-width="0.07" text-anchor="middle">Voltage</text>
<text x="872.7" y="480.2" font-size="1.49" fill="#8a8a8a" stroke="#8a8a8a" stroke-width="0.07" text-anchor="middle">118.9 V</text>
<text x="890.6" y="477.3" font-size="1.49" fill="#6a6a6a" stroke="#6a6a6a" stroke-width="0.07" text-anchor="middle">Frequency</text>
<text x="890.6" y="480.2" font-size="1.49" fill="#8a8a8a" stroke="#8a8a8a" stroke-width="0.07" text-anchor="middle">60.00 Hz</text>
<rect x="867.7" y="485" width="10" height="28.1" fill="none" stroke="#cccccc" stroke-width="0.2"/>
<text x="866.2" y="485.4" font-size="1.15" fill="#9a9a9a" stroke="#9a9a9a" stroke-width="0.06" text-anchor="end">240</text>
<text x="866.2" y="490.08" font-size="1.15" fill="#9a9a9a" stroke="#9a9a9a" stroke-width="0.06" text-anchor="end">200</text>
<text x="866.2" y="494.76" font-size="1.15" fill="#9a9a9a" stroke="#9a9a9a" stroke-width="0.06" text-anchor="end">160</text>
<text x="866.2" y="499.44" font-size="1.15" fill="#9a9a9a" stroke="#9a9a9a" stroke-width="0.06" text-anchor="end">120</text>
<text x="866.2" y="504.12" font-size="1.15" fill="#9a9a9a" stroke="#9a9a9a" stroke-width="0.06" text-anchor="end">80</text>
<text x="866.2" y="508.8" font-size="1.15" fill="#9a9a9a" stroke="#9a9a9a" stroke-width="0.06" text-anchor="end">40</text>
<text x="866.2" y="513.48" font-size="1.15" fill="#9a9a9a" stroke="#9a9a9a" stroke-width="0.06" text-anchor="end">0</text>
<rect x="871.95" y="498.5" width="1.5" height="14.6" fill="#3ab85a" rx="0.3"/>
<rect x="885.6" y="485" width="10" height="28.1" fill="none" stroke="#cccccc" stroke-width="0.2"/>
<text x="884.1" y="485.4" font-size="1.15" fill="#9a9a9a" stroke="#9a9a9a" stroke-width="0.06" text-anchor="end">240</text>
<text x="884.1" y="490.08" font-size="1.15" fill="#9a9a9a" stroke="#9a9a9a" stroke-width="0.06" text-anchor="end">200</text>
<text x="884.1" y="494.76" font-size="1.15" fill="#9a9a9a" stroke="#9a9a9a" stroke-width="0.06" text-anchor="end">160</text>
<text x="884.1" y="499.44" font-size="1.15" fill="#9a9a9a" stroke="#9a9a9a" stroke-width="0.06" text-anchor="end">120</text>
<text x="884.1" y="504.12" font-size="1.15" fill="#9a9a9a" stroke="#9a9a9a" stroke-width="0.06" text-anchor="end">80</text>
<text x="884.1" y="508.8" font-size="1.15" fill="#9a9a9a" stroke="#9a9a9a" stroke-width="0.06" text-anchor="end">40</text>
<text x="884.1" y="513.48" font-size="1.15" fill="#9a9a9a" stroke="#9a9a9a" stroke-width="0.06" text-anchor="end">0</text>
<rect x="889.85" y="489.1" width="1.5" height="24" fill="#3a88c8" rx="0.3"/>
<text x="904.1" y="479.9" font-size="1.49" fill="#6a6a6a" stroke="#6a6a6a" stroke-width="0.07" text-anchor="middle">Power</text>
<circle cx="904.1" cy="487.2" r="5.2" fill="none" stroke="#cfcfcf" stroke-width="0.9"/>
<path d="M904.1,482 A5.2,5.2 0 1 1 898.99,488.17" fill="none" stroke="#d060d0" stroke-width="1"/>
<text x="904.1" y="487.7" font-size="1.38" fill="#9a9a9a" stroke="#9a9a9a" stroke-width="0.07" text-anchor="middle">1,000</text>
<text x="904.1" y="501.1" font-size="1.49" fill="#6a6a6a" stroke="#6a6a6a" stroke-width="0.07" text-anchor="middle">Current</text>
<circle cx="904.1" cy="508.4" r="5.2" fill="none" stroke="#cfcfcf" stroke-width="0.9"/>
<path d="M904.1,503.2 A5.2,5.2 0 0 1 909.05,510.01" fill="none" stroke="#e8a050" stroke-width="1"/>
<text x="904.1" y="508.9" font-size="1.38" fill="#9a9a9a" stroke="#9a9a9a" stroke-width="0.07" text-anchor="middle">1,000</text>
<text x="914.6" y="470.8" font-size="2.07" fill="#3a5a8a" stroke="#3a5a8a" stroke-width="0.1" font-weight="bold">Device B</text>
<text x="925.1" y="477.3" font-size="1.49" fill="#6a6a6a" stroke="#6a6a6a" stroke-width="0.07" text-anchor="middle">Voltage</text>
<text x="925.1" y="480.2" font-size="1.49" fill="#8a8a8a" stroke="#8a8a8a" stroke-width="0.07" text-anchor="middle">108.15 V</text>
<text x="943.1" y="477.3" font-size="1.49" fill="#6a6a6a" stroke="#6a6a6a" stroke-width="0.07" text-anchor="middle">Frequency</text>
<text x="943.1" y="480.2" font-size="1.49" fill="#8a8a8a" stroke="#8a8a8a" stroke-width="0.07" text-anchor="middle">59.53 Hz</text>
<rect x="920.1" y="485" width="10" height="28.1" fill="none" stroke="#cccccc" stroke-width="0.2"/>
<text x="918.6" y="485.4" font-size="1.15" fill="#9a9a9a" stroke="#9a9a9a" stroke-width="0.06" text-anchor="end">240</text>
<text x="918.6" y="490.08" font-size="1.15" fill="#9a9a9a" stroke="#9a9a9a" stroke-width="0.06" text-anchor="end">200</text>
<text x="918.6" y="494.76" font-size="1.15" fill="#9a9a9a" stroke="#9a9a9a" stroke-width="0.06" text-anchor="end">160</text>
<text x="918.6" y="499.44" font-size="1.15" fill="#9a9a9a" stroke="#9a9a9a" stroke-width="0.06" text-anchor="end">120</text>
<text x="918.6" y="504.12" font-size="1.15" fill="#9a9a9a" stroke="#9a9a9a" stroke-width="0.06" text-anchor="end">80</text>
<text x="918.6" y="508.8" font-size="1.15" fill="#9a9a9a" stroke="#9a9a9a" stroke-width="0.06" text-anchor="end">40</text>
<text x="918.6" y="513.48" font-size="1.15" fill="#9a9a9a" stroke="#9a9a9a" stroke-width="0.06" text-anchor="end">0</text>
<rect x="924.35" y="495.7" width="1.5" height="17.4" fill="#3ab85a" rx="0.3"/>
<rect x="938.1" y="485" width="10" height="28.1" fill="none" stroke="#cccccc" stroke-width="0.2"/>
<text x="936.6" y="485.4" font-size="1.15" fill="#9a9a9a" stroke="#9a9a9a" stroke-width="0.06" text-anchor="end">240</text>
<text x="936.6" y="490.08" font-size="1.15" fill="#9a9a9a" stroke="#9a9a9a" stroke-width="0.06" text-anchor="end">200</text>
<text x="936.6" y="494.76" font-size="1.15" fill="#9a9a9a" stroke="#9a9a9a" stroke-width="0.06" text-anchor="end">160</text>
<text x="936.6" y="499.44" font-size="1.15" fill="#9a9a9a" stroke="#9a9a9a" stroke-width="0.06" text-anchor="end">120</text>
<text x="936.6" y="504.12" font-size="1.15" fill="#9a9a9a" stroke="#9a9a9a" stroke-width="0.06" text-anchor="end">80</text>
<text x="936.6" y="508.8" font-size="1.15" fill="#9a9a9a" stroke="#9a9a9a" stroke-width="0.06" text-anchor="end">40</text>
<text x="936.6" y="513.48" font-size="1.15" fill="#9a9a9a" stroke="#9a9a9a" stroke-width="0.06" text-anchor="end">0</text>
<rect x="942.35" y="491.6" width="1.5" height="21.5" fill="#3a88c8" rx="0.3"/>
<text x="956.5" y="479.9" font-size="1.49" fill="#6a6a6a" stroke="#6a6a6a" stroke-width="0.07" text-anchor="middle">Power</text>
<circle cx="956.5" cy="487.2" r="5.2" fill="none" stroke="#cfcfcf" stroke-width="0.9"/>
<path d="M956.5,482 A5.2,5.2 0 1 1 953.44,482.99" fill="none" stroke="#d060d0" stroke-width="1"/>
<text x="956.5" y="487.7" font-size="1.38" fill="#9a9a9a" stroke="#9a9a9a" stroke-width="0.07" text-anchor="middle">1,000</text>
<text x="956.5" y="501.1" font-size="1.49" fill="#6a6a6a" stroke="#6a6a6a" stroke-width="0.07" text-anchor="middle">Current</text>
<circle cx="956.5" cy="508.4" r="5.2" fill="none" stroke="#cfcfcf" stroke-width="0.9"/>
<path d="M956.5,503.2 A5.2,5.2 0 0 1 961.61,509.37" fill="none" stroke="#e8a050" stroke-width="1"/>
<text x="956.5" y="508.9" font-size="1.38" fill="#9a9a9a" stroke="#9a9a9a" stroke-width="0.07" text-anchor="middle">1,000</text>
<text x="967.5" y="470.8" font-size="2.07" fill="#3a5a8a" stroke="#3a5a8a" stroke-width="0.1" font-weight="bold">Device C</text>
<text x="978.1" y="477.3" font-size="1.49" fill="#6a6a6a" stroke="#6a6a6a" stroke-width="0.07" text-anchor="middle">Voltage</text>
<text x="978.1" y="480.2" font-size="1.49" fill="#8a8a8a" stroke="#8a8a8a" stroke-width="0.07" text-anchor="middle">209.12 V</text>
<text x="996" y="477.3" font-size="1.49" fill="#6a6a6a" stroke="#6a6a6a" stroke-width="0.07" text-anchor="middle">Frequency</text>
<text x="996" y="480.2" font-size="1.49" fill="#8a8a8a" stroke="#8a8a8a" stroke-width="0.07" text-anchor="middle">58.75 Hz</text>
<rect x="973.1" y="485" width="10" height="28.1" fill="none" stroke="#cccccc" stroke-width="0.2"/>
<text x="971.6" y="485.4" font-size="1.15" fill="#9a9a9a" stroke="#9a9a9a" stroke-width="0.06" text-anchor="end">240</text>
<text x="971.6" y="490.08" font-size="1.15" fill="#9a9a9a" stroke="#9a9a9a" stroke-width="0.06" text-anchor="end">200</text>
<text x="971.6" y="494.76" font-size="1.15" fill="#9a9a9a" stroke="#9a9a9a" stroke-width="0.06" text-anchor="end">160</text>
<text x="971.6" y="499.44" font-size="1.15" fill="#9a9a9a" stroke="#9a9a9a" stroke-width="0.06" text-anchor="end">120</text>
<text x="971.6" y="504.12" font-size="1.15" fill="#9a9a9a" stroke="#9a9a9a" stroke-width="0.06" text-anchor="end">80</text>
<text x="971.6" y="508.8" font-size="1.15" fill="#9a9a9a" stroke="#9a9a9a" stroke-width="0.06" text-anchor="end">40</text>
<text x="971.6" y="513.48" font-size="1.15" fill="#9a9a9a" stroke="#9a9a9a" stroke-width="0.06" text-anchor="end">0</text>
<rect x="977.35" y="490.2" width="1.5" height="22.9" fill="#3ab85a" rx="0.3"/>
<rect x="991" y="485" width="10" height="28.1" fill="none" stroke="#cccccc" stroke-width="0.2"/>
<text x="989.5" y="485.4" font-size="1.15" fill="#9a9a9a" stroke="#9a9a9a" stroke-width="0.06" text-anchor="end">240</text>
<text x="989.5" y="490.08" font-size="1.15" fill="#9a9a9a" stroke="#9a9a9a" stroke-width="0.06" text-anchor="end">200</text>
<text x="989.5" y="494.76" font-size="1.15" fill="#9a9a9a" stroke="#9a9a9a" stroke-width="0.06" text-anchor="end">160</text>
<text x="989.5" y="499.44" font-size="1.15" fill="#9a9a9a" stroke="#9a9a9a" stroke-width="0.06" text-anchor="end">120</text>
<text x="989.5" y="504.12" font-size="1.15" fill="#9a9a9a" stroke="#9a9a9a" stroke-width="0.06" text-anchor="end">80</text>
<text x="989.5" y="508.8" font-size="1.15" fill="#9a9a9a" stroke="#9a9a9a" stroke-width="0.06" text-anchor="end">40</text>
<text x="989.5" y="513.48" font-size="1.15" fill="#9a9a9a" stroke="#9a9a9a" stroke-width="0.06" text-anchor="end">0</text>
<rect x="995.25" y="490.2" width="1.5" height="22.9" fill="#3a88c8" rx="0.3"/>
<text x="1009.5" y="479.9" font-size="1.49" fill="#6a6a6a" stroke="#6a6a6a" stroke-width="0.07" text-anchor="middle">Power</text>
<circle cx="1009.5" cy="487.2" r="5.2" fill="none" stroke="#cfcfcf" stroke-width="0.9"/>
<path d="M1009.5,482 A5.2,5.2 0 1 1 1006.44,491.41" fill="none" stroke="#d060d0" stroke-width="1"/>
<text x="1009.5" y="487.7" font-size="1.38" fill="#9a9a9a" stroke="#9a9a9a" stroke-width="0.07" text-anchor="middle">1,000</text>
<text x="1009.5" y="501.1" font-size="1.49" fill="#6a6a6a" stroke="#6a6a6a" stroke-width="0.07" text-anchor="middle">Current</text>
<circle cx="1009.5" cy="508.4" r="5.2" fill="none" stroke="#cfcfcf" stroke-width="0.9"/>
<path d="M1009.5,503.2 A5.2,5.2 0 1 1 1005.94,512.19" fill="none" stroke="#e8a050" stroke-width="1"/>
<text x="1009.5" y="508.9" font-size="1.38" fill="#9a9a9a" stroke="#9a9a9a" stroke-width="0.07" text-anchor="middle">1,000</text>
</g>
</svg></body></html>
